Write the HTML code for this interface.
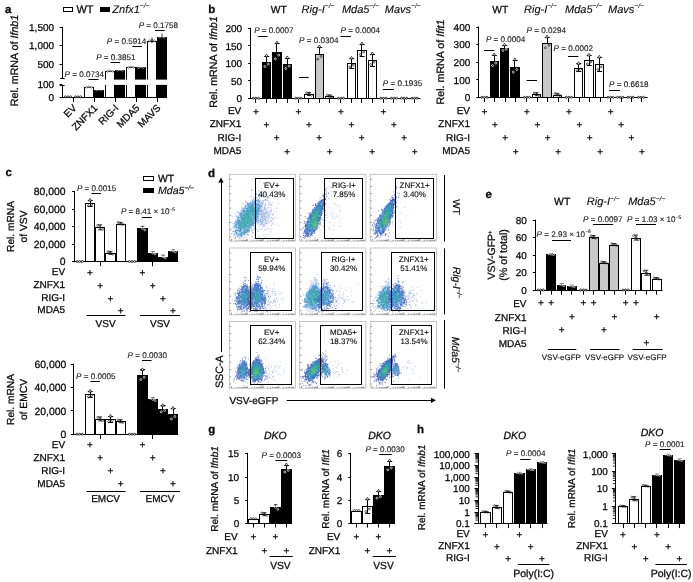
<!DOCTYPE html>
<html lang="en"><head><meta charset="utf-8"><title>Figure</title><style>html,body{margin:0;padding:0;background:#fff}svg{display:block}text{font-family:"Liberation Sans",sans-serif;text-rendering:geometricPrecision;stroke:#0a0a0a;stroke-width:0.27px}</style></head><body>
<svg width="693" height="582" viewBox="0 0 693 582" font-family="'Liberation Sans', sans-serif"><defs><filter id="bl" x="-50%" y="-50%" width="200%" height="200%"><feGaussianBlur stdDeviation="2"/></filter><filter id="bl2" x="-50%" y="-50%" width="200%" height="200%"><feGaussianBlur stdDeviation="0.9"/></filter></defs>
<text x="5.0" y="12.6" font-size="11.5" font-weight="bold" fill="#0a0a0a">a</text>
<rect x="63.5" y="7.5" width="9.0" height="4.0" fill="#fff" stroke="#000" stroke-width="1"/>
<text x="76.4" y="12.6" font-size="11" fill="#0a0a0a">WT</text>
<rect x="100.5" y="7.5" width="9.0" height="4.0" fill="#000" stroke="#000" stroke-width="1"/>
<text x="112.3" y="12.6" font-size="11" fill="#0a0a0a" style="stroke-width:0.12px"><tspan font-style="italic">Znfx1</tspan><tspan font-size="6.6" dy="-4.4" font-style="italic" style="stroke-width:0.1px">−/−</tspan></text>
<line x1="62.5" y1="26.9" x2="62.5" y2="78.2" stroke="#000" stroke-width="1"/>
<line x1="62.5" y1="85.0" x2="62.5" y2="97.5" stroke="#000" stroke-width="1"/>
<line x1="60.2" y1="78.5" x2="64.6" y2="78.5" stroke="#000" stroke-width="1"/>
<line x1="59.6" y1="85.5" x2="64.6" y2="85.5" stroke="#000" stroke-width="1"/>
<line x1="59.6" y1="27.5" x2="62.4" y2="27.5" stroke="#000" stroke-width="1"/>
<text x="54.1" y="31.0" font-size="10" text-anchor="end" fill="#0a0a0a">1,500</text>
<line x1="59.6" y1="45.5" x2="62.4" y2="45.5" stroke="#000" stroke-width="1"/>
<text x="54.1" y="49.0" font-size="10" text-anchor="end" fill="#0a0a0a">1,000</text>
<line x1="59.6" y1="64.5" x2="62.4" y2="64.5" stroke="#000" stroke-width="1"/>
<text x="54.1" y="67.8" font-size="10" text-anchor="end" fill="#0a0a0a">500</text>
<line x1="59.6" y1="84.5" x2="62.4" y2="84.5" stroke="#000" stroke-width="1"/>
<text x="54.1" y="88.2" font-size="10" text-anchor="end" fill="#0a0a0a">100</text>
<line x1="59.6" y1="97.5" x2="62.4" y2="97.5" stroke="#000" stroke-width="1"/>
<text x="54.1" y="100.6" font-size="10" text-anchor="end" fill="#0a0a0a">0</text>
<line x1="61.9" y1="97.5" x2="167.0" y2="97.5" stroke="#000" stroke-width="1"/>
<line x1="73.5" y1="97.0" x2="73.5" y2="102.0" stroke="#000" stroke-width="1"/>
<line x1="94.5" y1="97.0" x2="94.5" y2="102.0" stroke="#000" stroke-width="1"/>
<line x1="115.5" y1="97.0" x2="115.5" y2="102.0" stroke="#000" stroke-width="1"/>
<line x1="136.5" y1="97.0" x2="136.5" y2="102.0" stroke="#000" stroke-width="1"/>
<line x1="157.5" y1="97.0" x2="157.5" y2="102.0" stroke="#000" stroke-width="1"/>
<rect x="84.5" y="87.5" width="9.0" height="10.0" fill="#fff" stroke="#000" stroke-width="1.0"/>
<rect x="94.5" y="90.5" width="9.0" height="7.0" fill="#000" stroke="#000" stroke-width="1.0"/>
<rect x="105.5" y="71.5" width="9.0" height="26.0" fill="#fff" stroke="#000" stroke-width="1.0"/>
<rect x="115.5" y="70.5" width="9.0" height="27.0" fill="#000" stroke="#000" stroke-width="1.0"/>
<rect x="126.5" y="67.5" width="9.0" height="30.0" fill="#fff" stroke="#000" stroke-width="1.0"/>
<rect x="136.5" y="67.5" width="9.0" height="30.0" fill="#000" stroke="#000" stroke-width="1.0"/>
<rect x="147.5" y="41.5" width="9.0" height="56.0" fill="#fff" stroke="#000" stroke-width="1.0"/>
<rect x="157.5" y="37.5" width="9.0" height="60.0" fill="#000" stroke="#000" stroke-width="1.0"/>
<rect x="63.0" y="79.6" width="106.0" height="5.3" fill="#fff" stroke="none" stroke-width="0"/>
<circle cx="65.4" cy="96.8" r="1.0" fill="#fff" stroke="#000" stroke-width="0.75"/>
<circle cx="68.0" cy="96.8" r="1.0" fill="#fff" stroke="#000" stroke-width="0.75"/>
<circle cx="70.6" cy="96.8" r="1.0" fill="#fff" stroke="#000" stroke-width="0.75"/>
<circle cx="75.4" cy="96.8" r="1.0" fill="#fff" stroke="#000" stroke-width="0.75"/>
<circle cx="78.0" cy="96.8" r="1.0" fill="#fff" stroke="#000" stroke-width="0.75"/>
<circle cx="80.6" cy="96.8" r="1.0" fill="#fff" stroke="#000" stroke-width="0.75"/>
<circle cx="86.6" cy="87.3" r="0.9" fill="#fff" stroke="#222" stroke-width="0.5"/>
<circle cx="96.6" cy="89.8" r="0.9" fill="none" stroke="#fff" stroke-width="0.5"/>
<circle cx="89.0" cy="86.8" r="0.9" fill="#fff" stroke="#222" stroke-width="0.5"/>
<circle cx="99.0" cy="89.3" r="0.9" fill="none" stroke="#fff" stroke-width="0.5"/>
<circle cx="91.4" cy="87.3" r="0.9" fill="#fff" stroke="#222" stroke-width="0.5"/>
<circle cx="101.4" cy="89.8" r="0.9" fill="none" stroke="#fff" stroke-width="0.5"/>
<circle cx="107.6" cy="71.3" r="0.9" fill="#fff" stroke="#222" stroke-width="0.5"/>
<circle cx="117.6" cy="70.3" r="0.9" fill="none" stroke="#fff" stroke-width="0.5"/>
<circle cx="110.0" cy="70.8" r="0.9" fill="#fff" stroke="#222" stroke-width="0.5"/>
<circle cx="120.0" cy="69.8" r="0.9" fill="none" stroke="#fff" stroke-width="0.5"/>
<circle cx="112.4" cy="71.3" r="0.9" fill="#fff" stroke="#222" stroke-width="0.5"/>
<circle cx="122.4" cy="70.3" r="0.9" fill="none" stroke="#fff" stroke-width="0.5"/>
<circle cx="128.6" cy="67.3" r="0.9" fill="#fff" stroke="#222" stroke-width="0.5"/>
<circle cx="138.6" cy="67.6" r="0.9" fill="none" stroke="#fff" stroke-width="0.5"/>
<circle cx="131.0" cy="66.8" r="0.9" fill="#fff" stroke="#222" stroke-width="0.5"/>
<circle cx="141.0" cy="67.1" r="0.9" fill="none" stroke="#fff" stroke-width="0.5"/>
<circle cx="133.4" cy="67.3" r="0.9" fill="#fff" stroke="#222" stroke-width="0.5"/>
<circle cx="143.4" cy="67.6" r="0.9" fill="none" stroke="#fff" stroke-width="0.5"/>
<circle cx="149.6" cy="40.8" r="0.9" fill="#fff" stroke="#222" stroke-width="0.5"/>
<circle cx="159.6" cy="37.1" r="0.9" fill="none" stroke="#fff" stroke-width="0.5"/>
<circle cx="152.0" cy="40.3" r="0.9" fill="#fff" stroke="#222" stroke-width="0.5"/>
<circle cx="162.0" cy="36.6" r="0.9" fill="none" stroke="#fff" stroke-width="0.5"/>
<circle cx="154.4" cy="40.8" r="0.9" fill="#fff" stroke="#222" stroke-width="0.5"/>
<circle cx="164.4" cy="37.1" r="0.9" fill="none" stroke="#fff" stroke-width="0.5"/>
<line x1="152.0" y1="37.5" x2="152.0" y2="43.0" stroke="#000" stroke-width="0.8"/>
<line x1="162.0" y1="33.5" x2="162.0" y2="37.5" stroke="#000" stroke-width="0.8"/>
<text x="77.3" y="108.6" font-size="10" text-anchor="end" transform="rotate(-45 77.3 108.6)" fill="#0a0a0a">EV</text>
<text x="98.3" y="108.6" font-size="10" text-anchor="end" transform="rotate(-45 98.3 108.6)" fill="#0a0a0a">ZNFX1</text>
<text x="119.3" y="108.6" font-size="10" text-anchor="end" transform="rotate(-45 119.3 108.6)" fill="#0a0a0a">RIG-I</text>
<text x="140.3" y="108.6" font-size="10" text-anchor="end" transform="rotate(-45 140.3 108.6)" fill="#0a0a0a">MDA5</text>
<text x="161.3" y="108.6" font-size="10" text-anchor="end" transform="rotate(-45 161.3 108.6)" fill="#0a0a0a">MAVS</text>
<text x="64.6" y="77.0" font-size="8.1" fill="#1c1c1c" style="stroke-width:0.12px"><tspan font-style="italic">P</tspan> = 0.0734</text>
<line x1="88.4" y1="79.5" x2="98.5" y2="79.5" stroke="#000" stroke-width="1"/>
<text x="96.2" y="60.2" font-size="8.1" fill="#1c1c1c" style="stroke-width:0.12px"><tspan font-style="italic">P</tspan> = 0.3851</text>
<line x1="110.6" y1="62.5" x2="120.1" y2="62.5" stroke="#000" stroke-width="1"/>
<text x="106.8" y="43.6" font-size="8.1" fill="#1c1c1c" style="stroke-width:0.12px"><tspan font-style="italic">P</tspan> = 0.5914</text>
<line x1="132.4" y1="46.5" x2="142.0" y2="46.5" stroke="#000" stroke-width="1"/>
<text x="138.7" y="27.6" font-size="8.1" fill="#1c1c1c" style="stroke-width:0.12px"><tspan font-style="italic">P</tspan> = 0.1758</text>
<line x1="155.0" y1="30.5" x2="164.6" y2="30.5" stroke="#000" stroke-width="1"/>
<text x="18.1" y="60.5" font-size="10.7" text-anchor="middle" transform="rotate(-90 18.1 60.5)" fill="#0a0a0a">Rel. mRNA of <tspan font-style="italic">Ifnb1</tspan></text>
<text x="208.3" y="12.6" font-size="11.5" font-weight="bold" fill="#0a0a0a">b</text>
<line x1="250.5" y1="27.7" x2="250.5" y2="98.9" stroke="#000" stroke-width="1"/>
<line x1="248.1" y1="28.5" x2="250.6" y2="28.5" stroke="#000" stroke-width="1"/>
<text x="242.1" y="32.0" font-size="10" text-anchor="end" fill="#0a0a0a">200</text>
<line x1="248.1" y1="45.5" x2="250.6" y2="45.5" stroke="#000" stroke-width="1"/>
<text x="242.1" y="49.5" font-size="10" text-anchor="end" fill="#0a0a0a">150</text>
<line x1="248.1" y1="63.5" x2="250.6" y2="63.5" stroke="#000" stroke-width="1"/>
<text x="242.1" y="67.0" font-size="10" text-anchor="end" fill="#0a0a0a">100</text>
<line x1="248.1" y1="80.5" x2="250.6" y2="80.5" stroke="#000" stroke-width="1"/>
<text x="242.1" y="84.5" font-size="10" text-anchor="end" fill="#0a0a0a">50</text>
<line x1="248.1" y1="98.5" x2="250.6" y2="98.5" stroke="#000" stroke-width="1"/>
<text x="242.1" y="102.0" font-size="10" text-anchor="end" fill="#0a0a0a">0</text>
<line x1="250.1" y1="98.5" x2="420.5" y2="98.5" stroke="#000" stroke-width="1"/>
<line x1="255.5" y1="98.4" x2="255.5" y2="102.9" stroke="#000" stroke-width="1"/>
<line x1="266.5" y1="98.4" x2="266.5" y2="102.9" stroke="#000" stroke-width="1"/>
<line x1="276.5" y1="98.4" x2="276.5" y2="102.9" stroke="#000" stroke-width="1"/>
<line x1="287.5" y1="98.4" x2="287.5" y2="102.9" stroke="#000" stroke-width="1"/>
<line x1="298.5" y1="98.4" x2="298.5" y2="102.9" stroke="#000" stroke-width="1"/>
<line x1="308.5" y1="98.4" x2="308.5" y2="102.9" stroke="#000" stroke-width="1"/>
<line x1="319.5" y1="98.4" x2="319.5" y2="102.9" stroke="#000" stroke-width="1"/>
<line x1="329.5" y1="98.4" x2="329.5" y2="102.9" stroke="#000" stroke-width="1"/>
<line x1="340.5" y1="98.4" x2="340.5" y2="102.9" stroke="#000" stroke-width="1"/>
<line x1="351.5" y1="98.4" x2="351.5" y2="102.9" stroke="#000" stroke-width="1"/>
<line x1="361.5" y1="98.4" x2="361.5" y2="102.9" stroke="#000" stroke-width="1"/>
<line x1="372.5" y1="98.4" x2="372.5" y2="102.9" stroke="#000" stroke-width="1"/>
<line x1="383.5" y1="98.4" x2="383.5" y2="102.9" stroke="#000" stroke-width="1"/>
<line x1="393.5" y1="98.4" x2="393.5" y2="102.9" stroke="#000" stroke-width="1"/>
<line x1="404.5" y1="98.4" x2="404.5" y2="102.9" stroke="#000" stroke-width="1"/>
<line x1="414.5" y1="98.4" x2="414.5" y2="102.9" stroke="#000" stroke-width="1"/>
<circle cx="253.3" cy="98.2" r="1.0" fill="#fff" stroke="#000" stroke-width="0.75"/>
<circle cx="255.9" cy="98.2" r="1.0" fill="#fff" stroke="#000" stroke-width="0.75"/>
<circle cx="258.5" cy="98.2" r="1.0" fill="#fff" stroke="#000" stroke-width="0.75"/>
<rect x="262.5" y="62.5" width="8.0" height="36.0" fill="#000" stroke="#000" stroke-width="1.0"/>
<line x1="266.5" y1="56.0" x2="266.5" y2="62.0" stroke="#000" stroke-width="1"/>
<line x1="264.3" y1="56.5" x2="269.2" y2="56.5" stroke="#000" stroke-width="1"/>
<path d="M264.9 56.6l1.6 -2.6l1.6 2.6z" fill="#fff" stroke="#000" stroke-width="0.7"/>
<circle cx="264.9" cy="66.5" r="1.0" fill="none" stroke="#fff" stroke-width="0.7"/>
<circle cx="268.3" cy="64.1" r="1.0" fill="none" stroke="#fff" stroke-width="0.7"/>
<rect x="272.5" y="52.5" width="9.0" height="46.0" fill="#000" stroke="#000" stroke-width="1.0"/>
<line x1="276.5" y1="43.0" x2="276.5" y2="52.0" stroke="#000" stroke-width="1"/>
<line x1="274.7" y1="43.5" x2="279.6" y2="43.5" stroke="#000" stroke-width="1"/>
<path d="M275.3 43.6l1.6 -2.6l1.6 2.6z" fill="#fff" stroke="#000" stroke-width="0.7"/>
<circle cx="275.3" cy="58.8" r="1.0" fill="none" stroke="#fff" stroke-width="0.7"/>
<circle cx="278.7" cy="55.1" r="1.0" fill="none" stroke="#fff" stroke-width="0.7"/>
<rect x="283.5" y="64.5" width="8.0" height="34.0" fill="#000" stroke="#000" stroke-width="1.0"/>
<line x1="287.5" y1="58.0" x2="287.5" y2="64.0" stroke="#000" stroke-width="1"/>
<line x1="285.1" y1="58.5" x2="290.0" y2="58.5" stroke="#000" stroke-width="1"/>
<path d="M285.7 58.6l1.6 -2.6l1.6 2.6z" fill="#fff" stroke="#000" stroke-width="0.7"/>
<circle cx="285.7" cy="68.5" r="1.0" fill="none" stroke="#fff" stroke-width="0.7"/>
<circle cx="289.1" cy="66.1" r="1.0" fill="none" stroke="#fff" stroke-width="0.7"/>
<circle cx="295.8" cy="98.2" r="1.0" fill="#fff" stroke="#000" stroke-width="0.75"/>
<circle cx="298.4" cy="98.2" r="1.0" fill="#fff" stroke="#000" stroke-width="0.75"/>
<circle cx="301.0" cy="98.2" r="1.0" fill="#fff" stroke="#000" stroke-width="0.75"/>
<rect x="304.5" y="94.5" width="9.0" height="4.0" fill="#fff" stroke="#000" stroke-width="1.0"/>
<line x1="309.0" y1="92.5" x2="309.0" y2="95.5" stroke="#000" stroke-width="0.8"/>
<line x1="307.0" y1="92.5" x2="311.0" y2="92.5" stroke="#000" stroke-width="0.8"/>
<line x1="307.0" y1="95.5" x2="311.0" y2="95.5" stroke="#000" stroke-width="0.8"/>
<circle cx="306.6" cy="92.8" r="1.0" fill="none" stroke="#222" stroke-width="0.65"/>
<circle cx="309.0" cy="94.0" r="1.0" fill="none" stroke="#222" stroke-width="0.65"/>
<circle cx="311.4" cy="95.2" r="1.0" fill="none" stroke="#222" stroke-width="0.65"/>
<rect x="315.5" y="54.5" width="8.0" height="44.0" fill="#c8c8c8" stroke="#000" stroke-width="1.0"/>
<line x1="319.5" y1="47.0" x2="319.5" y2="54.0" stroke="#000" stroke-width="1"/>
<line x1="317.2" y1="47.5" x2="322.1" y2="47.5" stroke="#000" stroke-width="1"/>
<path d="M317.8 47.6l1.6 -2.6l1.6 2.6z" fill="#fff" stroke="#000" stroke-width="0.7"/>
<circle cx="317.8" cy="59.2" r="1.0" fill="none" stroke="#222" stroke-width="0.7"/>
<circle cx="321.2" cy="56.5" r="1.0" fill="none" stroke="#222" stroke-width="0.7"/>
<rect x="325.5" y="96.5" width="8.0" height="2.0" fill="#fff" stroke="#000" stroke-width="1.0"/>
<line x1="329.8" y1="95.0" x2="329.8" y2="97.0" stroke="#000" stroke-width="0.8"/>
<line x1="327.8" y1="95.0" x2="331.8" y2="95.0" stroke="#000" stroke-width="0.8"/>
<line x1="327.8" y1="97.0" x2="331.8" y2="97.0" stroke="#000" stroke-width="0.8"/>
<circle cx="327.4" cy="95.2" r="1.0" fill="none" stroke="#222" stroke-width="0.65"/>
<circle cx="329.8" cy="96.0" r="1.0" fill="none" stroke="#222" stroke-width="0.65"/>
<circle cx="332.2" cy="96.8" r="1.0" fill="none" stroke="#222" stroke-width="0.65"/>
<circle cx="338.3" cy="98.2" r="1.0" fill="#fff" stroke="#000" stroke-width="0.75"/>
<circle cx="340.9" cy="98.2" r="1.0" fill="#fff" stroke="#000" stroke-width="0.75"/>
<circle cx="343.5" cy="98.2" r="1.0" fill="#fff" stroke="#000" stroke-width="0.75"/>
<rect x="347.5" y="63.5" width="8.0" height="35.0" fill="#fff" stroke="#000" stroke-width="1.0"/>
<line x1="351.5" y1="58.3" x2="351.5" y2="68.3" stroke="#000" stroke-width="1"/>
<line x1="349.3" y1="58.5" x2="354.2" y2="58.5" stroke="#000" stroke-width="1"/>
<line x1="349.3" y1="68.5" x2="354.2" y2="68.5" stroke="#000" stroke-width="1"/>
<path d="M349.9 58.9l1.6 -2.6l1.6 2.6z" fill="#fff" stroke="#000" stroke-width="0.7"/>
<circle cx="349.9" cy="67.0" r="1.0" fill="none" stroke="#222" stroke-width="0.7"/>
<circle cx="353.3" cy="65.0" r="1.0" fill="none" stroke="#222" stroke-width="0.7"/>
<rect x="357.5" y="50.5" width="9.0" height="48.0" fill="#fff" stroke="#000" stroke-width="1.0"/>
<line x1="361.5" y1="44.0" x2="361.5" y2="56.0" stroke="#000" stroke-width="1"/>
<line x1="359.7" y1="44.5" x2="364.6" y2="44.5" stroke="#000" stroke-width="1"/>
<line x1="359.7" y1="56.5" x2="364.6" y2="56.5" stroke="#000" stroke-width="1"/>
<path d="M360.3 44.6l1.6 -2.6l1.6 2.6z" fill="#fff" stroke="#000" stroke-width="0.7"/>
<circle cx="360.3" cy="54.5" r="1.0" fill="none" stroke="#222" stroke-width="0.7"/>
<circle cx="363.7" cy="52.1" r="1.0" fill="none" stroke="#222" stroke-width="0.7"/>
<rect x="368.5" y="60.5" width="8.0" height="38.0" fill="#fff" stroke="#000" stroke-width="1.0"/>
<line x1="372.5" y1="54.0" x2="372.5" y2="66.0" stroke="#000" stroke-width="1"/>
<line x1="370.1" y1="54.5" x2="375.0" y2="54.5" stroke="#000" stroke-width="1"/>
<line x1="370.1" y1="66.5" x2="375.0" y2="66.5" stroke="#000" stroke-width="1"/>
<path d="M370.7 54.6l1.6 -2.6l1.6 2.6z" fill="#fff" stroke="#000" stroke-width="0.7"/>
<circle cx="370.7" cy="64.5" r="1.0" fill="none" stroke="#222" stroke-width="0.7"/>
<circle cx="374.1" cy="62.1" r="1.0" fill="none" stroke="#222" stroke-width="0.7"/>
<circle cx="380.8" cy="98.2" r="1.0" fill="#fff" stroke="#000" stroke-width="0.75"/>
<circle cx="383.4" cy="98.2" r="1.0" fill="#fff" stroke="#000" stroke-width="0.75"/>
<circle cx="386.0" cy="98.2" r="1.0" fill="#fff" stroke="#000" stroke-width="0.75"/>
<circle cx="391.2" cy="98.2" r="1.0" fill="#fff" stroke="#000" stroke-width="0.75"/>
<circle cx="393.8" cy="98.2" r="1.0" fill="#fff" stroke="#000" stroke-width="0.75"/>
<circle cx="396.4" cy="98.2" r="1.0" fill="#fff" stroke="#000" stroke-width="0.75"/>
<circle cx="401.6" cy="98.2" r="1.0" fill="#fff" stroke="#000" stroke-width="0.75"/>
<circle cx="404.2" cy="98.2" r="1.0" fill="#fff" stroke="#000" stroke-width="0.75"/>
<circle cx="406.8" cy="98.2" r="1.0" fill="#fff" stroke="#000" stroke-width="0.75"/>
<circle cx="412.0" cy="98.2" r="1.0" fill="#fff" stroke="#000" stroke-width="0.75"/>
<circle cx="414.6" cy="98.2" r="1.0" fill="#fff" stroke="#000" stroke-width="0.75"/>
<circle cx="417.2" cy="98.2" r="1.0" fill="#fff" stroke="#000" stroke-width="0.75"/>
<text x="241.3" y="114.1" font-size="10" text-anchor="end" fill="#0a0a0a">EV</text>
<text x="241.3" y="127.4" font-size="10" text-anchor="end" fill="#0a0a0a">ZNFX1</text>
<text x="241.3" y="140.6" font-size="10" text-anchor="end" fill="#0a0a0a">RIG-I</text>
<text x="241.3" y="153.8" font-size="10" text-anchor="end" fill="#0a0a0a">MDA5</text>
<text x="255.9" y="114.8" font-size="10" text-anchor="middle" fill="#0a0a0a">+</text>
<text x="266.3" y="128.1" font-size="10" text-anchor="middle" fill="#0a0a0a">+</text>
<text x="276.7" y="141.3" font-size="10" text-anchor="middle" fill="#0a0a0a">+</text>
<text x="287.1" y="154.5" font-size="10" text-anchor="middle" fill="#0a0a0a">+</text>
<text x="298.4" y="114.8" font-size="10" text-anchor="middle" fill="#0a0a0a">+</text>
<text x="308.8" y="128.1" font-size="10" text-anchor="middle" fill="#0a0a0a">+</text>
<text x="319.2" y="141.3" font-size="10" text-anchor="middle" fill="#0a0a0a">+</text>
<text x="329.6" y="154.5" font-size="10" text-anchor="middle" fill="#0a0a0a">+</text>
<text x="340.9" y="114.8" font-size="10" text-anchor="middle" fill="#0a0a0a">+</text>
<text x="351.3" y="128.1" font-size="10" text-anchor="middle" fill="#0a0a0a">+</text>
<text x="361.7" y="141.3" font-size="10" text-anchor="middle" fill="#0a0a0a">+</text>
<text x="372.1" y="154.5" font-size="10" text-anchor="middle" fill="#0a0a0a">+</text>
<text x="383.4" y="114.8" font-size="10" text-anchor="middle" fill="#0a0a0a">+</text>
<text x="393.8" y="128.1" font-size="10" text-anchor="middle" fill="#0a0a0a">+</text>
<text x="404.2" y="141.3" font-size="10" text-anchor="middle" fill="#0a0a0a">+</text>
<text x="414.6" y="154.5" font-size="10" text-anchor="middle" fill="#0a0a0a">+</text>
<text x="216.6" y="62.0" font-size="10.7" text-anchor="middle" transform="rotate(-90 216.6 62.0)" fill="#0a0a0a">Rel. mRNA of <tspan font-style="italic">Ifnb1</tspan></text>
<text x="270.7" y="12.6" font-size="10.3" fill="#0a0a0a">WT</text>
<text x="301.6" y="12.6" font-size="11" fill="#0a0a0a" style="stroke-width:0.12px"><tspan font-style="italic">Rig-I</tspan><tspan font-size="6.6" dy="-4.4" font-style="italic" style="stroke-width:0.1px">−/−</tspan></text>
<text x="341.9" y="12.6" font-size="11" fill="#0a0a0a" style="stroke-width:0.12px"><tspan font-style="italic">Mda5</tspan><tspan font-size="6.6" dy="-4.4" font-style="italic" style="stroke-width:0.1px">−/−</tspan></text>
<text x="384.8" y="12.6" font-size="11" fill="#0a0a0a" style="stroke-width:0.12px"><tspan font-style="italic">Mavs</tspan><tspan font-size="6.6" dy="-4.4" font-style="italic" style="stroke-width:0.1px">−/−</tspan></text>
<text x="254.2" y="32.9" font-size="8.1" fill="#1c1c1c" style="stroke-width:0.12px"><tspan font-style="italic">P</tspan> = 0.0007</text>
<line x1="258.2" y1="36.5" x2="267.5" y2="36.5" stroke="#000" stroke-width="1"/>
<text x="299.0" y="43.1" font-size="8.1" fill="#1c1c1c" style="stroke-width:0.12px"><tspan font-style="italic">P</tspan> = 0.0304</text>
<line x1="298.9" y1="77.5" x2="308.6" y2="77.5" stroke="#000" stroke-width="1"/>
<text x="340.6" y="32.9" font-size="8.1" fill="#1c1c1c" style="stroke-width:0.12px"><tspan font-style="italic">P</tspan> = 0.0004</text>
<line x1="340.6" y1="36.5" x2="351.0" y2="36.5" stroke="#000" stroke-width="1"/>
<text x="382.8" y="85.9" font-size="8.1" fill="#1c1c1c" style="stroke-width:0.12px"><tspan font-style="italic">P</tspan> = 0.1935</text>
<line x1="382.8" y1="89.5" x2="394.0" y2="89.5" stroke="#000" stroke-width="1"/>
<line x1="478.5" y1="26.5" x2="478.5" y2="98.0" stroke="#000" stroke-width="1"/>
<line x1="476.3" y1="27.5" x2="478.8" y2="27.5" stroke="#000" stroke-width="1"/>
<text x="470.3" y="30.6" font-size="10" text-anchor="end" fill="#0a0a0a">400</text>
<line x1="476.3" y1="44.5" x2="478.8" y2="44.5" stroke="#000" stroke-width="1"/>
<text x="470.3" y="48.2" font-size="10" text-anchor="end" fill="#0a0a0a">300</text>
<line x1="476.3" y1="62.5" x2="478.8" y2="62.5" stroke="#000" stroke-width="1"/>
<text x="470.3" y="65.8" font-size="10" text-anchor="end" fill="#0a0a0a">200</text>
<line x1="476.3" y1="79.5" x2="478.8" y2="79.5" stroke="#000" stroke-width="1"/>
<text x="470.3" y="83.5" font-size="10" text-anchor="end" fill="#0a0a0a">100</text>
<line x1="476.3" y1="97.5" x2="478.8" y2="97.5" stroke="#000" stroke-width="1"/>
<text x="470.3" y="101.1" font-size="10" text-anchor="end" fill="#0a0a0a">0</text>
<line x1="478.3" y1="97.5" x2="647.6" y2="97.5" stroke="#000" stroke-width="1"/>
<line x1="484.5" y1="97.5" x2="484.5" y2="102.0" stroke="#000" stroke-width="1"/>
<line x1="494.5" y1="97.5" x2="494.5" y2="102.0" stroke="#000" stroke-width="1"/>
<line x1="505.5" y1="97.5" x2="505.5" y2="102.0" stroke="#000" stroke-width="1"/>
<line x1="515.5" y1="97.5" x2="515.5" y2="102.0" stroke="#000" stroke-width="1"/>
<line x1="526.5" y1="97.5" x2="526.5" y2="102.0" stroke="#000" stroke-width="1"/>
<line x1="537.5" y1="97.5" x2="537.5" y2="102.0" stroke="#000" stroke-width="1"/>
<line x1="547.5" y1="97.5" x2="547.5" y2="102.0" stroke="#000" stroke-width="1"/>
<line x1="558.5" y1="97.5" x2="558.5" y2="102.0" stroke="#000" stroke-width="1"/>
<line x1="568.5" y1="97.5" x2="568.5" y2="102.0" stroke="#000" stroke-width="1"/>
<line x1="579.5" y1="97.5" x2="579.5" y2="102.0" stroke="#000" stroke-width="1"/>
<line x1="589.5" y1="97.5" x2="589.5" y2="102.0" stroke="#000" stroke-width="1"/>
<line x1="600.5" y1="97.5" x2="600.5" y2="102.0" stroke="#000" stroke-width="1"/>
<line x1="610.5" y1="97.5" x2="610.5" y2="102.0" stroke="#000" stroke-width="1"/>
<line x1="621.5" y1="97.5" x2="621.5" y2="102.0" stroke="#000" stroke-width="1"/>
<line x1="631.5" y1="97.5" x2="631.5" y2="102.0" stroke="#000" stroke-width="1"/>
<line x1="641.5" y1="97.5" x2="641.5" y2="102.0" stroke="#000" stroke-width="1"/>
<circle cx="481.8" cy="97.3" r="1.0" fill="#fff" stroke="#000" stroke-width="0.75"/>
<circle cx="484.4" cy="97.3" r="1.0" fill="#fff" stroke="#000" stroke-width="0.75"/>
<circle cx="487.0" cy="97.3" r="1.0" fill="#fff" stroke="#000" stroke-width="0.75"/>
<rect x="490.5" y="61.5" width="8.0" height="36.0" fill="#000" stroke="#000" stroke-width="1.0"/>
<line x1="494.5" y1="55.0" x2="494.5" y2="61.0" stroke="#000" stroke-width="1"/>
<line x1="491.9" y1="55.5" x2="496.8" y2="55.5" stroke="#000" stroke-width="1"/>
<path d="M492.5 55.6l1.6 -2.6l1.6 2.6z" fill="#fff" stroke="#000" stroke-width="0.7"/>
<circle cx="492.5" cy="65.5" r="1.0" fill="none" stroke="#fff" stroke-width="0.7"/>
<circle cx="495.9" cy="63.1" r="1.0" fill="none" stroke="#fff" stroke-width="0.7"/>
<rect x="500.5" y="48.5" width="8.0" height="49.0" fill="#000" stroke="#000" stroke-width="1.0"/>
<line x1="504.5" y1="45.2" x2="504.5" y2="48.2" stroke="#000" stroke-width="1"/>
<line x1="502.3" y1="45.5" x2="507.2" y2="45.5" stroke="#000" stroke-width="1"/>
<path d="M502.9 45.8l1.6 -2.6l1.6 2.6z" fill="#fff" stroke="#000" stroke-width="0.7"/>
<circle cx="502.9" cy="50.5" r="1.0" fill="none" stroke="#fff" stroke-width="0.7"/>
<circle cx="506.3" cy="49.2" r="1.0" fill="none" stroke="#fff" stroke-width="0.7"/>
<rect x="510.5" y="67.5" width="9.0" height="30.0" fill="#000" stroke="#000" stroke-width="1.0"/>
<line x1="514.5" y1="60.0" x2="514.5" y2="67.0" stroke="#000" stroke-width="1"/>
<line x1="512.7" y1="60.5" x2="517.6" y2="60.5" stroke="#000" stroke-width="1"/>
<path d="M513.3 60.6l1.6 -2.6l1.6 2.6z" fill="#fff" stroke="#000" stroke-width="0.7"/>
<circle cx="513.3" cy="72.2" r="1.0" fill="none" stroke="#fff" stroke-width="0.7"/>
<circle cx="516.7" cy="69.5" r="1.0" fill="none" stroke="#fff" stroke-width="0.7"/>
<circle cx="524.3" cy="97.3" r="1.0" fill="#fff" stroke="#000" stroke-width="0.75"/>
<circle cx="526.9" cy="97.3" r="1.0" fill="#fff" stroke="#000" stroke-width="0.75"/>
<circle cx="529.5" cy="97.3" r="1.0" fill="#fff" stroke="#000" stroke-width="0.75"/>
<rect x="532.5" y="94.5" width="8.0" height="3.0" fill="#fff" stroke="#000" stroke-width="1.0"/>
<line x1="536.6" y1="92.7" x2="536.6" y2="95.7" stroke="#000" stroke-width="0.8"/>
<line x1="534.6" y1="92.7" x2="538.6" y2="92.7" stroke="#000" stroke-width="0.8"/>
<line x1="534.6" y1="95.7" x2="538.6" y2="95.7" stroke="#000" stroke-width="0.8"/>
<circle cx="534.2" cy="93.0" r="1.0" fill="none" stroke="#222" stroke-width="0.65"/>
<circle cx="536.6" cy="94.2" r="1.0" fill="none" stroke="#222" stroke-width="0.65"/>
<circle cx="539.0" cy="95.4" r="1.0" fill="none" stroke="#222" stroke-width="0.65"/>
<rect x="542.5" y="43.5" width="9.0" height="54.0" fill="#c8c8c8" stroke="#000" stroke-width="1.0"/>
<line x1="547.5" y1="37.2" x2="547.5" y2="43.2" stroke="#000" stroke-width="1"/>
<line x1="544.8" y1="37.5" x2="549.7" y2="37.5" stroke="#000" stroke-width="1"/>
<path d="M545.4 37.8l1.6 -2.6l1.6 2.6z" fill="#fff" stroke="#000" stroke-width="0.7"/>
<circle cx="545.4" cy="47.7" r="1.0" fill="none" stroke="#222" stroke-width="0.7"/>
<circle cx="548.8" cy="45.3" r="1.0" fill="none" stroke="#222" stroke-width="0.7"/>
<rect x="553.5" y="95.5" width="8.0" height="2.0" fill="#fff" stroke="#000" stroke-width="1.0"/>
<line x1="557.4" y1="93.3" x2="557.4" y2="95.7" stroke="#000" stroke-width="0.8"/>
<line x1="555.4" y1="93.3" x2="559.4" y2="93.3" stroke="#000" stroke-width="0.8"/>
<line x1="555.4" y1="95.7" x2="559.4" y2="95.7" stroke="#000" stroke-width="0.8"/>
<circle cx="555.0" cy="93.5" r="1.0" fill="none" stroke="#222" stroke-width="0.65"/>
<circle cx="557.4" cy="94.5" r="1.0" fill="none" stroke="#222" stroke-width="0.65"/>
<circle cx="559.8" cy="95.5" r="1.0" fill="none" stroke="#222" stroke-width="0.65"/>
<circle cx="566.3" cy="97.3" r="1.0" fill="#fff" stroke="#000" stroke-width="0.75"/>
<circle cx="568.9" cy="97.3" r="1.0" fill="#fff" stroke="#000" stroke-width="0.75"/>
<circle cx="571.5" cy="97.3" r="1.0" fill="#fff" stroke="#000" stroke-width="0.75"/>
<rect x="574.5" y="68.5" width="8.0" height="29.0" fill="#fff" stroke="#000" stroke-width="1.0"/>
<line x1="578.5" y1="63.8" x2="578.5" y2="71.8" stroke="#000" stroke-width="1"/>
<line x1="576.4" y1="63.5" x2="581.3" y2="63.5" stroke="#000" stroke-width="1"/>
<line x1="576.4" y1="71.5" x2="581.3" y2="71.5" stroke="#000" stroke-width="1"/>
<path d="M577.0 64.4l1.6 -2.6l1.6 2.6z" fill="#fff" stroke="#000" stroke-width="0.7"/>
<circle cx="577.0" cy="70.8" r="1.0" fill="none" stroke="#222" stroke-width="0.7"/>
<circle cx="580.4" cy="69.2" r="1.0" fill="none" stroke="#222" stroke-width="0.7"/>
<rect x="584.5" y="60.5" width="9.0" height="37.0" fill="#fff" stroke="#000" stroke-width="1.0"/>
<line x1="589.5" y1="55.3" x2="589.5" y2="65.3" stroke="#000" stroke-width="1"/>
<line x1="586.8" y1="55.5" x2="591.7" y2="55.5" stroke="#000" stroke-width="1"/>
<line x1="586.8" y1="65.5" x2="591.7" y2="65.5" stroke="#000" stroke-width="1"/>
<path d="M587.4 55.9l1.6 -2.6l1.6 2.6z" fill="#fff" stroke="#000" stroke-width="0.7"/>
<circle cx="587.4" cy="64.0" r="1.0" fill="none" stroke="#222" stroke-width="0.7"/>
<circle cx="590.8" cy="62.0" r="1.0" fill="none" stroke="#222" stroke-width="0.7"/>
<rect x="595.5" y="64.5" width="8.0" height="33.0" fill="#fff" stroke="#000" stroke-width="1.0"/>
<line x1="599.5" y1="57.3" x2="599.5" y2="71.3" stroke="#000" stroke-width="1"/>
<line x1="597.2" y1="57.5" x2="602.1" y2="57.5" stroke="#000" stroke-width="1"/>
<line x1="597.2" y1="71.5" x2="602.1" y2="71.5" stroke="#000" stroke-width="1"/>
<path d="M597.8 57.9l1.6 -2.6l1.6 2.6z" fill="#fff" stroke="#000" stroke-width="0.7"/>
<circle cx="597.8" cy="69.5" r="1.0" fill="none" stroke="#222" stroke-width="0.7"/>
<circle cx="601.2" cy="66.8" r="1.0" fill="none" stroke="#222" stroke-width="0.7"/>
<circle cx="608.1" cy="97.3" r="1.0" fill="#fff" stroke="#000" stroke-width="0.75"/>
<circle cx="610.7" cy="97.3" r="1.0" fill="#fff" stroke="#000" stroke-width="0.75"/>
<circle cx="613.3" cy="97.3" r="1.0" fill="#fff" stroke="#000" stroke-width="0.75"/>
<circle cx="617.6" cy="97.3" r="1.0" fill="#fff" stroke="#000" stroke-width="0.75"/>
<circle cx="620.2" cy="97.3" r="1.0" fill="#fff" stroke="#000" stroke-width="0.75"/>
<circle cx="622.8" cy="97.3" r="1.0" fill="#fff" stroke="#000" stroke-width="0.75"/>
<circle cx="628.0" cy="97.3" r="1.0" fill="#fff" stroke="#000" stroke-width="0.75"/>
<circle cx="630.6" cy="97.3" r="1.0" fill="#fff" stroke="#000" stroke-width="0.75"/>
<circle cx="633.2" cy="97.3" r="1.0" fill="#fff" stroke="#000" stroke-width="0.75"/>
<circle cx="638.4" cy="97.3" r="1.0" fill="#fff" stroke="#000" stroke-width="0.75"/>
<circle cx="641.0" cy="97.3" r="1.0" fill="#fff" stroke="#000" stroke-width="0.75"/>
<circle cx="643.6" cy="97.3" r="1.0" fill="#fff" stroke="#000" stroke-width="0.75"/>
<text x="470.0" y="114.1" font-size="10" text-anchor="end" fill="#0a0a0a">EV</text>
<text x="470.0" y="127.4" font-size="10" text-anchor="end" fill="#0a0a0a">ZNFX1</text>
<text x="470.0" y="140.6" font-size="10" text-anchor="end" fill="#0a0a0a">RIG-I</text>
<text x="470.0" y="153.8" font-size="10" text-anchor="end" fill="#0a0a0a">MDA5</text>
<text x="484.4" y="114.8" font-size="10" text-anchor="middle" fill="#0a0a0a">+</text>
<text x="494.8" y="128.1" font-size="10" text-anchor="middle" fill="#0a0a0a">+</text>
<text x="505.2" y="141.3" font-size="10" text-anchor="middle" fill="#0a0a0a">+</text>
<text x="515.6" y="154.5" font-size="10" text-anchor="middle" fill="#0a0a0a">+</text>
<text x="526.9" y="114.8" font-size="10" text-anchor="middle" fill="#0a0a0a">+</text>
<text x="537.3" y="128.1" font-size="10" text-anchor="middle" fill="#0a0a0a">+</text>
<text x="547.7" y="141.3" font-size="10" text-anchor="middle" fill="#0a0a0a">+</text>
<text x="558.1" y="154.5" font-size="10" text-anchor="middle" fill="#0a0a0a">+</text>
<text x="568.9" y="114.8" font-size="10" text-anchor="middle" fill="#0a0a0a">+</text>
<text x="579.3" y="128.1" font-size="10" text-anchor="middle" fill="#0a0a0a">+</text>
<text x="589.7" y="141.3" font-size="10" text-anchor="middle" fill="#0a0a0a">+</text>
<text x="600.1" y="154.5" font-size="10" text-anchor="middle" fill="#0a0a0a">+</text>
<text x="610.7" y="114.8" font-size="10" text-anchor="middle" fill="#0a0a0a">+</text>
<text x="621.1" y="128.1" font-size="10" text-anchor="middle" fill="#0a0a0a">+</text>
<text x="631.5" y="141.3" font-size="10" text-anchor="middle" fill="#0a0a0a">+</text>
<text x="641.9" y="154.5" font-size="10" text-anchor="middle" fill="#0a0a0a">+</text>
<text x="443.6" y="62.0" font-size="10.7" text-anchor="middle" transform="rotate(-90 443.6 62.0)" fill="#0a0a0a">Rel. mRNA of <tspan font-style="italic">Ifit1</tspan></text>
<text x="492.2" y="12.6" font-size="10.3" fill="#0a0a0a">WT</text>
<text x="524.0" y="12.6" font-size="11" fill="#0a0a0a" style="stroke-width:0.12px"><tspan font-style="italic">Rig-I</tspan><tspan font-size="6.6" dy="-4.4" font-style="italic" style="stroke-width:0.1px">−/−</tspan></text>
<text x="565.0" y="12.6" font-size="11" fill="#0a0a0a" style="stroke-width:0.12px"><tspan font-style="italic">Mda5</tspan><tspan font-size="6.6" dy="-4.4" font-style="italic" style="stroke-width:0.1px">−/−</tspan></text>
<text x="608.0" y="12.6" font-size="11" fill="#0a0a0a" style="stroke-width:0.12px"><tspan font-style="italic">Mavs</tspan><tspan font-size="6.6" dy="-4.4" font-style="italic" style="stroke-width:0.1px">−/−</tspan></text>
<text x="485.9" y="41.9" font-size="8.1" fill="#1c1c1c" style="stroke-width:0.12px"><tspan font-style="italic">P</tspan> = 0.0004</text>
<line x1="484.0" y1="50.5" x2="494.5" y2="50.5" stroke="#000" stroke-width="1"/>
<text x="526.6" y="32.9" font-size="8.1" fill="#1c1c1c" style="stroke-width:0.12px"><tspan font-style="italic">P</tspan> = 0.0294</text>
<line x1="526.6" y1="80.5" x2="537.0" y2="80.5" stroke="#000" stroke-width="1"/>
<text x="553.5" y="50.6" font-size="8.1" fill="#1c1c1c" style="stroke-width:0.12px"><tspan font-style="italic">P</tspan> = 0.0002</text>
<line x1="568.0" y1="56.5" x2="578.5" y2="56.5" stroke="#000" stroke-width="1"/>
<text x="609.0" y="86.6" font-size="8.1" fill="#1c1c1c" style="stroke-width:0.12px"><tspan font-style="italic">P</tspan> = 0.6618</text>
<line x1="609.0" y1="90.5" x2="620.0" y2="90.5" stroke="#000" stroke-width="1"/>
<text x="5.5" y="176.4" font-size="11.5" font-weight="bold" fill="#0a0a0a">c</text>
<rect x="143.5" y="176.5" width="10.0" height="4.0" fill="#fff" stroke="#000" stroke-width="1"/>
<text x="158.0" y="181.7" font-size="10.4" fill="#0a0a0a">WT</text>
<rect x="143.5" y="188.5" width="10.0" height="4.0" fill="#000" stroke="#000" stroke-width="1"/>
<text x="158.0" y="193.8" font-size="10.6" fill="#0a0a0a" style="stroke-width:0.12px"><tspan font-style="italic">Mda5</tspan><tspan font-size="6.4" dy="-4.2" font-style="italic" style="stroke-width:0.1px">−/−</tspan></text>
<line x1="74.5" y1="190.9" x2="74.5" y2="262.2" stroke="#000" stroke-width="1"/>
<line x1="72.1" y1="191.5" x2="74.6" y2="191.5" stroke="#000" stroke-width="1"/>
<text x="65.6" y="195.1" font-size="10.4" text-anchor="end" fill="#0a0a0a">80,000</text>
<line x1="72.1" y1="209.5" x2="74.6" y2="209.5" stroke="#000" stroke-width="1"/>
<text x="65.6" y="212.8" font-size="10.4" text-anchor="end" fill="#0a0a0a">60,000</text>
<line x1="72.1" y1="226.5" x2="74.6" y2="226.5" stroke="#000" stroke-width="1"/>
<text x="65.6" y="230.3" font-size="10.4" text-anchor="end" fill="#0a0a0a">40,000</text>
<line x1="72.1" y1="244.5" x2="74.6" y2="244.5" stroke="#000" stroke-width="1"/>
<text x="65.6" y="247.9" font-size="10.4" text-anchor="end" fill="#0a0a0a">20,000</text>
<line x1="72.1" y1="261.5" x2="74.6" y2="261.5" stroke="#000" stroke-width="1"/>
<text x="65.6" y="265.4" font-size="10.4" text-anchor="end" fill="#0a0a0a">0</text>
<line x1="74.1" y1="261.5" x2="178.2" y2="261.5" stroke="#000" stroke-width="1"/>
<line x1="100.5" y1="261.7" x2="100.5" y2="266.2" stroke="#000" stroke-width="1"/>
<line x1="152.5" y1="261.7" x2="152.5" y2="266.2" stroke="#000" stroke-width="1"/>
<circle cx="77.0" cy="261.5" r="1.0" fill="#fff" stroke="#000" stroke-width="0.75"/>
<circle cx="79.6" cy="261.5" r="1.0" fill="#fff" stroke="#000" stroke-width="0.75"/>
<circle cx="82.2" cy="261.5" r="1.0" fill="#fff" stroke="#000" stroke-width="0.75"/>
<circle cx="129.4" cy="261.5" r="1.0" fill="#fff" stroke="#000" stroke-width="0.75"/>
<circle cx="132.0" cy="261.5" r="1.0" fill="#fff" stroke="#000" stroke-width="0.75"/>
<circle cx="134.6" cy="261.5" r="1.0" fill="#fff" stroke="#000" stroke-width="0.75"/>
<rect x="85.5" y="203.5" width="9.0" height="58.0" fill="#fff" stroke="#000" stroke-width="1.0"/>
<line x1="90.5" y1="200.4" x2="90.5" y2="206.4" stroke="#000" stroke-width="1"/>
<line x1="87.8" y1="200.5" x2="92.7" y2="200.5" stroke="#000" stroke-width="1"/>
<line x1="87.8" y1="206.5" x2="92.7" y2="206.5" stroke="#000" stroke-width="1"/>
<path d="M88.4 201.0l1.6 -2.6l1.6 2.6z" fill="#fff" stroke="#000" stroke-width="0.7"/>
<circle cx="88.4" cy="205.7" r="1.0" fill="none" stroke="#222" stroke-width="0.7"/>
<circle cx="91.8" cy="204.5" r="1.0" fill="none" stroke="#222" stroke-width="0.7"/>
<rect x="95.5" y="227.5" width="9.0" height="34.0" fill="#fff" stroke="#000" stroke-width="1.0"/>
<line x1="100.2" y1="224.8" x2="100.2" y2="229.8" stroke="#000" stroke-width="0.8"/>
<line x1="98.2" y1="224.8" x2="102.2" y2="224.8" stroke="#000" stroke-width="0.8"/>
<line x1="98.2" y1="229.8" x2="102.2" y2="229.8" stroke="#000" stroke-width="0.8"/>
<circle cx="97.8" cy="225.3" r="1.0" fill="none" stroke="#222" stroke-width="0.65"/>
<circle cx="100.2" cy="227.3" r="1.0" fill="none" stroke="#222" stroke-width="0.65"/>
<circle cx="102.6" cy="229.3" r="1.0" fill="none" stroke="#222" stroke-width="0.65"/>
<rect x="105.5" y="253.5" width="10.0" height="8.0" fill="#fff" stroke="#000" stroke-width="1.0"/>
<line x1="110.4" y1="251.4" x2="110.4" y2="254.4" stroke="#000" stroke-width="0.8"/>
<line x1="108.4" y1="251.4" x2="112.4" y2="251.4" stroke="#000" stroke-width="0.8"/>
<line x1="108.4" y1="254.4" x2="112.4" y2="254.4" stroke="#000" stroke-width="0.8"/>
<circle cx="108.0" cy="251.7" r="1.0" fill="none" stroke="#222" stroke-width="0.65"/>
<circle cx="110.4" cy="252.9" r="1.0" fill="none" stroke="#222" stroke-width="0.65"/>
<circle cx="112.8" cy="254.1" r="1.0" fill="none" stroke="#222" stroke-width="0.65"/>
<rect x="116.5" y="224.5" width="9.0" height="37.0" fill="#fff" stroke="#000" stroke-width="1.0"/>
<line x1="120.6" y1="222.3" x2="120.6" y2="224.7" stroke="#000" stroke-width="0.8"/>
<line x1="118.6" y1="222.3" x2="122.6" y2="222.3" stroke="#000" stroke-width="0.8"/>
<line x1="118.6" y1="224.7" x2="122.6" y2="224.7" stroke="#000" stroke-width="0.8"/>
<circle cx="118.2" cy="222.5" r="1.0" fill="none" stroke="#222" stroke-width="0.65"/>
<circle cx="120.6" cy="223.5" r="1.0" fill="none" stroke="#222" stroke-width="0.65"/>
<circle cx="123.0" cy="224.5" r="1.0" fill="none" stroke="#222" stroke-width="0.65"/>
<rect x="137.5" y="228.5" width="10.0" height="33.0" fill="#000" stroke="#000" stroke-width="1.0"/>
<line x1="142.4" y1="226.3" x2="142.4" y2="228.3" stroke="#000" stroke-width="0.8"/>
<line x1="140.4" y1="226.3" x2="144.4" y2="226.3" stroke="#000" stroke-width="0.8"/>
<circle cx="140.0" cy="226.7" r="1.0" fill="none" stroke="#fff" stroke-width="0.65"/>
<circle cx="142.4" cy="228.3" r="1.0" fill="none" stroke="#fff" stroke-width="0.65"/>
<circle cx="144.8" cy="229.9" r="1.0" fill="none" stroke="#fff" stroke-width="0.65"/>
<rect x="148.5" y="253.5" width="9.0" height="8.0" fill="#000" stroke="#000" stroke-width="1.0"/>
<line x1="152.6" y1="251.7" x2="152.6" y2="252.9" stroke="#000" stroke-width="0.8"/>
<line x1="150.6" y1="251.7" x2="154.6" y2="251.7" stroke="#000" stroke-width="0.8"/>
<circle cx="150.2" cy="251.9" r="1.0" fill="none" stroke="#fff" stroke-width="0.65"/>
<circle cx="152.6" cy="252.9" r="1.0" fill="none" stroke="#fff" stroke-width="0.65"/>
<circle cx="155.0" cy="253.9" r="1.0" fill="none" stroke="#fff" stroke-width="0.65"/>
<rect x="158.5" y="257.5" width="9.0" height="4.0" fill="#000" stroke="#000" stroke-width="1.0"/>
<line x1="162.8" y1="255.2" x2="162.8" y2="256.7" stroke="#000" stroke-width="0.8"/>
<line x1="160.8" y1="255.2" x2="164.8" y2="255.2" stroke="#000" stroke-width="0.8"/>
<circle cx="160.4" cy="255.5" r="1.0" fill="none" stroke="#fff" stroke-width="0.65"/>
<circle cx="162.8" cy="256.7" r="1.0" fill="none" stroke="#fff" stroke-width="0.65"/>
<circle cx="165.2" cy="257.9" r="1.0" fill="none" stroke="#fff" stroke-width="0.65"/>
<rect x="168.5" y="251.5" width="9.0" height="10.0" fill="#000" stroke="#000" stroke-width="1.0"/>
<line x1="173.0" y1="249.9" x2="173.0" y2="250.9" stroke="#000" stroke-width="0.8"/>
<line x1="171.0" y1="249.9" x2="175.0" y2="249.9" stroke="#000" stroke-width="0.8"/>
<circle cx="170.6" cy="250.1" r="1.0" fill="none" stroke="#fff" stroke-width="0.65"/>
<circle cx="173.0" cy="250.9" r="1.0" fill="none" stroke="#fff" stroke-width="0.65"/>
<circle cx="175.4" cy="251.7" r="1.0" fill="none" stroke="#fff" stroke-width="0.65"/>
<text x="65.1" y="275.4" font-size="10" text-anchor="end" fill="#0a0a0a">EV</text>
<text x="65.1" y="288.2" font-size="10" text-anchor="end" fill="#0a0a0a">ZNFX1</text>
<text x="65.1" y="300.8" font-size="10" text-anchor="end" fill="#0a0a0a">RIG-I</text>
<text x="65.1" y="313.2" font-size="10" text-anchor="end" fill="#0a0a0a">MDA5</text>
<text x="90.0" y="276.1" font-size="10" text-anchor="middle" fill="#0a0a0a">+</text>
<text x="142.4" y="276.1" font-size="10" text-anchor="middle" fill="#0a0a0a">+</text>
<text x="100.2" y="288.9" font-size="10" text-anchor="middle" fill="#0a0a0a">+</text>
<text x="152.6" y="288.9" font-size="10" text-anchor="middle" fill="#0a0a0a">+</text>
<text x="110.4" y="301.5" font-size="10" text-anchor="middle" fill="#0a0a0a">+</text>
<text x="162.8" y="301.5" font-size="10" text-anchor="middle" fill="#0a0a0a">+</text>
<text x="120.6" y="313.9" font-size="10" text-anchor="middle" fill="#0a0a0a">+</text>
<text x="173.0" y="313.9" font-size="10" text-anchor="middle" fill="#0a0a0a">+</text>
<line x1="86.5" y1="315.5" x2="125.6" y2="315.5" stroke="#000" stroke-width="1"/>
<line x1="140.0" y1="315.5" x2="180.0" y2="315.5" stroke="#000" stroke-width="1"/>
<text x="105.6" y="327.0" font-size="10.0" text-anchor="middle" fill="#0a0a0a">VSV</text>
<text x="160.0" y="327.0" font-size="10.0" text-anchor="middle" fill="#0a0a0a">VSV</text>
<text x="13.7" y="226.5" font-size="10.2" text-anchor="middle" transform="rotate(-90 13.7 226.5)" fill="#0a0a0a">Rel. mRNA</text>
<text x="27.0" y="226.5" font-size="10.3" text-anchor="middle" transform="rotate(-90 27.0 226.5)" fill="#0a0a0a">of VSV</text>
<text x="76.9" y="190.9" font-size="8.1" fill="#1c1c1c" style="stroke-width:0.12px"><tspan font-style="italic">P</tspan> = 0.0015</text>
<line x1="91.5" y1="193.5" x2="101.0" y2="193.5" stroke="#000" stroke-width="1"/>
<text x="120.9" y="214.4" font-size="8.1" fill="#1c1c1c" style="stroke-width:0.12px"><tspan font-style="italic">P</tspan> = 8.41 × 10<tspan font-size="4.9" dy="-3.6">−5</tspan></text>
<line x1="141.8" y1="217.5" x2="151.8" y2="217.5" stroke="#000" stroke-width="1"/>
<line x1="73.5" y1="363.6" x2="73.5" y2="434.9" stroke="#000" stroke-width="1"/>
<line x1="70.8" y1="364.5" x2="73.3" y2="364.5" stroke="#000" stroke-width="1"/>
<text x="66.3" y="367.8" font-size="10.4" text-anchor="end" fill="#0a0a0a">60,000</text>
<line x1="70.8" y1="387.5" x2="73.3" y2="387.5" stroke="#000" stroke-width="1"/>
<text x="66.3" y="391.1" font-size="10.4" text-anchor="end" fill="#0a0a0a">40,000</text>
<line x1="70.8" y1="410.5" x2="73.3" y2="410.5" stroke="#000" stroke-width="1"/>
<text x="66.3" y="414.5" font-size="10.4" text-anchor="end" fill="#0a0a0a">20,000</text>
<line x1="70.8" y1="434.5" x2="73.3" y2="434.5" stroke="#000" stroke-width="1"/>
<text x="66.3" y="438.1" font-size="10.4" text-anchor="end" fill="#0a0a0a">0</text>
<line x1="72.8" y1="434.5" x2="178.2" y2="434.5" stroke="#000" stroke-width="1"/>
<line x1="100.5" y1="434.4" x2="100.5" y2="438.9" stroke="#000" stroke-width="1"/>
<line x1="152.5" y1="434.4" x2="152.5" y2="438.9" stroke="#000" stroke-width="1"/>
<circle cx="77.0" cy="434.2" r="1.0" fill="#fff" stroke="#000" stroke-width="0.75"/>
<circle cx="79.6" cy="434.2" r="1.0" fill="#fff" stroke="#000" stroke-width="0.75"/>
<circle cx="82.2" cy="434.2" r="1.0" fill="#fff" stroke="#000" stroke-width="0.75"/>
<circle cx="129.4" cy="434.2" r="1.0" fill="#fff" stroke="#000" stroke-width="0.75"/>
<circle cx="132.0" cy="434.2" r="1.0" fill="#fff" stroke="#000" stroke-width="0.75"/>
<circle cx="134.6" cy="434.2" r="1.0" fill="#fff" stroke="#000" stroke-width="0.75"/>
<rect x="85.5" y="394.5" width="9.0" height="40.0" fill="#fff" stroke="#000" stroke-width="1.0"/>
<line x1="90.5" y1="391.3" x2="90.5" y2="397.3" stroke="#000" stroke-width="1"/>
<line x1="87.8" y1="391.5" x2="92.7" y2="391.5" stroke="#000" stroke-width="1"/>
<line x1="87.8" y1="397.5" x2="92.7" y2="397.5" stroke="#000" stroke-width="1"/>
<path d="M88.4 391.9l1.6 -2.6l1.6 2.6z" fill="#fff" stroke="#000" stroke-width="0.7"/>
<circle cx="88.4" cy="396.6" r="1.0" fill="none" stroke="#222" stroke-width="0.7"/>
<circle cx="91.8" cy="395.4" r="1.0" fill="none" stroke="#222" stroke-width="0.7"/>
<rect x="95.5" y="419.5" width="9.0" height="15.0" fill="#fff" stroke="#000" stroke-width="1.0"/>
<line x1="100.2" y1="416.9" x2="100.2" y2="420.9" stroke="#000" stroke-width="0.8"/>
<line x1="98.2" y1="416.9" x2="102.2" y2="416.9" stroke="#000" stroke-width="0.8"/>
<line x1="98.2" y1="420.9" x2="102.2" y2="420.9" stroke="#000" stroke-width="0.8"/>
<circle cx="97.8" cy="417.3" r="1.0" fill="none" stroke="#222" stroke-width="0.65"/>
<circle cx="100.2" cy="418.9" r="1.0" fill="none" stroke="#222" stroke-width="0.65"/>
<circle cx="102.6" cy="420.5" r="1.0" fill="none" stroke="#222" stroke-width="0.65"/>
<rect x="105.5" y="419.5" width="10.0" height="15.0" fill="#fff" stroke="#000" stroke-width="1.0"/>
<line x1="110.5" y1="416.4" x2="110.5" y2="422.4" stroke="#000" stroke-width="1"/>
<line x1="108.2" y1="416.5" x2="113.1" y2="416.5" stroke="#000" stroke-width="1"/>
<line x1="108.2" y1="422.5" x2="113.1" y2="422.5" stroke="#000" stroke-width="1"/>
<path d="M108.8 417.0l1.6 -2.6l1.6 2.6z" fill="#fff" stroke="#000" stroke-width="0.7"/>
<circle cx="108.8" cy="421.6" r="1.0" fill="none" stroke="#222" stroke-width="0.7"/>
<circle cx="112.2" cy="420.4" r="1.0" fill="none" stroke="#222" stroke-width="0.7"/>
<rect x="116.5" y="421.5" width="9.0" height="13.0" fill="#fff" stroke="#000" stroke-width="1.0"/>
<line x1="120.6" y1="419.7" x2="120.6" y2="422.7" stroke="#000" stroke-width="0.8"/>
<line x1="118.6" y1="419.7" x2="122.6" y2="419.7" stroke="#000" stroke-width="0.8"/>
<line x1="118.6" y1="422.7" x2="122.6" y2="422.7" stroke="#000" stroke-width="0.8"/>
<circle cx="118.2" cy="420.0" r="1.0" fill="none" stroke="#222" stroke-width="0.65"/>
<circle cx="120.6" cy="421.2" r="1.0" fill="none" stroke="#222" stroke-width="0.65"/>
<circle cx="123.0" cy="422.4" r="1.0" fill="none" stroke="#222" stroke-width="0.65"/>
<rect x="137.5" y="375.5" width="10.0" height="59.0" fill="#000" stroke="#000" stroke-width="1.0"/>
<line x1="142.5" y1="369.9" x2="142.5" y2="375.4" stroke="#000" stroke-width="1"/>
<line x1="140.2" y1="369.5" x2="145.1" y2="369.5" stroke="#000" stroke-width="1"/>
<path d="M140.8 370.5l1.6 -2.6l1.6 2.6z" fill="#fff" stroke="#000" stroke-width="0.7"/>
<circle cx="140.8" cy="379.5" r="1.0" fill="none" stroke="#fff" stroke-width="0.7"/>
<circle cx="144.2" cy="377.3" r="1.0" fill="none" stroke="#fff" stroke-width="0.7"/>
<rect x="148.5" y="399.5" width="9.0" height="35.0" fill="#000" stroke="#000" stroke-width="1.0"/>
<line x1="152.6" y1="397.8" x2="152.6" y2="399.3" stroke="#000" stroke-width="0.8"/>
<line x1="150.6" y1="397.8" x2="154.6" y2="397.8" stroke="#000" stroke-width="0.8"/>
<circle cx="150.2" cy="398.1" r="1.0" fill="none" stroke="#fff" stroke-width="0.65"/>
<circle cx="152.6" cy="399.3" r="1.0" fill="none" stroke="#fff" stroke-width="0.65"/>
<circle cx="155.0" cy="400.5" r="1.0" fill="none" stroke="#fff" stroke-width="0.65"/>
<rect x="158.5" y="409.5" width="9.0" height="25.0" fill="#000" stroke="#000" stroke-width="1.0"/>
<line x1="162.5" y1="405.8" x2="162.5" y2="409.3" stroke="#000" stroke-width="1"/>
<line x1="160.6" y1="405.5" x2="165.5" y2="405.5" stroke="#000" stroke-width="1"/>
<path d="M161.2 406.4l1.6 -2.6l1.6 2.6z" fill="#fff" stroke="#000" stroke-width="0.7"/>
<circle cx="161.2" cy="411.9" r="1.0" fill="none" stroke="#fff" stroke-width="0.7"/>
<circle cx="164.6" cy="410.5" r="1.0" fill="none" stroke="#fff" stroke-width="0.7"/>
<rect x="168.5" y="414.5" width="9.0" height="20.0" fill="#000" stroke="#000" stroke-width="1.0"/>
<line x1="173.5" y1="408.4" x2="173.5" y2="414.4" stroke="#000" stroke-width="1"/>
<line x1="170.8" y1="408.5" x2="175.7" y2="408.5" stroke="#000" stroke-width="1"/>
<path d="M171.4 409.0l1.6 -2.6l1.6 2.6z" fill="#fff" stroke="#000" stroke-width="0.7"/>
<circle cx="171.4" cy="418.9" r="1.0" fill="none" stroke="#fff" stroke-width="0.7"/>
<circle cx="174.8" cy="416.5" r="1.0" fill="none" stroke="#fff" stroke-width="0.7"/>
<text x="65.1" y="448.2" font-size="10" text-anchor="end" fill="#0a0a0a">EV</text>
<text x="65.1" y="461.3" font-size="10" text-anchor="end" fill="#0a0a0a">ZNFX1</text>
<text x="65.1" y="474.2" font-size="10" text-anchor="end" fill="#0a0a0a">RIG-I</text>
<text x="65.1" y="487.4" font-size="10" text-anchor="end" fill="#0a0a0a">MDA5</text>
<text x="90.0" y="448.0" font-size="10" text-anchor="middle" fill="#0a0a0a">+</text>
<text x="142.4" y="448.0" font-size="10" text-anchor="middle" fill="#0a0a0a">+</text>
<text x="100.2" y="461.1" font-size="10" text-anchor="middle" fill="#0a0a0a">+</text>
<text x="152.6" y="461.1" font-size="10" text-anchor="middle" fill="#0a0a0a">+</text>
<text x="110.4" y="474.0" font-size="10" text-anchor="middle" fill="#0a0a0a">+</text>
<text x="162.8" y="474.0" font-size="10" text-anchor="middle" fill="#0a0a0a">+</text>
<text x="120.6" y="487.2" font-size="10" text-anchor="middle" fill="#0a0a0a">+</text>
<text x="173.0" y="487.2" font-size="10" text-anchor="middle" fill="#0a0a0a">+</text>
<line x1="86.5" y1="491.5" x2="125.6" y2="491.5" stroke="#000" stroke-width="1"/>
<line x1="140.0" y1="491.5" x2="180.0" y2="491.5" stroke="#000" stroke-width="1"/>
<text x="105.6" y="502.2" font-size="10.0" text-anchor="middle" fill="#0a0a0a">EMCV</text>
<text x="160.0" y="502.2" font-size="10.0" text-anchor="middle" fill="#0a0a0a">EMCV</text>
<text x="13.7" y="399.5" font-size="10.2" text-anchor="middle" transform="rotate(-90 13.7 399.5)" fill="#0a0a0a">Rel. mRNA</text>
<text x="27.0" y="399.5" font-size="10.3" text-anchor="middle" transform="rotate(-90 27.0 399.5)" fill="#0a0a0a">of EMCV</text>
<text x="76.1" y="379.1" font-size="8.1" fill="#1c1c1c" style="stroke-width:0.12px"><tspan font-style="italic">P</tspan> = 0.0005</text>
<line x1="90.5" y1="381.5" x2="100.0" y2="381.5" stroke="#000" stroke-width="1"/>
<text x="127.6" y="358.2" font-size="8.1" fill="#1c1c1c" style="stroke-width:0.12px"><tspan font-style="italic">P</tspan> = 0.0030</text>
<line x1="142.0" y1="360.5" x2="151.5" y2="360.5" stroke="#000" stroke-width="1"/>
<text x="208.0" y="176.5" font-size="11.5" font-weight="bold" fill="#0a0a0a">d</text>
<line x1="221.5" y1="352.0" x2="221.5" y2="180.0" stroke="#000" stroke-width="1"/>
<path d="M221 177.5 l-2.6 5 h5.2z" fill="#000"/>
<text x="223.1" y="371.7" font-size="10.7" text-anchor="middle" transform="rotate(-90 223.1 371.7)" fill="#0a0a0a">SSC-A</text>
<text x="229.4" y="403.9" font-size="10" fill="#0a0a0a">VSV-eGFP</text>
<line x1="286.7" y1="400.5" x2="432.0" y2="400.5" stroke="#000" stroke-width="1"/>
<path d="M436 400.3 l-5 -2.6 v5.2z" fill="#000"/>
<line x1="444.5" y1="175.0" x2="444.5" y2="241.5" stroke="#000" stroke-width="1"/>
<line x1="444.5" y1="248.4" x2="444.5" y2="314.4" stroke="#000" stroke-width="1"/>
<line x1="444.5" y1="320.0" x2="444.5" y2="388.7" stroke="#000" stroke-width="1"/>
<text x="452.8" y="207.0" font-size="10" text-anchor="middle" transform="rotate(90 452.8 207.0)" fill="#0a0a0a" style="stroke-width:0.15px">WT</text>
<text x="453.2" y="282.5" font-size="10.5" text-anchor="middle" transform="rotate(90 453.2 282.5)" fill="#0a0a0a" style="stroke-width:0.15px"><tspan font-style="italic">Rig-I</tspan><tspan font-size="6.5" dy="-4" font-style="italic">−/−</tspan></text>
<text x="452.2" y="354.5" font-size="10.5" text-anchor="middle" transform="rotate(90 452.2 354.5)" fill="#0a0a0a" style="stroke-width:0.15px"><tspan font-style="italic">Mda5</tspan><tspan font-size="6.5" dy="-4" font-style="italic">−/−</tspan></text>
<rect x="229.4" y="174.3" width="66.2" height="66.8" fill="#fff" stroke="#b8b8b8" stroke-width="0.8"/>
<path d="M231.4 240.8v-1.8M236.2 240.8v-1.0M238.9 240.8v-1.0M240.9 240.8v-1.0M242.4 240.8v-1.0M243.7 240.8v-1.0M244.8 240.8v-1.0M245.7 240.8v-1.0M246.5 240.8v-1.0M247.2 240.8v-1.8M252.0 240.8v-1.0M254.7 240.8v-1.0M256.7 240.8v-1.0M258.2 240.8v-1.0M259.5 240.8v-1.0M260.6 240.8v-1.0M261.5 240.8v-1.0M262.3 240.8v-1.0M263.0 240.8v-1.8M267.8 240.8v-1.0M270.5 240.8v-1.0M272.5 240.8v-1.0M274.0 240.8v-1.0M275.3 240.8v-1.0M276.4 240.8v-1.0M277.3 240.8v-1.0M278.1 240.8v-1.0M278.8 240.8v-1.8M283.6 240.8v-1.0M286.3 240.8v-1.0M288.3 240.8v-1.0M289.8 240.8v-1.0M291.1 240.8v-1.0M292.2 240.8v-1.0M293.1 240.8v-1.0M293.9 240.8v-1.0M229.7 179.3h1.4M229.7 186.5h1.4M229.7 193.7h1.4M229.7 200.9h1.4M229.7 208.1h1.4M229.7 215.3h1.4M229.7 222.5h1.4M229.7 229.7h1.4M229.7 236.9h1.4" stroke="#444" stroke-width="0.6" fill="none"/>
<ellipse cx="247.3" cy="218.0" rx="12.9" ry="5.4" transform="rotate(-59 247.3 218.0)" fill="#3fa3b8" opacity="0.38" filter="url(#bl)"/>
<path d="M260.5 219.4h0.7M260.6 211.5h0.7M256.4 212.5h0.7M268.7 218.5h0.7M268.2 216.9h0.7M264.4 216.3h0.7M252.0 222.6h0.7M265.0 219.2h0.7M251.9 197.9h0.7M256.7 210.1h0.7M263.8 214.1h0.7M265.1 208.4h0.7M263.9 218.2h0.7M258.0 230.8h0.7M265.3 225.9h0.7M258.3 207.5h0.7M259.9 213.5h0.7M265.8 216.9h0.7M259.3 205.4h0.7M258.9 226.1h0.7M257.2 216.8h0.7M264.6 200.3h0.7M262.3 226.9h0.7M249.9 211.4h0.7M261.4 206.7h0.7M265.0 213.9h0.7M253.2 222.4h0.7M266.0 223.5h0.7M270.6 217.9h0.7M262.7 202.2h0.7M265.7 208.7h0.7M259.3 202.5h0.7M256.2 209.5h0.7M269.7 195.2h0.7M253.3 216.8h0.7M270.7 220.0h0.7M250.6 190.6h0.7M264.1 207.5h0.7M255.3 223.8h0.7M268.6 216.0h0.7M263.5 218.6h0.7M271.6 220.4h0.7M265.1 219.7h0.7M252.6 226.7h0.7M267.7 219.5h0.7M250.2 208.5h0.7M267.1 197.3h0.7M260.9 224.2h0.7M254.1 229.8h0.7M265.3 213.1h0.7M263.9 220.7h0.7M262.7 225.4h0.7M258.0 210.6h0.7M268.3 214.8h0.7M256.7 223.5h0.7M270.8 210.3h0.7M253.7 213.2h0.7M261.1 211.7h0.7M270.4 204.7h0.7M269.6 202.5h0.7M257.3 220.5h0.7M268.8 222.7h0.7M264.1 215.9h0.7M262.9 220.0h0.7M260.9 217.1h0.7M265.4 214.5h0.7M266.6 219.9h0.7M274.1 217.6h0.7M259.4 211.0h0.7M261.9 223.3h0.7M260.0 218.2h0.7M273.0 190.1h0.7M255.3 216.8h0.7M264.4 216.8h0.7M259.4 220.7h0.7M263.7 209.5h0.7M276.6 217.9h0.7M258.7 213.6h0.7M260.6 213.9h0.7M245.6 209.9h0.7M268.1 203.4h0.7M261.6 223.6h0.7M267.1 228.7h0.7M251.8 211.1h0.7M260.0 220.4h0.7M268.6 189.0h0.7M268.5 200.7h0.7M266.1 200.3h0.7M263.1 225.8h0.7M261.1 216.3h0.7M266.8 215.8h0.7M261.5 229.1h0.7M268.3 211.7h0.7M278.5 203.6h0.7M267.5 212.0h0.7M262.8 221.2h0.7M263.3 220.6h0.7M252.8 200.2h0.7M265.7 205.3h0.7M255.8 200.5h0.7M269.6 221.6h0.7M270.8 205.6h0.7M262.0 203.7h0.7M266.6 229.6h0.7M256.7 229.3h0.7M267.9 212.8h0.7M250.2 227.9h0.7M261.4 208.8h0.7M264.4 218.4h0.7M271.0 204.8h0.7M268.8 228.6h0.7M270.7 212.8h0.7M257.5 224.2h0.7M262.7 215.7h0.7M270.5 212.0h0.7M248.2 210.8h0.7M250.9 222.3h0.7M263.9 208.7h0.7M261.9 222.4h0.7M262.5 227.1h0.7M261.6 224.4h0.7M270.9 229.8h0.7M258.0 222.9h0.7M250.7 204.2h0.7M250.2 224.7h0.7M254.6 214.4h0.7M260.8 214.2h0.7M258.5 216.7h0.7M272.7 214.9h0.7M265.2 224.0h0.7M260.8 202.5h0.7M258.7 224.7h0.7M252.1 208.8h0.7M268.0 222.0h0.7M262.0 222.1h0.7M263.0 203.3h0.7M252.6 208.4h0.7M267.5 209.1h0.7M256.6 207.2h0.7M252.8 213.4h0.7M254.9 218.0h0.7M247.8 217.6h0.7M258.2 196.0h0.7M266.3 211.9h0.7M248.6 206.2h0.7M263.7 210.1h0.7M266.7 221.6h0.7M266.0 217.6h0.7M270.0 220.8h0.7M264.7 194.7h0.7M267.4 226.9h0.7M260.2 210.0h0.7M273.6 197.8h0.7M264.8 237.5h0.7M256.4 221.1h0.7M273.3 213.4h0.7M265.4 223.1h0.7M256.6 213.7h0.7M263.8 222.3h0.7M261.8 212.6h0.7M255.9 211.1h0.7M267.4 215.5h0.7M256.9 206.5h0.7M278.0 225.3h0.7M265.8 189.9h0.7M265.7 219.1h0.7M272.1 218.6h0.7M261.6 219.5h0.7M250.3 224.3h0.7M263.9 207.8h0.7M270.0 231.7h0.7M253.6 208.2h0.7M263.7 216.2h0.7M259.6 205.2h0.7M274.7 224.4h0.7M254.8 201.7h0.7M272.2 223.9h0.7M272.9 222.2h0.7M256.8 217.0h0.7M249.0 207.4h0.7M261.6 219.5h0.7M257.6 213.3h0.7M264.8 218.1h0.7M265.8 216.5h0.7M260.1 222.0h0.7M262.3 206.7h0.7M258.2 214.5h0.7M261.3 216.0h0.7M262.0 216.2h0.7M261.2 202.5h0.7M264.5 224.5h0.7M264.6 212.7h0.7M264.7 205.3h0.7M250.6 215.1h0.7M256.4 221.5h0.7M255.5 189.5h0.7M255.8 229.5h0.7M259.7 201.5h0.7M257.4 219.4h0.7M265.0 216.2h0.7M270.9 221.2h0.7M261.9 220.2h0.7M271.9 223.7h0.7M268.1 204.2h0.7M261.1 221.4h0.7M260.2 224.7h0.7M265.6 223.1h0.7M269.4 212.5h0.7M259.9 222.8h0.7M267.9 214.6h0.7M255.0 216.3h0.7M264.2 225.2h0.7M266.7 214.7h0.7M267.1 219.6h0.7M263.2 215.0h0.7M260.5 221.0h0.7M255.7 208.5h0.7M262.0 200.6h0.7M259.4 195.4h0.7M257.9 219.9h0.7M265.4 214.0h0.7M260.6 201.0h0.7M273.0 219.4h0.7M268.6 206.1h0.7M260.9 197.2h0.7M266.7 223.4h0.7M250.6 214.0h0.7M265.8 197.8h0.7M251.0 204.4h0.7M258.2 201.2h0.7M262.2 216.9h0.7M265.8 221.2h0.7M271.0 225.6h0.7M254.1 209.7h0.7M255.6 204.3h0.7M261.5 214.6h0.7M264.9 199.4h0.7M254.6 214.3h0.7M260.8 211.5h0.7M261.6 207.3h0.7M266.2 217.9h0.7M261.5 208.1h0.7M261.0 188.6h0.7M256.1 214.9h0.7M253.0 216.4h0.7M262.9 201.4h0.7M260.5 211.5h0.7M264.8 220.3h0.7M261.8 206.4h0.7M261.1 213.9h0.7M266.4 217.3h0.7M257.7 201.6h0.7M259.8 207.5h0.7M255.3 213.4h0.7M259.1 215.5h0.7M265.1 210.6h0.7M275.9 211.4h0.7M268.6 215.7h0.7M268.7 191.9h0.7M257.5 216.8h0.7M265.6 236.7h0.7M263.9 226.7h0.7M266.6 223.5h0.7M265.1 213.0h0.7M265.1 204.3h0.7M269.1 204.8h0.7M263.5 234.6h0.7M260.7 214.7h0.7M269.0 214.7h0.7M257.2 217.0h0.7M265.5 221.2h0.7M257.4 231.1h0.7M272.0 214.7h0.7M263.6 210.4h0.7M270.5 207.8h0.7M266.0 209.9h0.7M257.8 221.3h0.7M270.0 214.4h0.7M257.9 222.2h0.7M261.7 217.5h0.7M271.1 225.3h0.7M258.9 236.2h0.7M262.0 222.0h0.7M258.1 214.1h0.7M251.5 231.5h0.7M270.2 203.0h0.7M253.0 199.1h0.7M269.1 210.1h0.7M261.6 211.5h0.7M261.3 204.2h0.7M262.1 200.8h0.7M261.6 217.4h0.7M264.8 212.3h0.7M256.6 216.0h0.7M259.1 229.4h0.7M266.6 213.4h0.7M259.2 207.8h0.7M256.4 211.1h0.7M263.8 219.4h0.7M265.4 234.4h0.7M257.8 214.6h0.7M278.8 196.8h0.7M258.9 216.1h0.7M262.9 218.4h0.7M260.6 218.0h0.7M262.3 221.8h0.7M250.6 206.1h0.7M262.0 204.7h0.7M255.7 220.5h0.7M258.1 220.5h0.7M266.5 217.4h0.7M265.0 213.5h0.7M253.5 214.2h0.7M264.7 209.5h0.7M261.4 221.6h0.7M256.7 220.6h0.7M273.2 209.2h0.7M262.9 213.1h0.7M271.2 217.5h0.7M267.4 207.9h0.7M261.9 214.4h0.7M251.3 228.2h0.7M267.4 197.9h0.7M266.5 213.3h0.7M264.7 218.0h0.7M253.0 212.5h0.7M271.0 209.0h0.7M255.9 201.6h0.7M254.7 217.7h0.7M272.2 218.6h0.7M263.5 235.7h0.7M258.9 208.1h0.7M265.2 219.7h0.7M255.9 203.4h0.7M263.7 216.9h0.7M254.2 212.6h0.7M258.7 218.9h0.7M261.3 213.7h0.7M259.9 224.5h0.7M270.3 211.0h0.7M267.1 207.3h0.7M262.4 221.6h0.7M271.1 210.9h0.7M261.6 216.4h0.7M253.0 214.7h0.7M257.9 218.0h0.7M255.2 195.7h0.7M262.2 217.0h0.7M258.7 222.9h0.7M260.4 208.7h0.7M264.9 199.6h0.7M257.9 214.3h0.7M267.1 213.0h0.7M263.9 208.3h0.7M263.8 230.3h0.7M257.9 237.0h0.7M258.1 214.7h0.7M263.0 224.2h0.7M254.6 194.5h0.7M265.6 222.1h0.7M263.2 216.9h0.7M267.6 218.0h0.7M272.0 202.7h0.7M259.7 181.8h0.7M266.9 211.0h0.7M267.5 235.0h0.7M262.0 212.1h0.7M259.0 206.5h0.7M258.2 220.6h0.7M262.2 215.1h0.7M261.0 223.2h0.7M265.0 213.2h0.7M266.0 213.1h0.7M255.1 228.3h0.7M264.8 205.4h0.7M268.5 217.8h0.7M252.6 229.8h0.7M264.0 223.0h0.7M263.2 213.1h0.7M252.7 223.7h0.7M262.2 211.8h0.7M264.1 215.2h0.7M266.1 211.0h0.7M261.8 194.2h0.7M259.5 220.9h0.7M270.0 211.0h0.7M261.3 229.5h0.7M260.0 221.5h0.7M272.1 214.9h0.7M269.4 207.8h0.7M263.2 213.8h0.7M262.7 225.2h0.7M276.3 208.2h0.7M258.5 219.2h0.7M255.7 219.2h0.7M265.4 211.9h0.7M265.2 199.8h0.7M266.6 199.8h0.7M257.8 209.2h0.7M259.6 222.7h0.7M262.5 210.7h0.7M265.3 229.5h0.7M262.0 218.0h0.7M269.4 217.0h0.7M254.3 238.2h0.7M275.3 195.6h0.7M261.8 218.5h0.7M267.8 220.9h0.7M260.4 204.5h0.7M262.6 224.3h0.7M255.5 204.7h0.7M261.9 196.1h0.7M260.4 210.4h0.7M264.7 207.8h0.7M256.7 210.8h0.7M261.7 208.2h0.7M262.1 221.6h0.7" stroke="#7f9ade" stroke-width="0.7" fill="none"/>
<path d="M256.2 220.4h0.8M260.4 205.9h0.8M245.2 205.6h0.8M263.4 213.9h0.8M260.0 206.5h0.8M252.3 233.1h0.8M251.3 189.8h0.8M260.7 196.4h0.8M236.8 236.6h0.8M237.3 236.6h0.8M247.6 203.4h0.8M236.2 215.9h0.8M234.9 232.0h0.8M255.4 220.7h0.8M238.8 215.4h0.8M238.3 215.4h0.8M258.1 194.9h0.8M241.4 206.9h0.8M247.3 231.7h0.8M262.7 210.1h0.8M258.5 213.1h0.8M231.6 233.6h0.8M257.8 214.0h0.8M247.4 205.3h0.8M248.5 230.4h0.8M237.8 217.8h0.8M256.8 218.6h0.8M236.5 212.8h0.8M257.4 222.0h0.8M240.8 235.5h0.8M245.1 206.2h0.8M260.0 206.6h0.8M235.2 225.7h0.8M259.5 206.4h0.8M258.4 199.9h0.8M236.9 236.3h0.8M243.2 238.4h0.8M255.4 225.3h0.8M244.7 237.2h0.8M240.6 236.0h0.8M235.8 218.8h0.8M263.6 213.8h0.8M241.2 235.9h0.8M236.3 216.4h0.8M258.2 214.7h0.8M258.9 212.2h0.8M233.4 226.3h0.8M255.7 219.4h0.8M241.7 210.4h0.8M245.2 207.6h0.8M254.8 198.1h0.8M245.8 203.0h0.8M242.9 209.7h0.8M248.9 230.7h0.8M233.6 234.2h0.8M234.3 226.2h0.8M236.3 216.3h0.8M260.9 214.7h0.8M259.1 201.9h0.8M260.3 207.4h0.8M237.8 236.8h0.8M259.2 205.2h0.8M244.5 234.6h0.8M266.2 194.8h0.8M248.7 230.1h0.8M246.3 205.3h0.8M244.4 207.9h0.8M233.3 231.3h0.8M234.6 231.4h0.8M248.0 203.6h0.8M247.6 231.9h0.8M234.3 233.4h0.8M237.5 212.1h0.8M244.3 208.0h0.8M231.1 234.1h0.8M270.6 186.6h0.8M259.0 197.4h0.8M255.6 200.9h0.8M259.6 203.4h0.8M235.1 222.6h0.8M256.7 219.2h0.8M246.8 205.3h0.8M260.0 202.2h0.8M237.7 211.2h0.8M262.8 196.5h0.8M255.4 197.5h0.8M254.7 198.5h0.8M253.9 225.5h0.8M268.1 181.8h0.8M247.3 202.9h0.8M261.4 196.3h0.8M249.6 229.4h0.8M251.0 196.4h0.8M264.3 192.4h0.8M232.1 231.9h0.8M234.9 231.0h0.8M245.5 202.0h0.8M241.3 237.6h0.8M245.0 207.1h0.8M254.8 222.4h0.8M233.6 235.0h0.8M247.2 234.4h0.8M260.1 220.2h0.8M236.5 234.1h0.8M241.7 208.7h0.8M242.2 208.7h0.8M263.4 201.3h0.8M247.4 203.5h0.8M237.2 236.5h0.8M234.7 235.3h0.8M251.7 236.5h0.8M241.9 235.5h0.8M258.6 211.9h0.8M263.2 196.9h0.8M251.2 230.6h0.8M246.8 204.8h0.8M259.6 213.5h0.8M248.8 203.7h0.8M239.1 213.5h0.8M264.6 200.2h0.8M234.9 226.4h0.8M252.1 229.7h0.8M240.6 211.3h0.8M257.1 200.9h0.8M231.8 216.6h0.8M234.7 224.4h0.8M241.2 210.3h0.8M258.7 213.0h0.8M239.8 214.6h0.8M258.8 214.6h0.8M251.9 202.0h0.8M249.1 203.2h0.8M233.8 227.9h0.8M248.1 234.4h0.8M260.4 213.6h0.8M261.6 205.7h0.8M263.5 211.1h0.8M237.9 216.6h0.8M239.2 238.0h0.8M261.3 209.1h0.8M235.8 220.4h0.8M234.8 238.5h0.8M260.2 211.2h0.8M259.6 200.9h0.8M240.5 210.3h0.8M252.7 226.1h0.8M235.7 221.2h0.8M241.3 212.5h0.8M235.1 224.6h0.8M234.7 214.0h0.8M233.0 236.8h0.8M256.8 218.1h0.8M259.1 210.4h0.8M239.2 236.9h0.8M255.7 194.0h0.8M260.6 210.8h0.8M248.6 235.3h0.8M256.8 200.3h0.8M255.8 220.7h0.8M258.1 196.5h0.8M250.0 202.1h0.8M247.3 204.7h0.8M236.6 234.7h0.8M251.2 202.4h0.8M259.0 208.8h0.8M243.7 208.9h0.8M255.9 221.8h0.8M232.6 227.1h0.8M241.5 236.2h0.8M251.8 201.8h0.8M235.3 236.5h0.8M260.6 203.5h0.8M259.4 205.7h0.8M249.5 203.6h0.8M253.3 225.2h0.8M237.0 217.9h0.8M242.2 236.0h0.8M241.7 202.9h0.8M235.4 234.8h0.8M247.5 231.4h0.8M251.8 199.9h0.8M234.5 233.4h0.8M238.0 235.7h0.8M262.1 203.3h0.8M256.6 221.8h0.8M266.2 182.5h0.8M240.1 213.4h0.8M245.8 201.8h0.8M243.1 234.4h0.8M233.6 224.9h0.8M232.8 231.0h0.8M260.4 206.5h0.8M234.6 223.6h0.8M262.5 212.1h0.8M235.4 222.8h0.8M236.8 235.6h0.8M238.5 212.5h0.8M264.4 206.0h0.8M233.9 238.1h0.8M260.6 191.5h0.8M251.9 232.8h0.8M258.7 211.5h0.8M234.0 226.5h0.8M232.5 223.5h0.8M235.3 237.7h0.8M253.8 225.9h0.8M258.6 211.4h0.8M239.5 214.4h0.8M252.9 224.6h0.8M243.8 208.0h0.8M251.8 190.0h0.8M249.1 230.8h0.8M239.5 213.7h0.8M238.1 216.6h0.8M252.0 200.7h0.8M243.3 209.0h0.8M244.5 206.3h0.8M257.0 222.6h0.8M260.9 223.3h0.8M244.0 234.9h0.8M266.8 198.4h0.8M234.4 225.8h0.8M241.8 208.0h0.8M259.4 206.7h0.8M251.0 227.8h0.8M241.3 235.4h0.8M240.8 212.2h0.8M239.8 213.1h0.8M257.5 220.7h0.8M243.4 209.1h0.8M260.8 205.7h0.8M260.2 204.9h0.8M253.4 228.7h0.8M267.6 198.0h0.8M234.0 223.6h0.8M255.8 219.2h0.8M250.8 195.9h0.8M267.5 201.1h0.8M260.1 220.5h0.8M265.2 203.3h0.8M255.5 200.5h0.8M242.0 235.3h0.8M247.8 203.8h0.8M256.0 200.1h0.8M262.6 201.0h0.8M255.7 220.4h0.8M255.9 200.3h0.8M257.8 216.2h0.8M259.5 210.7h0.8M236.8 218.2h0.8M257.1 217.2h0.8M256.0 219.7h0.8M255.4 197.2h0.8M256.2 194.5h0.8M259.6 208.9h0.8M240.1 213.6h0.8M252.1 201.4h0.8M245.3 204.8h0.8M258.0 201.1h0.8M255.4 200.1h0.8M247.8 203.5h0.8M240.4 213.0h0.8M253.5 199.9h0.8M248.6 232.0h0.8M247.4 203.2h0.8M248.2 231.4h0.8M256.5 218.3h0.8M259.1 200.8h0.8M242.7 204.1h0.8M231.4 228.2h0.8M233.0 231.5h0.8M245.4 206.5h0.8M255.8 219.2h0.8M257.4 216.8h0.8M246.5 232.6h0.8M252.9 197.5h0.8M260.8 210.2h0.8M259.4 198.5h0.8M259.5 210.4h0.8M248.0 203.9h0.8M262.5 205.1h0.8M246.2 237.2h0.8M255.1 200.1h0.8M244.6 233.9h0.8M249.7 203.3h0.8M246.5 233.3h0.8M260.3 221.8h0.8M256.0 197.6h0.8M243.9 208.2h0.8M258.4 200.0h0.8M234.0 228.1h0.8M235.7 220.5h0.8M254.8 227.4h0.8M253.8 200.9h0.8M255.7 194.1h0.8M259.2 208.3h0.8M261.4 203.4h0.8M253.1 200.1h0.8M245.1 201.1h0.8M235.3 221.7h0.8M257.8 199.9h0.8M248.5 230.7h0.8M234.3 222.8h0.8M259.2 207.0h0.8M260.5 195.0h0.8M237.3 217.4h0.8M247.1 234.9h0.8M234.5 230.1h0.8M252.9 225.2h0.8M238.2 235.1h0.8M244.0 207.8h0.8M247.8 204.5h0.8M254.3 228.2h0.8M258.7 216.5h0.8M253.1 224.2h0.8M244.3 235.0h0.8M253.8 223.3h0.8M249.3 231.8h0.8M255.8 220.5h0.8M239.7 237.7h0.8M257.1 198.7h0.8M258.2 190.8h0.8M254.9 196.3h0.8M240.1 236.9h0.8M259.0 210.6h0.8M261.9 215.4h0.8M238.9 213.8h0.8M260.4 218.9h0.8M240.5 213.4h0.8M258.3 199.9h0.8M247.0 203.0h0.8M257.4 217.7h0.8M240.7 235.8h0.8M258.8 200.2h0.8M234.3 234.2h0.8M253.4 232.8h0.8M255.3 221.0h0.8M256.0 221.7h0.8M257.3 200.4h0.8M241.8 210.5h0.8M250.1 203.1h0.8M245.9 233.9h0.8M235.9 222.3h0.8M254.9 230.9h0.8M259.5 196.6h0.8M235.1 231.3h0.8M233.5 228.1h0.8M233.5 221.5h0.8M263.2 183.2h0.8" stroke="#6aa0dd" stroke-width="0.8" fill="none"/>
<path d="M249.8 205.9h0.8M252.0 221.9h0.8M236.3 227.6h0.8M244.4 211.4h0.8M256.8 216.5h0.8M255.5 214.1h0.8M237.0 230.5h0.8M246.0 208.3h0.8M237.2 230.3h0.8M243.1 231.5h0.8M256.5 204.6h0.8M255.1 215.4h0.8M257.1 204.9h0.8M255.7 207.6h0.8M255.6 203.6h0.8M246.7 229.8h0.8M255.0 215.2h0.8M239.6 229.8h0.8M237.3 227.9h0.8M238.8 224.1h0.8M257.7 208.0h0.8M243.5 233.8h0.8M256.4 203.7h0.8M247.3 229.7h0.8M254.0 201.3h0.8M238.3 225.4h0.8M238.4 217.4h0.8M252.1 222.6h0.8M236.9 222.3h0.8M247.0 208.7h0.8M249.9 226.3h0.8M238.5 219.2h0.8M251.3 225.1h0.8M247.8 207.7h0.8M254.4 218.5h0.8M255.7 218.3h0.8M257.6 209.1h0.8M243.3 210.6h0.8M246.9 230.0h0.8M241.4 230.9h0.8M235.9 224.3h0.8M240.6 215.0h0.8M241.4 234.2h0.8M243.5 210.3h0.8M248.0 205.8h0.8M240.7 233.3h0.8M242.8 210.9h0.8M244.5 233.3h0.8M256.8 209.2h0.8M236.1 232.5h0.8M254.3 218.7h0.8M253.6 218.1h0.8M238.1 228.4h0.8M250.4 224.7h0.8M249.8 224.5h0.8M236.5 224.7h0.8M253.5 221.8h0.8M257.9 213.3h0.8M243.2 211.7h0.8M252.3 222.7h0.8M255.5 212.6h0.8M239.8 230.7h0.8M236.4 230.3h0.8M240.0 231.4h0.8M240.8 230.7h0.8M251.4 222.7h0.8M243.7 210.6h0.8M243.5 210.8h0.8M236.6 226.1h0.8M235.8 228.3h0.8M246.0 231.0h0.8M235.4 231.4h0.8M242.1 232.8h0.8M245.0 230.6h0.8M257.7 208.4h0.8M257.6 202.4h0.8M242.2 211.7h0.8M258.5 206.3h0.8M240.0 234.1h0.8M256.3 207.2h0.8M237.1 223.8h0.8M235.3 231.1h0.8M235.9 227.4h0.8M239.6 235.0h0.8M240.3 231.7h0.8M244.4 229.9h0.8M257.6 208.8h0.8M252.6 205.7h0.8M243.1 210.6h0.8M255.5 211.7h0.8M247.9 227.4h0.8M238.0 224.4h0.8M256.7 212.2h0.8M254.9 214.7h0.8M246.6 209.3h0.8M242.0 212.0h0.8M251.6 223.2h0.8M235.4 227.3h0.8M255.3 217.2h0.8M246.0 230.0h0.8M258.6 209.0h0.8M239.4 230.1h0.8M237.4 226.7h0.8M258.0 204.0h0.8M240.3 230.1h0.8M253.9 201.6h0.8M250.4 203.0h0.8M252.3 203.9h0.8M251.9 222.9h0.8M237.5 223.2h0.8M245.3 230.4h0.8M238.8 228.0h0.8M255.9 207.8h0.8M240.8 235.0h0.8M238.1 221.1h0.8M241.3 213.1h0.8M243.0 210.7h0.8M242.5 213.3h0.8M253.8 204.4h0.8M256.4 212.4h0.8M255.4 204.4h0.8M237.3 232.9h0.8M246.8 229.3h0.8M254.1 202.4h0.8M237.7 228.9h0.8M256.7 209.9h0.8M245.7 208.1h0.8M250.5 224.0h0.8M247.1 229.6h0.8M257.3 204.7h0.8M237.8 221.7h0.8M239.6 230.9h0.8M238.4 222.9h0.8M243.5 231.8h0.8M246.0 208.8h0.8M250.9 205.2h0.8M250.2 205.6h0.8M238.3 224.7h0.8M253.1 204.7h0.8M244.4 233.2h0.8M247.1 231.2h0.8M253.8 219.4h0.8M258.4 210.0h0.8M250.7 205.2h0.8M253.3 221.2h0.8M239.4 221.8h0.8M246.7 228.1h0.8M258.6 209.4h0.8M247.2 230.1h0.8M236.4 223.0h0.8M238.5 217.7h0.8M249.8 226.9h0.8M247.0 208.3h0.8M251.8 225.7h0.8M248.0 206.9h0.8M253.2 202.4h0.8M258.2 204.4h0.8M253.6 223.3h0.8M254.8 203.2h0.8M258.3 210.5h0.8M242.2 213.7h0.8M238.0 221.8h0.8M255.7 210.7h0.8M254.9 216.2h0.8M252.2 203.6h0.8M256.1 215.6h0.8M246.2 229.2h0.8M236.9 229.5h0.8M251.6 203.2h0.8M239.5 231.0h0.8M250.3 225.4h0.8M241.9 234.6h0.8M239.0 221.7h0.8M238.2 223.0h0.8M256.5 215.7h0.8M258.0 207.0h0.8M256.3 209.3h0.8M240.0 231.1h0.8M239.8 217.6h0.8M255.9 204.7h0.8M250.8 226.8h0.8M250.2 205.0h0.8M251.8 204.4h0.8M241.7 212.9h0.8M253.4 222.3h0.8M251.4 225.7h0.8M244.4 232.4h0.8M249.2 205.9h0.8M257.0 205.3h0.8M257.6 211.7h0.8M251.2 222.7h0.8M238.2 227.9h0.8M236.6 224.8h0.8M240.8 216.7h0.8M248.7 207.7h0.8M252.9 223.8h0.8M241.1 214.4h0.8M252.0 205.0h0.8M237.7 227.1h0.8M248.5 228.2h0.8M250.3 227.8h0.8M254.5 206.7h0.8M246.4 231.8h0.8M239.5 230.9h0.8M257.7 214.3h0.8M248.8 226.5h0.8M241.8 213.5h0.8M241.0 232.7h0.8M257.2 213.7h0.8M243.9 230.7h0.8M257.0 202.8h0.8M237.7 229.9h0.8M248.9 225.6h0.8M238.2 223.1h0.8M245.3 232.4h0.8M239.6 228.9h0.8M249.2 228.2h0.8M254.2 219.1h0.8M240.9 217.1h0.8M238.4 230.7h0.8M245.0 211.1h0.8M240.7 233.9h0.8M246.1 231.9h0.8M243.5 232.4h0.8M245.8 231.8h0.8M243.6 233.4h0.8M239.0 220.5h0.8M258.7 208.7h0.8M258.0 204.8h0.8M256.2 207.0h0.8M238.5 226.7h0.8M248.2 226.9h0.8M238.6 231.4h0.8M248.3 204.7h0.8M243.8 230.9h0.8M251.8 205.1h0.8M238.7 221.0h0.8M253.7 219.9h0.8M239.4 234.9h0.8M248.6 206.5h0.8M257.6 204.9h0.8M256.5 207.5h0.8M257.8 208.0h0.8M239.9 230.6h0.8M244.2 211.6h0.8M244.9 229.6h0.8M253.8 220.0h0.8M258.2 205.0h0.8M235.7 226.6h0.8M244.2 229.6h0.8M254.5 221.6h0.8M239.7 230.8h0.8M259.0 206.4h0.8M240.7 214.6h0.8M246.5 206.8h0.8M242.0 232.5h0.8M249.4 204.0h0.8M253.4 205.2h0.8M244.4 232.7h0.8M236.8 220.8h0.8M251.0 225.4h0.8M252.7 224.0h0.8M250.6 204.6h0.8M256.5 209.4h0.8M245.7 229.9h0.8M236.3 230.8h0.8M258.0 203.2h0.8M251.7 224.5h0.8M255.3 203.0h0.8M245.2 231.8h0.8M237.7 219.9h0.8M256.0 213.8h0.8M247.6 231.0h0.8M242.9 211.8h0.8M236.4 230.6h0.8M250.9 224.5h0.8M246.2 209.1h0.8M256.4 207.7h0.8M243.1 233.1h0.8M244.1 233.5h0.8M247.9 230.2h0.8M248.9 207.2h0.8M243.9 231.7h0.8M237.7 234.0h0.8M249.7 204.8h0.8M238.1 218.6h0.8M241.9 231.3h0.8M254.5 219.2h0.8M248.4 227.4h0.8M235.9 233.1h0.8M235.6 229.4h0.8M238.7 231.2h0.8M240.4 233.9h0.8M247.8 227.5h0.8M241.5 216.0h0.8M256.5 216.6h0.8M252.0 222.5h0.8M248.8 204.5h0.8M243.8 213.2h0.8M238.5 227.9h0.8M254.1 202.2h0.8M241.4 216.3h0.8M239.4 234.9h0.8M249.9 206.5h0.8M249.0 227.6h0.8M238.1 223.6h0.8M257.0 209.2h0.8M235.7 225.2h0.8M258.8 204.7h0.8M254.4 220.9h0.8M239.5 233.8h0.8M251.3 204.7h0.8M240.7 215.1h0.8M256.7 215.5h0.8M246.0 210.2h0.8M244.4 210.3h0.8M256.2 207.0h0.8M256.1 211.1h0.8M254.1 205.0h0.8M259.0 206.5h0.8M238.9 219.5h0.8M252.1 203.4h0.8M252.4 202.0h0.8M257.6 203.4h0.8M238.4 222.7h0.8M251.0 206.5h0.8M253.4 223.1h0.8M240.6 214.5h0.8M254.6 203.1h0.8M237.8 222.6h0.8M255.8 210.9h0.8M252.4 224.1h0.8M243.2 233.3h0.8M236.2 222.1h0.8M238.1 222.8h0.8M248.8 207.1h0.8M239.8 234.6h0.8M255.6 211.3h0.8M252.5 204.9h0.8M255.7 217.4h0.8M255.9 205.4h0.8M241.6 215.6h0.8M239.0 231.8h0.8M248.3 205.2h0.8M253.1 203.7h0.8M252.5 205.9h0.8M255.0 218.5h0.8M255.9 212.2h0.8M256.0 214.2h0.8M256.7 210.3h0.8M238.0 222.4h0.8M256.9 214.9h0.8M239.9 233.0h0.8M257.6 201.8h0.8M236.9 221.2h0.8M246.9 231.1h0.8M254.7 215.3h0.8M236.5 224.9h0.8M247.7 206.8h0.8M255.5 216.8h0.8M236.1 232.9h0.8M253.1 223.5h0.8M235.7 226.2h0.8M243.4 209.9h0.8M256.9 205.9h0.8M256.9 211.6h0.8M236.2 233.0h0.8M236.1 224.8h0.8M254.8 202.0h0.8M255.7 207.3h0.8M243.1 212.6h0.8M253.5 222.0h0.8M248.9 225.5h0.8M245.8 232.3h0.8M253.8 203.8h0.8M239.4 234.7h0.8M241.0 213.6h0.8M236.6 223.5h0.8M248.8 207.0h0.8M251.5 202.4h0.8M249.1 206.5h0.8M255.6 217.6h0.8M256.0 209.5h0.8M245.6 229.1h0.8M248.9 229.6h0.8M238.9 228.5h0.8M244.2 210.9h0.8M251.1 205.5h0.8M252.4 204.7h0.8M257.1 211.8h0.8M238.4 225.7h0.8M248.1 230.2h0.8M256.0 214.8h0.8M238.4 217.8h0.8M257.7 211.3h0.8M252.2 206.3h0.8M258.5 205.5h0.8M247.1 227.5h0.8M247.2 230.6h0.8M243.0 229.9h0.8M236.6 230.7h0.8M244.1 231.3h0.8M239.5 233.2h0.8M245.0 230.9h0.8M253.4 223.6h0.8M254.5 216.5h0.8M257.7 209.1h0.8M255.9 215.2h0.8M245.0 229.4h0.8M257.1 214.3h0.8M241.2 232.5h0.8M248.2 228.6h0.8M256.8 212.0h0.8M245.0 232.3h0.8M238.5 221.4h0.8M253.0 205.9h0.8M243.1 210.2h0.8M242.4 213.8h0.8M242.5 232.3h0.8M241.1 216.7h0.8M240.1 216.1h0.8M237.8 234.4h0.8M238.5 227.4h0.8M240.0 234.6h0.8M252.6 206.0h0.8M241.1 215.4h0.8M238.5 217.1h0.8M251.6 206.4h0.8M251.2 204.6h0.8M235.4 225.9h0.8M254.9 220.1h0.8M241.3 230.2h0.8M246.3 229.2h0.8M256.6 213.5h0.8M239.2 228.0h0.8M251.4 224.6h0.8M254.2 202.3h0.8M253.8 203.3h0.8M248.6 205.5h0.8M255.3 205.3h0.8M237.7 220.5h0.8M246.0 208.6h0.8M249.3 207.1h0.8M237.1 223.2h0.8M240.8 216.7h0.8M237.7 228.0h0.8M255.6 209.9h0.8M249.5 225.2h0.8M241.9 233.8h0.8M257.2 212.8h0.8M255.8 214.3h0.8M239.0 221.7h0.8M252.7 223.3h0.8M243.8 233.0h0.8M240.2 229.7h0.8M239.4 221.0h0.8M256.0 212.4h0.8M258.1 209.9h0.8M254.8 203.7h0.8M259.0 206.4h0.8M257.1 212.7h0.8M258.4 208.7h0.8M253.9 202.9h0.8M254.5 216.8h0.8M240.0 229.9h0.8M236.8 233.7h0.8M251.6 205.9h0.8M256.0 217.6h0.8M243.3 211.3h0.8M238.3 219.5h0.8M253.4 205.3h0.8M238.4 234.1h0.8M251.3 222.4h0.8M243.4 230.3h0.8M254.5 216.5h0.8M244.7 229.7h0.8M256.1 215.8h0.8M238.1 221.2h0.8M237.5 223.6h0.8M254.5 205.0h0.8M247.2 205.8h0.8M254.6 204.5h0.8M239.9 229.6h0.8M251.3 224.4h0.8M238.6 222.2h0.8M241.0 233.5h0.8M237.3 221.3h0.8M236.1 224.3h0.8M239.0 220.5h0.8M235.3 230.7h0.8M246.4 209.6h0.8M236.9 232.1h0.8M257.4 206.7h0.8M255.1 219.7h0.8M251.9 205.2h0.8M244.0 212.1h0.8M239.8 229.7h0.8M240.1 215.9h0.8M239.5 230.5h0.8M238.9 223.4h0.8M246.5 209.0h0.8M257.6 210.2h0.8M245.3 208.6h0.8M255.1 213.4h0.8M237.7 230.6h0.8M236.1 224.4h0.8M235.6 232.2h0.8M255.7 209.4h0.8M243.2 210.2h0.8M258.5 208.1h0.8M249.2 225.2h0.8M252.7 205.6h0.8M255.3 215.2h0.8M240.7 232.3h0.8M252.9 220.8h0.8M247.3 207.0h0.8M256.1 217.3h0.8M236.9 222.9h0.8M242.7 214.7h0.8M254.5 216.6h0.8M238.5 225.8h0.8M239.9 217.0h0.8M251.3 224.0h0.8M252.0 223.9h0.8M244.9 211.5h0.8M255.9 210.8h0.8M235.3 231.9h0.8M257.7 204.2h0.8M245.6 232.0h0.8M243.8 232.4h0.8M247.0 208.7h0.8M240.1 214.7h0.8M244.3 212.5h0.8M256.1 213.3h0.8M238.7 232.0h0.8M237.2 219.5h0.8M239.8 218.2h0.8M236.4 227.6h0.8M248.5 229.5h0.8M237.1 222.4h0.8M240.6 234.8h0.8M255.5 212.4h0.8" stroke="#4a98cc" stroke-width="0.8" fill="none"/>
<path d="M251.0 208.2h0.8M242.1 221.9h0.8M252.1 215.0h0.8M253.0 209.2h0.8M248.6 222.9h0.8M254.6 211.3h0.8M241.0 219.0h0.8M240.4 225.7h0.8M246.1 211.3h0.8M253.1 213.7h0.8M250.9 207.9h0.8M245.4 214.7h0.8M252.7 218.5h0.8M239.7 221.6h0.8M255.2 210.2h0.8M251.8 209.7h0.8M249.2 210.3h0.8M243.1 225.0h0.8M250.4 220.8h0.8M243.1 223.8h0.8M248.8 208.4h0.8M245.6 213.8h0.8M241.4 220.6h0.8M250.6 218.7h0.8M254.2 211.9h0.8M250.3 210.3h0.8M245.4 225.3h0.8M242.3 215.8h0.8M252.6 213.3h0.8M239.6 227.3h0.8M249.0 208.6h0.8M251.9 211.4h0.8M250.7 208.6h0.8M248.7 225.0h0.8M250.6 220.4h0.8M248.7 225.4h0.8M244.3 214.3h0.8M251.4 211.2h0.8M241.8 227.4h0.8M251.3 208.4h0.8M255.3 212.0h0.8M252.7 216.8h0.8M252.5 215.3h0.8M239.1 223.4h0.8M239.6 224.6h0.8M242.8 215.4h0.8M244.2 227.3h0.8M239.7 223.6h0.8M240.9 219.7h0.8M250.9 211.4h0.8M253.0 211.1h0.8M254.0 207.7h0.8M241.7 218.7h0.8M252.0 208.3h0.8M246.8 211.2h0.8M246.1 226.5h0.8M245.1 224.6h0.8M243.0 217.4h0.8M246.9 213.1h0.8M252.4 214.8h0.8M254.6 213.9h0.8M242.3 218.9h0.8M242.4 215.8h0.8M243.8 229.3h0.8M248.2 209.1h0.8M244.1 226.6h0.8M246.5 210.9h0.8M248.5 223.5h0.8M253.3 210.5h0.8M241.6 220.3h0.8M249.5 224.0h0.8M250.9 207.1h0.8M244.2 217.0h0.8M251.9 208.4h0.8M244.3 217.3h0.8M239.3 226.4h0.8M245.8 214.3h0.8M243.7 228.4h0.8M240.1 219.8h0.8M252.1 210.1h0.8M251.7 217.8h0.8M251.3 217.1h0.8M241.6 218.6h0.8M241.9 222.9h0.8M241.6 224.4h0.8M251.9 211.8h0.8M248.7 208.3h0.8M240.5 225.6h0.8M251.0 220.7h0.8M239.8 225.0h0.8M244.4 225.1h0.8M244.6 227.4h0.8M242.8 226.7h0.8M249.9 220.0h0.8M254.8 213.2h0.8M242.3 216.5h0.8M248.3 211.1h0.8M246.7 211.2h0.8M240.1 228.6h0.8M242.6 215.0h0.8M243.4 218.5h0.8M254.7 212.3h0.8M252.2 220.0h0.8M240.3 222.6h0.8M255.0 209.3h0.8M242.1 219.7h0.8M240.2 228.4h0.8M249.2 223.8h0.8M242.6 222.4h0.8M253.3 213.8h0.8M249.3 221.7h0.8M241.0 218.0h0.8M238.8 224.7h0.8M250.5 219.4h0.8M252.1 209.4h0.8M252.5 212.0h0.8M247.7 223.4h0.8M248.1 212.3h0.8M242.3 229.7h0.8M242.9 217.3h0.8M240.2 226.5h0.8M244.6 224.7h0.8M244.4 226.4h0.8M254.4 211.4h0.8M251.2 217.0h0.8M245.0 213.9h0.8M251.8 213.9h0.8M241.6 217.7h0.8M252.5 215.8h0.8M242.9 228.3h0.8M249.8 208.2h0.8M239.8 224.5h0.8M245.5 214.2h0.8M247.0 223.4h0.8M240.1 226.2h0.8M240.5 227.2h0.8M252.1 220.4h0.8M249.4 221.4h0.8M241.0 220.7h0.8M250.6 210.9h0.8M241.7 225.2h0.8M249.0 224.2h0.8M253.5 210.8h0.8M247.4 210.7h0.8M252.9 213.4h0.8M249.3 223.6h0.8M243.8 227.5h0.8M253.9 207.1h0.8M249.9 209.7h0.8M245.4 224.7h0.8M251.3 219.8h0.8M240.7 225.5h0.8M249.8 222.7h0.8M253.1 211.1h0.8M240.8 218.6h0.8M248.6 225.8h0.8M246.8 212.7h0.8M244.7 224.8h0.8M247.8 226.2h0.8M249.9 223.8h0.8M247.3 223.3h0.8M248.6 225.6h0.8M240.0 225.9h0.8M239.5 225.8h0.8M239.9 226.3h0.8M255.1 209.4h0.8M250.9 211.7h0.8M244.0 216.3h0.8M246.6 223.7h0.8M246.0 214.4h0.8M247.9 223.0h0.8M246.7 227.6h0.8M245.6 226.8h0.8M240.6 224.9h0.8M240.5 222.4h0.8M246.7 224.5h0.8M248.7 208.4h0.8M241.0 224.9h0.8M253.4 211.0h0.8M251.0 207.3h0.8M251.9 213.2h0.8M252.7 208.3h0.8M245.7 224.5h0.8M254.8 212.9h0.8M241.4 219.8h0.8M241.1 228.8h0.8M251.7 221.3h0.8M254.9 210.6h0.8M245.8 211.4h0.8M242.1 217.9h0.8M243.8 215.4h0.8M251.3 208.2h0.8M252.2 211.0h0.8M252.3 208.7h0.8M240.6 222.3h0.8M240.0 222.2h0.8M250.9 220.3h0.8M244.5 225.5h0.8M251.5 210.9h0.8M243.4 215.5h0.8M248.1 225.0h0.8M248.5 211.7h0.8M244.0 213.2h0.8M248.0 211.4h0.8M253.9 208.4h0.8M243.9 216.8h0.8M252.4 209.0h0.8M243.7 224.5h0.8M245.0 224.5h0.8M244.0 216.7h0.8M254.1 212.3h0.8M250.4 208.7h0.8M253.4 215.9h0.8M252.6 207.7h0.8M240.4 223.6h0.8M250.3 219.3h0.8M251.7 210.5h0.8M250.0 208.8h0.8M246.2 213.4h0.8M246.1 210.6h0.8M254.6 210.6h0.8M241.1 219.9h0.8M251.8 219.7h0.8M243.0 217.6h0.8M255.0 207.9h0.8M245.5 228.1h0.8M249.6 211.4h0.8M254.8 209.5h0.8M239.8 228.7h0.8M238.9 225.8h0.8M247.1 210.2h0.8M249.6 207.9h0.8M251.9 209.8h0.8M248.5 222.8h0.8M253.3 210.5h0.8M246.0 228.1h0.8M240.1 225.1h0.8M250.0 209.8h0.8M253.4 210.3h0.8M252.8 218.0h0.8M249.6 211.0h0.8M249.9 209.0h0.8M252.4 211.8h0.8M247.1 210.2h0.8M253.9 208.8h0.8M241.2 225.7h0.8M249.5 211.6h0.8M252.0 208.4h0.8M244.0 225.9h0.8M245.3 214.3h0.8M240.3 225.2h0.8M251.1 208.7h0.8M241.3 227.6h0.8M245.6 224.6h0.8M242.8 219.0h0.8M249.9 220.5h0.8M245.6 211.5h0.8M247.4 223.5h0.8M251.5 217.4h0.8M241.3 222.3h0.8M254.5 214.6h0.8M250.5 211.6h0.8M247.0 211.2h0.8M253.8 217.0h0.8M239.0 225.1h0.8M252.4 218.1h0.8M250.0 221.0h0.8M252.9 218.9h0.8M251.0 211.3h0.8M242.4 225.0h0.8M246.0 213.4h0.8M239.2 223.8h0.8M239.7 221.4h0.8M239.9 228.8h0.8M242.1 223.0h0.8M254.3 209.0h0.8M240.4 226.8h0.8M244.4 216.9h0.8M253.3 210.6h0.8M248.7 225.2h0.8M251.2 221.2h0.8M251.2 209.8h0.8M250.5 207.2h0.8M246.7 226.2h0.8M244.2 214.4h0.8M250.6 209.9h0.8M248.4 221.6h0.8M245.6 212.6h0.8M254.2 210.1h0.8M253.7 207.5h0.8M249.5 220.8h0.8M245.7 214.5h0.8M245.3 226.0h0.8M247.0 225.8h0.8M251.6 212.4h0.8M251.7 211.1h0.8M253.8 217.2h0.8M242.1 228.6h0.8M250.0 210.8h0.8M253.7 214.5h0.8M242.6 225.3h0.8M244.3 226.5h0.8M242.6 228.7h0.8M250.6 210.0h0.8M242.9 218.2h0.8M247.3 225.1h0.8M251.7 220.6h0.8M243.8 214.0h0.8M240.2 223.0h0.8M244.3 225.9h0.8M250.9 220.7h0.8M243.0 218.9h0.8M254.5 209.6h0.8M253.4 208.6h0.8M252.9 212.8h0.8M246.7 210.4h0.8M246.7 213.0h0.8M251.4 211.5h0.8M242.3 220.4h0.8M243.0 220.0h0.8M250.6 211.2h0.8M246.6 226.0h0.8M252.8 213.3h0.8M245.9 227.0h0.8M252.5 217.0h0.8M245.8 226.9h0.8M254.5 207.8h0.8M252.6 219.4h0.8M254.1 210.2h0.8M249.9 211.7h0.8M250.1 219.2h0.8M253.4 211.7h0.8M251.3 206.8h0.8M246.0 214.0h0.8M249.0 211.8h0.8M251.9 215.1h0.8M242.6 227.1h0.8M252.3 209.7h0.8M244.9 227.1h0.8M243.1 227.7h0.8M251.7 207.4h0.8M249.5 222.1h0.8M251.8 219.6h0.8M251.0 210.0h0.8M244.1 227.0h0.8M245.0 226.2h0.8M239.8 221.3h0.8M250.7 218.5h0.8M244.6 228.4h0.8M251.3 220.9h0.8M241.5 226.5h0.8M243.1 226.0h0.8M243.5 224.6h0.8M241.2 219.1h0.8M245.4 213.3h0.8M253.7 211.8h0.8M250.8 220.8h0.8M243.6 217.4h0.8M242.0 220.4h0.8M248.9 224.5h0.8M241.0 227.2h0.8M254.5 209.9h0.8M253.9 209.1h0.8M241.0 222.7h0.8M254.6 210.5h0.8M246.9 213.6h0.8M243.5 214.3h0.8M252.7 213.9h0.8M249.7 220.0h0.8M251.3 217.2h0.8M250.6 219.9h0.8M254.0 215.4h0.8M253.8 216.3h0.8M246.6 226.4h0.8M250.3 207.9h0.8M240.9 221.2h0.8M250.1 211.0h0.8M243.4 226.5h0.8M241.5 228.7h0.8M249.3 211.6h0.8M239.3 225.5h0.8M248.8 210.2h0.8M250.6 210.8h0.8M252.8 210.0h0.8M250.7 222.4h0.8M250.9 220.6h0.8M241.2 224.0h0.8M247.0 210.9h0.8M244.6 215.3h0.8M254.2 214.6h0.8M254.0 214.8h0.8M252.1 213.1h0.8M243.3 224.4h0.8M239.3 223.4h0.8M241.3 219.9h0.8M241.6 227.7h0.8M239.9 228.1h0.8M246.4 226.2h0.8M250.2 221.8h0.8M242.8 219.0h0.8M250.8 218.8h0.8M253.7 214.4h0.8M246.3 225.2h0.8M244.2 215.6h0.8M247.7 212.0h0.8M241.6 220.9h0.8M240.2 222.5h0.8M249.8 211.4h0.8M241.8 227.2h0.8M250.1 209.0h0.8M247.8 209.2h0.8M242.6 219.3h0.8M245.7 224.0h0.8M252.7 206.5h0.8M242.2 223.1h0.8M251.8 211.6h0.8M241.0 223.4h0.8M252.1 208.7h0.8M251.8 209.0h0.8M253.8 207.6h0.8M250.9 217.7h0.8M252.5 207.4h0.8M244.6 216.6h0.8M253.9 214.1h0.8M249.2 210.6h0.8M244.9 225.5h0.8M246.4 211.9h0.8M252.9 211.7h0.8M250.3 210.3h0.8M249.1 223.2h0.8M245.8 224.5h0.8M251.2 207.9h0.8M242.4 217.2h0.8M241.1 217.9h0.8M253.2 206.9h0.8M250.3 207.9h0.8M247.8 225.3h0.8M242.0 223.1h0.8M242.9 219.9h0.8M250.0 223.1h0.8M243.5 226.8h0.8M249.1 223.6h0.8M254.1 210.0h0.8M250.7 211.4h0.8M247.7 209.6h0.8M255.3 211.6h0.8M243.9 215.1h0.8M240.7 224.4h0.8M252.3 214.2h0.8M244.4 227.6h0.8M250.8 211.6h0.8M247.7 211.8h0.8M246.2 224.6h0.8M254.3 211.1h0.8M242.1 226.3h0.8M247.8 212.2h0.8M248.0 226.1h0.8M251.8 208.0h0.8M246.7 211.1h0.8M243.8 224.9h0.8M242.5 225.5h0.8M243.4 215.4h0.8M247.4 210.7h0.8M249.6 207.9h0.8M249.3 210.1h0.8M253.3 209.3h0.8M252.9 215.2h0.8M250.8 208.2h0.8M241.1 219.0h0.8M253.4 217.9h0.8M243.0 217.4h0.8M242.1 223.4h0.8M248.1 209.7h0.8M254.8 211.1h0.8M252.2 215.2h0.8M242.5 223.0h0.8M239.8 227.9h0.8M252.9 210.5h0.8M244.8 214.2h0.8M240.9 224.9h0.8M241.2 229.5h0.8M249.8 224.2h0.8M243.2 214.9h0.8M249.5 208.4h0.8M253.3 213.7h0.8M243.7 227.2h0.8M244.9 213.1h0.8M253.7 215.9h0.8M244.5 225.5h0.8M239.9 222.2h0.8M248.2 212.0h0.8M244.3 215.3h0.8M240.4 228.2h0.8M250.0 209.5h0.8M248.6 221.4h0.8M246.2 211.1h0.8M243.4 224.5h0.8M242.1 217.4h0.8M249.1 210.4h0.8M246.0 212.2h0.8M252.2 209.6h0.8M247.8 212.7h0.8M242.4 221.8h0.8M252.2 207.6h0.8M243.1 224.3h0.8M243.4 217.7h0.8M247.5 209.8h0.8M250.9 221.7h0.8M243.5 228.1h0.8M248.1 209.8h0.8M250.8 210.5h0.8M251.0 221.6h0.8M250.9 208.2h0.8M243.9 215.2h0.8" stroke="#3fa3b8" stroke-width="0.8" fill="none"/>
<path d="M248.2 219.9h0.8M244.1 220.0h0.8M243.3 221.0h0.8M243.8 223.6h0.8M246.5 222.8h0.8M247.1 214.3h0.8M251.2 214.7h0.8M249.8 212.4h0.8M247.7 219.8h0.8M246.8 215.4h0.8M251.2 212.7h0.8M249.0 215.3h0.8M248.1 215.1h0.8M246.8 217.3h0.8M249.6 212.3h0.8M248.0 219.8h0.8M248.2 218.7h0.8M244.3 220.2h0.8M249.3 215.2h0.8M243.8 221.3h0.8M247.8 213.9h0.8M249.2 216.4h0.8M246.4 221.2h0.8M246.6 214.4h0.8M247.7 215.9h0.8M247.9 222.1h0.8M243.4 223.7h0.8M250.2 211.9h0.8M243.9 220.2h0.8M246.8 220.5h0.8M244.0 220.3h0.8M248.8 215.1h0.8M248.7 215.8h0.8M244.5 223.8h0.8M247.3 216.9h0.8M243.7 220.3h0.8M245.0 219.9h0.8M245.5 217.8h0.8M245.6 216.5h0.8M244.2 221.5h0.8M248.5 217.3h0.8M244.0 218.9h0.8M247.9 213.3h0.8M248.6 216.1h0.8M247.1 215.3h0.8M246.0 220.0h0.8M249.7 215.6h0.8M246.2 222.9h0.8M244.7 224.2h0.8M248.0 222.0h0.8M249.9 219.0h0.8M246.2 217.9h0.8M249.1 218.2h0.8M248.6 213.2h0.8M248.3 213.9h0.8M248.8 220.8h0.8M245.1 217.5h0.8M248.3 216.1h0.8M243.3 222.4h0.8M250.4 214.7h0.8M246.6 215.4h0.8M250.2 217.1h0.8M247.0 216.4h0.8M244.6 218.2h0.8M244.6 222.1h0.8M250.9 212.7h0.8M244.9 219.5h0.8M243.4 223.3h0.8M248.6 216.3h0.8M247.5 218.7h0.8M250.2 213.5h0.8M251.0 213.7h0.8M244.8 218.1h0.8M247.0 214.2h0.8M247.9 213.5h0.8M244.0 219.5h0.8M248.1 219.0h0.8M251.4 212.5h0.8M249.5 219.1h0.8M244.0 218.6h0.8M246.2 217.0h0.8M248.8 218.9h0.8M249.9 216.9h0.8M249.7 219.3h0.8M243.5 218.9h0.8M249.6 213.5h0.8M247.3 217.3h0.8M244.4 219.0h0.8M243.7 221.9h0.8M244.3 221.0h0.8M246.9 213.9h0.8M245.6 215.8h0.8M249.4 218.7h0.8M243.9 221.0h0.8M246.3 215.2h0.8M248.8 216.8h0.8M247.3 219.6h0.8M249.5 217.4h0.8M246.4 221.5h0.8M247.3 222.3h0.8M248.2 218.7h0.8M246.4 214.9h0.8M246.4 221.1h0.8M244.1 220.6h0.8M250.9 212.9h0.8M244.4 217.1h0.8M244.0 221.7h0.8M248.5 212.4h0.8M248.0 216.6h0.8M245.1 221.6h0.8M245.6 222.8h0.8M249.5 215.6h0.8M245.7 223.5h0.8M246.3 218.8h0.8M244.8 218.4h0.8M247.5 217.5h0.8M250.2 218.4h0.8M246.7 221.5h0.8M249.3 219.2h0.8M247.0 219.7h0.8M244.8 220.8h0.8M249.2 217.8h0.8M247.8 214.9h0.8M245.0 219.4h0.8M243.7 221.3h0.8M250.6 215.0h0.8M247.1 215.3h0.8M243.1 222.9h0.8M244.1 219.0h0.8M249.0 213.5h0.8M251.3 214.0h0.8M248.2 215.4h0.8M246.0 220.7h0.8M243.2 219.8h0.8M244.3 224.3h0.8M247.7 216.4h0.8M248.2 214.0h0.8M247.8 216.5h0.8M246.6 219.3h0.8M245.4 218.5h0.8M249.2 214.4h0.8M247.5 220.8h0.8M249.6 218.4h0.8M245.0 218.3h0.8M247.0 215.5h0.8M246.6 217.0h0.8M246.1 221.7h0.8M244.7 223.1h0.8M249.9 217.8h0.8M250.8 214.9h0.8M246.7 214.5h0.8M248.2 218.6h0.8M247.1 219.2h0.8M249.8 214.8h0.8M245.4 216.6h0.8M247.3 217.3h0.8M247.0 219.2h0.8M247.1 216.0h0.8M248.4 216.8h0.8M250.3 211.8h0.8M245.0 217.5h0.8M248.6 216.6h0.8M244.4 217.6h0.8M245.0 223.2h0.8M248.2 217.7h0.8M248.8 218.1h0.8M246.3 218.3h0.8M247.0 220.5h0.8M247.3 217.9h0.8M244.3 218.0h0.8M247.9 214.8h0.8M248.8 213.3h0.8M244.8 218.8h0.8M248.3 219.0h0.8M243.4 219.3h0.8M248.0 217.2h0.8M246.8 218.1h0.8M249.2 216.5h0.8M251.7 213.5h0.8M243.1 222.1h0.8M243.7 221.6h0.8M244.1 220.7h0.8M250.3 217.6h0.8M244.6 224.2h0.8M248.9 214.6h0.8M245.4 216.0h0.8M251.6 213.2h0.8M246.4 214.3h0.8M250.6 212.2h0.8M246.6 222.4h0.8M247.2 214.0h0.8M249.3 219.2h0.8M250.0 215.0h0.8M245.1 222.6h0.8M249.1 213.7h0.8M250.1 215.2h0.8M243.1 221.9h0.8M247.6 220.0h0.8M249.4 217.6h0.8M248.8 213.6h0.8M248.8 215.1h0.8M248.8 216.9h0.8M244.3 222.2h0.8M245.9 221.5h0.8M245.6 215.7h0.8M248.9 220.1h0.8M245.2 218.7h0.8M246.9 216.3h0.8M245.6 221.5h0.8M246.6 214.8h0.8M244.1 223.0h0.8M247.8 217.3h0.8M249.5 212.1h0.8M247.0 214.6h0.8M251.2 216.0h0.8M246.1 214.7h0.8M246.1 219.6h0.8M247.6 221.1h0.8M250.9 213.4h0.8M244.5 222.4h0.8M247.5 217.2h0.8M249.9 216.6h0.8M247.7 220.2h0.8M246.7 218.2h0.8M247.5 221.6h0.8M248.1 218.6h0.8M247.1 219.4h0.8M247.6 219.8h0.8M246.9 220.5h0.8M249.9 213.5h0.8M247.7 218.0h0.8M245.8 223.8h0.8M248.9 218.2h0.8M243.4 220.3h0.8M243.5 222.7h0.8M243.3 221.1h0.8M242.9 221.6h0.8M243.4 223.6h0.8M246.6 215.2h0.8M247.2 216.6h0.8M249.1 219.0h0.8M248.0 218.1h0.8M246.8 222.5h0.8M247.6 221.9h0.8M245.4 217.5h0.8M245.8 217.7h0.8M245.8 223.1h0.8M249.5 216.2h0.8M246.5 220.6h0.8M245.3 218.0h0.8M247.0 220.3h0.8M246.4 219.9h0.8M249.4 218.3h0.8M245.2 217.1h0.8M251.5 213.2h0.8M244.8 217.9h0.8M244.2 224.1h0.8M247.5 221.5h0.8M250.3 213.6h0.8M247.3 216.4h0.8M246.4 214.4h0.8" stroke="#45adb0" stroke-width="0.8" fill="none"/>
<rect x="255.5" y="178.5" width="38.0" height="60.0" fill="none" stroke="#000" stroke-width="1"/>
<text x="271.7" y="188.0" font-size="8" text-anchor="middle" fill="#0a0a0a" style="stroke-width:0.12px">EV+</text>
<text x="271.7" y="197.0" font-size="8" text-anchor="middle" fill="#0a0a0a" style="stroke-width:0.12px">40.43%</text>
<rect x="299.7" y="174.3" width="66.2" height="66.8" fill="#fff" stroke="#b8b8b8" stroke-width="0.8"/>
<path d="M301.7 240.8v-1.8M306.5 240.8v-1.0M309.2 240.8v-1.0M311.2 240.8v-1.0M312.7 240.8v-1.0M314.0 240.8v-1.0M315.1 240.8v-1.0M316.0 240.8v-1.0M316.8 240.8v-1.0M317.5 240.8v-1.8M322.3 240.8v-1.0M325.0 240.8v-1.0M327.0 240.8v-1.0M328.5 240.8v-1.0M329.8 240.8v-1.0M330.9 240.8v-1.0M331.8 240.8v-1.0M332.6 240.8v-1.0M333.3 240.8v-1.8M338.1 240.8v-1.0M340.8 240.8v-1.0M342.8 240.8v-1.0M344.3 240.8v-1.0M345.6 240.8v-1.0M346.7 240.8v-1.0M347.6 240.8v-1.0M348.4 240.8v-1.0M349.1 240.8v-1.8M353.9 240.8v-1.0M356.6 240.8v-1.0M358.6 240.8v-1.0M360.1 240.8v-1.0M361.4 240.8v-1.0M362.5 240.8v-1.0M363.4 240.8v-1.0M364.2 240.8v-1.0M300.0 179.3h1.4M300.0 186.5h1.4M300.0 193.7h1.4M300.0 200.9h1.4M300.0 208.1h1.4M300.0 215.3h1.4M300.0 222.5h1.4M300.0 229.7h1.4M300.0 236.9h1.4" stroke="#444" stroke-width="0.6" fill="none"/>
<ellipse cx="314.3" cy="218.0" rx="12.3" ry="3.4" transform="rotate(-66 314.3 218.0)" fill="#3398b0" opacity="0.38" filter="url(#bl)"/>
<path d="M323.0 222.9h0.7M330.5 212.5h0.7M336.7 215.9h0.7M338.8 222.0h0.7M339.8 218.3h0.7M320.3 230.0h0.7M323.0 227.1h0.7M334.5 203.9h0.7M333.4 225.5h0.7M327.0 217.5h0.7M328.7 207.6h0.7M329.4 229.3h0.7M337.0 216.9h0.7M332.5 218.3h0.7M334.7 218.9h0.7M322.9 225.9h0.7M328.0 192.4h0.7M337.1 205.7h0.7M332.2 216.2h0.7M329.5 222.2h0.7M331.4 214.5h0.7M327.4 214.5h0.7M326.9 217.5h0.7M340.8 226.7h0.7M335.5 204.2h0.7M339.1 226.0h0.7M345.1 195.7h0.7M333.1 213.9h0.7M339.4 206.8h0.7M338.9 198.1h0.7M333.1 230.1h0.7M329.4 222.8h0.7M333.6 203.2h0.7M329.3 227.9h0.7M340.0 211.4h0.7M339.6 210.3h0.7M334.5 216.9h0.7M325.6 220.2h0.7M330.7 191.0h0.7" stroke="#7f9ade" stroke-width="0.7" fill="none"/>
<path d="M303.9 221.7h0.8M316.2 229.7h0.8M320.9 200.4h0.8M314.5 230.7h0.8M304.7 233.6h0.8M320.1 216.4h0.8M319.7 217.8h0.8M317.0 203.7h0.8M310.4 214.1h0.8M321.5 200.8h0.8M315.0 204.3h0.8M319.4 219.3h0.8M317.7 223.7h0.8M314.4 232.9h0.8M322.7 203.3h0.8M303.7 226.3h0.8M319.6 219.3h0.8M317.6 223.5h0.8M321.8 195.6h0.8M303.0 235.4h0.8M315.4 204.6h0.8M305.2 225.5h0.8M307.2 236.2h0.8M310.7 234.3h0.8M321.3 213.8h0.8M319.8 197.5h0.8M314.5 230.3h0.8M324.7 210.5h0.8M312.1 233.2h0.8M320.8 215.3h0.8M319.1 223.4h0.8M322.7 199.9h0.8M322.7 201.1h0.8M322.4 207.0h0.8M324.2 200.9h0.8M323.2 202.9h0.8M328.5 198.2h0.8M305.6 236.3h0.8M306.8 235.4h0.8M324.0 197.3h0.8M324.8 198.3h0.8M320.0 218.3h0.8M322.6 206.0h0.8M308.9 236.6h0.8M315.5 228.8h0.8M318.1 223.1h0.8M311.6 233.7h0.8M321.0 215.5h0.8M322.7 220.0h0.8M312.5 205.5h0.8M328.1 193.6h0.8M306.7 218.4h0.8M323.6 199.7h0.8M306.0 222.8h0.8M319.4 201.9h0.8M322.8 208.5h0.8M306.2 234.8h0.8M316.3 205.5h0.8M324.2 211.6h0.8M325.3 199.5h0.8M318.4 203.2h0.8M306.9 219.9h0.8M325.1 199.0h0.8M308.0 218.4h0.8M320.8 201.1h0.8M315.9 206.0h0.8M304.9 216.6h0.8M323.0 204.6h0.8M318.8 220.9h0.8M330.7 187.3h0.8M305.2 235.1h0.8M303.4 235.5h0.8M319.2 220.9h0.8M321.6 211.6h0.8M304.7 229.6h0.8M302.5 237.8h0.8M305.2 227.7h0.8M320.7 214.8h0.8M307.7 235.2h0.8M305.5 224.5h0.8M324.3 194.8h0.8M323.5 199.4h0.8M323.6 195.7h0.8M307.7 218.5h0.8M323.8 202.5h0.8M310.8 233.9h0.8M316.4 226.6h0.8M321.1 218.3h0.8M321.2 214.8h0.8M315.1 205.5h0.8M314.6 208.0h0.8M323.2 204.1h0.8M304.0 236.3h0.8M322.6 199.4h0.8M319.0 224.3h0.8M320.0 222.9h0.8M304.1 231.6h0.8M315.1 203.7h0.8M323.4 201.8h0.8M322.4 207.9h0.8M322.9 196.5h0.8M322.5 206.8h0.8M322.2 200.8h0.8M304.7 233.4h0.8M315.2 204.6h0.8M324.6 203.6h0.8M305.2 226.7h0.8M322.7 205.2h0.8M320.5 225.2h0.8M316.7 227.9h0.8M305.1 226.1h0.8M309.4 214.8h0.8M303.1 237.4h0.8M321.4 200.2h0.8M322.8 202.9h0.8M315.5 228.4h0.8M305.2 232.7h0.8M307.8 213.1h0.8M326.3 196.6h0.8M311.9 235.4h0.8M305.8 236.3h0.8M325.8 196.2h0.8M310.4 212.6h0.8M320.4 201.0h0.8M304.6 229.4h0.8M312.7 232.1h0.8M310.4 214.5h0.8M319.9 222.4h0.8M314.9 229.8h0.8M323.8 202.8h0.8M303.7 223.3h0.8M321.3 212.6h0.8M326.3 191.8h0.8M317.3 228.6h0.8M322.6 203.0h0.8M316.5 228.3h0.8M321.5 211.4h0.8M304.6 233.2h0.8M307.6 235.3h0.8M325.2 194.2h0.8M316.6 226.1h0.8M317.5 204.1h0.8M307.0 221.4h0.8M319.3 221.0h0.8M312.4 210.5h0.8M303.1 227.8h0.8M304.2 231.2h0.8M322.7 206.6h0.8M319.5 200.0h0.8M316.8 226.5h0.8M312.3 209.3h0.8M312.7 209.3h0.8M326.4 194.0h0.8M319.1 202.3h0.8M304.1 238.2h0.8M304.7 223.3h0.8M322.1 209.9h0.8M312.8 232.9h0.8M310.4 214.1h0.8M323.5 198.8h0.8M317.1 225.0h0.8M321.2 200.9h0.8M313.6 231.4h0.8M301.8 228.9h0.8M316.2 226.6h0.8M306.2 234.7h0.8M307.0 235.8h0.8M323.0 203.8h0.8M322.8 203.3h0.8M314.7 230.1h0.8M304.4 221.3h0.8M322.9 206.7h0.8M321.1 200.3h0.8M309.4 215.3h0.8M323.7 193.5h0.8M320.2 201.4h0.8M305.4 224.3h0.8M313.8 231.8h0.8M305.2 235.6h0.8M321.2 214.0h0.8M308.9 213.5h0.8M322.6 200.2h0.8M315.5 205.8h0.8M311.0 234.5h0.8M322.6 205.4h0.8M323.1 209.4h0.8M312.9 209.7h0.8M319.6 201.9h0.8M325.6 189.9h0.8M323.1 201.1h0.8M322.1 208.4h0.8M305.2 225.4h0.8M313.8 231.2h0.8M322.9 202.7h0.8M322.8 205.8h0.8M309.6 215.2h0.8M305.4 235.4h0.8M314.2 230.9h0.8M319.7 224.1h0.8M325.2 189.6h0.8M310.1 235.6h0.8M322.3 208.1h0.8M308.5 217.2h0.8M313.2 205.2h0.8M325.5 215.5h0.8M307.4 236.8h0.8M309.6 215.2h0.8M319.2 202.3h0.8M323.7 202.6h0.8M307.9 218.9h0.8M318.0 223.9h0.8M317.8 203.8h0.8M313.5 231.0h0.8M319.8 220.5h0.8M318.4 221.4h0.8M309.2 216.7h0.8M323.7 198.9h0.8M304.4 231.1h0.8M314.2 233.1h0.8M311.3 235.5h0.8M304.5 232.4h0.8M312.0 211.6h0.8M321.8 213.3h0.8M323.1 197.0h0.8M315.6 228.0h0.8M315.6 206.2h0.8M304.9 237.7h0.8M324.8 204.6h0.8M314.6 238.2h0.8M318.8 227.6h0.8M322.8 195.0h0.8M302.8 232.1h0.8M305.1 228.2h0.8M314.0 207.4h0.8M304.3 230.4h0.8M304.7 226.1h0.8M306.5 221.7h0.8M323.7 203.6h0.8M323.7 202.0h0.8M308.7 217.1h0.8M323.1 199.8h0.8M322.1 209.3h0.8M311.4 212.5h0.8M321.0 201.0h0.8M318.2 225.7h0.8M322.6 211.4h0.8M315.9 227.6h0.8M322.1 213.6h0.8M307.8 236.0h0.8M310.6 234.7h0.8M319.8 217.5h0.8M317.7 203.0h0.8M313.8 232.0h0.8M310.0 237.2h0.8M322.0 200.2h0.8M306.9 221.6h0.8M322.8 196.0h0.8M318.3 202.0h0.8M307.6 236.8h0.8M312.4 211.3h0.8M303.0 233.6h0.8M305.5 225.8h0.8M311.2 234.0h0.8M325.4 203.6h0.8M321.8 200.2h0.8M312.1 233.5h0.8M319.7 219.9h0.8M322.1 209.8h0.8M309.4 234.7h0.8M326.4 187.9h0.8M311.8 233.1h0.8" stroke="#3f55b8" stroke-width="0.8" fill="none"/>
<path d="M307.5 225.3h0.8M319.3 218.7h0.8M319.5 217.5h0.8M308.2 228.8h0.8M321.1 208.7h0.8M320.5 210.8h0.8M307.2 222.4h0.8M317.2 222.0h0.8M321.6 208.0h0.8M316.4 225.7h0.8M305.9 233.8h0.8M308.3 233.1h0.8M319.4 206.2h0.8M321.3 208.6h0.8M307.7 231.3h0.8M306.8 231.3h0.8M307.8 229.9h0.8M321.8 204.6h0.8M317.2 222.5h0.8M307.1 225.3h0.8M308.2 219.1h0.8M319.3 218.1h0.8M313.6 210.9h0.8M311.3 216.1h0.8M305.6 227.0h0.8M309.3 217.8h0.8M307.2 231.1h0.8M320.3 212.7h0.8M318.0 220.2h0.8M318.0 219.7h0.8M315.9 223.8h0.8M314.5 228.7h0.8M305.3 232.5h0.8M321.5 206.9h0.8M320.1 211.6h0.8M305.3 229.7h0.8M315.8 226.5h0.8M311.1 216.5h0.8M313.5 211.8h0.8M319.2 205.8h0.8M305.5 229.1h0.8M305.9 230.1h0.8M322.0 202.9h0.8M308.7 231.2h0.8M317.1 206.2h0.8M317.7 207.0h0.8M309.0 218.0h0.8M306.9 230.4h0.8M321.2 201.2h0.8M305.9 225.8h0.8M307.1 229.7h0.8M306.7 224.7h0.8M310.7 230.8h0.8M308.1 234.9h0.8M321.2 201.6h0.8M316.9 207.2h0.8M321.5 206.9h0.8M321.9 207.6h0.8M314.4 226.9h0.8M314.5 227.9h0.8M320.6 209.6h0.8M316.1 224.7h0.8M317.8 220.0h0.8M317.8 206.7h0.8M319.5 205.4h0.8M308.0 230.2h0.8M320.5 204.2h0.8M320.4 207.3h0.8M307.3 221.2h0.8M321.6 207.5h0.8M313.9 210.7h0.8M317.3 223.0h0.8M320.6 211.9h0.8M319.9 213.6h0.8M308.8 229.5h0.8M322.1 207.8h0.8M315.5 207.3h0.8M321.0 210.8h0.8M312.3 213.3h0.8M312.4 211.4h0.8M313.1 230.4h0.8M316.5 225.8h0.8M313.4 212.0h0.8M321.4 209.3h0.8M306.9 221.8h0.8M306.6 223.0h0.8M310.4 217.9h0.8M307.6 228.9h0.8M319.5 204.5h0.8M318.0 204.0h0.8M320.8 203.1h0.8M310.0 231.9h0.8M320.5 206.6h0.8M308.1 222.5h0.8M316.7 225.3h0.8M308.3 234.0h0.8M319.8 213.4h0.8M314.1 210.0h0.8M305.6 233.5h0.8M320.0 205.2h0.8M319.2 218.6h0.8M312.7 213.1h0.8M315.0 208.2h0.8M319.4 214.4h0.8M322.3 205.2h0.8M310.7 215.9h0.8M322.1 204.5h0.8M321.4 207.2h0.8M313.2 230.1h0.8M308.3 233.8h0.8M319.3 214.5h0.8M315.1 226.3h0.8M320.3 205.8h0.8M317.6 220.8h0.8M316.4 208.2h0.8M316.3 224.0h0.8M307.6 220.9h0.8M315.9 225.5h0.8M317.9 206.2h0.8M322.2 207.0h0.8M318.5 218.3h0.8M305.0 231.4h0.8M319.4 202.5h0.8M319.6 205.9h0.8M311.4 214.9h0.8M305.5 231.3h0.8M308.1 219.4h0.8M319.1 217.6h0.8M316.1 207.3h0.8M307.1 225.4h0.8M322.1 207.5h0.8M319.4 217.1h0.8M319.9 206.2h0.8M307.4 234.2h0.8M306.0 227.0h0.8M306.9 232.4h0.8M320.1 215.7h0.8M321.8 205.8h0.8M307.4 227.6h0.8M320.9 207.7h0.8M307.4 227.8h0.8M305.8 233.3h0.8M319.9 203.2h0.8M319.9 216.4h0.8M310.3 233.5h0.8M314.2 226.4h0.8M312.7 212.8h0.8M307.6 228.2h0.8M306.0 229.2h0.8M306.8 228.9h0.8M316.9 221.0h0.8M312.3 212.0h0.8M316.9 207.2h0.8M315.9 207.6h0.8M307.0 227.1h0.8M320.1 210.9h0.8M309.6 219.0h0.8M308.2 230.6h0.8M314.4 208.9h0.8M308.1 234.5h0.8M321.3 208.3h0.8M321.0 209.4h0.8M306.4 234.1h0.8M319.3 217.2h0.8M313.8 228.1h0.8M318.6 218.7h0.8M308.1 234.5h0.8M313.9 227.6h0.8M305.8 230.1h0.8M307.3 225.1h0.8M318.2 205.2h0.8M318.2 206.6h0.8M309.1 231.5h0.8M322.3 204.9h0.8M308.6 220.5h0.8M320.7 205.4h0.8M314.6 209.6h0.8M321.3 211.2h0.8M321.4 202.4h0.8M318.0 204.7h0.8M318.2 206.5h0.8M317.5 206.0h0.8M315.3 226.8h0.8M316.9 221.6h0.8M308.1 233.2h0.8M308.0 223.1h0.8M320.7 213.1h0.8M306.7 234.0h0.8M312.7 229.0h0.8M306.0 228.6h0.8M316.8 205.8h0.8M313.8 229.6h0.8M320.4 207.7h0.8M313.5 230.5h0.8M312.3 230.9h0.8M307.4 226.7h0.8M311.7 213.6h0.8M320.2 201.8h0.8M314.0 210.4h0.8M307.1 223.5h0.8M317.1 224.3h0.8M312.0 229.2h0.8M315.4 224.8h0.8M308.8 219.1h0.8M308.1 222.0h0.8M313.3 210.7h0.8M306.0 228.4h0.8M313.2 227.8h0.8M319.2 204.8h0.8M311.2 229.8h0.8M316.1 207.7h0.8M315.2 226.0h0.8M309.1 230.6h0.8M320.7 208.8h0.8M311.4 229.6h0.8M316.7 207.0h0.8M319.6 215.2h0.8M307.1 224.5h0.8M306.9 232.8h0.8M318.7 206.2h0.8M320.0 202.5h0.8M314.9 208.4h0.8M312.3 229.1h0.8M306.5 232.1h0.8M310.3 215.8h0.8M307.1 227.7h0.8M307.5 230.4h0.8M311.1 232.6h0.8M314.0 227.9h0.8M320.7 208.0h0.8M307.6 235.0h0.8M318.3 217.4h0.8M315.2 209.5h0.8M317.0 221.2h0.8M318.6 218.2h0.8M307.1 232.5h0.8M318.1 204.8h0.8M310.2 216.8h0.8M309.4 230.8h0.8M320.1 208.6h0.8M310.6 217.4h0.8M319.8 214.8h0.8M311.4 214.9h0.8M310.0 218.6h0.8M317.9 221.9h0.8M321.6 205.4h0.8M308.7 233.7h0.8M321.6 201.2h0.8M309.8 217.6h0.8M309.1 229.9h0.8M307.0 229.1h0.8M305.1 231.3h0.8M310.3 217.2h0.8M317.8 218.7h0.8M316.0 226.7h0.8M320.5 203.7h0.8M315.2 209.0h0.8M321.9 204.4h0.8M317.5 221.4h0.8M310.0 230.8h0.8M317.6 219.5h0.8M317.4 219.7h0.8M321.6 206.5h0.8M306.8 223.9h0.8M307.8 221.6h0.8M306.9 228.3h0.8M311.0 216.0h0.8M311.8 212.9h0.8M313.1 230.7h0.8M315.7 227.2h0.8M308.4 234.8h0.8M321.3 209.0h0.8M318.7 219.6h0.8M306.3 231.8h0.8M320.9 212.7h0.8M320.6 205.7h0.8M317.3 223.8h0.8M312.8 212.4h0.8M311.3 215.3h0.8M321.3 210.5h0.8M310.6 214.6h0.8M321.4 202.5h0.8M311.5 214.8h0.8M320.5 205.6h0.8M315.0 209.7h0.8M319.4 213.4h0.8M306.9 224.7h0.8M320.8 208.7h0.8M317.4 205.3h0.8M310.6 216.0h0.8M320.3 204.4h0.8M306.5 224.1h0.8M316.1 223.4h0.8M320.2 208.7h0.8M305.6 229.1h0.8M310.7 230.3h0.8M311.5 213.8h0.8M320.5 207.8h0.8M320.7 212.8h0.8M317.4 205.9h0.8M309.3 233.7h0.8M311.3 230.2h0.8M306.1 232.2h0.8M308.4 232.4h0.8M308.5 231.1h0.8M318.9 215.1h0.8M319.2 219.3h0.8M307.4 232.1h0.8M315.6 225.0h0.8M314.8 208.5h0.8M306.4 228.6h0.8M314.8 228.8h0.8M310.1 216.6h0.8M320.3 210.0h0.8M310.2 216.4h0.8M310.3 230.3h0.8M321.4 202.4h0.8M305.5 227.4h0.8M315.4 209.6h0.8M307.5 230.5h0.8M319.4 203.5h0.8M307.5 230.5h0.8M312.1 231.0h0.8M319.3 205.8h0.8M320.0 206.4h0.8M309.3 232.4h0.8M305.8 231.5h0.8M310.4 216.2h0.8M308.4 223.2h0.8M308.0 221.4h0.8M316.4 223.3h0.8M317.2 223.2h0.8M313.5 230.7h0.8M318.1 204.1h0.8M321.8 201.3h0.8M313.4 229.4h0.8M311.4 229.3h0.8M312.5 229.7h0.8M307.0 223.3h0.8M307.4 229.3h0.8M309.2 231.3h0.8M309.0 217.4h0.8M312.6 231.8h0.8M310.5 231.7h0.8M317.0 206.7h0.8M308.4 219.1h0.8M320.2 209.9h0.8M308.8 230.4h0.8M320.4 203.1h0.8M307.0 227.8h0.8M312.3 214.2h0.8M317.0 207.3h0.8M305.3 232.6h0.8M307.8 224.6h0.8M319.5 214.2h0.8M305.7 230.6h0.8M311.5 231.5h0.8M313.1 229.8h0.8M305.2 231.3h0.8M321.8 203.8h0.8M319.1 203.2h0.8M305.7 226.8h0.8M307.3 232.9h0.8M311.4 232.2h0.8M319.5 217.0h0.8M312.9 212.3h0.8M318.2 221.3h0.8M307.5 234.0h0.8M320.8 207.0h0.8M312.6 213.3h0.8M307.3 230.9h0.8M313.7 209.7h0.8M319.9 212.4h0.8M310.1 217.1h0.8M318.3 204.6h0.8M319.7 213.4h0.8M307.7 234.5h0.8M320.4 209.1h0.8M317.0 222.9h0.8M319.5 205.7h0.8M307.0 221.9h0.8M319.6 205.9h0.8M319.3 214.2h0.8M306.2 225.6h0.8M309.2 230.3h0.8M319.2 204.2h0.8M305.8 232.9h0.8M319.4 217.0h0.8M308.0 229.8h0.8M321.0 211.5h0.8M307.9 235.0h0.8M313.0 230.8h0.8M306.4 226.5h0.8M307.3 225.8h0.8M318.5 219.2h0.8M315.4 224.7h0.8M315.1 209.2h0.8M321.2 204.8h0.8M308.0 228.7h0.8M308.0 230.2h0.8M310.1 215.5h0.8M310.3 216.7h0.8M319.3 204.5h0.8M309.6 231.8h0.8M317.0 207.5h0.8M308.0 222.0h0.8M312.8 230.6h0.8M319.4 206.1h0.8M305.8 229.5h0.8M309.6 219.3h0.8M310.9 216.7h0.8M314.2 227.3h0.8M312.5 229.2h0.8M308.5 221.3h0.8M318.0 222.0h0.8M310.3 231.0h0.8M320.8 212.2h0.8M306.4 229.9h0.8M307.7 234.7h0.8M312.2 230.7h0.8M306.2 225.6h0.8M321.2 202.4h0.8M314.5 226.5h0.8M314.0 209.5h0.8M306.6 225.3h0.8M311.4 215.5h0.8M308.8 230.3h0.8M320.2 209.8h0.8M309.1 231.6h0.8M306.7 225.3h0.8M310.7 232.0h0.8M314.1 227.7h0.8M307.2 233.5h0.8M316.7 205.6h0.8M311.3 232.4h0.8M309.7 230.5h0.8M320.5 214.7h0.8M321.5 208.9h0.8M318.7 204.8h0.8M314.2 209.5h0.8M306.1 226.7h0.8M319.7 212.4h0.8" stroke="#3a78c4" stroke-width="0.8" fill="none"/>
<path d="M309.4 224.4h0.8M309.9 227.1h0.8M318.5 212.9h0.8M313.4 223.6h0.8M314.8 222.8h0.8M310.3 226.3h0.8M316.2 211.5h0.8M314.2 211.4h0.8M311.2 216.4h0.8M313.2 226.6h0.8M319.9 209.9h0.8M318.7 207.3h0.8M312.8 223.9h0.8M316.7 219.1h0.8M312.7 215.2h0.8M317.5 207.3h0.8M319.5 209.0h0.8M310.7 221.4h0.8M316.4 218.1h0.8M313.7 212.3h0.8M313.4 213.0h0.8M309.2 222.7h0.8M314.5 222.6h0.8M310.9 218.4h0.8M319.2 206.4h0.8M312.8 216.2h0.8M317.9 210.0h0.8M315.1 222.1h0.8M319.1 210.7h0.8M312.6 217.2h0.8M318.3 212.0h0.8M311.6 216.8h0.8M314.8 221.7h0.8M319.1 207.7h0.8M317.8 216.8h0.8M309.7 226.6h0.8M309.4 229.1h0.8M310.0 223.0h0.8M317.1 211.3h0.8M311.7 215.5h0.8M312.4 227.6h0.8M318.6 207.0h0.8M310.0 225.7h0.8M314.6 213.7h0.8M317.5 208.3h0.8M317.5 207.7h0.8M313.8 213.9h0.8M316.6 210.3h0.8M318.3 213.6h0.8M315.9 209.5h0.8M317.7 218.6h0.8M318.6 209.0h0.8M319.5 211.2h0.8M310.9 218.1h0.8M314.3 223.1h0.8M319.5 211.4h0.8M312.7 227.4h0.8M310.6 218.6h0.8M309.0 225.5h0.8M310.6 228.1h0.8M316.7 219.4h0.8M312.4 225.4h0.8M311.0 218.6h0.8M312.9 223.7h0.8M317.0 220.2h0.8M317.4 216.1h0.8M317.6 217.0h0.8M311.8 216.1h0.8M316.8 221.0h0.8M316.0 210.0h0.8M318.3 214.8h0.8M314.7 222.5h0.8M316.1 221.0h0.8M317.9 214.7h0.8M319.7 207.8h0.8M314.8 211.7h0.8M309.5 222.5h0.8M319.4 210.4h0.8M309.2 224.4h0.8M317.0 215.8h0.8M319.2 211.7h0.8M308.8 227.4h0.8M318.2 212.7h0.8M315.6 210.9h0.8M319.2 212.5h0.8M313.7 213.4h0.8M309.5 220.5h0.8M313.8 224.2h0.8M308.9 227.9h0.8M311.0 226.4h0.8M316.2 208.9h0.8M314.8 222.4h0.8M309.2 224.8h0.8M319.5 211.2h0.8M310.8 222.3h0.8M318.7 208.4h0.8M317.0 208.2h0.8M315.0 220.9h0.8M318.8 208.8h0.8M309.2 226.4h0.8M313.6 225.3h0.8M310.3 220.0h0.8M308.4 226.3h0.8M319.4 207.3h0.8M318.0 217.4h0.8M315.2 223.6h0.8M319.0 213.5h0.8M313.0 213.8h0.8M317.9 207.4h0.8M315.0 212.1h0.8M317.9 208.4h0.8M313.2 216.1h0.8M309.0 228.4h0.8M314.4 224.2h0.8M314.6 221.7h0.8M318.8 207.3h0.8M314.9 223.3h0.8M311.3 218.4h0.8M312.9 225.1h0.8M316.1 219.6h0.8M318.7 210.2h0.8M319.4 206.7h0.8M316.8 219.8h0.8M317.9 210.0h0.8M315.0 224.0h0.8M311.4 224.5h0.8M318.8 212.0h0.8M320.1 208.0h0.8M314.2 222.6h0.8M316.8 210.3h0.8M310.8 220.6h0.8M318.3 213.2h0.8M317.7 215.0h0.8M319.1 210.0h0.8M317.9 207.9h0.8M312.1 225.3h0.8M310.9 219.1h0.8M309.7 221.6h0.8M318.0 207.1h0.8M319.8 206.7h0.8M317.5 212.6h0.8M314.1 224.3h0.8M317.7 213.9h0.8M312.5 227.0h0.8M319.6 207.7h0.8M311.4 217.1h0.8M317.0 208.8h0.8M316.6 217.2h0.8M316.1 209.9h0.8M309.6 229.7h0.8M310.2 229.7h0.8M311.7 225.9h0.8M319.9 209.7h0.8M313.2 215.8h0.8M316.4 211.1h0.8M318.7 209.7h0.8M319.4 209.4h0.8M310.2 218.9h0.8M308.2 227.1h0.8M317.5 209.9h0.8M318.2 212.4h0.8M315.1 211.1h0.8M310.0 224.4h0.8M310.2 226.9h0.8M313.9 211.9h0.8M316.9 219.6h0.8M310.7 225.0h0.8M319.0 210.0h0.8M311.0 228.7h0.8M313.8 223.7h0.8M317.1 217.3h0.8M310.3 226.2h0.8M314.0 222.9h0.8M319.4 212.2h0.8M318.2 215.1h0.8M311.8 219.0h0.8M311.5 218.7h0.8M312.5 215.8h0.8M314.9 212.1h0.8M314.4 212.2h0.8M312.2 227.0h0.8M310.8 226.0h0.8M309.9 221.4h0.8M310.0 229.4h0.8M310.0 222.6h0.8M314.4 223.8h0.8M308.4 224.5h0.8M317.3 209.8h0.8M316.1 219.3h0.8M311.5 216.3h0.8M316.7 211.4h0.8M309.3 226.7h0.8M316.9 209.8h0.8M309.3 221.9h0.8M310.8 228.1h0.8M317.0 216.1h0.8M317.0 208.2h0.8M316.2 218.6h0.8M319.2 210.3h0.8M308.3 224.2h0.8M310.0 225.5h0.8M308.8 226.3h0.8M314.2 213.9h0.8M317.8 215.6h0.8M313.5 214.7h0.8M317.7 208.1h0.8M315.5 220.2h0.8M318.0 217.0h0.8M310.4 223.9h0.8M310.9 220.0h0.8M309.7 221.0h0.8M315.5 212.0h0.8M314.5 223.0h0.8M310.5 218.3h0.8M315.5 210.3h0.8M308.8 222.6h0.8M317.8 211.9h0.8M309.7 226.1h0.8M317.6 215.7h0.8M316.5 221.8h0.8M309.0 224.3h0.8M314.4 213.2h0.8M318.4 206.8h0.8M316.8 211.2h0.8M318.3 214.5h0.8M310.4 222.4h0.8M318.4 213.2h0.8M310.9 218.9h0.8M310.6 225.9h0.8M316.0 219.3h0.8M316.3 209.6h0.8M311.3 224.1h0.8M310.3 221.1h0.8M314.4 213.2h0.8M317.1 217.2h0.8M311.1 226.6h0.8M317.2 209.0h0.8M317.7 208.7h0.8M311.2 219.0h0.8M319.6 211.3h0.8M319.8 207.5h0.8M317.5 210.0h0.8M311.8 227.9h0.8M317.7 210.0h0.8M315.9 210.9h0.8M317.9 213.3h0.8M313.9 212.6h0.8M311.5 225.2h0.8M310.9 225.0h0.8M310.4 226.5h0.8M308.1 227.3h0.8M316.5 219.6h0.8M310.6 226.7h0.8M313.4 213.1h0.8M314.3 222.2h0.8M316.3 221.6h0.8M310.5 223.5h0.8M316.9 216.3h0.8M317.9 213.9h0.8M315.7 220.2h0.8M318.4 210.2h0.8M314.6 224.4h0.8M319.7 208.9h0.8M317.7 214.2h0.8M318.2 207.3h0.8M309.4 227.1h0.8M318.7 207.6h0.8M309.9 219.3h0.8M318.4 214.6h0.8M317.4 210.1h0.8M311.6 228.9h0.8M318.5 211.0h0.8M316.4 209.5h0.8M309.6 225.7h0.8M318.5 207.9h0.8M317.4 217.2h0.8M318.7 208.5h0.8M316.5 217.7h0.8M309.5 229.4h0.8M315.9 219.6h0.8M317.6 207.7h0.8M317.0 218.4h0.8M311.3 225.3h0.8M318.4 212.9h0.8M316.1 219.0h0.8M316.2 219.7h0.8M310.4 219.2h0.8M319.0 207.2h0.8M311.7 216.0h0.8M316.0 211.6h0.8M316.4 220.8h0.8M310.1 226.3h0.8M310.7 225.2h0.8M317.3 208.2h0.8M308.4 225.7h0.8M309.1 221.4h0.8M308.7 229.0h0.8M314.5 212.9h0.8M316.9 218.9h0.8M311.1 225.9h0.8M309.8 222.3h0.8M314.1 211.8h0.8M309.9 228.0h0.8M316.4 217.8h0.8M310.7 222.7h0.8M311.6 226.7h0.8M309.6 227.3h0.8M318.1 209.1h0.8M312.4 215.2h0.8M316.8 208.0h0.8M309.5 229.5h0.8M312.7 216.0h0.8M309.6 221.3h0.8M318.7 207.7h0.8M313.6 225.2h0.8M312.0 215.8h0.8M309.2 229.6h0.8M318.7 208.3h0.8M308.6 224.6h0.8M317.1 219.4h0.8M318.4 212.2h0.8M316.3 211.9h0.8M311.3 228.7h0.8M317.8 216.7h0.8M311.1 226.2h0.8M311.5 224.7h0.8M315.4 222.1h0.8M311.9 224.9h0.8M317.6 213.2h0.8M310.0 227.4h0.8M318.5 209.5h0.8M319.1 212.9h0.8M311.7 218.4h0.8M317.6 209.8h0.8M318.5 211.7h0.8M319.4 207.6h0.8M316.5 211.5h0.8M317.6 208.0h0.8M316.3 209.3h0.8M309.4 222.9h0.8M311.0 220.9h0.8M319.3 213.4h0.8M317.0 209.7h0.8M311.1 226.1h0.8M309.2 228.8h0.8M316.1 222.3h0.8M315.0 222.4h0.8M318.9 211.8h0.8M311.4 226.0h0.8M314.1 223.4h0.8M310.3 220.3h0.8M316.5 209.5h0.8M308.8 224.6h0.8M314.8 223.8h0.8M313.0 226.7h0.8M313.8 213.9h0.8M312.5 226.5h0.8M311.0 219.1h0.8M310.9 225.6h0.8M308.8 227.7h0.8M311.6 216.5h0.8M314.3 223.0h0.8M311.2 221.3h0.8M310.6 220.0h0.8M313.6 214.3h0.8M310.4 223.9h0.8M312.9 227.6h0.8M317.1 217.6h0.8M313.9 226.1h0.8M309.6 227.1h0.8M312.9 226.1h0.8M310.7 227.9h0.8M309.1 221.5h0.8M310.1 225.6h0.8M318.4 206.8h0.8M312.9 225.0h0.8M308.3 225.8h0.8M314.5 211.0h0.8M315.5 220.6h0.8M313.6 214.2h0.8M311.8 224.7h0.8M310.2 223.5h0.8M310.7 218.6h0.8M315.8 211.7h0.8M310.2 223.9h0.8M317.1 210.9h0.8M314.2 213.6h0.8M312.3 227.0h0.8M312.5 226.6h0.8" stroke="#3398b0" stroke-width="0.8" fill="none"/>
<path d="M313.9 217.1h0.8M314.8 218.6h0.8M316.2 212.1h0.8M314.5 220.8h0.8M311.5 223.2h0.8M313.9 214.9h0.8M312.3 219.7h0.8M313.4 220.6h0.8M315.5 218.8h0.8M313.0 216.6h0.8M314.4 216.0h0.8M316.6 212.4h0.8M315.6 217.5h0.8M313.2 220.7h0.8M313.6 220.1h0.8M314.6 216.0h0.8M314.8 216.0h0.8M313.9 222.0h0.8M314.5 221.3h0.8M315.1 219.0h0.8M313.7 216.2h0.8M316.0 213.2h0.8M313.1 220.2h0.8M313.4 221.3h0.8M316.5 212.0h0.8M316.1 217.4h0.8M316.1 213.5h0.8M316.1 216.1h0.8M313.9 215.7h0.8M314.7 221.0h0.8M317.3 214.4h0.8M314.5 221.3h0.8M311.9 222.5h0.8M316.3 213.8h0.8M313.2 216.2h0.8M313.0 216.5h0.8M314.6 214.0h0.8M316.4 215.4h0.8M316.9 214.7h0.8M315.1 217.9h0.8M314.8 219.0h0.8M311.6 221.7h0.8M313.7 220.4h0.8M315.9 212.6h0.8M314.5 216.3h0.8M311.2 222.8h0.8M315.6 213.5h0.8M315.9 214.2h0.8M315.7 215.6h0.8M314.6 218.1h0.8M314.0 219.1h0.8M312.8 217.3h0.8M313.0 222.5h0.8M312.1 221.5h0.8M314.8 220.6h0.8M314.4 219.1h0.8M313.2 216.8h0.8M313.2 216.6h0.8M314.8 220.3h0.8M313.5 222.7h0.8M313.1 222.8h0.8M315.8 219.0h0.8M317.4 212.3h0.8M315.1 213.2h0.8M315.0 216.4h0.8M312.7 217.3h0.8M316.0 215.6h0.8M314.8 214.2h0.8M313.6 219.0h0.8M314.5 215.9h0.8M312.3 223.6h0.8M313.1 221.2h0.8M314.9 214.1h0.8M312.7 218.7h0.8M314.2 220.0h0.8M312.0 222.8h0.8M315.3 214.8h0.8M316.9 213.7h0.8M316.6 214.0h0.8M312.0 223.7h0.8M314.8 215.4h0.8M312.6 219.2h0.8M316.9 214.0h0.8M316.3 217.3h0.8M315.8 216.2h0.8M316.0 215.3h0.8M312.4 217.8h0.8M315.3 215.9h0.8M314.3 215.7h0.8M315.9 214.7h0.8M312.9 216.8h0.8M315.1 217.0h0.8M314.5 214.3h0.8M313.1 219.4h0.8M313.8 219.6h0.8M312.1 219.5h0.8M315.4 219.0h0.8M312.3 221.9h0.8M315.3 213.5h0.8M316.4 216.5h0.8M317.0 213.9h0.8M315.1 214.2h0.8M314.2 218.9h0.8M311.9 219.2h0.8M313.8 215.9h0.8M316.6 213.6h0.8M312.9 221.7h0.8M316.2 216.8h0.8M313.2 219.3h0.8M313.6 216.0h0.8M314.2 218.2h0.8M316.7 213.2h0.8M316.0 216.7h0.8M312.0 221.9h0.8M313.3 219.2h0.8M314.7 215.8h0.8M314.5 216.1h0.8M312.3 220.2h0.8M313.0 221.7h0.8M313.2 221.5h0.8M311.6 220.1h0.8M315.3 214.5h0.8M315.7 217.8h0.8M315.3 216.8h0.8M315.6 215.2h0.8M311.9 221.8h0.8M316.7 213.2h0.8M314.8 220.7h0.8M311.8 221.1h0.8M314.1 219.7h0.8M314.4 215.5h0.8M314.6 216.8h0.8M314.2 214.8h0.8M311.6 220.2h0.8M313.5 221.2h0.8M315.9 213.6h0.8M312.9 221.4h0.8M312.6 220.4h0.8M313.3 219.5h0.8M314.5 221.8h0.8M313.7 219.6h0.8M315.5 218.6h0.8M312.0 224.2h0.8M315.9 213.7h0.8M315.0 218.4h0.8M315.1 214.4h0.8M313.1 218.8h0.8M311.8 222.5h0.8M316.9 215.8h0.8M315.0 215.2h0.8M312.5 222.7h0.8M314.8 215.3h0.8M311.8 219.9h0.8M316.5 214.1h0.8M311.2 222.3h0.8M311.5 223.6h0.8M314.8 219.2h0.8M314.4 219.3h0.8M314.6 214.2h0.8M314.5 214.9h0.8M316.9 212.6h0.8M314.8 217.9h0.8M312.5 220.5h0.8M315.3 213.9h0.8M314.6 217.3h0.8M312.6 221.3h0.8M316.4 212.7h0.8M311.3 221.7h0.8M316.6 213.4h0.8M314.9 215.2h0.8M315.1 220.3h0.8M314.4 219.1h0.8M312.6 218.2h0.8M315.3 213.2h0.8M312.0 221.4h0.8M314.9 219.4h0.8" stroke="#3fb090" stroke-width="0.8" fill="none"/>
<ellipse cx="315.5" cy="224.5" rx="4.0" ry="1.7" transform="rotate(-66 315.5 224.5)" fill="#6fd060" opacity="0.8" filter="url(#bl2)"/>
<rect x="324.5" y="178.5" width="38.0" height="60.0" fill="none" stroke="#000" stroke-width="1"/>
<text x="344.0" y="188.0" font-size="8" text-anchor="middle" fill="#0a0a0a" style="stroke-width:0.12px">RIG-I+</text>
<text x="344.0" y="197.0" font-size="8" text-anchor="middle" fill="#0a0a0a" style="stroke-width:0.12px">7.85%</text>
<rect x="370.2" y="174.3" width="66.2" height="66.8" fill="#fff" stroke="#b8b8b8" stroke-width="0.8"/>
<path d="M372.2 240.8v-1.8M377.0 240.8v-1.0M379.7 240.8v-1.0M381.7 240.8v-1.0M383.2 240.8v-1.0M384.5 240.8v-1.0M385.6 240.8v-1.0M386.5 240.8v-1.0M387.3 240.8v-1.0M388.0 240.8v-1.8M392.8 240.8v-1.0M395.5 240.8v-1.0M397.5 240.8v-1.0M399.0 240.8v-1.0M400.3 240.8v-1.0M401.4 240.8v-1.0M402.3 240.8v-1.0M403.1 240.8v-1.0M403.8 240.8v-1.8M408.6 240.8v-1.0M411.3 240.8v-1.0M413.3 240.8v-1.0M414.8 240.8v-1.0M416.1 240.8v-1.0M417.2 240.8v-1.0M418.1 240.8v-1.0M418.9 240.8v-1.0M419.6 240.8v-1.8M424.4 240.8v-1.0M427.1 240.8v-1.0M429.1 240.8v-1.0M430.6 240.8v-1.0M431.9 240.8v-1.0M433.0 240.8v-1.0M433.9 240.8v-1.0M434.7 240.8v-1.0M370.5 179.3h1.4M370.5 186.5h1.4M370.5 193.7h1.4M370.5 200.9h1.4M370.5 208.1h1.4M370.5 215.3h1.4M370.5 222.5h1.4M370.5 229.7h1.4M370.5 236.9h1.4" stroke="#444" stroke-width="0.6" fill="none"/>
<ellipse cx="385.0" cy="217.5" rx="12.3" ry="3.4" transform="rotate(-65 385.0 217.5)" fill="#3398b0" opacity="0.38" filter="url(#bl)"/>
<path d="M400.7 222.9h0.7M391.7 211.9h0.7M400.5 213.2h0.7M398.7 220.0h0.7M404.0 207.4h0.7M392.4 224.1h0.7M400.4 227.4h0.7M406.2 215.9h0.7M395.0 213.4h0.7M398.4 229.1h0.7M393.7 225.9h0.7M394.5 211.4h0.7M395.1 210.1h0.7M399.8 220.6h0.7" stroke="#7f9ade" stroke-width="0.7" fill="none"/>
<path d="M393.5 197.3h0.8M396.1 189.0h0.8M374.8 230.5h0.8M394.4 195.2h0.8M396.5 187.5h0.8M380.6 237.0h0.8M389.9 202.2h0.8M393.3 207.6h0.8M383.4 210.2h0.8M380.7 233.7h0.8M393.4 207.6h0.8M376.8 218.2h0.8M389.3 199.5h0.8M389.2 225.3h0.8M384.6 206.8h0.8M378.3 218.3h0.8M392.4 199.4h0.8M390.3 200.6h0.8M384.3 208.5h0.8M383.7 231.9h0.8M381.0 234.4h0.8M382.2 235.6h0.8M374.6 233.1h0.8M386.5 227.6h0.8M372.6 230.9h0.8M389.9 222.7h0.8M376.1 236.3h0.8M375.7 232.4h0.8M395.3 199.6h0.8M389.9 201.3h0.8M384.9 235.8h0.8M390.2 201.0h0.8M373.3 226.5h0.8M390.6 200.7h0.8M396.1 186.5h0.8M388.1 203.6h0.8M385.6 206.4h0.8M389.9 218.9h0.8M377.4 221.4h0.8M394.1 200.2h0.8M389.0 222.6h0.8M391.9 200.8h0.8M383.8 231.3h0.8M388.4 222.9h0.8M389.3 221.1h0.8M395.3 201.0h0.8M394.4 194.3h0.8M392.4 200.4h0.8M380.0 215.3h0.8M395.8 206.5h0.8M387.7 224.1h0.8M393.8 199.1h0.8M377.4 234.9h0.8M393.4 200.4h0.8M386.1 206.0h0.8M395.4 203.1h0.8M375.9 223.6h0.8M379.3 216.4h0.8M377.4 219.0h0.8M391.2 215.0h0.8M380.7 233.9h0.8M387.1 205.0h0.8M389.3 202.7h0.8M377.5 220.8h0.8M393.1 213.3h0.8M392.3 211.2h0.8M392.1 222.1h0.8M382.7 211.1h0.8M395.8 196.3h0.8M391.4 215.5h0.8M393.4 207.3h0.8M381.5 210.3h0.8M393.0 208.1h0.8M391.2 215.4h0.8M377.0 222.5h0.8M391.7 213.3h0.8M383.7 208.1h0.8M390.9 200.7h0.8M374.3 238.6h0.8M398.5 195.7h0.8M392.0 216.7h0.8M381.6 232.9h0.8M377.2 236.3h0.8M388.9 222.3h0.8M396.3 197.1h0.8M393.6 212.4h0.8M388.2 226.6h0.8M379.9 234.7h0.8M387.3 204.5h0.8M376.1 219.9h0.8M385.1 230.1h0.8M391.7 214.3h0.8M379.6 216.2h0.8M393.8 210.4h0.8M386.7 204.5h0.8M392.0 216.8h0.8M377.7 219.9h0.8M384.6 230.5h0.8M384.9 207.4h0.8M392.8 200.0h0.8M374.8 224.6h0.8M374.8 230.9h0.8M389.5 223.9h0.8M375.0 227.4h0.8M393.9 200.3h0.8M377.0 221.9h0.8M385.6 234.1h0.8M387.8 229.1h0.8M394.0 203.9h0.8M377.4 220.4h0.8M398.9 193.4h0.8M386.7 234.3h0.8M372.0 224.6h0.8M374.5 226.2h0.8M385.7 228.9h0.8M372.9 229.0h0.8M376.3 224.3h0.8M384.3 209.0h0.8M397.5 193.1h0.8M388.0 230.2h0.8M389.8 219.3h0.8M396.2 202.2h0.8M394.7 194.9h0.8M382.0 210.2h0.8M393.2 199.2h0.8M393.0 200.4h0.8M391.8 199.6h0.8M388.2 236.4h0.8M394.3 202.9h0.8M388.5 223.6h0.8M385.1 234.4h0.8M377.0 221.0h0.8M378.7 217.8h0.8M393.7 205.3h0.8M375.0 228.7h0.8M373.1 229.9h0.8M375.7 225.1h0.8M398.2 197.4h0.8M374.7 232.2h0.8M391.9 212.4h0.8M389.9 219.9h0.8M393.8 199.4h0.8M394.8 202.3h0.8M391.5 197.7h0.8M378.7 237.4h0.8M375.5 234.0h0.8M392.1 199.5h0.8M373.1 233.8h0.8M393.3 191.9h0.8M391.5 200.8h0.8M373.7 220.9h0.8M375.3 220.0h0.8M392.2 215.7h0.8M394.6 196.2h0.8M380.0 216.0h0.8M382.1 212.6h0.8M390.3 217.9h0.8M382.9 232.4h0.8M375.0 237.8h0.8M375.6 226.5h0.8M391.7 200.0h0.8M380.3 235.4h0.8M392.1 197.9h0.8M380.2 234.1h0.8M391.5 200.7h0.8M375.3 230.3h0.8M388.1 226.0h0.8M371.8 225.5h0.8M393.5 200.0h0.8M392.4 212.8h0.8M374.8 234.3h0.8M382.6 233.7h0.8M375.9 223.7h0.8M383.6 231.7h0.8M390.6 217.0h0.8M395.0 198.1h0.8M390.7 200.6h0.8M378.4 217.4h0.8M394.1 204.7h0.8M385.9 206.1h0.8M374.4 225.1h0.8M374.0 233.2h0.8M392.0 213.6h0.8M376.0 237.4h0.8M394.8 210.0h0.8M383.1 231.6h0.8M393.0 199.5h0.8M375.4 221.0h0.8M380.5 215.3h0.8M390.8 217.7h0.8M387.3 226.0h0.8M386.6 205.6h0.8M379.4 214.8h0.8M383.3 232.6h0.8M389.5 224.4h0.8M391.7 217.2h0.8M393.7 199.5h0.8M395.2 202.5h0.8M381.7 209.6h0.8M392.1 214.0h0.8M394.0 202.3h0.8M379.7 215.6h0.8M380.9 214.3h0.8M392.0 212.8h0.8M382.6 233.1h0.8M379.1 216.9h0.8M375.3 227.6h0.8M393.6 200.9h0.8M393.0 215.9h0.8M385.2 235.1h0.8M382.6 211.3h0.8M375.6 226.0h0.8M391.6 197.4h0.8M382.9 231.7h0.8M392.8 210.8h0.8M390.2 221.7h0.8M374.9 233.4h0.8M377.9 235.7h0.8M377.4 236.0h0.8M384.7 234.0h0.8M391.9 198.3h0.8M375.8 232.9h0.8M384.1 209.2h0.8M395.9 206.8h0.8M394.2 201.5h0.8M376.5 224.0h0.8M388.7 202.8h0.8M378.2 210.9h0.8M388.9 232.8h0.8M372.9 223.2h0.8M393.1 208.3h0.8M393.7 212.6h0.8M394.2 202.5h0.8M377.8 218.7h0.8M383.2 232.1h0.8M389.1 222.3h0.8M391.7 195.6h0.8M374.2 223.1h0.8M392.6 197.7h0.8M392.3 215.2h0.8M387.7 204.5h0.8M375.7 233.6h0.8M379.9 234.0h0.8M386.4 227.0h0.8M390.1 200.3h0.8M381.9 233.2h0.8M393.0 199.1h0.8M377.4 235.0h0.8M381.1 208.9h0.8M394.0 204.4h0.8M377.2 235.8h0.8M395.8 198.1h0.8" stroke="#3f55b8" stroke-width="0.8" fill="none"/>
<path d="M379.3 231.1h0.8M380.4 218.2h0.8M377.1 233.3h0.8M377.6 228.0h0.8M385.6 209.6h0.8M386.4 223.7h0.8M383.8 229.9h0.8M391.6 210.2h0.8M390.4 204.6h0.8M390.4 215.9h0.8M383.3 229.5h0.8M377.3 222.3h0.8M383.8 228.3h0.8M391.0 211.5h0.8M391.2 205.2h0.8M390.9 210.2h0.8M388.0 221.2h0.8M391.9 204.7h0.8M376.9 228.2h0.8M382.1 213.8h0.8M385.0 210.1h0.8M390.3 212.4h0.8M388.9 203.5h0.8M381.5 229.8h0.8M391.0 210.4h0.8M391.4 210.5h0.8M389.5 204.0h0.8M391.5 205.7h0.8M383.9 229.5h0.8M389.2 204.6h0.8M375.6 231.4h0.8M389.8 216.2h0.8M378.1 231.0h0.8M376.2 225.2h0.8M382.9 230.5h0.8M390.3 205.0h0.8M382.5 229.1h0.8M378.4 230.7h0.8M378.1 225.1h0.8M383.2 211.5h0.8M380.6 232.6h0.8M390.0 216.3h0.8M377.4 222.4h0.8M385.2 226.8h0.8M389.1 205.6h0.8M379.2 222.0h0.8M378.1 223.0h0.8M391.1 213.9h0.8M390.8 206.6h0.8M378.3 226.7h0.8M390.1 202.6h0.8M382.4 231.8h0.8M388.2 222.3h0.8M387.4 207.7h0.8M393.0 205.0h0.8M382.9 227.8h0.8M388.8 205.8h0.8M391.6 204.7h0.8M386.8 206.2h0.8M392.7 203.8h0.8M384.2 229.2h0.8M381.2 216.1h0.8M378.8 229.5h0.8M391.4 213.7h0.8M379.2 231.3h0.8M378.0 227.9h0.8M380.2 233.5h0.8M382.8 213.8h0.8M383.7 211.5h0.8M391.5 202.8h0.8M377.8 227.1h0.8M382.7 229.1h0.8M390.4 203.0h0.8M391.1 206.6h0.8M376.4 228.6h0.8M378.5 222.0h0.8M384.5 227.2h0.8M385.1 227.2h0.8M383.8 212.0h0.8M382.6 230.1h0.8M382.7 228.7h0.8M390.4 211.9h0.8M381.8 232.5h0.8M392.9 208.1h0.8M380.8 218.1h0.8M379.8 219.6h0.8M391.1 203.9h0.8M384.2 210.1h0.8M390.1 204.1h0.8M392.5 205.1h0.8M391.6 204.2h0.8M379.3 221.9h0.8M385.4 225.8h0.8M386.1 206.8h0.8M378.2 228.9h0.8M387.0 222.0h0.8M386.3 224.0h0.8M392.5 208.0h0.8M375.9 228.5h0.8M389.8 216.5h0.8M389.9 202.5h0.8M383.4 230.9h0.8M389.0 219.0h0.8M390.7 211.0h0.8M389.5 218.9h0.8M388.2 219.1h0.8M378.4 230.5h0.8M390.5 204.8h0.8M386.1 207.7h0.8M391.8 210.9h0.8M390.3 213.1h0.8M391.2 207.7h0.8M392.0 208.8h0.8M392.9 204.6h0.8M378.6 232.6h0.8M388.7 205.7h0.8M376.1 226.2h0.8M386.8 207.2h0.8M382.2 230.9h0.8M392.5 204.5h0.8M389.2 203.6h0.8M388.2 205.1h0.8M392.5 203.5h0.8M392.8 207.7h0.8M378.2 231.3h0.8M391.1 203.1h0.8M386.1 207.6h0.8M376.9 230.7h0.8M389.3 204.0h0.8M376.4 225.5h0.8M390.6 213.8h0.8M387.4 221.5h0.8M390.9 215.4h0.8M392.4 203.2h0.8M391.4 212.9h0.8M377.2 225.3h0.8M383.9 210.2h0.8M382.4 213.0h0.8M377.5 231.1h0.8M385.6 225.6h0.8M393.0 206.5h0.8M387.7 220.3h0.8M384.2 211.1h0.8M385.7 208.5h0.8M378.3 219.9h0.8M375.6 230.0h0.8M378.3 220.3h0.8M390.4 204.2h0.8M391.1 210.3h0.8M375.8 231.0h0.8M391.0 210.2h0.8M393.0 206.9h0.8M376.6 225.7h0.8M388.4 205.1h0.8M379.7 219.1h0.8M391.7 201.5h0.8M385.0 225.6h0.8M381.9 215.2h0.8M391.4 209.5h0.8M391.0 207.6h0.8M388.2 206.3h0.8M390.3 204.0h0.8M390.9 206.9h0.8M383.1 211.8h0.8M391.5 211.3h0.8M392.2 202.3h0.8M392.2 207.1h0.8M377.3 233.0h0.8M387.6 206.4h0.8M389.8 204.0h0.8M383.3 212.1h0.8M379.5 220.5h0.8M378.8 229.5h0.8M378.8 221.7h0.8M383.7 210.5h0.8M377.0 228.5h0.8M389.5 217.4h0.8M378.2 227.4h0.8M386.0 225.6h0.8M381.2 231.7h0.8M382.7 228.8h0.8M391.5 201.3h0.8M384.6 229.1h0.8M386.0 209.0h0.8M392.1 201.7h0.8M391.1 208.3h0.8M391.7 206.4h0.8M376.4 228.0h0.8M389.7 214.9h0.8M376.2 231.4h0.8M389.1 204.7h0.8M381.5 231.6h0.8M378.2 227.4h0.8M389.2 220.2h0.8M380.2 232.7h0.8M382.2 230.5h0.8M386.3 208.2h0.8M379.6 219.3h0.8M391.7 211.4h0.8M378.0 228.0h0.8M387.7 205.8h0.8M389.6 206.0h0.8M380.8 215.9h0.8M385.5 210.1h0.8M386.2 208.2h0.8M389.7 216.0h0.8M383.3 228.3h0.8M385.9 224.4h0.8M384.8 226.4h0.8M379.3 231.8h0.8M380.4 217.0h0.8M391.4 206.0h0.8M389.5 217.4h0.8M389.7 217.3h0.8M387.9 220.4h0.8M385.7 224.3h0.8M375.8 228.7h0.8M388.6 220.5h0.8M388.9 204.6h0.8M376.8 231.4h0.8M378.5 221.0h0.8M391.6 208.2h0.8M379.3 230.1h0.8M388.8 220.3h0.8M389.8 205.0h0.8M387.4 207.8h0.8M387.5 221.7h0.8M391.6 206.8h0.8M390.2 214.1h0.8M387.0 224.4h0.8M389.5 203.7h0.8M376.7 226.7h0.8M384.6 228.1h0.8M377.2 228.2h0.8M390.6 203.6h0.8M392.2 205.2h0.8M376.9 227.6h0.8M384.7 228.0h0.8M378.4 223.5h0.8M382.2 231.1h0.8M384.1 227.0h0.8M387.3 207.7h0.8M379.4 220.4h0.8M387.1 222.9h0.8M392.2 200.8h0.8M391.4 204.2h0.8M392.1 210.4h0.8M380.4 218.8h0.8M382.7 231.8h0.8M390.7 203.4h0.8M391.5 207.1h0.8M378.0 224.0h0.8M379.9 230.5h0.8M386.9 206.1h0.8M381.3 213.9h0.8M387.3 224.6h0.8M377.0 232.9h0.8M385.9 225.2h0.8M378.6 228.1h0.8M382.7 228.5h0.8M380.1 216.6h0.8M387.2 208.1h0.8M378.6 222.8h0.8M384.1 210.9h0.8M392.6 201.2h0.8M391.9 211.2h0.8M392.9 205.6h0.8M377.9 220.9h0.8M389.9 203.6h0.8M388.8 217.2h0.8M379.7 218.9h0.8M392.3 202.7h0.8M390.3 215.9h0.8M376.0 231.0h0.8M389.7 215.2h0.8M392.5 205.5h0.8M391.2 209.7h0.8M379.1 232.9h0.8M392.8 203.5h0.8M392.0 209.3h0.8M377.8 223.0h0.8M379.4 230.5h0.8M393.4 204.3h0.8M387.2 206.5h0.8M380.2 230.1h0.8M391.9 207.4h0.8M392.2 210.5h0.8M391.0 203.1h0.8M377.3 223.1h0.8M378.1 229.2h0.8M389.9 218.5h0.8M375.7 229.8h0.8M387.9 206.1h0.8M391.4 204.2h0.8M380.0 230.6h0.8M390.0 215.7h0.8M388.2 205.5h0.8M385.3 210.1h0.8M379.1 233.0h0.8M378.2 226.7h0.8M385.1 226.9h0.8M381.9 229.4h0.8M380.0 230.6h0.8M386.3 223.0h0.8M381.5 229.8h0.8M391.6 205.0h0.8M386.9 224.9h0.8M383.6 229.0h0.8M377.3 229.7h0.8M391.0 202.6h0.8M378.3 229.0h0.8M382.1 231.6h0.8M388.2 221.5h0.8M389.5 218.7h0.8M392.4 204.9h0.8M382.1 212.8h0.8M379.5 219.4h0.8M376.1 226.3h0.8M388.5 219.7h0.8M379.8 220.0h0.8M380.2 232.5h0.8M385.7 226.7h0.8M378.1 223.5h0.8M388.1 219.4h0.8M393.2 202.1h0.8M388.4 220.9h0.8M391.6 206.0h0.8M391.8 204.3h0.8M393.3 205.2h0.8M377.3 225.3h0.8M392.9 202.1h0.8M392.0 208.2h0.8M376.1 230.8h0.8M378.3 223.6h0.8M383.4 230.5h0.8M381.8 229.7h0.8M391.3 201.3h0.8M387.2 224.0h0.8M391.5 202.6h0.8M378.9 223.4h0.8M384.5 229.1h0.8M387.3 222.1h0.8M386.6 224.9h0.8M390.1 214.3h0.8M380.2 232.2h0.8M377.4 227.7h0.8M379.0 231.1h0.8M377.8 228.0h0.8M392.0 203.5h0.8M378.1 227.2h0.8M378.7 218.8h0.8M376.1 232.2h0.8M389.3 204.3h0.8M380.2 218.9h0.8M392.7 205.3h0.8M388.5 204.3h0.8M380.6 231.2h0.8M386.9 223.5h0.8M390.3 215.6h0.8M390.6 216.7h0.8M385.0 208.4h0.8M389.1 218.6h0.8M390.7 210.6h0.8M386.0 224.9h0.8M391.1 206.3h0.8M386.2 225.8h0.8M380.6 217.8h0.8M388.7 203.9h0.8M393.1 204.9h0.8M392.2 201.6h0.8M382.1 230.5h0.8M382.0 212.9h0.8M377.4 227.7h0.8M380.8 215.5h0.8M388.9 220.9h0.8M391.0 204.8h0.8M382.4 228.7h0.8M391.1 209.4h0.8M386.9 224.4h0.8M389.9 216.5h0.8M391.1 205.3h0.8M378.4 220.2h0.8M391.8 207.2h0.8M379.5 232.0h0.8M379.2 232.2h0.8M381.4 232.2h0.8M390.5 214.0h0.8M385.8 208.4h0.8M391.7 208.2h0.8M379.4 221.6h0.8M390.0 204.1h0.8M382.5 230.7h0.8M386.9 207.7h0.8M386.4 207.7h0.8M387.2 221.3h0.8M386.1 208.4h0.8M389.4 219.0h0.8M391.4 210.9h0.8M384.9 227.0h0.8M390.6 216.7h0.8M380.0 216.5h0.8M390.2 213.1h0.8M376.8 230.7h0.8M391.4 208.9h0.8M388.1 207.0h0.8M392.4 209.2h0.8M390.0 217.9h0.8M389.2 217.8h0.8M392.7 207.8h0.8M380.1 232.8h0.8M377.9 231.6h0.8M376.4 228.2h0.8M390.0 215.9h0.8M389.5 215.2h0.8M383.1 230.9h0.8M377.9 229.9h0.8M381.9 232.2h0.8M378.4 229.5h0.8M391.0 205.9h0.8M377.6 233.2h0.8M386.9 206.8h0.8" stroke="#3a78c4" stroke-width="0.8" fill="none"/>
<path d="M384.9 224.8h0.8M387.4 210.3h0.8M381.4 218.4h0.8M389.1 210.8h0.8M379.4 223.3h0.8M380.6 221.0h0.8M388.1 215.6h0.8M388.7 213.6h0.8M381.9 218.5h0.8M386.6 222.1h0.8M379.0 228.0h0.8M380.2 223.5h0.8M382.5 224.4h0.8M380.8 219.5h0.8M384.2 223.8h0.8M382.5 215.3h0.8M389.2 211.4h0.8M387.4 208.8h0.8M385.1 212.2h0.8M387.9 216.6h0.8M383.8 214.8h0.8M381.0 223.2h0.8M380.1 224.5h0.8M388.5 207.9h0.8M389.5 208.8h0.8M385.6 211.9h0.8M388.4 208.8h0.8M383.1 226.5h0.8M380.7 219.8h0.8M385.8 220.4h0.8M379.8 224.4h0.8M388.7 217.0h0.8M389.0 207.3h0.8M389.2 206.6h0.8M383.0 215.0h0.8M383.5 224.9h0.8M382.9 223.6h0.8M386.2 211.2h0.8M388.8 206.9h0.8M390.1 210.4h0.8M386.6 218.9h0.8M385.6 221.2h0.8M390.3 206.2h0.8M390.7 206.3h0.8M388.7 217.2h0.8M389.2 208.2h0.8M379.1 224.8h0.8M388.5 217.7h0.8M381.6 223.1h0.8M386.3 221.7h0.8M388.0 215.5h0.8M380.7 224.8h0.8M388.8 217.0h0.8M386.8 221.3h0.8M380.3 227.8h0.8M389.6 214.0h0.8M382.6 225.1h0.8M388.4 210.8h0.8M379.1 226.0h0.8M381.0 227.8h0.8M381.2 221.7h0.8M379.5 228.9h0.8M386.7 218.6h0.8M387.8 218.2h0.8M381.2 220.7h0.8M381.9 217.4h0.8M381.9 216.8h0.8M386.5 220.5h0.8M387.2 221.0h0.8M383.2 214.1h0.8M382.1 216.7h0.8M388.0 215.6h0.8M382.0 225.1h0.8M387.6 216.7h0.8M390.3 210.0h0.8M379.8 224.2h0.8M388.7 211.7h0.8M380.7 220.7h0.8M385.9 220.0h0.8M379.8 221.4h0.8M389.1 209.0h0.8M380.7 219.6h0.8M384.9 222.6h0.8M381.9 218.7h0.8M381.5 218.8h0.8M381.6 226.4h0.8M386.0 221.2h0.8M386.5 209.7h0.8M385.1 211.3h0.8M387.5 218.4h0.8M387.9 209.5h0.8M390.1 208.9h0.8M388.6 211.0h0.8M389.2 210.3h0.8M389.4 210.6h0.8M380.8 221.2h0.8M380.4 225.1h0.8M382.3 225.4h0.8M380.5 223.4h0.8M389.4 206.6h0.8M387.2 210.6h0.8M382.4 217.9h0.8M380.5 220.3h0.8M387.6 216.5h0.8M387.6 207.7h0.8M382.9 217.2h0.8M386.7 209.9h0.8M384.5 213.6h0.8M388.1 218.0h0.8M388.0 214.4h0.8M380.2 226.6h0.8M389.9 210.7h0.8M381.7 223.6h0.8M379.9 224.8h0.8M382.0 224.5h0.8M390.5 207.9h0.8M386.6 219.0h0.8M389.7 213.5h0.8M382.2 223.7h0.8M389.1 216.1h0.8M387.1 208.7h0.8M388.7 210.7h0.8M385.5 211.8h0.8M380.0 221.6h0.8M385.3 213.3h0.8M385.0 222.9h0.8M381.4 222.8h0.8M388.7 208.1h0.8M390.7 208.1h0.8M388.7 209.2h0.8M385.0 213.5h0.8M384.3 223.7h0.8M388.7 207.2h0.8M380.8 222.2h0.8M382.4 226.9h0.8M380.6 223.2h0.8M382.2 225.9h0.8M380.7 221.0h0.8M383.5 224.9h0.8M385.0 212.8h0.8M384.8 225.2h0.8M380.6 227.8h0.8M388.2 213.7h0.8M383.8 212.9h0.8M384.9 211.4h0.8M381.3 226.3h0.8M383.1 215.0h0.8M390.2 210.5h0.8M381.4 225.2h0.8M389.0 210.6h0.8M389.6 211.6h0.8M383.5 215.8h0.8M381.7 227.2h0.8M382.1 225.5h0.8M389.5 207.0h0.8M381.4 222.3h0.8M387.7 217.7h0.8M379.5 222.8h0.8M385.6 212.3h0.8M383.7 213.6h0.8M387.5 210.7h0.8M388.9 214.3h0.8M383.4 227.0h0.8M385.4 211.6h0.8M385.1 212.2h0.8M389.3 208.2h0.8M387.5 216.6h0.8M388.4 213.8h0.8M383.1 224.6h0.8M387.1 219.6h0.8M382.9 226.8h0.8M388.4 213.8h0.8M386.8 221.8h0.8M388.8 208.4h0.8M388.5 214.9h0.8M388.6 217.6h0.8M381.1 225.7h0.8M381.4 226.7h0.8M383.2 214.9h0.8M387.0 219.9h0.8M384.4 212.5h0.8M386.8 218.9h0.8M389.2 214.9h0.8M380.4 220.4h0.8M381.7 219.9h0.8M385.1 222.2h0.8M384.0 224.9h0.8M382.6 225.0h0.8M385.3 211.6h0.8M383.0 224.1h0.8M384.0 214.9h0.8M383.8 224.2h0.8M388.2 215.5h0.8M381.2 226.1h0.8M381.4 227.5h0.8M390.5 206.3h0.8M381.4 226.3h0.8M385.5 222.9h0.8M381.0 222.8h0.8M379.1 227.8h0.8M381.5 225.1h0.8M382.0 225.2h0.8M387.2 208.6h0.8M389.7 207.3h0.8M380.6 222.6h0.8M380.3 227.7h0.8M387.7 216.4h0.8M381.0 219.8h0.8M389.9 211.4h0.8M384.1 214.4h0.8M383.0 216.8h0.8M387.0 221.3h0.8M381.2 220.5h0.8M382.4 216.9h0.8M386.5 211.9h0.8M381.6 227.4h0.8M380.3 226.7h0.8M381.2 218.2h0.8M387.8 216.3h0.8M386.3 211.9h0.8M382.9 215.4h0.8M388.0 210.2h0.8M389.4 214.9h0.8M379.7 221.3h0.8M387.8 209.3h0.8M384.3 212.4h0.8M379.6 226.8h0.8M378.9 223.6h0.8M388.5 210.4h0.8M385.6 211.7h0.8M385.6 212.2h0.8M381.3 224.5h0.8M389.1 212.1h0.8M379.4 227.7h0.8M380.5 224.4h0.8M381.9 216.1h0.8M378.8 227.6h0.8M381.8 227.3h0.8M383.7 213.2h0.8M388.4 211.8h0.8M387.5 217.3h0.8M387.6 217.3h0.8M389.9 206.4h0.8M386.3 211.6h0.8M384.2 212.6h0.8M386.8 219.1h0.8M386.2 221.3h0.8M383.2 217.0h0.8M390.4 209.5h0.8M389.1 207.6h0.8M386.3 210.5h0.8M388.4 216.0h0.8M388.1 216.1h0.8M389.4 210.6h0.8M389.8 212.3h0.8M384.1 222.8h0.8M388.8 211.4h0.8M381.1 226.7h0.8M389.1 212.2h0.8M381.4 219.3h0.8M381.8 226.0h0.8M389.4 214.2h0.8M385.1 213.4h0.8M382.3 218.1h0.8M390.1 213.0h0.8M390.2 208.4h0.8M387.2 210.7h0.8M387.2 210.6h0.8M388.8 212.2h0.8M382.4 225.3h0.8M380.1 224.7h0.8M382.8 216.1h0.8M387.8 219.1h0.8M383.1 226.3h0.8M388.7 214.1h0.8M382.6 214.9h0.8M388.5 212.8h0.8M387.7 211.3h0.8M389.5 214.7h0.8M380.8 222.8h0.8M390.4 207.8h0.8M387.7 216.1h0.8M381.6 227.1h0.8M379.4 224.9h0.8M390.1 206.2h0.8M381.2 223.5h0.8M388.4 217.4h0.8M388.5 211.3h0.8M386.2 222.2h0.8M388.6 213.5h0.8M384.6 224.8h0.8M388.2 207.3h0.8M387.7 217.2h0.8M379.4 224.9h0.8M383.5 224.8h0.8M385.9 209.8h0.8M390.2 208.2h0.8M389.4 209.5h0.8M384.5 225.5h0.8M381.6 225.3h0.8M390.2 208.1h0.8M386.7 210.5h0.8M385.5 220.7h0.8M387.9 209.4h0.8M380.6 219.9h0.8M389.9 212.9h0.8M379.8 227.4h0.8M385.3 221.9h0.8M385.7 212.1h0.8M389.0 210.0h0.8M386.0 222.0h0.8M386.1 221.3h0.8M389.5 208.6h0.8M384.8 212.9h0.8M390.0 206.5h0.8M380.1 221.0h0.8M389.3 214.2h0.8M386.0 220.2h0.8M389.3 213.0h0.8M383.0 225.4h0.8M386.6 222.0h0.8M383.8 225.3h0.8M385.8 210.7h0.8M388.8 210.1h0.8M384.0 212.9h0.8M381.3 222.9h0.8M388.5 214.0h0.8M378.8 224.2h0.8M383.7 213.2h0.8M388.6 208.5h0.8M388.4 214.2h0.8M387.6 216.0h0.8M389.6 210.4h0.8M384.5 222.5h0.8M382.1 225.8h0.8M383.9 214.0h0.8M389.3 215.6h0.8M381.6 221.8h0.8M381.6 222.7h0.8M388.9 210.0h0.8M385.9 210.0h0.8M387.0 218.4h0.8M385.3 212.0h0.8M379.9 220.6h0.8M379.7 221.5h0.8M388.1 209.2h0.8M382.1 224.1h0.8M388.7 213.9h0.8M381.3 227.1h0.8M382.9 226.7h0.8M385.6 210.7h0.8M381.5 226.3h0.8M379.4 226.5h0.8M384.8 221.8h0.8M389.6 209.2h0.8M386.4 210.8h0.8M380.1 221.3h0.8M381.4 218.8h0.8M387.8 217.9h0.8M380.7 225.3h0.8M388.5 208.2h0.8M381.3 217.2h0.8M388.9 208.8h0.8M382.6 226.8h0.8M384.4 222.5h0.8M381.1 227.1h0.8M380.0 221.1h0.8M389.7 206.7h0.8M385.5 211.8h0.8M386.3 219.7h0.8M381.3 222.8h0.8M387.2 210.5h0.8M381.6 220.9h0.8M385.1 223.1h0.8M381.0 225.2h0.8M382.2 216.5h0.8M390.3 210.9h0.8M381.1 223.4h0.8M379.4 228.3h0.8M385.2 221.9h0.8M388.2 207.6h0.8M379.1 223.3h0.8M383.6 225.6h0.8M390.2 206.5h0.8M382.7 226.7h0.8M389.0 215.3h0.8M388.3 217.3h0.8M383.6 215.0h0.8M384.7 225.5h0.8M379.2 228.7h0.8M386.3 210.7h0.8M387.2 218.2h0.8M389.0 207.1h0.8M379.4 223.4h0.8M380.7 218.5h0.8M381.9 224.1h0.8M384.6 223.9h0.8M388.3 217.6h0.8M381.6 228.2h0.8M381.9 219.3h0.8M389.3 208.3h0.8M381.4 223.8h0.8M388.6 206.9h0.8M381.7 220.4h0.8M390.0 212.3h0.8M388.1 209.0h0.8M385.7 223.0h0.8M378.6 225.6h0.8" stroke="#3398b0" stroke-width="0.8" fill="none"/>
<path d="M385.1 218.5h0.8M387.5 214.5h0.8M385.5 214.6h0.8M382.4 221.7h0.8M383.6 219.2h0.8M385.7 217.3h0.8M387.8 212.6h0.8M385.9 212.9h0.8M386.0 214.4h0.8M385.7 219.5h0.8M383.6 222.9h0.8M384.7 217.7h0.8M385.8 214.4h0.8M387.4 212.4h0.8M383.7 219.8h0.8M385.5 218.5h0.8M382.2 221.7h0.8M387.3 212.3h0.8M386.0 214.3h0.8M385.4 217.4h0.8M384.2 221.0h0.8M382.4 221.5h0.8M387.1 214.0h0.8M386.3 218.5h0.8M384.9 220.4h0.8M381.8 222.1h0.8M382.5 223.6h0.8M382.2 221.9h0.8M383.0 222.9h0.8M384.6 215.1h0.8M384.5 220.2h0.8M385.2 216.9h0.8M382.4 223.0h0.8M384.9 217.6h0.8M383.8 217.0h0.8M387.2 212.9h0.8M383.9 222.2h0.8M386.1 214.1h0.8M382.6 220.6h0.8M383.6 220.4h0.8M381.8 222.6h0.8M385.5 214.6h0.8M386.4 212.9h0.8M386.4 216.2h0.8M386.2 213.0h0.8M387.3 212.0h0.8M385.2 217.0h0.8M383.0 220.0h0.8M387.6 214.6h0.8M383.6 222.7h0.8M384.3 220.1h0.8M385.4 219.2h0.8M384.0 216.9h0.8M383.8 218.4h0.8M383.7 217.1h0.8M386.4 217.8h0.8M386.6 216.6h0.8M384.5 218.5h0.8M387.5 213.1h0.8M386.3 217.7h0.8M386.5 216.7h0.8M385.5 217.3h0.8M387.5 212.6h0.8M386.3 217.3h0.8M386.2 218.6h0.8M384.6 214.8h0.8M385.7 217.9h0.8M386.8 214.0h0.8M386.6 214.3h0.8M384.9 217.9h0.8M386.5 216.3h0.8M385.2 219.4h0.8M386.1 217.2h0.8M386.1 215.5h0.8M387.9 213.5h0.8M384.3 222.1h0.8M384.6 217.1h0.8M387.3 212.8h0.8M385.1 213.9h0.8M386.7 216.8h0.8M387.1 216.2h0.8M385.0 216.9h0.8M387.6 214.5h0.8M387.1 212.0h0.8M387.9 211.7h0.8M384.3 217.7h0.8M386.0 214.4h0.8M383.5 222.5h0.8M382.3 219.2h0.8M383.1 222.6h0.8M381.9 220.8h0.8M385.1 219.1h0.8M383.0 221.5h0.8M385.5 220.4h0.8M386.0 217.6h0.8M383.9 218.0h0.8M382.2 222.8h0.8M387.0 212.6h0.8M386.8 215.5h0.8M386.8 214.9h0.8M384.1 219.9h0.8M384.3 219.1h0.8M383.5 220.9h0.8M385.7 213.1h0.8M384.3 219.0h0.8M387.1 216.6h0.8M383.9 216.9h0.8M384.2 217.1h0.8M387.6 211.7h0.8M383.3 221.1h0.8M383.4 218.9h0.8M384.3 221.8h0.8M385.3 215.7h0.8M383.9 218.0h0.8M385.3 214.1h0.8M385.4 213.4h0.8M387.0 211.8h0.8M382.0 223.1h0.8M384.0 221.0h0.8M387.7 212.9h0.8M386.4 218.3h0.8M383.8 216.1h0.8M386.3 213.8h0.8M382.9 220.7h0.8M382.5 219.7h0.8M383.4 216.8h0.8M386.0 215.5h0.8M382.0 220.8h0.8M385.9 216.7h0.8M383.0 217.7h0.8M383.9 217.2h0.8M384.1 222.5h0.8M387.0 216.1h0.8M385.7 213.4h0.8M381.9 220.5h0.8M384.7 218.1h0.8M384.5 214.7h0.8M386.6 216.6h0.8M384.1 218.0h0.8M385.6 217.4h0.8M382.3 221.5h0.8M384.4 217.5h0.8M385.5 213.5h0.8M387.5 214.8h0.8M385.2 219.3h0.8M385.1 216.2h0.8M382.5 222.5h0.8M386.2 218.1h0.8M383.2 217.0h0.8M384.1 220.0h0.8M384.8 218.4h0.8M383.7 218.7h0.8M383.2 222.0h0.8M384.1 218.8h0.8M383.9 216.0h0.8M381.9 222.9h0.8M386.0 214.9h0.8M386.9 215.5h0.8M383.3 218.4h0.8M383.4 221.8h0.8M383.6 217.7h0.8M387.1 215.7h0.8M385.7 214.2h0.8M385.9 219.2h0.8M383.9 218.4h0.8M387.4 211.4h0.8M386.6 214.2h0.8M386.2 217.3h0.8M383.9 219.7h0.8M385.2 218.3h0.8M388.1 212.8h0.8M382.3 219.5h0.8M387.8 212.4h0.8M383.8 222.6h0.8M385.4 215.2h0.8M382.1 223.3h0.8M383.2 218.6h0.8M387.5 213.7h0.8M385.0 217.5h0.8M385.7 215.0h0.8M386.6 214.2h0.8M386.2 214.0h0.8M384.8 216.3h0.8M385.2 217.5h0.8M386.3 218.5h0.8M383.8 221.6h0.8M387.2 215.0h0.8M383.7 221.6h0.8M386.2 216.8h0.8M386.1 216.4h0.8M383.3 220.0h0.8M386.7 216.3h0.8M386.1 213.7h0.8M387.0 215.4h0.8" stroke="#3fb090" stroke-width="0.8" fill="none"/>
<ellipse cx="386.4" cy="222.0" rx="4.0" ry="1.7" transform="rotate(-65 386.4 222.0)" fill="#6fd060" opacity="0.8" filter="url(#bl2)"/>
<rect x="395.5" y="178.5" width="38.0" height="60.0" fill="none" stroke="#000" stroke-width="1"/>
<text x="414.6" y="188.0" font-size="8" text-anchor="middle" fill="#0a0a0a" style="stroke-width:0.12px">ZNFX1+</text>
<text x="414.6" y="197.0" font-size="8" text-anchor="middle" fill="#0a0a0a" style="stroke-width:0.12px">3.40%</text>
<rect x="229.4" y="248.0" width="66.2" height="66.8" fill="#fff" stroke="#b8b8b8" stroke-width="0.8"/>
<path d="M231.4 314.5v-1.8M236.2 314.5v-1.0M238.9 314.5v-1.0M240.9 314.5v-1.0M242.4 314.5v-1.0M243.7 314.5v-1.0M244.8 314.5v-1.0M245.7 314.5v-1.0M246.5 314.5v-1.0M247.2 314.5v-1.8M252.0 314.5v-1.0M254.7 314.5v-1.0M256.7 314.5v-1.0M258.2 314.5v-1.0M259.5 314.5v-1.0M260.6 314.5v-1.0M261.5 314.5v-1.0M262.3 314.5v-1.0M263.0 314.5v-1.8M267.8 314.5v-1.0M270.5 314.5v-1.0M272.5 314.5v-1.0M274.0 314.5v-1.0M275.3 314.5v-1.0M276.4 314.5v-1.0M277.3 314.5v-1.0M278.1 314.5v-1.0M278.8 314.5v-1.8M283.6 314.5v-1.0M286.3 314.5v-1.0M288.3 314.5v-1.0M289.8 314.5v-1.0M291.1 314.5v-1.0M292.2 314.5v-1.0M293.1 314.5v-1.0M293.9 314.5v-1.0M229.7 253.0h1.4M229.7 260.2h1.4M229.7 267.4h1.4M229.7 274.6h1.4M229.7 281.8h1.4M229.7 289.0h1.4M229.7 296.2h1.4M229.7 303.4h1.4M229.7 310.6h1.4" stroke="#444" stroke-width="0.6" fill="none"/>
<ellipse cx="244.0" cy="297.5" rx="7.5" ry="4.8" transform="rotate(-85 244.0 297.5)" fill="#3a86c4" opacity="0.38" filter="url(#bl)"/>
<ellipse cx="256.6" cy="296.5" rx="8.1" ry="5.0" transform="rotate(-88 256.6 296.5)" fill="#3a86c4" opacity="0.38" filter="url(#bl)"/>
<path d="M263.0 298.6h0.7M268.7 294.2h0.7M264.1 294.1h0.7M267.9 304.7h0.7M273.8 305.7h0.7M274.9 302.3h0.7M277.0 300.6h0.7M279.2 304.4h0.7M280.8 299.2h0.7M265.5 312.2h0.7M268.4 301.0h0.7M267.8 294.1h0.7M272.6 291.7h0.7M269.1 306.0h0.7M270.8 302.6h0.7M273.8 300.2h0.7M270.7 301.5h0.7M264.3 301.3h0.7M263.7 293.7h0.7M266.6 290.5h0.7M258.4 300.2h0.7M273.0 301.7h0.7M283.1 299.0h0.7M274.5 293.8h0.7M274.2 291.6h0.7M281.7 292.6h0.7M267.6 302.2h0.7M257.1 305.6h0.7M264.4 299.1h0.7M275.8 298.9h0.7M275.6 295.2h0.7M273.6 285.7h0.7M279.0 294.3h0.7M264.9 298.1h0.7M280.1 294.0h0.7M269.9 296.0h0.7M264.5 290.6h0.7M273.5 302.0h0.7M265.6 299.3h0.7M272.7 300.2h0.7M269.1 298.3h0.7M271.7 292.0h0.7M269.2 302.5h0.7M266.7 305.4h0.7M268.6 291.8h0.7M268.3 290.4h0.7M273.6 289.0h0.7M270.1 296.7h0.7M268.2 300.4h0.7M271.7 294.9h0.7M274.9 295.5h0.7M275.3 305.6h0.7M272.3 303.2h0.7M262.1 301.2h0.7M261.2 297.0h0.7M274.1 282.9h0.7M265.4 293.6h0.7M264.5 298.1h0.7M273.8 291.5h0.7M266.3 287.5h0.7M265.9 286.2h0.7M261.1 300.6h0.7M275.2 293.4h0.7M272.1 293.6h0.7M276.3 307.9h0.7M255.5 293.1h0.7M266.2 295.3h0.7M279.3 306.9h0.7M269.9 301.6h0.7M260.6 296.3h0.7M268.3 297.2h0.7M271.8 289.2h0.7M263.8 310.1h0.7M259.8 298.3h0.7M274.3 300.8h0.7M270.3 288.9h0.7M267.2 289.2h0.7M281.6 300.0h0.7M274.3 299.2h0.7M267.7 304.7h0.7M275.2 301.6h0.7M273.5 302.2h0.7M268.4 300.4h0.7M270.5 296.6h0.7M273.8 310.1h0.7M258.0 306.1h0.7M267.4 304.8h0.7M264.0 297.0h0.7M276.1 297.6h0.7M272.1 291.2h0.7" stroke="#7f9ade" stroke-width="0.7" fill="none"/>
<path d="M239.0 288.2h0.8M237.6 306.3h0.8M250.2 294.3h0.8M250.8 283.1h0.8M237.2 290.5h0.8M236.9 292.9h0.8M249.3 289.3h0.8M246.5 308.7h0.8M240.5 289.5h0.8M240.6 309.2h0.8M239.1 309.4h0.8M243.1 286.4h0.8M243.0 282.3h0.8M251.5 297.7h0.8M237.1 309.0h0.8M243.0 287.1h0.8M254.0 289.7h0.8M252.3 296.2h0.8M238.4 309.8h0.8M234.4 300.1h0.8M251.6 297.1h0.8M251.7 299.0h0.8M243.4 308.8h0.8M242.0 287.4h0.8M246.6 285.9h0.8M250.0 293.0h0.8M252.4 293.3h0.8M251.6 304.0h0.8M251.9 298.6h0.8M240.2 308.1h0.8M237.8 308.4h0.8M248.8 287.1h0.8M243.8 286.6h0.8M247.4 308.8h0.8M245.7 279.9h0.8M251.8 303.2h0.8M236.6 304.9h0.8M235.6 297.0h0.8M243.4 284.2h0.8M252.1 303.6h0.8M245.6 285.4h0.8M238.1 307.1h0.8M236.9 309.2h0.8M245.0 285.7h0.8M249.9 308.1h0.8M238.1 293.6h0.8M233.4 303.7h0.8M251.0 296.8h0.8M250.3 306.3h0.8M246.5 310.7h0.8M251.7 304.7h0.8M245.2 283.7h0.8M238.4 291.0h0.8M242.5 286.7h0.8M251.0 292.5h0.8M250.0 289.6h0.8M248.4 308.2h0.8M236.4 297.8h0.8M250.6 306.3h0.8M236.3 304.5h0.8M250.3 310.3h0.8M236.8 293.4h0.8M252.4 302.5h0.8M245.9 309.5h0.8M251.8 307.1h0.8M245.4 285.2h0.8M240.4 308.3h0.8M249.7 311.2h0.8M240.9 286.5h0.8M245.1 280.8h0.8M251.7 299.8h0.8M235.9 301.3h0.8M248.0 280.6h0.8M246.9 308.8h0.8M245.7 309.6h0.8M255.6 305.7h0.8M244.8 286.2h0.8M248.8 311.6h0.8M240.8 286.8h0.8M236.2 299.0h0.8M248.6 288.3h0.8M241.7 309.3h0.8M236.3 297.2h0.8M251.2 307.1h0.8M245.3 285.4h0.8M236.8 293.8h0.8M241.3 288.3h0.8M245.6 277.7h0.8M251.6 299.0h0.8M243.9 310.7h0.8M234.9 295.2h0.8M233.9 294.1h0.8M243.0 284.6h0.8M239.4 291.5h0.8M244.2 280.9h0.8M241.1 312.1h0.8M244.6 286.2h0.8M236.4 306.2h0.8M235.9 307.2h0.8M235.7 298.0h0.8M254.9 300.3h0.8M239.5 308.7h0.8M250.2 311.2h0.8M241.4 288.7h0.8M243.0 286.6h0.8M239.6 290.3h0.8M249.5 291.3h0.8M242.5 287.3h0.8M243.3 308.9h0.8M250.7 294.1h0.8M237.8 306.6h0.8M246.4 286.9h0.8M243.5 311.7h0.8M236.6 296.6h0.8M245.8 286.5h0.8M252.2 305.7h0.8M248.4 308.7h0.8M244.9 286.0h0.8M248.3 308.3h0.8M244.4 283.3h0.8M252.8 302.3h0.8M239.9 308.1h0.8M243.4 285.9h0.8M237.9 293.0h0.8M241.9 287.5h0.8M250.8 308.1h0.8M239.8 309.1h0.8M247.2 286.9h0.8M231.7 299.8h0.8M236.9 310.0h0.8M248.9 290.0h0.8M245.9 311.9h0.8M251.3 301.9h0.8M247.3 285.8h0.8M235.7 301.1h0.8M234.9 293.2h0.8M247.4 287.6h0.8M251.1 288.3h0.8M253.0 299.3h0.8M234.8 300.5h0.8M242.3 311.1h0.8M235.1 303.4h0.8M240.5 289.5h0.8M256.2 305.0h0.8M243.5 286.1h0.8M235.7 304.6h0.8M244.3 285.5h0.8M240.7 289.3h0.8M252.6 299.3h0.8M237.1 293.1h0.8M246.6 284.5h0.8M247.0 308.5h0.8M234.7 303.5h0.8M240.7 309.1h0.8M251.3 298.0h0.8M249.5 307.2h0.8M237.3 307.4h0.8M237.6 293.7h0.8M238.4 290.3h0.8M244.3 285.2h0.8M243.2 286.5h0.8M246.8 286.6h0.8M251.1 297.0h0.8M256.5 311.5h0.8M235.5 303.9h0.8M252.3 293.8h0.8M254.0 303.3h0.8M237.5 289.1h0.8M249.8 306.8h0.8M250.1 292.6h0.8M249.9 306.4h0.8M243.9 277.5h0.8M247.5 287.3h0.8" stroke="#4060c0" stroke-width="0.8" fill="none"/>
<path d="M248.4 306.9h0.8M248.8 306.8h0.8M237.9 302.2h0.8M238.1 295.6h0.8M248.7 305.4h0.8M238.3 303.0h0.8M245.4 305.4h0.8M245.9 306.5h0.8M237.2 303.1h0.8M237.7 297.6h0.8M244.1 287.8h0.8M239.5 307.4h0.8M245.5 288.8h0.8M237.4 298.9h0.8M240.6 307.5h0.8M246.3 287.3h0.8M246.0 289.5h0.8M245.3 289.0h0.8M244.7 289.7h0.8M248.8 304.2h0.8M250.4 304.0h0.8M247.0 289.4h0.8M247.8 291.3h0.8M250.2 295.6h0.8M240.4 306.6h0.8M237.2 303.0h0.8M247.1 291.1h0.8M249.9 294.5h0.8M236.5 298.4h0.8M244.0 307.4h0.8M241.7 291.0h0.8M239.9 305.6h0.8M246.5 289.7h0.8M245.7 289.3h0.8M249.1 303.8h0.8M237.1 296.8h0.8M248.0 292.7h0.8M249.2 294.3h0.8M239.5 295.7h0.8M236.9 303.1h0.8M249.8 303.7h0.8M238.3 306.6h0.8M241.1 304.9h0.8M249.7 297.2h0.8M249.3 302.0h0.8M246.5 304.7h0.8M241.9 289.8h0.8M238.8 302.4h0.8M246.5 307.7h0.8M241.5 305.3h0.8M238.0 295.5h0.8M247.2 304.7h0.8M244.8 289.7h0.8M236.7 301.6h0.8M249.8 293.9h0.8M237.7 304.7h0.8M236.8 298.5h0.8M238.6 301.7h0.8M243.9 305.3h0.8M236.8 298.3h0.8M248.5 302.6h0.8M243.3 289.3h0.8M249.7 295.8h0.8M238.7 303.8h0.8M248.8 302.0h0.8M240.6 307.0h0.8M244.6 288.0h0.8M238.9 304.1h0.8M238.1 301.6h0.8M239.6 291.9h0.8M246.0 288.7h0.8M250.5 299.2h0.8M243.3 307.2h0.8M238.0 295.0h0.8M241.5 306.2h0.8M250.9 301.9h0.8M241.8 290.4h0.8M250.6 298.7h0.8M243.4 287.5h0.8M239.7 294.7h0.8M247.2 288.9h0.8M250.9 298.0h0.8M241.2 292.1h0.8M242.2 307.3h0.8M247.4 291.0h0.8M241.8 288.4h0.8M245.6 286.8h0.8M246.5 288.1h0.8M249.4 296.8h0.8M245.7 289.9h0.8M249.7 303.3h0.8M244.8 307.4h0.8M248.3 291.2h0.8M237.3 301.3h0.8M242.0 290.0h0.8M250.0 303.5h0.8M251.0 297.8h0.8M238.3 303.4h0.8M249.3 306.3h0.8M238.7 303.3h0.8M246.4 287.9h0.8M237.1 299.7h0.8M241.2 305.3h0.8M240.4 306.4h0.8M242.4 288.9h0.8M249.3 292.9h0.8M238.6 306.8h0.8M238.0 302.2h0.8M246.1 289.8h0.8M248.8 292.9h0.8M243.5 287.9h0.8M238.4 295.4h0.8M247.6 291.9h0.8M238.8 292.6h0.8M250.2 303.6h0.8M250.8 300.7h0.8M241.0 291.7h0.8M247.0 291.7h0.8M245.4 307.8h0.8M243.7 306.4h0.8M238.1 296.5h0.8M248.4 292.1h0.8M243.9 286.9h0.8M242.9 287.4h0.8M245.9 289.9h0.8M246.6 290.6h0.8M250.4 297.2h0.8M238.7 296.1h0.8M242.9 287.3h0.8M247.8 291.9h0.8M239.4 293.9h0.8M240.8 304.6h0.8M237.3 300.8h0.8M248.9 296.9h0.8M248.7 295.8h0.8M240.6 292.5h0.8M239.4 303.7h0.8M242.8 305.1h0.8M240.4 292.6h0.8M239.1 292.7h0.8M239.6 306.7h0.8M246.3 305.4h0.8M249.2 300.5h0.8M242.9 288.4h0.8M238.6 300.3h0.8M243.2 287.4h0.8M247.8 306.5h0.8M250.5 300.8h0.8M247.7 291.5h0.8M250.1 296.9h0.8M237.1 298.2h0.8M239.0 303.6h0.8M249.6 296.3h0.8M236.4 298.7h0.8M250.1 296.9h0.8M236.6 299.5h0.8M237.6 301.5h0.8M243.8 287.6h0.8M244.8 289.1h0.8M237.9 298.2h0.8M249.4 306.0h0.8M242.5 307.3h0.8M249.0 303.3h0.8M250.6 302.7h0.8M245.3 307.2h0.8M250.6 297.1h0.8M247.0 290.4h0.8M237.4 301.7h0.8M249.9 300.7h0.8M249.8 301.8h0.8M247.1 307.9h0.8M247.9 289.1h0.8M247.9 291.9h0.8M250.7 302.4h0.8M238.5 294.8h0.8M239.0 303.8h0.8M246.9 305.5h0.8M248.3 289.8h0.8M238.2 301.4h0.8M249.0 303.6h0.8M239.3 292.6h0.8M238.0 296.3h0.8M248.0 290.2h0.8M249.5 298.6h0.8M246.2 306.2h0.8M250.8 303.4h0.8M245.0 307.2h0.8M239.2 306.4h0.8M239.5 295.2h0.8M239.1 295.1h0.8M249.2 296.6h0.8M243.9 288.8h0.8M238.9 306.8h0.8M247.1 288.9h0.8M250.9 300.8h0.8M248.1 290.7h0.8M238.1 298.2h0.8M240.7 291.2h0.8M243.5 289.2h0.8M238.0 294.2h0.8M250.7 303.7h0.8M249.2 304.0h0.8M249.6 301.9h0.8M249.1 293.0h0.8M249.0 296.1h0.8M236.7 304.2h0.8M239.4 292.7h0.8M245.8 287.2h0.8M249.7 302.0h0.8M248.8 302.3h0.8M239.5 292.6h0.8M250.3 296.8h0.8M248.7 296.1h0.8M247.8 303.4h0.8M238.4 295.9h0.8M242.4 289.8h0.8M246.2 288.7h0.8M238.3 300.6h0.8M245.6 306.2h0.8M243.2 305.2h0.8M243.3 307.5h0.8M237.5 297.9h0.8M239.6 292.6h0.8M239.2 293.8h0.8M241.1 291.3h0.8M249.0 300.8h0.8M249.0 296.4h0.8M247.8 291.0h0.8M249.4 302.9h0.8M240.8 304.8h0.8M249.8 300.2h0.8M248.4 293.4h0.8M243.3 308.4h0.8M241.0 308.2h0.8M247.7 303.6h0.8M245.6 305.4h0.8M242.3 289.4h0.8" stroke="#3d72c8" stroke-width="0.8" fill="none"/>
<path d="M244.1 302.1h0.8M246.3 303.0h0.8M240.1 296.5h0.8M240.6 297.9h0.8M248.1 298.8h0.8M244.4 303.2h0.8M241.2 298.1h0.8M246.5 291.1h0.8M244.4 301.6h0.8M242.1 294.7h0.8M246.4 291.4h0.8M239.0 298.1h0.8M245.8 300.9h0.8M245.9 294.6h0.8M244.5 290.8h0.8M242.4 291.8h0.8M243.3 302.4h0.8M246.2 293.6h0.8M242.0 301.0h0.8M247.0 300.0h0.8M247.9 296.8h0.8M248.3 296.1h0.8M243.0 291.0h0.8M242.1 294.2h0.8M243.6 301.9h0.8M241.7 294.0h0.8M245.3 291.0h0.8M241.5 294.7h0.8M247.6 295.9h0.8M248.0 296.5h0.8M238.8 298.3h0.8M245.8 292.5h0.8M244.7 301.6h0.8M242.5 302.7h0.8M246.8 295.9h0.8M247.3 295.2h0.8M241.6 300.3h0.8M248.2 298.9h0.8M242.3 301.3h0.8M245.1 290.7h0.8M243.3 303.4h0.8M240.4 301.4h0.8M239.1 300.7h0.8M246.2 295.1h0.8M246.5 299.9h0.8M239.4 301.0h0.8M244.2 292.6h0.8M246.4 295.8h0.8M245.6 290.6h0.8M241.1 298.9h0.8M241.4 297.0h0.8M246.2 294.5h0.8M247.4 303.3h0.8M246.5 292.3h0.8M247.8 303.0h0.8M243.4 291.3h0.8M240.4 302.8h0.8M244.0 293.2h0.8M241.1 298.5h0.8M240.2 296.4h0.8M248.2 297.5h0.8M242.8 291.1h0.8M243.6 291.5h0.8M243.3 292.2h0.8M241.1 298.1h0.8M246.7 303.5h0.8M242.2 294.9h0.8M247.0 297.7h0.8M244.1 303.7h0.8M244.5 302.4h0.8M247.1 301.1h0.8M240.8 303.6h0.8M240.0 297.5h0.8M247.2 294.4h0.8M240.0 303.0h0.8M245.9 301.8h0.8M244.0 291.2h0.8M240.4 294.1h0.8M240.9 303.0h0.8M243.8 303.3h0.8M241.3 300.8h0.8M246.1 301.0h0.8M246.7 298.4h0.8M247.6 293.8h0.8M239.6 302.5h0.8M246.3 301.9h0.8M240.3 301.1h0.8M246.1 293.7h0.8M243.7 292.4h0.8M246.1 302.2h0.8M243.3 304.0h0.8M246.9 300.7h0.8M247.0 300.6h0.8M240.7 301.4h0.8M248.0 300.4h0.8M245.8 290.9h0.8M240.0 300.3h0.8M247.2 296.7h0.8M241.9 291.6h0.8M239.6 301.8h0.8M240.2 300.4h0.8M241.1 303.8h0.8M241.8 302.9h0.8M241.2 302.3h0.8M243.4 302.0h0.8M244.2 302.4h0.8M245.2 291.8h0.8M242.6 301.3h0.8M242.5 304.2h0.8M244.6 302.9h0.8M240.7 297.4h0.8M242.8 290.6h0.8M247.0 295.2h0.8M245.7 291.0h0.8M248.4 296.2h0.8M240.5 303.1h0.8M247.2 294.7h0.8M246.7 293.7h0.8M246.6 300.6h0.8M246.3 301.8h0.8M239.4 300.9h0.8M244.4 290.4h0.8M248.7 297.7h0.8M247.7 297.1h0.8M247.3 292.8h0.8M240.4 296.6h0.8M245.4 304.0h0.8M244.2 291.5h0.8M247.5 295.7h0.8M247.0 300.8h0.8M246.0 291.4h0.8M241.6 303.7h0.8M243.6 292.6h0.8M246.9 303.8h0.8M244.9 290.2h0.8M248.1 301.5h0.8M246.9 296.5h0.8M243.6 302.2h0.8M240.7 296.4h0.8M247.7 299.8h0.8M241.6 294.3h0.8M245.3 289.9h0.8M246.9 293.0h0.8M242.5 292.8h0.8M241.8 301.6h0.8M243.9 292.7h0.8M244.5 303.1h0.8M247.4 299.8h0.8M246.8 298.7h0.8M240.8 301.0h0.8M247.0 295.0h0.8M245.9 294.0h0.8M242.0 301.7h0.8M243.9 304.2h0.8M246.0 293.4h0.8M242.3 304.8h0.8M241.1 303.4h0.8M244.2 302.5h0.8M245.3 292.2h0.8M239.1 301.6h0.8M247.4 297.0h0.8M243.9 292.6h0.8M246.1 292.1h0.8M243.6 292.5h0.8M241.8 295.3h0.8M247.3 301.7h0.8M245.6 301.8h0.8M244.9 292.6h0.8M245.8 304.6h0.8M243.9 292.0h0.8M246.8 301.9h0.8M239.0 299.5h0.8M241.1 304.0h0.8M239.6 295.8h0.8M243.5 303.8h0.8M241.3 296.4h0.8M243.8 304.7h0.8M243.7 291.6h0.8M248.3 297.0h0.8M241.7 302.4h0.8M240.2 296.7h0.8M246.9 299.4h0.8M245.0 290.4h0.8M248.0 294.6h0.8M248.5 300.2h0.8M244.4 305.2h0.8M244.7 291.7h0.8M248.2 300.5h0.8M242.2 291.7h0.8M239.6 298.1h0.8M244.9 291.9h0.8M246.8 302.6h0.8M242.3 293.4h0.8M247.1 303.6h0.8M239.3 297.6h0.8M241.3 300.2h0.8M248.4 299.0h0.8M241.9 292.8h0.8M241.4 295.6h0.8M238.8 300.0h0.8M246.9 298.7h0.8M245.0 303.7h0.8M239.6 297.2h0.8M248.2 302.4h0.8M239.7 301.0h0.8M246.3 292.8h0.8M241.8 295.2h0.8M240.3 296.2h0.8M241.5 293.3h0.8M241.2 302.3h0.8M248.5 295.6h0.8M245.7 292.2h0.8M246.1 293.4h0.8M243.1 304.5h0.8M247.3 295.0h0.8M239.8 299.9h0.8M245.0 292.8h0.8M239.1 299.1h0.8M244.5 302.5h0.8M245.4 293.7h0.8M240.8 300.5h0.8M245.5 293.7h0.8M240.3 302.3h0.8M247.0 300.0h0.8M247.7 299.4h0.8M241.8 294.5h0.8" stroke="#3a86c4" stroke-width="0.8" fill="none"/>
<path d="M244.6 298.8h0.8M244.8 300.3h0.8M243.7 295.9h0.8M241.9 297.2h0.8M241.5 298.7h0.8M244.4 294.5h0.8M245.0 294.8h0.8M243.0 297.2h0.8M241.8 299.5h0.8M244.9 300.8h0.8M242.0 300.0h0.8M242.9 298.1h0.8M243.5 298.7h0.8M244.5 298.2h0.8M244.4 299.9h0.8M244.9 297.4h0.8M243.2 299.7h0.8M242.7 296.3h0.8M242.2 299.2h0.8M245.1 293.9h0.8M244.3 297.9h0.8M246.3 297.6h0.8M246.3 298.3h0.8M244.6 294.5h0.8M244.7 299.9h0.8M245.5 295.9h0.8M245.3 299.1h0.8M244.0 298.7h0.8M242.1 296.1h0.8M244.7 296.3h0.8M243.9 298.1h0.8M245.8 296.2h0.8M243.4 294.0h0.8M243.1 299.3h0.8M241.7 298.6h0.8M243.4 296.2h0.8M245.4 295.3h0.8M242.5 296.1h0.8M246.0 295.2h0.8M244.0 300.7h0.8M242.9 295.8h0.8M244.1 298.3h0.8M243.7 296.4h0.8M244.4 295.8h0.8M244.1 298.2h0.8M243.4 300.4h0.8M244.0 300.5h0.8M243.6 295.8h0.8M243.3 295.9h0.8M245.5 296.6h0.8M241.6 297.4h0.8M244.8 294.5h0.8M246.4 297.1h0.8M244.1 298.8h0.8M241.7 299.9h0.8M243.0 298.1h0.8M243.3 296.5h0.8M244.7 298.5h0.8M242.9 295.5h0.8M242.0 297.1h0.8M243.6 298.4h0.8M245.6 298.8h0.8M245.8 299.5h0.8M244.6 295.7h0.8M242.3 296.1h0.8M243.5 297.7h0.8M245.6 296.3h0.8M241.9 298.0h0.8M242.1 297.1h0.8M246.5 296.7h0.8M242.3 294.8h0.8M244.0 293.5h0.8M244.5 293.4h0.8M245.9 299.1h0.8M244.5 298.2h0.8M243.6 295.7h0.8M243.8 295.4h0.8M242.9 297.9h0.8M242.7 298.6h0.8M243.5 299.7h0.8M245.5 298.8h0.8M243.8 300.4h0.8M244.7 295.1h0.8M245.7 300.1h0.8M243.7 294.1h0.8M244.6 297.3h0.8M243.9 299.4h0.8M244.0 301.6h0.8M244.2 301.4h0.8M244.1 295.8h0.8M243.6 301.2h0.8M243.8 299.9h0.8M244.9 299.0h0.8M246.4 299.3h0.8M243.4 301.3h0.8M245.4 299.6h0.8M243.7 293.7h0.8M245.5 298.1h0.8M243.4 301.0h0.8M244.0 295.7h0.8M245.3 297.6h0.8M242.8 295.0h0.8M243.5 300.5h0.8M243.5 300.4h0.8" stroke="#3a9cb8" stroke-width="0.8" fill="none"/>
<path d="M267.8 296.0h0.8M265.4 301.2h0.8M251.0 290.4h0.8M252.1 285.3h0.8M254.8 310.0h0.8M259.7 277.5h0.8M246.0 298.7h0.8M254.6 282.8h0.8M243.6 304.4h0.8M255.6 281.7h0.8M254.7 284.6h0.8M266.2 293.6h0.8M255.5 309.2h0.8M261.7 308.2h0.8M264.9 301.9h0.8M258.9 308.8h0.8M246.1 305.0h0.8M247.9 303.8h0.8M250.6 287.5h0.8M251.0 291.3h0.8M263.5 290.2h0.8M265.2 302.1h0.8M252.3 288.0h0.8M255.9 309.5h0.8M269.9 308.2h0.8M247.2 310.8h0.8M250.4 310.8h0.8M264.4 303.5h0.8M260.1 278.0h0.8M247.2 304.9h0.8M250.4 292.2h0.8M255.3 283.2h0.8M256.5 283.8h0.8M248.6 294.1h0.8M256.0 283.8h0.8M263.3 291.9h0.8M249.4 306.1h0.8M257.6 279.3h0.8M260.3 286.6h0.8M260.3 308.0h0.8M265.0 301.1h0.8M259.6 310.7h0.8M265.2 300.9h0.8M263.9 290.6h0.8M266.9 311.4h0.8M246.0 306.0h0.8M251.2 306.9h0.8M260.1 309.1h0.8M243.6 299.7h0.8M247.8 300.4h0.8M254.8 284.9h0.8M258.1 281.3h0.8M264.9 302.8h0.8M263.7 305.9h0.8M257.3 276.6h0.8M256.5 274.2h0.8M258.0 281.5h0.8M247.6 298.2h0.8M264.9 297.1h0.8M258.3 283.7h0.8M248.6 297.5h0.8M248.6 304.4h0.8M268.3 296.5h0.8M267.2 291.2h0.8M246.6 304.3h0.8M248.9 306.9h0.8M248.7 304.3h0.8M253.3 308.7h0.8M241.6 310.0h0.8M262.6 291.3h0.8M261.9 288.3h0.8M248.6 295.3h0.8M264.8 296.0h0.8M256.6 284.1h0.8M261.3 288.2h0.8M259.1 277.7h0.8M251.3 286.2h0.8M248.0 299.0h0.8M248.3 292.8h0.8M253.8 308.7h0.8M247.9 299.5h0.8M256.3 283.3h0.8M260.0 308.9h0.8M253.7 286.7h0.8M258.7 283.8h0.8M259.8 285.2h0.8M256.2 309.2h0.8M255.1 285.1h0.8M246.9 298.5h0.8M248.1 307.2h0.8M269.1 304.1h0.8M264.0 304.9h0.8M249.5 304.9h0.8M266.9 293.5h0.8M259.6 309.9h0.8M251.2 308.1h0.8M256.1 284.0h0.8M264.9 297.6h0.8M247.9 298.9h0.8M257.4 283.1h0.8M248.1 304.1h0.8M246.3 302.6h0.8M262.3 286.9h0.8M263.4 308.3h0.8M259.8 285.8h0.8M266.0 299.2h0.8M264.2 290.6h0.8M255.9 279.6h0.8M247.6 294.1h0.8M265.0 298.6h0.8M244.5 299.0h0.8M253.6 284.7h0.8M247.8 300.2h0.8M263.2 308.6h0.8M249.0 294.7h0.8M267.1 310.5h0.8M258.0 284.5h0.8M251.0 307.1h0.8M257.3 309.1h0.8M247.9 301.0h0.8M257.2 276.7h0.8M248.6 303.1h0.8M262.4 307.0h0.8M255.6 283.9h0.8M259.2 285.7h0.8M264.1 303.9h0.8M243.7 308.2h0.8M251.1 289.9h0.8M249.9 305.6h0.8M253.5 309.8h0.8M250.0 307.3h0.8M252.6 288.2h0.8M260.9 283.1h0.8M263.0 291.7h0.8M244.5 301.5h0.8M253.2 308.9h0.8M248.9 292.7h0.8M255.9 309.9h0.8M248.4 301.1h0.8M259.6 285.3h0.8M256.8 281.6h0.8M256.4 284.1h0.8M249.5 291.7h0.8M247.8 303.4h0.8M259.8 286.0h0.8M265.2 298.2h0.8M257.8 276.6h0.8M248.9 286.7h0.8M261.9 307.6h0.8M264.5 308.1h0.8M245.8 301.2h0.8M265.3 303.7h0.8M259.5 284.6h0.8M258.1 279.5h0.8M247.3 305.2h0.8M264.3 303.9h0.8M262.3 307.3h0.8M249.3 304.7h0.8M249.2 294.3h0.8M257.8 283.3h0.8M258.2 277.9h0.8M248.0 298.5h0.8M266.4 311.3h0.8M245.4 302.6h0.8M255.3 284.0h0.8M270.0 311.0h0.8M260.8 287.8h0.8M250.8 290.3h0.8M254.7 311.5h0.8M260.7 287.6h0.8M262.6 290.2h0.8M256.8 277.6h0.8M251.9 286.8h0.8M249.8 305.9h0.8M260.9 282.5h0.8M264.5 295.2h0.8M250.3 307.2h0.8M266.0 309.7h0.8M254.3 285.0h0.8M256.0 309.8h0.8M252.3 288.3h0.8M248.6 304.6h0.8M261.7 288.2h0.8M244.7 306.6h0.8M260.4 287.1h0.8M262.5 289.6h0.8M256.7 279.1h0.8M261.7 280.4h0.8M248.6 307.1h0.8M251.3 308.2h0.8M249.3 309.3h0.8M255.2 309.4h0.8M260.8 287.7h0.8M257.8 283.7h0.8M265.2 307.4h0.8M248.3 302.0h0.8M251.5 308.7h0.8M260.5 284.2h0.8M263.9 295.0h0.8M250.5 288.6h0.8M254.2 285.6h0.8M250.9 290.2h0.8M252.7 284.3h0.8M264.5 296.4h0.8M259.3 308.6h0.8" stroke="#4060c0" stroke-width="0.8" fill="none"/>
<path d="M253.0 288.7h0.8M249.8 297.1h0.8M254.9 285.5h0.8M252.3 293.1h0.8M250.8 292.9h0.8M257.7 285.7h0.8M252.9 290.4h0.8M252.4 289.7h0.8M252.7 305.4h0.8M258.4 305.9h0.8M260.4 287.7h0.8M251.0 302.4h0.8M250.7 295.3h0.8M257.7 287.4h0.8M254.0 289.0h0.8M249.8 298.1h0.8M261.0 304.6h0.8M251.5 294.8h0.8M262.0 295.4h0.8M262.0 295.2h0.8M254.4 289.3h0.8M259.8 290.4h0.8M253.8 287.2h0.8M248.8 302.1h0.8M260.3 287.6h0.8M250.6 293.2h0.8M256.7 307.3h0.8M253.1 306.9h0.8M262.1 305.1h0.8M261.9 290.6h0.8M253.9 289.5h0.8M261.4 302.9h0.8M256.6 307.2h0.8M261.8 290.7h0.8M261.7 305.1h0.8M262.2 300.2h0.8M263.8 298.5h0.8M250.3 293.5h0.8M259.3 304.8h0.8M262.4 296.3h0.8M251.2 295.6h0.8M259.0 285.7h0.8M257.2 284.9h0.8M249.3 300.5h0.8M261.9 299.4h0.8M258.0 285.1h0.8M255.8 287.5h0.8M260.5 304.1h0.8M260.0 286.9h0.8M257.3 285.5h0.8M262.2 300.5h0.8M264.4 300.1h0.8M253.2 290.8h0.8M262.0 300.9h0.8M251.1 298.9h0.8M264.2 299.1h0.8M258.8 285.8h0.8M261.4 291.2h0.8M262.2 297.9h0.8M261.3 304.8h0.8M261.0 304.3h0.8M257.2 286.8h0.8M261.7 291.2h0.8M258.1 287.6h0.8M261.5 294.2h0.8M257.7 285.2h0.8M252.0 304.8h0.8M252.0 292.2h0.8M254.5 289.3h0.8M255.1 287.5h0.8M262.9 296.5h0.8M251.5 301.4h0.8M250.3 301.4h0.8M249.9 300.6h0.8M260.2 287.6h0.8M251.6 306.3h0.8M251.0 305.7h0.8M259.9 289.2h0.8M261.5 303.5h0.8M252.9 289.5h0.8M264.2 299.1h0.8M253.8 306.3h0.8M252.3 290.5h0.8M260.2 307.7h0.8M254.5 287.5h0.8M260.6 291.5h0.8M258.0 286.9h0.8M254.4 307.7h0.8M263.1 298.3h0.8M264.2 301.5h0.8M262.1 291.5h0.8M262.7 295.1h0.8M258.3 286.1h0.8M261.2 306.3h0.8M254.5 286.5h0.8M258.9 289.2h0.8M252.2 290.9h0.8M256.8 305.1h0.8M249.6 299.1h0.8M262.3 300.9h0.8M262.0 299.5h0.8M258.3 306.6h0.8M253.1 306.4h0.8M249.7 302.2h0.8M262.7 301.2h0.8M264.0 297.5h0.8M256.9 286.1h0.8M260.2 288.0h0.8M261.6 304.9h0.8M250.6 298.2h0.8M256.5 305.9h0.8M260.1 287.7h0.8M255.1 288.8h0.8M260.5 290.9h0.8M262.2 294.4h0.8M249.4 301.3h0.8M261.5 305.8h0.8M258.6 285.8h0.8M260.5 290.5h0.8M254.5 305.0h0.8M253.4 290.3h0.8M262.2 303.6h0.8M255.5 308.1h0.8M259.7 307.0h0.8M254.8 306.5h0.8M248.9 300.7h0.8M259.0 306.1h0.8M264.0 300.5h0.8M262.4 298.0h0.8M260.4 287.7h0.8M262.1 297.3h0.8M262.3 298.7h0.8M262.5 306.1h0.8M263.7 300.7h0.8M251.8 292.3h0.8M250.8 292.2h0.8M250.0 294.7h0.8M257.5 287.0h0.8M259.7 287.2h0.8M261.8 295.0h0.8M256.3 288.0h0.8M252.9 306.6h0.8M262.3 298.5h0.8M260.9 302.8h0.8M254.2 286.9h0.8M251.1 304.3h0.8M254.3 287.7h0.8M260.9 303.9h0.8M264.0 300.6h0.8M258.5 306.4h0.8M261.6 292.5h0.8M262.8 298.8h0.8M256.7 305.0h0.8M261.5 292.7h0.8M253.7 304.8h0.8M259.1 286.7h0.8M249.7 298.5h0.8M256.1 285.0h0.8M261.0 302.2h0.8M262.5 296.7h0.8M260.0 288.9h0.8M254.8 288.9h0.8M252.7 305.1h0.8M253.9 289.6h0.8M253.5 289.5h0.8M262.1 294.2h0.8M258.1 287.9h0.8M248.6 301.3h0.8M257.7 286.1h0.8M261.6 294.1h0.8M263.9 300.4h0.8M262.7 299.8h0.8M251.5 292.2h0.8M254.6 286.3h0.8M252.4 305.1h0.8M260.8 288.9h0.8M258.7 305.8h0.8M260.8 303.6h0.8M263.7 302.8h0.8M248.5 300.0h0.8M248.5 299.8h0.8M258.1 288.3h0.8M253.9 288.3h0.8M255.1 285.9h0.8M249.9 296.8h0.8M259.8 290.3h0.8M254.9 286.1h0.8M256.8 308.0h0.8M257.7 306.3h0.8M261.6 291.6h0.8M256.7 305.5h0.8M263.0 299.8h0.8M258.7 306.4h0.8M255.1 285.9h0.8M250.8 295.3h0.8M256.1 305.6h0.8M263.5 302.2h0.8M262.1 291.2h0.8M250.3 294.2h0.8M263.6 303.4h0.8M249.6 303.0h0.8M251.6 305.3h0.8M251.9 293.4h0.8M259.8 288.8h0.8M253.4 306.1h0.8M255.0 307.7h0.8M250.5 299.7h0.8M256.2 285.7h0.8M260.4 307.2h0.8M248.7 301.1h0.8M250.6 294.2h0.8M259.1 285.7h0.8M251.7 292.2h0.8M257.5 288.2h0.8M264.0 297.8h0.8M253.3 289.4h0.8M252.0 302.7h0.8M260.2 288.8h0.8M256.6 288.0h0.8M250.2 305.9h0.8M259.5 288.5h0.8M253.0 289.7h0.8M251.0 304.5h0.8M251.9 294.2h0.8M252.9 304.5h0.8M261.8 295.7h0.8M264.3 298.5h0.8M250.4 293.1h0.8M263.0 293.1h0.8M262.8 297.7h0.8M263.4 299.4h0.8M250.8 303.5h0.8M262.1 298.0h0.8M263.9 303.3h0.8M250.0 300.2h0.8M261.8 304.1h0.8M256.0 306.5h0.8M260.6 292.1h0.8M250.0 301.4h0.8M262.6 298.9h0.8M259.9 289.4h0.8M257.1 285.6h0.8M257.1 287.9h0.8M249.9 304.4h0.8M261.7 293.7h0.8M258.7 305.8h0.8M250.5 299.4h0.8M256.0 287.9h0.8M257.4 308.0h0.8M253.5 289.3h0.8M262.9 302.4h0.8M259.8 289.4h0.8M260.5 303.0h0.8M249.4 301.7h0.8M255.8 285.7h0.8M248.7 302.1h0.8M261.4 291.4h0.8M262.2 300.5h0.8M249.4 301.6h0.8M259.5 290.0h0.8M258.3 307.3h0.8M264.2 300.1h0.8M261.8 302.3h0.8M251.6 295.3h0.8M262.2 295.0h0.8M251.2 293.8h0.8M255.4 308.6h0.8M262.8 302.1h0.8M264.1 302.3h0.8M253.7 306.3h0.8M257.3 288.1h0.8M251.6 293.3h0.8M252.3 305.9h0.8M264.4 299.9h0.8M263.3 300.5h0.8M251.6 302.0h0.8M256.0 285.6h0.8M258.2 288.7h0.8M257.7 286.8h0.8M255.8 285.8h0.8M253.6 305.5h0.8M253.9 287.0h0.8M256.5 286.4h0.8M256.5 286.7h0.8M261.2 291.1h0.8M260.5 288.8h0.8M255.3 285.3h0.8M261.0 306.7h0.8M250.0 298.5h0.8M259.2 304.9h0.8M260.0 306.4h0.8M261.4 292.6h0.8M255.8 305.1h0.8M257.1 285.5h0.8M263.6 300.1h0.8M253.9 286.7h0.8M257.5 286.6h0.8M259.8 290.4h0.8M253.0 290.0h0.8M250.9 299.1h0.8M259.2 289.8h0.8" stroke="#3d72c8" stroke-width="0.8" fill="none"/>
<path d="M256.3 288.9h0.8M261.3 296.7h0.8M252.3 296.5h0.8M253.8 303.6h0.8M257.8 291.6h0.8M260.7 294.1h0.8M252.4 297.9h0.8M260.3 294.6h0.8M260.0 295.2h0.8M259.7 296.2h0.8M253.4 299.6h0.8M257.9 290.2h0.8M255.6 303.3h0.8M252.9 299.4h0.8M260.2 295.2h0.8M255.7 290.8h0.8M252.9 295.7h0.8M253.5 293.8h0.8M258.6 293.5h0.8M254.7 304.0h0.8M260.2 300.4h0.8M259.6 299.8h0.8M255.0 293.1h0.8M254.5 301.3h0.8M256.4 302.7h0.8M260.4 293.4h0.8M254.9 300.7h0.8M260.2 293.6h0.8M253.1 294.4h0.8M260.5 295.1h0.8M255.3 290.2h0.8M258.5 302.8h0.8M260.3 296.7h0.8M261.1 297.8h0.8M255.9 290.2h0.8M261.3 298.2h0.8M252.3 293.5h0.8M253.4 298.8h0.8M255.0 303.2h0.8M259.8 296.7h0.8M259.4 296.0h0.8M260.0 291.4h0.8M252.5 297.8h0.8M261.4 295.2h0.8M259.4 295.0h0.8M253.9 295.1h0.8M251.9 295.3h0.8M252.2 295.2h0.8M258.1 300.9h0.8M261.6 299.0h0.8M259.4 297.5h0.8M253.3 293.2h0.8M256.4 303.6h0.8M260.6 300.9h0.8M258.9 290.3h0.8M258.8 292.9h0.8M260.8 293.4h0.8M252.9 295.2h0.8M253.8 294.5h0.8M255.4 291.2h0.8M256.1 290.7h0.8M261.5 299.5h0.8M257.1 304.0h0.8M260.3 293.5h0.8M256.7 290.9h0.8M259.6 297.4h0.8M255.5 291.2h0.8M256.4 288.9h0.8M257.5 301.5h0.8M254.6 290.4h0.8M256.4 292.0h0.8M257.4 289.0h0.8M255.7 290.3h0.8M253.7 295.4h0.8M251.5 299.3h0.8M256.4 303.8h0.8M256.0 289.9h0.8M256.0 291.6h0.8M254.8 292.1h0.8M260.3 293.3h0.8M254.6 289.9h0.8M257.3 300.8h0.8M251.3 298.4h0.8M251.6 300.7h0.8M256.6 303.0h0.8M255.0 289.1h0.8M255.5 301.5h0.8M260.5 299.7h0.8M252.6 294.1h0.8M251.8 297.6h0.8M256.8 302.2h0.8M259.9 297.8h0.8M257.6 289.3h0.8M261.7 297.0h0.8M253.7 295.4h0.8M254.8 291.9h0.8M258.3 303.1h0.8M251.7 298.1h0.8M254.2 303.8h0.8M253.5 302.1h0.8M260.6 300.2h0.8M251.3 297.4h0.8M256.3 291.6h0.8M253.6 292.9h0.8M252.9 294.0h0.8M258.6 292.6h0.8M255.4 303.3h0.8M258.4 300.8h0.8M256.8 288.1h0.8M260.1 291.9h0.8M258.0 289.8h0.8M259.0 301.1h0.8M256.0 289.2h0.8M253.6 293.3h0.8M257.8 304.0h0.8M258.9 293.5h0.8M252.7 300.6h0.8M260.2 300.9h0.8M259.0 299.5h0.8M254.0 302.7h0.8M255.8 303.9h0.8M253.8 293.6h0.8M256.0 303.0h0.8M252.8 294.2h0.8M252.7 295.5h0.8M254.0 303.5h0.8M254.7 289.9h0.8M260.4 294.0h0.8M254.5 293.6h0.8M256.1 289.2h0.8M260.1 296.6h0.8M255.9 302.2h0.8M252.8 297.1h0.8M254.6 302.5h0.8M256.4 289.3h0.8M261.3 297.0h0.8M257.9 301.0h0.8M256.4 302.8h0.8M259.0 299.7h0.8M260.5 298.8h0.8M259.3 292.9h0.8M259.3 301.3h0.8M253.5 291.7h0.8M253.0 303.2h0.8M257.9 290.0h0.8M258.9 291.8h0.8M259.6 302.2h0.8M256.8 290.3h0.8M254.6 303.0h0.8M255.9 303.9h0.8M254.1 304.2h0.8M257.0 291.4h0.8M258.0 304.6h0.8M260.9 298.4h0.8M256.5 290.3h0.8M255.2 290.7h0.8M259.6 301.0h0.8M253.0 292.3h0.8M258.6 290.6h0.8M253.6 297.6h0.8M261.0 299.1h0.8M252.5 292.9h0.8M260.6 296.6h0.8M254.5 303.0h0.8M259.4 298.7h0.8M251.4 297.6h0.8M254.0 293.0h0.8M259.4 291.8h0.8M253.3 293.6h0.8M253.1 297.3h0.8M261.2 298.8h0.8M259.3 298.4h0.8M253.1 292.4h0.8M256.6 290.7h0.8M257.1 288.5h0.8M257.2 289.8h0.8M256.6 291.7h0.8M256.1 288.8h0.8M255.2 302.3h0.8M260.7 298.6h0.8M252.1 298.0h0.8M261.5 295.9h0.8M253.7 295.9h0.8M252.7 292.4h0.8M257.3 300.9h0.8M261.0 298.1h0.8M257.5 290.7h0.8M259.2 291.3h0.8M252.7 301.3h0.8M253.6 294.7h0.8M252.4 296.3h0.8M253.1 296.8h0.8M254.7 291.5h0.8M257.4 291.4h0.8M257.8 289.5h0.8M255.8 290.8h0.8M259.9 298.2h0.8M260.4 294.4h0.8M254.6 290.1h0.8M255.1 291.7h0.8M257.7 301.3h0.8M253.3 292.1h0.8M253.1 294.8h0.8M255.4 288.9h0.8M256.6 291.8h0.8M257.2 302.9h0.8M259.0 291.4h0.8M252.3 301.6h0.8M261.1 300.3h0.8M258.6 292.8h0.8M255.9 289.7h0.8M258.8 291.3h0.8M258.3 302.9h0.8M259.7 301.2h0.8M259.7 294.1h0.8M253.8 296.6h0.8M261.0 294.7h0.8M254.5 301.3h0.8M256.4 301.3h0.8M260.7 295.5h0.8M258.5 302.5h0.8M256.8 291.1h0.8M253.7 294.0h0.8M259.2 301.9h0.8M256.3 289.4h0.8M261.2 301.7h0.8M253.6 294.7h0.8M258.4 301.5h0.8M258.8 302.3h0.8M261.7 300.0h0.8M255.8 302.6h0.8M254.0 301.9h0.8M255.8 301.2h0.8M255.4 301.2h0.8M253.4 300.0h0.8M257.9 292.0h0.8M260.4 300.2h0.8M258.7 293.5h0.8M259.6 301.4h0.8M251.4 297.8h0.8M260.5 293.4h0.8M253.0 296.4h0.8M255.6 304.2h0.8M256.9 303.2h0.8M259.5 297.9h0.8M259.5 301.1h0.8M253.3 293.8h0.8" stroke="#3a86c4" stroke-width="0.8" fill="none"/>
<path d="M257.8 296.3h0.8M258.7 295.0h0.8M256.4 292.6h0.8M259.3 297.9h0.8M259.0 294.8h0.8M258.6 297.0h0.8M256.2 294.7h0.8M258.1 298.3h0.8M256.0 299.5h0.8M254.9 295.1h0.8M257.5 293.9h0.8M259.0 298.2h0.8M257.2 298.0h0.8M255.5 298.3h0.8M258.1 296.3h0.8M257.6 295.9h0.8M257.5 299.7h0.8M255.9 296.1h0.8M255.9 296.7h0.8M257.0 298.7h0.8M258.8 295.8h0.8M256.1 298.5h0.8M253.9 298.0h0.8M258.5 299.1h0.8M258.2 295.4h0.8M254.2 298.0h0.8M255.9 296.6h0.8M256.9 294.5h0.8M255.5 297.9h0.8M257.6 296.6h0.8M255.1 297.0h0.8M255.8 300.4h0.8M256.5 297.0h0.8M254.3 298.1h0.8M256.0 299.4h0.8M255.7 296.0h0.8M254.8 298.3h0.8M256.2 294.4h0.8M256.5 300.5h0.8M255.0 298.8h0.8M257.2 294.5h0.8M256.9 295.9h0.8M256.6 297.1h0.8M254.0 296.9h0.8M256.8 296.3h0.8M257.4 299.0h0.8M257.4 295.0h0.8M254.1 295.3h0.8M255.9 292.5h0.8M257.0 299.4h0.8M256.3 295.8h0.8M257.6 295.7h0.8M255.7 298.6h0.8M255.1 300.3h0.8M259.1 297.3h0.8M254.8 295.6h0.8M256.6 300.4h0.8M256.6 292.3h0.8M259.0 297.5h0.8M254.9 297.8h0.8M257.7 300.1h0.8M256.6 295.4h0.8M254.3 297.5h0.8M259.2 295.4h0.8M257.6 293.7h0.8M255.9 299.2h0.8M254.7 296.0h0.8M254.8 299.4h0.8M257.2 296.1h0.8M257.3 295.6h0.8M257.9 299.4h0.8M257.2 298.6h0.8M258.3 297.9h0.8M254.7 299.4h0.8M257.1 297.8h0.8M254.6 297.2h0.8M255.8 292.9h0.8M254.4 294.8h0.8M257.2 294.7h0.8M256.5 300.3h0.8M255.3 294.5h0.8M257.5 293.4h0.8M254.9 298.9h0.8M256.0 294.9h0.8M255.9 300.0h0.8M257.4 294.1h0.8M256.4 292.4h0.8M254.7 296.3h0.8M257.0 295.5h0.8M257.4 299.4h0.8M257.9 297.9h0.8M254.5 296.9h0.8M259.3 297.6h0.8M255.0 293.6h0.8M255.5 293.1h0.8M257.0 296.9h0.8M254.9 298.3h0.8M256.4 294.8h0.8M256.3 293.2h0.8M258.1 293.5h0.8M255.1 299.1h0.8M255.8 293.0h0.8M256.6 292.6h0.8M257.9 299.0h0.8M255.3 297.1h0.8M258.2 295.8h0.8M257.7 295.4h0.8M258.2 300.0h0.8M255.5 297.0h0.8M254.8 296.7h0.8M256.5 297.0h0.8M255.7 297.4h0.8M256.4 293.4h0.8M258.9 298.9h0.8M255.2 299.2h0.8M258.5 298.8h0.8M257.4 294.9h0.8M254.7 297.4h0.8M258.7 298.6h0.8M258.4 294.6h0.8M255.7 300.4h0.8M257.4 296.6h0.8M256.6 296.0h0.8M258.2 294.2h0.8M255.1 298.9h0.8M256.4 293.7h0.8M257.7 295.6h0.8M256.5 295.5h0.8M256.9 296.3h0.8M258.0 299.7h0.8M258.7 297.1h0.8M255.0 299.8h0.8M257.9 297.6h0.8M255.0 298.9h0.8M256.2 293.6h0.8M258.2 299.9h0.8" stroke="#3a9cb8" stroke-width="0.8" fill="none"/>
<rect x="250.5" y="252.5" width="41.0" height="58.0" fill="none" stroke="#000" stroke-width="1"/>
<text x="271.7" y="262.1" font-size="8" text-anchor="middle" fill="#0a0a0a" style="stroke-width:0.12px">EV+</text>
<text x="271.7" y="271.1" font-size="8" text-anchor="middle" fill="#0a0a0a" style="stroke-width:0.12px">59.94%</text>
<rect x="299.7" y="248.0" width="66.2" height="66.8" fill="#fff" stroke="#b8b8b8" stroke-width="0.8"/>
<path d="M301.7 314.5v-1.8M306.5 314.5v-1.0M309.2 314.5v-1.0M311.2 314.5v-1.0M312.7 314.5v-1.0M314.0 314.5v-1.0M315.1 314.5v-1.0M316.0 314.5v-1.0M316.8 314.5v-1.0M317.5 314.5v-1.8M322.3 314.5v-1.0M325.0 314.5v-1.0M327.0 314.5v-1.0M328.5 314.5v-1.0M329.8 314.5v-1.0M330.9 314.5v-1.0M331.8 314.5v-1.0M332.6 314.5v-1.0M333.3 314.5v-1.8M338.1 314.5v-1.0M340.8 314.5v-1.0M342.8 314.5v-1.0M344.3 314.5v-1.0M345.6 314.5v-1.0M346.7 314.5v-1.0M347.6 314.5v-1.0M348.4 314.5v-1.0M349.1 314.5v-1.8M353.9 314.5v-1.0M356.6 314.5v-1.0M358.6 314.5v-1.0M360.1 314.5v-1.0M361.4 314.5v-1.0M362.5 314.5v-1.0M363.4 314.5v-1.0M364.2 314.5v-1.0M300.0 253.0h1.4M300.0 260.2h1.4M300.0 267.4h1.4M300.0 274.6h1.4M300.0 281.8h1.4M300.0 289.0h1.4M300.0 296.2h1.4M300.0 303.4h1.4M300.0 310.6h1.4" stroke="#444" stroke-width="0.6" fill="none"/>
<ellipse cx="313.2" cy="297.5" rx="7.8" ry="5.0" transform="rotate(-83 313.2 297.5)" fill="#3fa3b8" opacity="0.38" filter="url(#bl)"/>
<ellipse cx="325.0" cy="296.5" rx="7.5" ry="4.6" transform="rotate(-88 325.0 296.5)" fill="#3a86c4" opacity="0.38" filter="url(#bl)"/>
<path d="M319.1 295.1h0.7M338.9 285.7h0.7M334.4 299.1h0.7M345.5 300.0h0.7M330.4 302.9h0.7M336.2 302.5h0.7M329.4 288.0h0.7M328.2 301.1h0.7M345.1 299.1h0.7M338.9 297.0h0.7M339.1 291.7h0.7M345.3 302.4h0.7M343.7 297.2h0.7M343.0 303.4h0.7M353.1 304.0h0.7M333.4 293.0h0.7M343.2 300.6h0.7M341.2 298.0h0.7M333.0 298.5h0.7M329.0 299.3h0.7M351.7 301.9h0.7M332.7 292.6h0.7M352.5 301.5h0.7M334.8 301.1h0.7M335.9 291.5h0.7M338.8 300.7h0.7M345.8 290.3h0.7M346.9 296.3h0.7M325.8 303.5h0.7M344.0 300.8h0.7M343.0 292.4h0.7M341.0 288.1h0.7M348.0 300.0h0.7M341.0 298.2h0.7M341.8 298.9h0.7M332.2 295.6h0.7M326.2 292.6h0.7M336.9 299.9h0.7M351.6 288.2h0.7M350.8 295.2h0.7M335.3 297.2h0.7M351.3 291.4h0.7M335.6 300.9h0.7M343.8 300.0h0.7M338.7 303.5h0.7M332.0 306.9h0.7M334.9 299.9h0.7M332.3 294.1h0.7M344.0 301.1h0.7M336.8 302.4h0.7M357.7 283.4h0.7M325.4 298.8h0.7M327.4 303.7h0.7M332.9 297.7h0.7M332.8 309.8h0.7M347.3 287.8h0.7M342.0 295.9h0.7M347.0 299.7h0.7M333.4 295.2h0.7M338.3 307.7h0.7M338.5 294.7h0.7M335.5 302.7h0.7M336.1 308.0h0.7M343.4 298.6h0.7M338.6 295.8h0.7M323.4 304.6h0.7M347.2 296.5h0.7M339.7 289.8h0.7M336.7 298.8h0.7M337.5 298.0h0.7M344.1 301.9h0.7M342.8 294.4h0.7M334.8 297.8h0.7M328.1 289.3h0.7M340.0 297.8h0.7M338.5 304.7h0.7M324.8 300.1h0.7M336.5 290.1h0.7M342.1 306.0h0.7" stroke="#7f9ade" stroke-width="0.7" fill="none"/>
<path d="M319.7 306.5h0.8M321.5 300.0h0.8M318.2 288.4h0.8M307.9 290.9h0.8M304.0 301.0h0.8M316.6 286.1h0.8M309.9 289.3h0.8M318.5 285.7h0.8M305.8 309.8h0.8M304.6 300.6h0.8M306.5 294.2h0.8M317.5 284.0h0.8M319.8 287.7h0.8M317.9 311.1h0.8M315.1 284.8h0.8M310.9 283.9h0.8M311.9 286.3h0.8M303.1 306.4h0.8M315.0 285.2h0.8M311.8 309.3h0.8M307.5 307.5h0.8M325.0 303.8h0.8M318.6 290.1h0.8M323.9 303.0h0.8M325.3 293.8h0.8M316.1 284.1h0.8M309.5 288.7h0.8M314.8 285.2h0.8M306.7 309.5h0.8M319.9 294.5h0.8M312.9 285.8h0.8M318.8 290.6h0.8M321.0 303.7h0.8M322.4 309.5h0.8M315.6 284.7h0.8M306.2 295.4h0.8M316.6 283.4h0.8M318.6 286.2h0.8M320.0 310.6h0.8M319.8 292.2h0.8M319.4 288.8h0.8M316.0 286.0h0.8M303.6 307.1h0.8M318.2 307.3h0.8M320.9 303.5h0.8M314.0 280.8h0.8M315.7 311.3h0.8M319.4 306.8h0.8M319.7 306.1h0.8M320.4 296.0h0.8M304.6 306.9h0.8M304.1 302.1h0.8M312.5 282.5h0.8M306.0 292.7h0.8M314.3 279.2h0.8M318.1 309.3h0.8M306.0 295.2h0.8M309.0 290.3h0.8M316.9 283.4h0.8M318.7 283.7h0.8M305.6 294.9h0.8M304.3 298.5h0.8M320.8 299.2h0.8M315.6 309.8h0.8M317.5 287.8h0.8M306.1 307.6h0.8M319.2 291.4h0.8M307.8 291.7h0.8M315.9 285.4h0.8M306.6 293.9h0.8M307.4 292.9h0.8M323.0 301.7h0.8M316.5 286.4h0.8M314.7 285.5h0.8M315.6 282.9h0.8M306.0 307.7h0.8M309.2 289.6h0.8M319.6 307.6h0.8M312.2 285.0h0.8M311.9 309.4h0.8M317.6 288.0h0.8M316.6 280.9h0.8M309.1 308.4h0.8M318.0 309.9h0.8M315.3 309.4h0.8M303.5 302.1h0.8M320.6 297.2h0.8M313.1 283.9h0.8M305.5 306.8h0.8M321.4 300.3h0.8M312.8 311.7h0.8M315.6 282.6h0.8M312.3 286.4h0.8M320.5 303.7h0.8M313.0 283.2h0.8M318.1 289.2h0.8M311.8 286.6h0.8M321.5 301.4h0.8M301.9 306.6h0.8M312.8 285.6h0.8M315.3 281.0h0.8M318.8 312.2h0.8M305.7 305.9h0.8M309.8 311.9h0.8M321.0 303.7h0.8M312.5 309.2h0.8M316.5 310.0h0.8M316.5 286.8h0.8M320.6 294.4h0.8M318.7 312.0h0.8M306.3 307.3h0.8M320.4 307.3h0.8M313.9 277.9h0.8M307.3 288.8h0.8M315.3 310.9h0.8M308.2 311.2h0.8M321.1 302.2h0.8M315.6 282.2h0.8M304.9 306.5h0.8M304.2 299.1h0.8M322.1 310.6h0.8M321.3 302.3h0.8M315.5 279.8h0.8M321.1 299.8h0.8M307.8 291.8h0.8M305.2 304.5h0.8M321.5 300.8h0.8M319.2 291.0h0.8M318.2 289.3h0.8M310.1 286.5h0.8M313.5 309.3h0.8M317.7 281.0h0.8M315.4 283.4h0.8M314.2 285.4h0.8M312.9 309.3h0.8M310.8 282.8h0.8M304.7 294.8h0.8M312.3 285.2h0.8M317.9 309.7h0.8M321.0 300.0h0.8M315.7 309.8h0.8M311.3 286.6h0.8M317.9 283.9h0.8M308.4 290.9h0.8M313.1 283.3h0.8M304.8 307.7h0.8M303.0 294.8h0.8M317.5 287.8h0.8M310.1 281.2h0.8M304.7 302.0h0.8M320.1 293.7h0.8M304.3 299.1h0.8M324.1 308.7h0.8M311.6 311.9h0.8M304.0 305.2h0.8M312.6 286.3h0.8M304.6 300.6h0.8M320.7 306.3h0.8M305.9 307.2h0.8M321.9 301.2h0.8M318.2 310.0h0.8M310.3 288.8h0.8M319.5 306.9h0.8M314.7 277.1h0.8M321.2 301.2h0.8M320.2 307.8h0.8M321.2 299.0h0.8M311.6 280.5h0.8M317.1 310.5h0.8M320.0 291.1h0.8M304.8 305.7h0.8M318.6 311.3h0.8M306.0 294.7h0.8M308.9 287.3h0.8M310.4 285.8h0.8M304.4 300.9h0.8M318.4 308.4h0.8M319.4 292.3h0.8M315.9 285.4h0.8M321.2 305.7h0.8M306.4 306.5h0.8M320.6 295.8h0.8M311.9 286.2h0.8M321.4 300.9h0.8M321.8 311.7h0.8M316.7 274.5h0.8M304.3 306.9h0.8M311.1 284.8h0.8M306.0 292.2h0.8M308.5 290.1h0.8M313.6 284.9h0.8M309.6 308.8h0.8M315.8 279.3h0.8M304.3 300.7h0.8M321.3 292.8h0.8M304.6 301.2h0.8M310.4 310.2h0.8M306.2 293.8h0.8M308.6 308.8h0.8M312.6 286.1h0.8M319.1 307.1h0.8M321.3 302.2h0.8M304.2 301.9h0.8M319.6 291.5h0.8M320.9 299.1h0.8M304.7 299.7h0.8M315.3 280.1h0.8M321.6 295.9h0.8M323.7 297.9h0.8M301.8 300.5h0.8M319.7 292.0h0.8M306.9 292.8h0.8M322.5 308.4h0.8M304.1 305.4h0.8M314.9 310.4h0.8M313.6 309.6h0.8M325.9 300.0h0.8M318.4 309.2h0.8M326.9 307.4h0.8M304.2 298.9h0.8M305.3 307.0h0.8M304.6 300.9h0.8M304.7 298.7h0.8M321.2 310.5h0.8" stroke="#6aa0dd" stroke-width="0.8" fill="none"/>
<path d="M308.4 294.8h0.8M312.9 306.8h0.8M308.5 304.9h0.8M306.6 296.1h0.8M311.2 287.9h0.8M318.6 292.3h0.8M313.4 288.1h0.8M308.0 292.8h0.8M307.0 306.6h0.8M312.5 288.9h0.8M312.4 308.4h0.8M318.9 295.6h0.8M316.8 291.9h0.8M318.5 291.0h0.8M308.0 307.6h0.8M317.7 291.8h0.8M318.1 295.2h0.8M317.2 289.8h0.8M318.5 302.2h0.8M316.9 288.3h0.8M316.6 290.9h0.8M315.4 308.7h0.8M312.8 287.7h0.8M317.0 292.4h0.8M306.2 297.2h0.8M318.6 303.2h0.8M313.5 286.5h0.8M311.1 291.0h0.8M311.6 289.6h0.8M304.8 301.3h0.8M306.4 299.5h0.8M310.5 290.1h0.8M315.6 287.2h0.8M314.4 305.9h0.8M309.9 306.7h0.8M316.4 290.7h0.8M320.0 300.3h0.8M310.6 290.8h0.8M318.8 302.4h0.8M320.1 301.1h0.8M318.6 304.3h0.8M313.0 288.9h0.8M309.4 290.9h0.8M310.8 291.5h0.8M315.9 307.4h0.8M315.2 286.3h0.8M311.3 309.0h0.8M319.6 299.5h0.8M313.8 287.8h0.8M315.2 306.2h0.8M319.0 296.1h0.8M306.7 301.3h0.8M308.8 292.5h0.8M308.4 295.0h0.8M316.4 290.8h0.8M317.8 307.1h0.8M317.0 288.0h0.8M315.9 306.7h0.8M307.2 304.8h0.8M318.4 304.7h0.8M306.1 305.2h0.8M306.0 296.5h0.8M320.4 300.8h0.8M313.9 288.1h0.8M318.8 298.5h0.8M315.8 287.8h0.8M313.8 307.5h0.8M311.0 290.5h0.8M318.1 305.6h0.8M319.9 297.0h0.8M318.1 291.8h0.8M314.3 308.0h0.8M310.8 288.2h0.8M312.0 306.3h0.8M308.4 295.2h0.8M318.2 293.0h0.8M311.3 307.1h0.8M307.0 298.4h0.8M306.4 304.8h0.8M309.7 291.5h0.8M317.3 288.6h0.8M318.8 299.2h0.8M307.8 295.0h0.8M313.3 306.6h0.8M306.7 298.6h0.8M307.3 297.0h0.8M316.0 287.2h0.8M312.2 307.7h0.8M312.8 289.7h0.8M317.3 290.9h0.8M306.3 295.9h0.8M308.1 295.5h0.8M307.9 306.0h0.8M318.1 292.8h0.8M320.3 296.4h0.8M316.0 307.6h0.8M314.6 287.3h0.8M306.4 300.9h0.8M306.0 302.5h0.8M317.4 307.0h0.8M319.9 300.9h0.8M313.1 307.9h0.8M309.4 305.0h0.8M307.0 299.8h0.8M316.4 291.0h0.8M320.0 295.9h0.8M309.3 292.2h0.8M307.3 296.9h0.8M311.3 289.0h0.8M317.7 292.8h0.8M315.3 306.7h0.8M314.7 289.0h0.8M315.0 307.5h0.8M314.9 308.6h0.8M306.0 301.1h0.8M320.2 300.4h0.8M311.5 288.9h0.8M320.2 298.2h0.8M317.0 291.1h0.8M306.7 301.3h0.8M311.8 289.6h0.8M318.8 303.2h0.8M311.3 307.9h0.8M318.8 305.1h0.8M313.6 288.4h0.8M320.0 295.1h0.8M314.4 287.6h0.8M311.2 308.6h0.8M316.8 290.6h0.8M317.5 291.1h0.8M312.1 288.7h0.8M314.3 287.4h0.8M305.2 298.6h0.8M313.1 288.3h0.8M307.6 303.9h0.8M319.1 304.3h0.8M315.9 287.9h0.8M308.7 294.8h0.8M316.9 288.7h0.8M313.4 286.2h0.8M308.8 303.7h0.8M311.1 290.4h0.8M314.5 288.9h0.8M307.7 293.1h0.8M317.2 291.5h0.8M318.8 299.3h0.8M317.0 304.7h0.8M309.1 292.2h0.8M319.7 300.4h0.8M318.2 294.9h0.8M320.2 296.8h0.8M310.7 305.3h0.8M313.2 287.9h0.8M307.7 305.1h0.8M313.4 289.2h0.8M316.6 304.6h0.8M309.0 304.4h0.8M317.3 304.5h0.8M313.9 288.3h0.8M314.7 286.4h0.8M307.3 298.7h0.8M309.2 304.4h0.8M305.2 299.7h0.8M305.2 302.3h0.8M307.6 296.7h0.8M306.5 295.9h0.8M306.0 296.7h0.8M313.6 287.0h0.8M315.5 287.9h0.8M320.0 304.2h0.8M309.0 306.4h0.8M308.9 292.4h0.8M316.3 287.7h0.8M319.7 304.3h0.8M307.2 298.0h0.8M319.6 302.4h0.8M306.3 304.5h0.8M319.2 299.5h0.8M309.0 293.8h0.8M310.6 290.6h0.8M310.2 290.7h0.8M313.3 309.0h0.8M316.3 290.7h0.8M316.7 304.9h0.8M307.3 303.7h0.8M306.8 302.0h0.8M306.2 299.6h0.8M319.5 302.9h0.8M313.7 308.6h0.8M314.5 307.8h0.8M311.2 290.8h0.8M316.2 305.5h0.8M312.1 290.2h0.8M317.4 305.1h0.8M319.7 296.3h0.8M316.3 307.5h0.8M316.6 305.8h0.8M319.0 303.7h0.8M313.3 308.6h0.8M305.9 305.2h0.8M310.6 305.9h0.8M305.4 302.6h0.8M308.4 303.1h0.8M318.1 290.7h0.8M318.8 300.1h0.8M309.0 292.4h0.8M318.7 299.7h0.8M316.0 290.0h0.8M319.7 294.6h0.8M319.0 301.5h0.8M320.4 297.1h0.8M312.0 287.6h0.8M318.8 298.8h0.8M308.2 293.7h0.8M319.8 295.5h0.8M319.0 299.7h0.8M317.0 304.8h0.8M308.2 304.0h0.8M315.0 287.3h0.8M314.1 288.2h0.8M314.3 289.0h0.8M309.8 292.1h0.8M310.5 306.1h0.8M314.1 286.6h0.8M306.9 305.3h0.8M312.2 308.3h0.8M319.0 296.1h0.8M312.6 287.5h0.8M315.5 287.2h0.8M314.3 286.1h0.8M319.7 303.6h0.8M306.5 300.4h0.8M306.5 295.3h0.8M319.5 297.0h0.8M317.7 304.9h0.8M319.1 297.1h0.8M318.6 295.6h0.8M310.6 290.6h0.8M311.6 305.5h0.8M314.0 307.2h0.8M311.6 308.6h0.8M316.7 288.4h0.8M306.9 295.8h0.8M306.9 305.1h0.8M317.9 290.1h0.8M317.3 304.7h0.8M313.7 288.2h0.8M310.7 306.9h0.8M318.3 302.3h0.8M310.0 290.7h0.8M308.4 306.0h0.8M318.2 302.0h0.8M311.4 289.5h0.8M319.6 298.4h0.8M320.5 298.4h0.8M320.1 297.9h0.8M311.8 288.5h0.8M313.3 289.6h0.8M319.3 295.1h0.8M308.1 292.1h0.8M314.2 306.0h0.8M310.5 289.0h0.8M319.0 293.6h0.8M309.5 291.5h0.8M315.5 288.4h0.8M319.3 295.2h0.8M308.3 293.2h0.8M307.6 295.3h0.8M306.9 294.2h0.8M314.3 286.3h0.8M317.9 292.9h0.8M306.9 294.7h0.8M313.6 287.1h0.8M318.4 301.8h0.8M309.7 306.3h0.8M317.7 307.1h0.8M306.2 297.2h0.8M310.4 307.6h0.8M305.9 301.9h0.8M313.1 288.1h0.8M314.5 308.3h0.8M314.6 307.1h0.8M316.7 304.8h0.8M317.8 293.1h0.8M316.4 287.5h0.8M320.0 303.2h0.8M311.2 290.8h0.8M316.3 305.7h0.8M318.7 301.9h0.8M316.1 288.2h0.8M318.4 290.7h0.8M317.5 292.2h0.8M309.7 291.2h0.8M319.9 302.0h0.8M318.5 299.0h0.8M319.8 302.3h0.8M306.8 301.7h0.8M318.5 294.6h0.8M315.9 289.0h0.8M309.0 307.0h0.8M313.5 288.8h0.8M320.7 301.3h0.8M305.7 302.7h0.8M313.8 286.7h0.8M316.7 291.2h0.8M314.9 288.1h0.8M317.9 290.4h0.8M307.8 302.6h0.8M311.6 306.7h0.8M309.6 305.2h0.8M305.5 304.0h0.8M320.7 301.1h0.8M316.6 287.9h0.8M318.3 303.3h0.8M314.3 288.6h0.8M318.5 300.3h0.8M320.2 304.3h0.8M306.9 302.8h0.8M307.4 297.0h0.8M310.4 291.7h0.8M306.9 301.6h0.8M308.3 294.0h0.8M310.2 290.2h0.8" stroke="#4a98cc" stroke-width="0.8" fill="none"/>
<path d="M317.4 301.4h0.8M316.5 300.2h0.8M310.9 301.9h0.8M316.0 292.9h0.8M311.8 302.0h0.8M309.8 304.0h0.8M316.6 296.8h0.8M317.3 300.7h0.8M311.9 291.9h0.8M315.9 294.2h0.8M310.8 302.6h0.8M310.6 300.9h0.8M310.0 301.4h0.8M309.0 297.7h0.8M313.1 292.4h0.8M313.1 304.6h0.8M313.6 305.3h0.8M314.0 290.4h0.8M312.7 290.8h0.8M307.8 299.2h0.8M316.1 290.9h0.8M313.1 290.8h0.8M312.2 305.1h0.8M311.8 303.2h0.8M310.5 303.0h0.8M314.4 292.6h0.8M310.3 292.4h0.8M315.7 294.0h0.8M317.3 301.0h0.8M317.3 300.4h0.8M310.6 293.6h0.8M317.5 301.9h0.8M311.7 303.5h0.8M316.2 295.8h0.8M313.8 292.1h0.8M314.8 303.6h0.8M316.1 293.3h0.8M311.0 295.1h0.8M316.3 301.3h0.8M310.3 296.0h0.8M309.5 297.6h0.8M311.3 304.3h0.8M315.4 292.3h0.8M317.4 293.5h0.8M314.3 290.7h0.8M317.0 298.4h0.8M317.3 301.4h0.8M316.7 292.4h0.8M310.4 293.2h0.8M310.8 302.4h0.8M315.1 291.1h0.8M308.2 297.7h0.8M317.7 295.9h0.8M310.9 294.9h0.8M309.9 299.2h0.8M311.0 302.3h0.8M313.9 291.9h0.8M312.8 302.8h0.8M309.8 294.7h0.8M308.7 301.0h0.8M315.7 300.1h0.8M310.3 299.3h0.8M313.6 292.3h0.8M317.2 296.3h0.8M312.2 290.8h0.8M315.7 300.8h0.8M309.3 301.3h0.8M311.7 303.8h0.8M310.0 301.1h0.8M314.3 291.4h0.8M312.8 291.3h0.8M309.8 298.6h0.8M317.5 300.8h0.8M317.0 297.7h0.8M317.2 293.1h0.8M316.3 303.2h0.8M311.2 304.8h0.8M314.3 290.2h0.8M312.8 290.4h0.8M315.6 293.7h0.8M315.3 294.5h0.8M311.3 291.7h0.8M309.9 301.5h0.8M313.5 292.9h0.8M315.0 292.4h0.8M312.5 302.3h0.8M314.1 303.7h0.8M315.5 291.1h0.8M308.3 297.7h0.8M315.2 290.0h0.8M316.0 295.4h0.8M308.0 299.3h0.8M314.8 291.0h0.8M309.9 294.1h0.8M316.6 296.0h0.8M317.4 300.7h0.8M318.3 299.1h0.8M309.9 299.8h0.8M309.5 303.3h0.8M315.0 293.6h0.8M313.4 289.7h0.8M309.4 299.9h0.8M315.9 303.7h0.8M315.8 292.6h0.8M317.5 300.3h0.8M310.7 294.3h0.8M316.9 292.7h0.8M309.1 300.1h0.8M311.6 293.2h0.8M317.1 296.1h0.8M317.0 302.5h0.8M313.8 302.8h0.8M314.7 290.0h0.8M317.8 297.0h0.8M315.3 303.6h0.8M308.4 297.3h0.8M316.2 298.8h0.8M311.8 291.3h0.8M315.1 293.8h0.8M310.7 301.1h0.8M309.9 296.9h0.8M314.1 291.1h0.8M311.7 292.2h0.8M316.2 299.5h0.8M310.5 292.8h0.8M317.4 301.0h0.8M307.7 298.9h0.8M317.1 296.4h0.8M317.4 293.6h0.8M309.8 293.4h0.8M317.2 297.8h0.8M312.7 292.0h0.8M310.2 304.1h0.8M309.8 302.8h0.8M310.8 294.0h0.8M309.3 295.8h0.8M309.0 300.9h0.8M312.2 292.8h0.8M313.1 290.8h0.8M317.1 302.5h0.8M310.1 294.8h0.8M315.7 299.8h0.8M315.7 302.6h0.8M309.5 302.1h0.8M308.7 300.4h0.8M313.8 289.6h0.8M314.2 303.1h0.8M310.1 294.2h0.8M317.8 297.9h0.8M316.7 301.9h0.8M312.9 291.3h0.8M316.7 300.1h0.8M307.8 298.2h0.8M314.6 293.0h0.8M312.9 304.7h0.8M316.1 298.7h0.8M309.3 300.1h0.8M312.5 292.5h0.8M312.1 304.8h0.8M309.0 298.8h0.8M315.9 295.4h0.8M310.9 301.5h0.8M308.5 298.8h0.8M314.0 290.5h0.8M311.6 301.5h0.8M308.6 297.7h0.8M317.2 293.4h0.8M314.3 290.2h0.8M314.2 292.7h0.8M315.7 295.2h0.8M316.4 292.7h0.8M310.7 301.5h0.8M317.9 295.3h0.8M311.8 304.3h0.8M310.2 293.3h0.8M309.4 298.7h0.8M310.8 301.6h0.8M316.6 301.5h0.8M316.0 298.0h0.8M316.4 295.3h0.8M311.5 291.9h0.8M312.4 293.0h0.8M311.2 292.7h0.8M314.5 290.5h0.8M314.8 301.7h0.8M316.2 292.2h0.8M314.7 303.3h0.8M309.5 297.6h0.8M315.6 302.7h0.8M314.7 292.0h0.8M311.5 304.9h0.8M313.9 291.2h0.8M314.8 292.1h0.8M310.3 297.8h0.8M312.6 291.5h0.8M310.2 299.9h0.8M313.2 290.6h0.8M315.8 291.3h0.8M315.1 303.5h0.8M313.9 291.7h0.8M314.1 291.9h0.8M309.3 302.5h0.8M314.6 304.3h0.8M313.2 289.9h0.8M308.0 301.2h0.8M316.7 294.2h0.8M309.4 294.3h0.8M317.9 296.2h0.8M311.3 302.1h0.8M312.0 293.1h0.8M317.8 299.2h0.8M316.8 295.8h0.8M311.2 303.2h0.8M313.0 289.8h0.8M310.5 304.7h0.8M310.0 298.5h0.8M311.0 301.3h0.8M309.7 294.7h0.8M311.9 303.8h0.8M317.3 300.9h0.8M309.8 297.5h0.8M315.6 294.6h0.8M314.0 293.2h0.8M309.7 299.9h0.8M310.4 292.9h0.8M317.4 300.8h0.8M312.6 304.8h0.8M310.1 300.8h0.8M313.0 303.1h0.8M314.7 305.0h0.8M307.9 300.4h0.8M318.1 299.6h0.8M313.8 304.3h0.8M313.4 290.1h0.8M316.1 301.3h0.8M313.5 291.9h0.8M315.9 295.3h0.8M315.4 300.5h0.8M316.6 303.8h0.8M309.8 298.1h0.8M312.5 290.4h0.8M310.6 293.4h0.8M311.2 292.0h0.8M310.4 304.8h0.8M317.2 300.6h0.8M311.1 294.3h0.8M315.3 302.5h0.8M314.3 291.1h0.8M309.0 297.1h0.8M312.1 305.1h0.8M309.6 297.9h0.8M308.4 297.2h0.8M308.8 296.3h0.8M308.4 299.6h0.8M310.6 301.8h0.8M309.6 298.1h0.8M308.9 295.8h0.8M311.3 303.1h0.8M311.7 294.0h0.8M312.9 291.0h0.8M311.7 293.2h0.8M311.6 304.4h0.8M309.7 296.8h0.8M309.9 299.4h0.8M315.1 301.0h0.8M310.7 304.7h0.8M316.0 300.0h0.8M314.7 302.0h0.8M309.4 293.7h0.8M308.6 302.5h0.8M311.5 304.6h0.8M316.0 300.6h0.8M308.0 301.7h0.8M310.0 302.6h0.8M315.4 293.7h0.8M310.9 294.4h0.8M317.8 296.4h0.8M314.7 302.2h0.8M309.7 299.2h0.8M309.7 298.9h0.8M317.6 295.1h0.8M316.2 295.2h0.8M309.5 293.6h0.8M317.1 295.4h0.8M318.0 296.1h0.8M308.3 296.3h0.8M314.0 291.4h0.8M316.8 294.3h0.8M313.9 290.1h0.8M316.5 296.6h0.8M314.3 292.1h0.8M312.9 292.5h0.8M309.6 295.6h0.8M314.8 293.0h0.8M314.8 302.6h0.8M310.3 303.8h0.8M313.1 291.6h0.8" stroke="#3fa3b8" stroke-width="0.8" fill="none"/>
<path d="M313.1 297.5h0.8M314.2 297.6h0.8M313.7 301.3h0.8M312.8 300.3h0.8M315.3 297.7h0.8M312.6 300.1h0.8M314.7 294.5h0.8M315.0 297.5h0.8M315.0 295.6h0.8M314.0 299.0h0.8M314.3 295.2h0.8M313.8 297.0h0.8M313.1 296.2h0.8M312.6 294.3h0.8M315.5 296.0h0.8M311.3 299.1h0.8M315.8 297.9h0.8M315.8 298.6h0.8M314.2 293.6h0.8M312.6 300.5h0.8M311.6 297.2h0.8M313.2 301.4h0.8M311.7 294.8h0.8M314.5 297.3h0.8M311.9 298.7h0.8M312.4 295.2h0.8M311.2 301.0h0.8M311.8 295.7h0.8M311.5 295.8h0.8M311.2 298.1h0.8M311.5 296.7h0.8M311.8 299.1h0.8M312.8 295.8h0.8M313.5 300.3h0.8M315.0 296.8h0.8M311.3 295.7h0.8M313.9 296.6h0.8M311.1 299.7h0.8M311.7 298.9h0.8M313.4 298.4h0.8M314.6 293.8h0.8M311.0 298.9h0.8M314.4 299.8h0.8M312.4 297.4h0.8M314.2 296.4h0.8M313.3 298.0h0.8M315.7 299.0h0.8M311.9 300.2h0.8M315.5 297.0h0.8M311.9 294.2h0.8M315.4 297.2h0.8M312.6 294.4h0.8M314.0 296.1h0.8M313.7 296.0h0.8M311.1 299.3h0.8M314.8 298.3h0.8M315.9 297.3h0.8M314.6 299.8h0.8M314.8 295.4h0.8M312.1 299.5h0.8M313.1 299.9h0.8M315.2 300.2h0.8M313.9 299.8h0.8M315.7 296.2h0.8M315.4 298.2h0.8M311.4 295.1h0.8M314.2 300.2h0.8M313.5 297.7h0.8M313.5 296.8h0.8M314.1 298.6h0.8M311.7 295.8h0.8M311.5 297.9h0.8M312.4 298.7h0.8M313.9 299.2h0.8M313.7 300.2h0.8M314.7 299.8h0.8M312.1 297.3h0.8M311.7 299.4h0.8M311.5 298.3h0.8M313.3 293.3h0.8M311.8 294.8h0.8M311.7 296.8h0.8M314.4 296.3h0.8M311.5 300.0h0.8M310.6 297.7h0.8M313.2 298.5h0.8M314.1 295.9h0.8M311.6 294.6h0.8M312.1 294.6h0.8M312.8 296.8h0.8M313.0 297.8h0.8M315.3 295.2h0.8M312.5 294.9h0.8M311.4 299.4h0.8M314.7 294.2h0.8M312.9 297.6h0.8M313.2 296.2h0.8M313.4 298.5h0.8M313.5 298.6h0.8M315.9 298.5h0.8M314.2 299.5h0.8M313.1 301.3h0.8M313.9 301.5h0.8M315.3 295.5h0.8M313.8 298.2h0.8M311.7 296.8h0.8M310.8 299.5h0.8M311.4 295.5h0.8M313.4 298.8h0.8M315.5 298.3h0.8M311.4 298.5h0.8M312.6 296.6h0.8M314.4 297.1h0.8M315.2 294.7h0.8M313.7 295.9h0.8M313.4 298.2h0.8M312.7 296.0h0.8M312.7 295.0h0.8M313.0 298.4h0.8M310.8 296.1h0.8M314.8 294.1h0.8M312.7 295.4h0.8M314.1 295.6h0.8M311.6 298.2h0.8M315.0 299.0h0.8M314.9 298.9h0.8M315.2 299.9h0.8M313.6 300.5h0.8M313.4 296.5h0.8M315.4 296.9h0.8M313.1 293.9h0.8M315.3 295.6h0.8M311.8 294.6h0.8M314.3 295.8h0.8" stroke="#45adb0" stroke-width="0.8" fill="none"/>
<path d="M327.4 286.0h0.8M318.7 307.1h0.8M327.1 308.4h0.8M322.5 287.2h0.8M323.5 282.3h0.8M322.9 283.9h0.8M319.4 292.7h0.8M319.5 292.1h0.8M329.6 289.2h0.8M324.1 309.9h0.8M317.1 298.1h0.8M325.6 309.6h0.8M332.7 302.0h0.8M316.5 302.0h0.8M330.6 290.5h0.8M328.1 284.9h0.8M327.8 308.6h0.8M325.7 283.8h0.8M319.3 289.7h0.8M318.2 304.6h0.8M331.3 293.3h0.8M332.1 290.4h0.8M327.4 283.1h0.8M321.6 308.1h0.8M324.7 281.2h0.8M324.8 283.2h0.8M332.8 301.1h0.8M328.2 282.1h0.8M332.2 295.4h0.8M318.1 307.0h0.8M326.1 284.7h0.8M333.0 296.5h0.8M317.7 298.6h0.8M316.9 294.5h0.8M326.2 307.9h0.8M329.5 289.7h0.8M329.8 306.1h0.8M333.9 304.9h0.8M319.4 306.4h0.8M316.3 305.7h0.8M320.0 307.0h0.8M323.6 285.2h0.8M329.4 307.1h0.8M332.3 300.9h0.8M318.8 304.9h0.8M317.0 301.9h0.8M317.9 305.9h0.8M314.8 301.2h0.8M335.3 308.6h0.8M332.5 298.8h0.8M317.5 300.8h0.8M336.0 305.6h0.8M321.7 284.1h0.8M332.1 295.7h0.8M326.3 283.7h0.8M329.7 290.3h0.8M321.9 309.5h0.8M334.0 286.1h0.8M326.0 283.0h0.8M317.1 299.9h0.8M320.9 312.1h0.8M323.2 284.7h0.8M332.2 295.1h0.8M317.1 297.6h0.8M321.7 288.4h0.8M326.5 279.6h0.8M320.5 307.0h0.8M320.8 307.9h0.8M329.8 306.2h0.8M313.7 299.9h0.8M317.3 300.6h0.8M332.8 290.8h0.8M322.2 281.1h0.8M328.3 310.2h0.8M331.5 294.4h0.8M314.2 298.9h0.8M323.5 283.4h0.8M318.3 305.4h0.8M331.7 292.0h0.8M326.7 283.3h0.8M328.7 287.9h0.8M323.8 284.9h0.8M334.5 297.4h0.8M333.2 297.9h0.8M335.3 308.5h0.8M317.1 299.4h0.8M318.1 305.1h0.8M320.3 290.0h0.8M323.9 280.7h0.8M331.8 307.7h0.8M320.6 290.1h0.8M331.9 297.0h0.8M339.2 310.2h0.8M323.5 279.5h0.8M332.9 294.0h0.8M319.0 308.1h0.8M329.7 308.3h0.8M326.0 310.8h0.8M323.8 308.4h0.8M330.9 289.8h0.8M318.8 306.4h0.8M320.2 290.2h0.8M316.3 309.0h0.8M332.6 298.8h0.8M329.8 285.6h0.8M314.4 298.9h0.8M320.0 291.1h0.8M330.9 305.0h0.8M315.3 299.6h0.8M326.6 284.5h0.8M323.0 311.0h0.8M333.1 296.3h0.8M330.5 287.9h0.8M320.5 288.7h0.8M331.4 294.9h0.8M317.8 297.3h0.8M332.7 299.7h0.8M312.6 306.2h0.8M314.7 305.1h0.8M326.0 309.0h0.8M334.5 306.4h0.8M319.5 308.3h0.8M336.0 301.0h0.8M332.7 302.6h0.8M322.6 286.3h0.8" stroke="#4060c0" stroke-width="0.8" fill="none"/>
<path d="M320.2 300.1h0.8M319.5 295.9h0.8M330.8 300.8h0.8M321.6 304.7h0.8M317.9 297.7h0.8M319.5 293.5h0.8M330.7 293.7h0.8M324.5 286.9h0.8M322.4 288.8h0.8M324.9 287.3h0.8M326.7 288.1h0.8M320.5 292.1h0.8M330.0 298.6h0.8M322.6 288.6h0.8M331.0 302.4h0.8M328.8 290.4h0.8M328.9 291.5h0.8M328.1 287.5h0.8M321.6 305.3h0.8M323.0 289.6h0.8M331.1 296.5h0.8M329.3 290.9h0.8M323.4 288.2h0.8M330.0 297.6h0.8M324.7 304.6h0.8M328.1 303.4h0.8M329.3 304.7h0.8M320.6 292.5h0.8M320.2 295.2h0.8M326.7 304.9h0.8M327.9 290.2h0.8M320.1 305.7h0.8M322.7 288.3h0.8M324.0 288.3h0.8M330.2 298.8h0.8M317.8 300.0h0.8M325.8 304.8h0.8M331.7 302.5h0.8M327.3 288.7h0.8M322.7 290.0h0.8M329.4 293.2h0.8M323.1 288.6h0.8M322.5 288.6h0.8M330.4 297.6h0.8M319.0 301.0h0.8M325.9 288.1h0.8M330.6 295.5h0.8M320.9 292.4h0.8M325.7 286.6h0.8M324.2 287.0h0.8M321.1 292.3h0.8M328.1 288.9h0.8M317.8 301.0h0.8M329.3 291.8h0.8M328.0 305.4h0.8M319.3 298.7h0.8M322.6 290.3h0.8M329.9 296.6h0.8M323.0 305.5h0.8M319.5 295.7h0.8M327.5 287.8h0.8M322.0 291.7h0.8M329.9 292.6h0.8M323.4 304.1h0.8M323.3 287.1h0.8M328.8 302.3h0.8M319.7 296.5h0.8M318.8 302.9h0.8M320.2 293.3h0.8M318.9 299.3h0.8M326.9 305.2h0.8M320.5 293.0h0.8M324.4 287.8h0.8M328.6 303.9h0.8M326.3 288.1h0.8M327.7 303.6h0.8M318.7 298.5h0.8M320.4 293.6h0.8M330.0 295.9h0.8M318.1 300.6h0.8M330.0 301.2h0.8M324.5 307.3h0.8M317.7 300.5h0.8M331.3 301.7h0.8M319.7 301.3h0.8M331.8 297.9h0.8M322.8 290.4h0.8M330.5 302.4h0.8M329.1 305.8h0.8M319.2 299.9h0.8M320.9 303.2h0.8M326.8 289.1h0.8M318.0 299.2h0.8M323.5 305.2h0.8M326.8 304.0h0.8M319.9 304.9h0.8M318.6 300.6h0.8M322.1 303.9h0.8M328.0 303.6h0.8M319.5 299.4h0.8M321.6 304.0h0.8M331.4 300.8h0.8M328.7 290.2h0.8M323.1 287.3h0.8M330.8 302.1h0.8M327.1 287.6h0.8M331.9 298.9h0.8M322.6 288.8h0.8M329.7 292.0h0.8M319.8 300.4h0.8M321.2 302.5h0.8M327.3 287.8h0.8M319.5 293.2h0.8M327.2 304.8h0.8M322.1 288.9h0.8M331.5 296.3h0.8M320.3 305.0h0.8M330.5 293.7h0.8M326.0 306.2h0.8M325.6 287.1h0.8M319.9 293.9h0.8M328.3 305.1h0.8M328.6 303.3h0.8M327.3 289.6h0.8M332.0 300.4h0.8M327.1 305.7h0.8M320.1 293.7h0.8M328.9 290.8h0.8M328.9 303.9h0.8M325.5 286.8h0.8M330.1 302.6h0.8M318.2 299.8h0.8M321.5 288.9h0.8M326.5 286.5h0.8M330.3 296.5h0.8M331.7 297.8h0.8M322.2 291.4h0.8M330.5 304.2h0.8M325.4 286.6h0.8M323.2 288.3h0.8M323.4 304.1h0.8M328.7 292.5h0.8M328.0 290.1h0.8M326.0 287.4h0.8M326.9 288.8h0.8M328.7 291.7h0.8M319.8 299.2h0.8M326.0 304.3h0.8M319.4 304.4h0.8M331.4 298.2h0.8M321.2 292.3h0.8M327.8 305.6h0.8M319.2 297.8h0.8M320.9 305.2h0.8M321.5 305.6h0.8M327.2 288.0h0.8M318.6 296.7h0.8M319.9 294.1h0.8M320.1 298.2h0.8M320.2 303.9h0.8M326.5 286.4h0.8M330.1 295.5h0.8M321.9 304.1h0.8M330.5 301.6h0.8M329.5 303.7h0.8M319.1 296.1h0.8M319.4 293.8h0.8M329.8 296.6h0.8M326.7 288.2h0.8M329.9 302.1h0.8M322.0 291.0h0.8M329.1 290.0h0.8M322.4 289.7h0.8M321.1 304.1h0.8M329.1 292.7h0.8M321.3 289.3h0.8M329.4 292.8h0.8M318.3 296.5h0.8M329.8 292.1h0.8M327.7 305.0h0.8M321.1 291.9h0.8M326.8 287.9h0.8M320.4 295.4h0.8M321.5 289.6h0.8M329.7 293.8h0.8M329.5 301.3h0.8M329.1 291.4h0.8M326.7 289.2h0.8M326.7 286.1h0.8M320.7 302.0h0.8M324.9 287.8h0.8" stroke="#3d72c8" stroke-width="0.8" fill="none"/>
<path d="M323.5 302.5h0.8M327.5 294.7h0.8M322.4 295.2h0.8M325.0 289.0h0.8M323.7 292.9h0.8M327.1 290.0h0.8M323.5 303.4h0.8M327.5 290.9h0.8M321.0 298.6h0.8M328.1 294.8h0.8M328.2 295.6h0.8M321.0 296.2h0.8M329.8 297.9h0.8M325.1 289.9h0.8M325.3 290.4h0.8M327.0 290.9h0.8M322.7 293.3h0.8M327.7 301.8h0.8M322.0 294.4h0.8M324.4 290.6h0.8M327.8 292.2h0.8M326.9 299.6h0.8M329.2 300.6h0.8M326.0 291.4h0.8M320.6 297.4h0.8M321.2 298.5h0.8M327.4 295.3h0.8M325.4 301.2h0.8M321.7 292.3h0.8M325.8 291.8h0.8M327.9 299.9h0.8M326.4 300.2h0.8M320.7 299.4h0.8M321.7 300.2h0.8M329.3 295.0h0.8M327.8 294.3h0.8M328.7 298.6h0.8M322.1 295.3h0.8M322.3 292.5h0.8M325.5 303.1h0.8M322.0 303.0h0.8M327.5 296.0h0.8M322.3 297.3h0.8M327.4 290.5h0.8M321.2 297.4h0.8M322.4 294.8h0.8M321.3 298.8h0.8M327.6 296.9h0.8M321.6 295.6h0.8M324.0 290.4h0.8M326.9 299.9h0.8M322.8 294.1h0.8M327.4 294.8h0.8M322.4 299.9h0.8M320.5 297.4h0.8M320.5 298.4h0.8M327.5 294.2h0.8M321.7 299.3h0.8M328.7 297.9h0.8M323.0 301.6h0.8M321.2 299.7h0.8M322.4 296.1h0.8M326.6 291.5h0.8M326.3 302.5h0.8M323.2 302.3h0.8M323.3 300.2h0.8M321.9 297.4h0.8M328.3 301.6h0.8M328.3 300.5h0.8M322.7 300.8h0.8M325.5 292.4h0.8M322.4 296.6h0.8M322.9 299.5h0.8M328.5 301.7h0.8M321.0 298.8h0.8M328.2 300.1h0.8M324.0 302.8h0.8M324.5 301.5h0.8M327.4 292.0h0.8M321.6 295.6h0.8M321.9 294.7h0.8M327.0 294.2h0.8M324.0 291.4h0.8M322.4 302.0h0.8M327.2 302.9h0.8M324.7 290.9h0.8M324.2 291.3h0.8M328.5 302.4h0.8M322.4 302.0h0.8M323.0 301.1h0.8M321.3 300.0h0.8M325.9 300.4h0.8M325.6 303.0h0.8M322.5 291.5h0.8M323.3 300.3h0.8M328.4 300.2h0.8M325.0 290.2h0.8M323.8 290.3h0.8M328.9 301.8h0.8M321.9 294.6h0.8M325.8 304.0h0.8M324.3 292.2h0.8M322.3 294.1h0.8M328.4 301.9h0.8M327.8 301.5h0.8M327.0 292.4h0.8M325.9 302.5h0.8M325.8 292.2h0.8M322.2 302.9h0.8M320.6 300.9h0.8M320.3 296.2h0.8M321.1 294.0h0.8M325.3 291.8h0.8M322.5 295.8h0.8M324.4 303.8h0.8M321.9 299.3h0.8M324.9 301.1h0.8M327.0 292.7h0.8M321.6 297.1h0.8M327.3 299.9h0.8M327.9 295.8h0.8M322.0 299.3h0.8M327.6 291.1h0.8M327.8 302.0h0.8M322.8 294.3h0.8M322.8 293.4h0.8M327.2 303.2h0.8M325.2 290.8h0.8M328.1 292.9h0.8M327.9 291.2h0.8M320.5 298.1h0.8M321.1 294.1h0.8M328.1 297.0h0.8M328.7 293.5h0.8M328.7 296.9h0.8M324.3 302.3h0.8M320.1 299.4h0.8M328.2 298.7h0.8M328.9 294.1h0.8M323.2 303.7h0.8M326.1 303.9h0.8M321.7 294.7h0.8M326.6 291.3h0.8M322.2 291.8h0.8M320.5 298.8h0.8M322.2 297.1h0.8M326.7 292.9h0.8M320.8 298.0h0.8M322.8 302.3h0.8M324.0 290.5h0.8M327.8 291.0h0.8M324.3 292.3h0.8M322.1 296.0h0.8M323.9 301.2h0.8M324.2 303.9h0.8M324.7 302.7h0.8M327.3 292.9h0.8M324.5 304.0h0.8M325.3 292.0h0.8M328.9 296.0h0.8M328.7 297.5h0.8M327.3 290.2h0.8M324.4 290.2h0.8M321.6 294.7h0.8M326.4 301.7h0.8" stroke="#3a86c4" stroke-width="0.8" fill="none"/>
<path d="M323.0 295.6h0.8M325.6 293.9h0.8M324.7 294.2h0.8M323.9 299.5h0.8M325.9 297.0h0.8M327.4 295.9h0.8M324.8 293.3h0.8M325.9 297.3h0.8M323.5 299.0h0.8M324.8 297.3h0.8M325.9 293.4h0.8M323.2 295.5h0.8M325.5 296.9h0.8M324.7 299.5h0.8M325.9 294.9h0.8M325.5 297.8h0.8M326.7 297.5h0.8M324.3 295.1h0.8M325.8 300.0h0.8M324.1 296.1h0.8M324.7 294.4h0.8M323.6 299.0h0.8M325.1 297.7h0.8M323.7 299.3h0.8M323.0 298.7h0.8M324.3 293.5h0.8M324.4 300.3h0.8M324.6 295.9h0.8M326.2 294.0h0.8M324.1 295.8h0.8M327.1 298.5h0.8M323.5 297.4h0.8M325.4 294.3h0.8M324.9 299.5h0.8M326.5 294.5h0.8M326.2 295.0h0.8M324.1 297.3h0.8M325.4 293.0h0.8M324.0 293.7h0.8M322.8 298.9h0.8M324.7 295.6h0.8M323.2 297.1h0.8M325.3 298.4h0.8M325.3 299.6h0.8M323.7 296.4h0.8M324.3 293.1h0.8M327.3 297.3h0.8M324.6 297.0h0.8M325.6 293.7h0.8M324.1 296.7h0.8M323.8 295.8h0.8M323.3 294.7h0.8M324.1 296.4h0.8M327.1 297.5h0.8M325.4 295.8h0.8M323.6 298.7h0.8M326.1 299.5h0.8M326.6 298.8h0.8M324.2 298.1h0.8M325.2 294.2h0.8M325.1 298.3h0.8M325.0 299.8h0.8M325.4 298.1h0.8M325.7 297.6h0.8M324.9 298.4h0.8M324.3 292.9h0.8M323.4 298.9h0.8M325.4 295.6h0.8M324.1 298.2h0.8M323.4 299.9h0.8M326.6 297.5h0.8M322.8 295.3h0.8M326.5 295.7h0.8M325.5 296.8h0.8M323.4 297.3h0.8M325.3 299.8h0.8" stroke="#3a9cb8" stroke-width="0.8" fill="none"/>
<rect x="321.5" y="252.5" width="41.0" height="58.0" fill="none" stroke="#000" stroke-width="1"/>
<text x="343.5" y="262.1" font-size="8" text-anchor="middle" fill="#0a0a0a" style="stroke-width:0.12px">RIG-I+</text>
<text x="343.5" y="271.1" font-size="8" text-anchor="middle" fill="#0a0a0a" style="stroke-width:0.12px">30.42%</text>
<rect x="370.2" y="248.0" width="66.2" height="66.8" fill="#fff" stroke="#b8b8b8" stroke-width="0.8"/>
<path d="M372.2 314.5v-1.8M377.0 314.5v-1.0M379.7 314.5v-1.0M381.7 314.5v-1.0M383.2 314.5v-1.0M384.5 314.5v-1.0M385.6 314.5v-1.0M386.5 314.5v-1.0M387.3 314.5v-1.0M388.0 314.5v-1.8M392.8 314.5v-1.0M395.5 314.5v-1.0M397.5 314.5v-1.0M399.0 314.5v-1.0M400.3 314.5v-1.0M401.4 314.5v-1.0M402.3 314.5v-1.0M403.1 314.5v-1.0M403.8 314.5v-1.8M408.6 314.5v-1.0M411.3 314.5v-1.0M413.3 314.5v-1.0M414.8 314.5v-1.0M416.1 314.5v-1.0M417.2 314.5v-1.0M418.1 314.5v-1.0M418.9 314.5v-1.0M419.6 314.5v-1.8M424.4 314.5v-1.0M427.1 314.5v-1.0M429.1 314.5v-1.0M430.6 314.5v-1.0M431.9 314.5v-1.0M433.0 314.5v-1.0M433.9 314.5v-1.0M434.7 314.5v-1.0M370.5 253.0h1.4M370.5 260.2h1.4M370.5 267.4h1.4M370.5 274.6h1.4M370.5 281.8h1.4M370.5 289.0h1.4M370.5 296.2h1.4M370.5 303.4h1.4M370.5 310.6h1.4" stroke="#444" stroke-width="0.6" fill="none"/>
<ellipse cx="385.2" cy="298.5" rx="7.5" ry="4.9" transform="rotate(-83 385.2 298.5)" fill="#3fa3b8" opacity="0.38" filter="url(#bl)"/>
<ellipse cx="396.5" cy="297.0" rx="7.8" ry="4.7" transform="rotate(-88 396.5 297.0)" fill="#3a86c4" opacity="0.38" filter="url(#bl)"/>
<path d="M409.3 293.8h0.7M411.5 287.7h0.7M410.4 293.4h0.7M404.3 300.5h0.7M408.2 296.0h0.7M409.0 294.8h0.7M417.1 300.9h0.7M410.8 306.9h0.7M420.7 290.4h0.7M409.8 292.0h0.7M413.0 295.6h0.7M404.6 297.4h0.7M416.2 293.4h0.7M411.2 297.4h0.7M406.9 299.6h0.7M420.1 296.5h0.7M410.3 301.1h0.7M399.3 297.4h0.7M412.4 301.0h0.7M409.5 293.3h0.7M406.7 302.2h0.7M404.4 304.2h0.7M411.5 308.0h0.7M398.9 298.8h0.7M399.0 292.6h0.7M421.3 303.0h0.7M411.2 292.9h0.7M409.1 301.7h0.7M417.3 287.5h0.7M408.4 292.3h0.7M422.7 308.0h0.7M409.2 297.1h0.7M418.1 308.3h0.7M406.3 304.3h0.7M410.9 300.2h0.7M399.8 310.8h0.7M408.4 292.9h0.7M400.5 307.6h0.7M410.7 304.3h0.7M409.7 291.1h0.7M407.7 294.4h0.7M402.1 299.8h0.7M404.4 300.8h0.7M409.8 296.0h0.7M403.3 297.5h0.7M415.5 305.0h0.7M416.5 294.1h0.7M403.4 300.2h0.7M408.8 302.6h0.7M411.6 290.8h0.7M410.4 307.5h0.7M408.3 298.6h0.7M409.3 290.0h0.7M413.4 301.3h0.7M414.3 295.8h0.7M404.5 292.9h0.7M408.0 298.7h0.7M412.6 293.5h0.7M404.3 292.3h0.7M405.8 303.8h0.7M414.5 299.1h0.7M416.0 301.4h0.7M406.1 302.7h0.7M401.0 294.8h0.7M410.3 299.0h0.7M404.8 297.1h0.7M402.2 294.4h0.7M426.1 302.3h0.7M415.0 305.8h0.7M399.2 303.2h0.7M404.3 290.8h0.7M405.5 299.5h0.7M415.7 305.1h0.7M409.9 306.0h0.7M396.3 298.2h0.7M398.9 284.6h0.7M407.6 297.4h0.7M412.2 297.7h0.7M403.0 296.3h0.7M390.8 292.0h0.7M407.6 296.2h0.7M399.4 296.1h0.7M405.3 299.6h0.7M412.4 296.5h0.7M412.7 294.5h0.7M405.3 300.7h0.7M406.4 302.9h0.7M414.1 295.4h0.7M422.3 302.8h0.7M405.1 292.1h0.7M407.9 299.1h0.7M413.0 300.7h0.7M412.9 290.3h0.7M405.2 298.4h0.7M413.8 298.1h0.7M410.4 293.1h0.7M416.2 299.3h0.7M400.6 297.2h0.7" stroke="#7f9ade" stroke-width="0.7" fill="none"/>
<path d="M388.2 284.1h0.8M378.7 295.2h0.8M388.9 287.5h0.8M384.2 310.7h0.8M390.2 291.2h0.8M390.2 309.2h0.8M379.4 294.1h0.8M394.9 310.9h0.8M392.9 302.4h0.8M386.8 286.3h0.8M385.0 281.8h0.8M389.9 280.1h0.8M375.1 309.6h0.8M377.5 292.7h0.8M393.3 301.8h0.8M387.4 283.9h0.8M378.0 306.8h0.8M373.5 303.7h0.8M394.7 298.4h0.8M389.2 309.7h0.8M392.4 304.7h0.8M379.1 294.1h0.8M389.9 282.2h0.8M385.0 285.8h0.8M377.9 292.9h0.8M392.5 298.3h0.8M383.9 310.1h0.8M386.7 287.1h0.8M398.2 305.2h0.8M391.4 293.9h0.8M383.0 288.5h0.8M372.6 300.7h0.8M371.9 306.3h0.8M392.1 311.9h0.8M384.4 287.2h0.8M393.7 306.8h0.8M392.0 294.3h0.8M382.7 287.9h0.8M376.8 301.1h0.8M388.6 286.7h0.8M377.0 305.3h0.8M390.6 309.0h0.8M390.7 292.4h0.8M392.7 290.6h0.8M384.9 286.9h0.8M390.8 308.9h0.8M378.7 291.7h0.8M388.7 287.9h0.8M385.6 281.6h0.8M386.3 284.0h0.8M373.7 307.9h0.8M387.0 310.1h0.8M388.1 279.5h0.8M387.8 282.8h0.8M387.0 309.7h0.8M377.5 308.6h0.8M387.6 287.1h0.8M394.2 308.4h0.8M388.9 286.2h0.8M387.9 287.5h0.8M388.1 282.3h0.8M380.1 291.8h0.8M387.7 286.1h0.8M380.7 292.2h0.8M392.3 305.7h0.8M382.2 289.7h0.8M384.7 287.6h0.8M378.5 307.3h0.8M377.0 300.4h0.8M385.8 287.3h0.8M392.0 294.8h0.8M390.2 310.4h0.8M392.1 292.4h0.8M391.6 307.9h0.8M379.0 294.4h0.8M391.6 293.6h0.8M387.7 278.6h0.8M393.4 296.6h0.8M388.2 282.2h0.8M378.8 295.2h0.8M391.6 306.4h0.8M386.7 309.6h0.8M379.9 292.8h0.8M376.7 299.3h0.8M387.8 287.5h0.8M372.7 305.8h0.8M377.0 306.5h0.8M386.4 285.4h0.8M388.1 285.3h0.8M393.1 304.3h0.8M389.4 284.6h0.8M378.9 311.4h0.8M388.5 288.5h0.8M377.0 297.8h0.8M376.7 300.5h0.8M375.5 296.2h0.8M376.9 301.2h0.8M389.0 288.1h0.8M398.1 311.3h0.8M397.3 300.0h0.8M390.7 292.0h0.8M376.6 294.6h0.8M381.4 291.0h0.8M390.2 308.1h0.8M393.5 295.2h0.8M378.8 307.9h0.8M391.1 289.3h0.8M392.9 298.5h0.8M391.9 309.4h0.8M381.0 286.5h0.8M394.7 303.0h0.8M387.3 287.2h0.8M375.5 303.3h0.8M379.7 292.2h0.8M393.2 302.8h0.8M372.0 303.5h0.8M390.0 291.1h0.8M390.4 291.6h0.8M395.8 299.5h0.8M377.7 297.7h0.8M381.6 289.0h0.8M389.4 311.7h0.8M377.2 307.1h0.8M392.1 295.6h0.8M376.6 301.1h0.8M382.3 311.2h0.8M387.9 287.4h0.8M392.0 306.9h0.8M391.1 287.5h0.8M378.7 291.6h0.8M378.4 294.9h0.8M376.3 300.5h0.8M374.2 297.7h0.8M377.0 300.6h0.8M380.1 292.1h0.8M391.9 293.0h0.8M393.4 285.6h0.8M385.5 281.8h0.8M382.6 286.3h0.8M395.2 308.3h0.8M390.4 291.3h0.8M389.5 286.3h0.8M395.1 301.1h0.8M382.6 289.3h0.8M377.6 295.4h0.8M375.1 306.8h0.8M386.3 287.3h0.8M385.1 287.2h0.8M372.9 304.0h0.8M391.8 288.9h0.8M385.2 287.5h0.8M393.6 310.9h0.8M389.6 308.8h0.8M376.0 308.2h0.8M382.8 288.7h0.8M385.1 310.7h0.8M384.4 287.6h0.8M390.6 308.1h0.8M392.7 297.5h0.8M392.7 298.6h0.8M387.2 309.8h0.8M389.2 289.7h0.8M395.4 309.2h0.8M377.7 306.1h0.8M391.1 289.7h0.8M394.0 294.8h0.8M377.3 305.4h0.8M387.8 286.9h0.8M392.5 295.6h0.8M394.2 290.3h0.8M377.0 300.0h0.8M391.4 290.0h0.8M381.0 309.3h0.8M389.6 283.0h0.8M376.5 299.9h0.8M389.7 289.0h0.8M388.5 287.8h0.8M375.6 297.1h0.8M395.6 299.9h0.8M377.8 297.6h0.8M384.9 286.4h0.8M383.6 287.1h0.8M393.1 300.1h0.8M393.1 302.9h0.8M380.2 291.7h0.8M392.7 288.2h0.8M373.5 311.7h0.8M388.4 288.2h0.8" stroke="#6aa0dd" stroke-width="0.8" fill="none"/>
<path d="M390.7 299.8h0.8M390.6 299.8h0.8M383.5 289.6h0.8M383.2 290.8h0.8M381.6 306.2h0.8M388.9 305.2h0.8M389.0 291.9h0.8M388.4 306.8h0.8M385.6 290.8h0.8M390.6 305.6h0.8M388.9 291.3h0.8M379.8 298.9h0.8M388.4 306.8h0.8M388.8 293.5h0.8M379.7 297.0h0.8M390.7 293.5h0.8M391.2 297.5h0.8M384.8 288.0h0.8M390.3 296.9h0.8M387.4 288.8h0.8M384.1 288.8h0.8M381.6 305.9h0.8M386.2 307.9h0.8M379.4 298.1h0.8M378.9 307.1h0.8M382.7 306.2h0.8M387.5 309.0h0.8M392.1 302.8h0.8M379.6 302.4h0.8M386.4 290.4h0.8M387.5 308.9h0.8M385.1 288.7h0.8M387.8 289.8h0.8M383.8 289.6h0.8M386.9 290.3h0.8M386.7 307.4h0.8M379.8 298.9h0.8M391.2 304.0h0.8M389.2 291.2h0.8M390.2 305.3h0.8M389.7 295.5h0.8M392.0 304.5h0.8M379.4 306.3h0.8M387.8 289.5h0.8M379.0 299.5h0.8M386.7 290.0h0.8M390.1 302.8h0.8M381.0 292.8h0.8M388.7 292.4h0.8M387.5 288.5h0.8M381.1 293.2h0.8M381.2 294.4h0.8M378.0 297.9h0.8M380.3 305.7h0.8M390.2 301.4h0.8M388.4 289.9h0.8M390.4 304.2h0.8M385.4 287.8h0.8M380.2 295.6h0.8M391.5 306.2h0.8M387.2 288.2h0.8M388.8 307.9h0.8M379.9 297.8h0.8M390.1 301.8h0.8M382.8 306.6h0.8M382.4 308.6h0.8M380.1 305.1h0.8M380.7 293.9h0.8M380.3 305.1h0.8M387.1 306.6h0.8M392.1 303.1h0.8M380.9 304.8h0.8M391.6 304.1h0.8M383.2 307.8h0.8M388.7 307.8h0.8M391.2 298.2h0.8M380.2 293.4h0.8M378.6 305.8h0.8M391.0 303.8h0.8M380.0 296.0h0.8M383.7 309.2h0.8M390.8 297.7h0.8M379.3 306.5h0.8M384.7 307.5h0.8M379.1 306.8h0.8M380.7 306.3h0.8M382.0 307.9h0.8M378.1 306.3h0.8M379.4 296.1h0.8M382.8 307.4h0.8M386.6 308.3h0.8M388.3 288.9h0.8M383.1 308.7h0.8M384.4 288.6h0.8M386.1 290.1h0.8M387.2 308.6h0.8M387.4 306.0h0.8M378.0 305.9h0.8M378.1 302.5h0.8M379.4 302.7h0.8M391.0 299.0h0.8M390.9 299.7h0.8M380.4 294.2h0.8M388.2 306.3h0.8M382.9 307.1h0.8M390.8 300.0h0.8M387.6 306.1h0.8M387.5 305.9h0.8M379.9 304.4h0.8M390.6 306.0h0.8M384.6 289.0h0.8M390.2 292.9h0.8M383.3 306.1h0.8M381.5 306.5h0.8M382.4 307.2h0.8M388.7 292.3h0.8M388.3 307.5h0.8M390.0 292.3h0.8M385.8 288.2h0.8M378.8 298.1h0.8M390.1 302.5h0.8M383.7 307.9h0.8M389.6 307.3h0.8M390.1 302.7h0.8M378.4 302.7h0.8M382.0 306.0h0.8M387.4 291.3h0.8M388.7 290.9h0.8M388.2 309.0h0.8M388.3 289.4h0.8M377.7 305.0h0.8M380.8 294.7h0.8M391.8 300.1h0.8M390.4 302.6h0.8M378.1 306.3h0.8M382.7 291.6h0.8M379.2 295.6h0.8M381.5 292.0h0.8M390.7 302.5h0.8M378.3 300.1h0.8M392.3 298.4h0.8M382.8 309.1h0.8M384.2 291.4h0.8M387.4 289.6h0.8M391.7 301.5h0.8M383.3 309.5h0.8M388.5 308.2h0.8M378.3 298.7h0.8M391.7 305.5h0.8M379.5 307.7h0.8M378.8 297.3h0.8M385.5 309.2h0.8M389.3 291.5h0.8M390.4 300.6h0.8M384.0 308.6h0.8M391.1 298.5h0.8M379.8 299.4h0.8M391.3 305.3h0.8M378.0 302.9h0.8M378.7 298.5h0.8M384.7 307.5h0.8M391.1 300.5h0.8M390.0 292.9h0.8M391.3 301.3h0.8M392.2 301.1h0.8M378.8 300.7h0.8M390.8 305.9h0.8M380.0 296.6h0.8M377.4 301.8h0.8M392.0 299.5h0.8M381.0 292.4h0.8M379.2 303.8h0.8M390.3 302.2h0.8M388.3 291.0h0.8M391.2 296.0h0.8M381.1 292.7h0.8M386.9 307.1h0.8M380.4 293.9h0.8M390.6 306.5h0.8M386.4 306.5h0.8M381.8 292.0h0.8M379.7 305.7h0.8M391.9 303.3h0.8M383.1 291.8h0.8M379.9 302.6h0.8M379.0 303.1h0.8M390.0 307.5h0.8M392.0 299.7h0.8M390.4 294.7h0.8M382.4 306.2h0.8M383.3 289.9h0.8M379.9 304.3h0.8M385.5 307.3h0.8M379.3 296.2h0.8M380.3 293.5h0.8M382.5 290.2h0.8M381.0 295.7h0.8M383.7 307.2h0.8M389.6 304.6h0.8M379.5 302.4h0.8M384.9 289.8h0.8M388.6 290.5h0.8M377.6 301.1h0.8M389.0 293.7h0.8M378.6 302.0h0.8M390.5 295.5h0.8M383.1 291.8h0.8M381.4 308.0h0.8M378.1 299.1h0.8M387.8 288.8h0.8M389.7 292.1h0.8M382.7 291.2h0.8M388.2 291.8h0.8M387.4 289.6h0.8M389.9 305.6h0.8M384.4 308.1h0.8M377.2 300.8h0.8M380.0 297.1h0.8M390.0 293.8h0.8M383.9 289.2h0.8M387.9 305.4h0.8M380.1 293.6h0.8M389.2 292.6h0.8M380.0 295.8h0.8M386.6 308.3h0.8M383.3 307.5h0.8M383.7 309.2h0.8M380.5 307.5h0.8M383.2 307.8h0.8M391.4 303.0h0.8M385.1 288.2h0.8M379.0 296.8h0.8M392.1 301.9h0.8M384.3 309.0h0.8M384.3 307.1h0.8M391.1 294.7h0.8M382.0 293.7h0.8M382.2 306.9h0.8M379.7 297.1h0.8M391.2 296.8h0.8M384.9 288.0h0.8M387.6 289.8h0.8M387.3 288.2h0.8M391.5 300.3h0.8M387.5 288.1h0.8M388.6 289.1h0.8M382.2 293.1h0.8M383.3 306.7h0.8M390.3 298.3h0.8M383.4 289.9h0.8M379.2 296.1h0.8M382.2 290.9h0.8M383.4 290.9h0.8M382.8 292.8h0.8M391.2 296.2h0.8M390.6 299.0h0.8M380.0 298.3h0.8M389.0 291.4h0.8M378.4 303.5h0.8M389.3 306.7h0.8M386.0 290.7h0.8M390.8 293.5h0.8M385.9 306.7h0.8M391.6 303.5h0.8M391.5 305.8h0.8M384.4 306.7h0.8M378.1 301.0h0.8M378.1 306.2h0.8M382.7 306.6h0.8M380.0 297.1h0.8M381.1 308.8h0.8M378.6 303.3h0.8M382.5 290.2h0.8M388.3 290.6h0.8M382.3 291.7h0.8M387.7 288.2h0.8M389.6 307.2h0.8M380.8 304.4h0.8M378.6 303.5h0.8M378.2 305.6h0.8M390.5 298.5h0.8M381.3 294.2h0.8M386.1 306.1h0.8M386.8 288.0h0.8M390.2 296.3h0.8M383.2 289.4h0.8M382.6 307.6h0.8M391.7 298.3h0.8M388.1 289.4h0.8M383.0 290.8h0.8M380.4 293.2h0.8M390.3 302.0h0.8M388.6 290.7h0.8M387.1 289.5h0.8M390.6 294.8h0.8M387.7 306.8h0.8M390.5 302.5h0.8M384.0 307.7h0.8M389.5 293.2h0.8M387.7 290.9h0.8M388.0 291.4h0.8M390.9 297.5h0.8M390.6 296.9h0.8M385.9 289.8h0.8M390.3 301.4h0.8" stroke="#4a98cc" stroke-width="0.8" fill="none"/>
<path d="M385.2 293.5h0.8M383.4 305.3h0.8M380.4 300.2h0.8M381.2 300.0h0.8M384.7 304.5h0.8M382.9 296.9h0.8M390.0 301.0h0.8M383.3 295.7h0.8M389.5 295.9h0.8M380.5 301.6h0.8M385.8 303.9h0.8M386.0 303.3h0.8M382.7 294.0h0.8M384.7 293.3h0.8M382.6 295.3h0.8M383.2 304.5h0.8M381.1 302.7h0.8M389.5 299.4h0.8M384.4 292.6h0.8M382.4 297.0h0.8M387.8 302.9h0.8M389.0 298.6h0.8M383.6 292.2h0.8M381.4 304.6h0.8M388.0 304.1h0.8M383.4 305.1h0.8M380.3 302.9h0.8M388.0 298.4h0.8M389.5 299.7h0.8M384.3 302.9h0.8M384.6 303.6h0.8M382.5 303.5h0.8M389.6 297.1h0.8M381.6 295.6h0.8M388.3 298.8h0.8M385.9 305.9h0.8M384.2 293.0h0.8M385.5 293.4h0.8M384.0 293.1h0.8M387.0 302.5h0.8M384.1 292.2h0.8M389.0 302.1h0.8M381.4 295.8h0.8M384.8 294.4h0.8M387.5 296.2h0.8M380.8 302.3h0.8M389.0 300.1h0.8M387.1 291.6h0.8M389.2 298.3h0.8M388.8 295.5h0.8M382.1 297.3h0.8M383.2 305.2h0.8M388.8 295.1h0.8M385.4 292.2h0.8M382.7 302.5h0.8M385.0 291.9h0.8M384.9 303.2h0.8M384.4 303.7h0.8M383.1 302.2h0.8M389.3 302.4h0.8M384.8 303.2h0.8M385.3 303.7h0.8M383.3 294.7h0.8M386.1 293.8h0.8M386.9 293.3h0.8M382.1 298.0h0.8M380.9 303.4h0.8M381.6 301.5h0.8M386.4 293.8h0.8M381.5 296.6h0.8M386.5 294.4h0.8M381.5 299.4h0.8M380.6 301.9h0.8M384.1 294.1h0.8M389.0 296.3h0.8M383.7 294.4h0.8M386.1 293.3h0.8M389.4 299.1h0.8M387.5 303.7h0.8M383.0 293.7h0.8M385.0 305.6h0.8M384.1 304.3h0.8M383.1 294.9h0.8M382.9 305.2h0.8M387.9 295.4h0.8M384.5 293.7h0.8M389.1 296.4h0.8M389.0 302.0h0.8M384.1 291.7h0.8M385.5 294.1h0.8M388.7 293.6h0.8M384.5 302.7h0.8M381.0 299.3h0.8M386.0 291.7h0.8M382.0 302.9h0.8M383.7 304.2h0.8M381.8 304.9h0.8M382.5 297.0h0.8M382.6 295.7h0.8M389.0 295.4h0.8M381.9 300.2h0.8M386.9 293.3h0.8M386.6 292.0h0.8M385.0 303.0h0.8M382.1 299.7h0.8M382.6 304.8h0.8M382.2 299.6h0.8M383.9 292.7h0.8M386.6 292.0h0.8M382.5 296.4h0.8M385.5 293.2h0.8M383.7 302.4h0.8M386.6 294.5h0.8M386.2 305.0h0.8M382.7 296.2h0.8M387.7 302.0h0.8M381.3 301.4h0.8M381.0 301.3h0.8M389.3 296.7h0.8M389.4 302.4h0.8M389.2 298.8h0.8M383.9 305.7h0.8M385.7 291.7h0.8M384.6 294.5h0.8M382.5 294.1h0.8M381.0 300.7h0.8M388.5 299.5h0.8M382.3 297.0h0.8M389.4 298.4h0.8M383.7 295.5h0.8M389.0 302.6h0.8M384.5 291.5h0.8M385.7 293.6h0.8M386.2 305.9h0.8M389.1 295.8h0.8M386.5 302.4h0.8M388.6 304.4h0.8M390.1 299.4h0.8M389.0 295.9h0.8M382.3 301.5h0.8M388.5 301.1h0.8M386.1 292.1h0.8M381.5 299.2h0.8M387.9 303.5h0.8M384.2 293.8h0.8M384.8 293.6h0.8M389.3 296.5h0.8M389.1 299.3h0.8M387.3 294.5h0.8M380.7 299.8h0.8M389.5 298.3h0.8M382.4 295.5h0.8M387.5 303.7h0.8M383.4 305.9h0.8M386.7 302.9h0.8M383.1 293.2h0.8M382.3 299.6h0.8M384.1 304.2h0.8M388.2 296.4h0.8M383.8 293.5h0.8M384.2 294.9h0.8M383.1 304.9h0.8M380.4 298.8h0.8M380.9 298.1h0.8M382.4 297.6h0.8M386.1 303.1h0.8M384.8 293.1h0.8M381.0 295.9h0.8M381.1 296.7h0.8M387.1 294.0h0.8M389.6 302.0h0.8M387.0 292.4h0.8M389.3 294.8h0.8M382.5 300.5h0.8M385.6 305.5h0.8M389.7 298.5h0.8M382.5 295.0h0.8M385.0 291.0h0.8M382.0 296.3h0.8M388.3 303.2h0.8M384.2 294.3h0.8M387.5 293.5h0.8M385.3 293.4h0.8M387.9 294.2h0.8M382.1 298.5h0.8M385.8 305.2h0.8M380.5 299.3h0.8M387.4 291.6h0.8M382.1 298.4h0.8M385.5 304.6h0.8M388.6 294.7h0.8M388.1 297.7h0.8M381.5 305.0h0.8M381.7 303.8h0.8M383.6 304.3h0.8M388.1 295.8h0.8M384.5 292.6h0.8M386.4 304.1h0.8M387.5 291.6h0.8M382.1 295.1h0.8M388.4 296.8h0.8M381.4 295.7h0.8M383.3 293.6h0.8M384.9 305.2h0.8M386.9 291.6h0.8M383.9 295.2h0.8M388.6 299.4h0.8M390.0 301.1h0.8M384.4 294.4h0.8M381.5 297.5h0.8M383.5 306.0h0.8M380.0 302.3h0.8M381.8 297.3h0.8M388.4 297.5h0.8M384.9 293.2h0.8M387.8 294.6h0.8M388.5 301.6h0.8M386.6 304.8h0.8M382.6 295.5h0.8M388.7 304.1h0.8M387.4 302.7h0.8M387.7 294.3h0.8M381.3 296.3h0.8M389.2 296.0h0.8M380.6 296.7h0.8M381.8 299.5h0.8M382.4 293.7h0.8M381.1 302.9h0.8M381.8 299.1h0.8M382.8 302.8h0.8M380.3 297.8h0.8M386.2 291.5h0.8M388.3 299.7h0.8M387.7 304.5h0.8M383.9 295.0h0.8M389.4 300.6h0.8M381.1 298.9h0.8M386.1 291.8h0.8M389.9 301.5h0.8M381.9 299.6h0.8M383.5 305.8h0.8M387.9 292.8h0.8M380.9 296.2h0.8M381.3 304.7h0.8M381.8 302.2h0.8M382.3 295.6h0.8M380.0 300.2h0.8M384.3 294.7h0.8M381.5 302.8h0.8M388.6 304.4h0.8M381.9 300.2h0.8M381.5 295.7h0.8M386.1 292.0h0.8M386.2 304.4h0.8M383.5 304.9h0.8M382.6 301.3h0.8M384.2 292.6h0.8M385.0 294.4h0.8M385.8 303.2h0.8M385.7 303.4h0.8M389.0 297.9h0.8M382.0 300.6h0.8M386.3 294.6h0.8M382.5 301.5h0.8M386.9 302.3h0.8" stroke="#3fa3b8" stroke-width="0.8" fill="none"/>
<path d="M385.9 298.8h0.8M384.6 299.2h0.8M385.0 301.7h0.8M387.0 296.4h0.8M384.7 301.5h0.8M382.4 299.2h0.8M384.2 296.6h0.8M383.9 297.1h0.8M386.4 300.5h0.8M383.1 296.8h0.8M384.4 296.5h0.8M386.7 298.8h0.8M386.1 298.6h0.8M387.3 299.1h0.8M384.7 298.3h0.8M384.7 298.7h0.8M384.1 301.3h0.8M385.2 295.2h0.8M386.7 295.8h0.8M383.6 299.7h0.8M387.4 299.3h0.8M387.7 298.0h0.8M385.7 301.3h0.8M383.4 300.4h0.8M386.8 296.6h0.8M387.5 298.6h0.8M386.1 299.5h0.8M385.4 302.2h0.8M383.9 301.3h0.8M382.5 299.9h0.8M384.2 296.2h0.8M386.4 299.2h0.8M384.9 302.4h0.8M385.2 294.9h0.8M386.2 294.7h0.8M384.7 301.5h0.8M383.0 299.3h0.8M386.1 302.0h0.8M387.2 296.4h0.8M386.9 299.3h0.8M383.2 300.7h0.8M386.0 297.6h0.8M384.2 299.8h0.8M385.6 300.6h0.8M384.5 297.0h0.8M387.0 298.0h0.8M385.0 298.8h0.8M386.8 300.9h0.8M387.5 299.2h0.8M387.3 298.3h0.8M383.4 297.5h0.8M382.6 299.6h0.8M385.8 302.1h0.8M385.8 295.9h0.8M387.4 296.6h0.8M386.8 300.9h0.8M385.9 301.5h0.8M387.7 298.6h0.8M386.6 296.2h0.8M384.1 300.1h0.8M384.8 300.7h0.8M387.7 299.9h0.8M383.2 301.6h0.8M383.7 300.4h0.8M383.0 299.7h0.8M385.1 301.3h0.8M384.4 299.3h0.8M383.0 297.8h0.8M387.2 300.8h0.8M385.5 296.5h0.8M382.7 300.1h0.8M383.0 298.7h0.8M383.8 301.3h0.8M387.8 297.8h0.8M385.8 301.8h0.8M384.9 296.2h0.8M385.5 295.7h0.8M384.8 300.9h0.8M385.1 298.4h0.8M386.2 296.4h0.8M384.5 297.6h0.8M386.5 300.0h0.8M386.9 300.0h0.8M384.2 296.5h0.8M386.0 300.8h0.8M385.3 300.1h0.8M384.4 301.7h0.8M383.5 296.2h0.8M383.6 298.7h0.8M385.4 297.8h0.8M387.0 301.4h0.8M386.1 297.6h0.8M383.4 299.4h0.8M382.9 297.8h0.8M383.8 296.6h0.8M385.8 297.1h0.8M382.7 300.6h0.8M384.8 296.9h0.8M384.0 295.6h0.8M387.6 298.8h0.8M386.3 300.6h0.8M387.0 301.5h0.8M387.0 300.5h0.8M384.4 295.8h0.8M386.4 296.4h0.8M385.0 295.8h0.8M382.6 298.3h0.8M387.1 298.4h0.8M385.1 298.5h0.8M385.2 302.0h0.8M383.9 296.0h0.8M384.6 297.9h0.8M387.1 301.2h0.8M382.9 299.9h0.8M383.0 301.6h0.8M385.3 301.5h0.8M384.2 295.8h0.8M384.6 296.3h0.8M386.5 296.8h0.8M383.9 295.9h0.8M384.9 300.4h0.8M385.8 297.7h0.8M385.2 300.4h0.8" stroke="#45adb0" stroke-width="0.8" fill="none"/>
<path d="M409.0 304.6h0.8M403.6 294.8h0.8M400.1 309.0h0.8M393.0 308.9h0.8M389.1 295.5h0.8M394.8 308.8h0.8M402.9 292.8h0.8M401.7 288.6h0.8M390.2 294.4h0.8M391.0 292.6h0.8M388.8 309.9h0.8M396.8 309.6h0.8M399.9 308.1h0.8M396.5 284.8h0.8M398.1 281.6h0.8M399.3 286.8h0.8M389.7 287.5h0.8M389.9 292.7h0.8M389.0 310.3h0.8M399.3 285.4h0.8M404.5 296.3h0.8M398.6 309.1h0.8M390.6 292.0h0.8M405.9 302.4h0.8M404.3 303.2h0.8M392.3 288.9h0.8M402.8 281.9h0.8M387.9 297.8h0.8M404.3 301.6h0.8M386.6 298.6h0.8M406.1 301.3h0.8M400.5 308.7h0.8M404.1 302.4h0.8M399.9 308.3h0.8M388.6 297.0h0.8M390.6 293.4h0.8M389.7 287.1h0.8M396.8 284.9h0.8M400.8 288.2h0.8M398.4 281.4h0.8M388.3 294.3h0.8M386.9 302.7h0.8M401.6 287.1h0.8M389.4 306.2h0.8M388.2 301.7h0.8M388.0 299.8h0.8M388.2 294.0h0.8M388.9 296.2h0.8M404.9 304.3h0.8M402.2 292.6h0.8M390.7 290.6h0.8M404.2 302.2h0.8M403.5 294.7h0.8M397.3 309.9h0.8M399.0 308.8h0.8M404.0 300.4h0.8M399.1 286.7h0.8M389.0 298.9h0.8M409.1 310.6h0.8M398.6 282.1h0.8M402.8 291.2h0.8M397.5 278.7h0.8M405.1 300.2h0.8M397.7 275.9h0.8M401.9 282.6h0.8M385.5 302.1h0.8M395.0 285.8h0.8M400.6 288.1h0.8M399.2 286.5h0.8M393.7 286.6h0.8M388.7 304.5h0.8M400.4 286.5h0.8M404.1 300.3h0.8M393.9 286.9h0.8M403.3 291.9h0.8M403.9 310.3h0.8M391.4 284.3h0.8M404.0 292.7h0.8M406.5 300.2h0.8M388.6 294.1h0.8M390.8 292.4h0.8M389.8 294.2h0.8M401.8 286.0h0.8M403.3 306.4h0.8M401.6 289.8h0.8M390.9 291.5h0.8M392.4 310.2h0.8M402.6 292.3h0.8M392.5 288.8h0.8M395.6 285.5h0.8M387.2 305.9h0.8M396.2 309.0h0.8M393.2 284.3h0.8M388.1 292.5h0.8M402.5 290.1h0.8M388.6 302.5h0.8M391.2 291.5h0.8M390.2 308.2h0.8M395.5 309.8h0.8M399.4 285.2h0.8M404.5 299.1h0.8M401.7 290.9h0.8M405.0 298.2h0.8M394.4 285.3h0.8M400.4 286.0h0.8M385.9 310.5h0.8M390.3 306.7h0.8M390.5 307.0h0.8M387.4 309.6h0.8M404.5 299.2h0.8M397.5 282.5h0.8M402.9 287.5h0.8M396.4 285.4h0.8M404.2 301.8h0.8M386.0 307.2h0.8M395.6 283.7h0.8M402.6 292.2h0.8M397.7 285.1h0.8M396.0 284.6h0.8M405.2 306.8h0.8M406.4 305.3h0.8M407.5 308.9h0.8M388.3 303.3h0.8M402.4 305.8h0.8M401.9 291.0h0.8M391.2 290.2h0.8M394.6 283.1h0.8M391.2 308.3h0.8M401.5 289.5h0.8M386.3 304.6h0.8M403.0 292.9h0.8M398.2 285.7h0.8M396.4 309.9h0.8M398.0 284.5h0.8M390.1 291.0h0.8M405.7 304.1h0.8M394.3 287.0h0.8M388.4 297.6h0.8M398.0 285.4h0.8M392.4 288.7h0.8M405.9 296.0h0.8M397.2 310.0h0.8M397.7 280.4h0.8M399.2 309.6h0.8M398.9 286.0h0.8M386.8 308.8h0.8M402.6 293.7h0.8M389.7 295.5h0.8M388.6 300.3h0.8M394.9 283.6h0.8M404.7 302.6h0.8M387.0 293.7h0.8M399.1 286.6h0.8M403.5 295.5h0.8M399.3 311.8h0.8" stroke="#4060c0" stroke-width="0.8" fill="none"/>
<path d="M397.3 288.2h0.8M401.1 293.1h0.8M390.4 302.5h0.8M389.3 300.4h0.8M400.9 294.8h0.8M400.9 301.8h0.8M396.9 285.6h0.8M392.0 293.0h0.8M400.1 288.7h0.8M403.4 301.1h0.8M390.2 295.7h0.8M392.4 303.0h0.8M398.0 307.4h0.8M391.9 291.7h0.8M392.4 306.5h0.8M389.9 295.8h0.8M390.5 295.6h0.8M391.2 295.3h0.8M397.8 286.4h0.8M400.6 305.6h0.8M389.9 300.7h0.8M394.6 287.8h0.8M392.9 305.5h0.8M395.0 306.6h0.8M392.5 304.1h0.8M399.5 288.2h0.8M401.7 291.5h0.8M393.0 305.6h0.8M390.7 300.2h0.8M403.1 303.2h0.8M391.6 302.2h0.8M391.9 295.6h0.8M390.5 301.8h0.8M389.6 298.9h0.8M401.8 302.9h0.8M394.7 287.2h0.8M399.1 307.7h0.8M397.9 286.9h0.8M400.4 305.0h0.8M397.9 306.3h0.8M400.0 304.0h0.8M397.0 285.4h0.8M391.5 298.0h0.8M396.3 306.2h0.8M391.6 301.2h0.8M391.5 291.9h0.8M390.2 294.6h0.8M392.2 307.0h0.8M398.6 287.0h0.8M391.8 295.0h0.8M402.5 302.3h0.8M397.4 307.5h0.8M400.8 302.8h0.8M401.1 304.7h0.8M396.7 285.5h0.8M394.8 288.8h0.8M393.9 290.8h0.8M397.3 308.0h0.8M398.7 290.0h0.8M397.4 306.7h0.8M398.3 307.0h0.8M393.3 289.0h0.8M390.0 299.8h0.8M399.5 291.1h0.8M396.3 306.1h0.8M390.6 298.8h0.8M400.7 292.1h0.8M401.6 295.7h0.8M398.7 305.7h0.8M400.4 305.3h0.8M392.0 295.3h0.8M397.0 307.8h0.8M398.9 290.0h0.8M401.8 297.9h0.8M402.6 298.0h0.8M400.3 290.5h0.8M392.7 304.3h0.8M391.3 292.2h0.8M391.3 303.3h0.8M398.9 290.0h0.8M391.7 302.9h0.8M398.6 286.8h0.8M396.6 285.4h0.8M401.6 291.8h0.8M400.2 304.6h0.8M396.2 306.0h0.8M398.3 288.9h0.8M402.6 302.8h0.8M394.7 307.1h0.8M392.7 292.5h0.8M400.9 293.8h0.8M391.4 292.3h0.8M391.3 300.0h0.8M402.1 297.1h0.8M391.1 293.5h0.8M396.0 286.0h0.8M396.9 307.3h0.8M403.2 302.8h0.8M401.7 303.4h0.8M391.4 293.9h0.8M393.7 304.5h0.8M391.1 295.9h0.8M403.0 297.1h0.8M394.9 287.9h0.8M391.4 304.1h0.8M395.0 288.0h0.8M390.9 300.4h0.8M401.7 298.2h0.8M402.9 298.3h0.8M390.5 294.6h0.8M393.1 305.5h0.8M401.7 292.8h0.8M397.6 288.2h0.8M397.7 288.9h0.8M391.6 305.6h0.8M390.5 297.7h0.8M401.4 301.6h0.8M396.7 287.4h0.8M401.3 304.0h0.8M399.0 290.3h0.8M397.5 305.3h0.8M401.7 294.3h0.8M400.4 305.9h0.8M392.4 291.6h0.8M390.7 299.8h0.8M390.5 304.0h0.8M391.0 298.7h0.8M400.3 292.4h0.8M399.4 307.8h0.8M401.8 292.2h0.8M393.9 307.9h0.8M398.0 286.5h0.8M397.4 288.3h0.8M401.9 295.9h0.8M392.1 293.6h0.8M389.7 299.7h0.8M396.0 305.9h0.8M401.2 291.9h0.8M391.2 298.0h0.8M394.6 289.0h0.8M402.4 295.3h0.8M397.2 306.1h0.8M399.7 291.4h0.8M394.2 307.6h0.8M398.4 288.2h0.8M403.5 298.9h0.8M396.1 285.6h0.8M398.3 307.5h0.8M399.4 288.5h0.8M394.1 289.9h0.8M391.9 305.4h0.8M402.4 294.6h0.8M402.3 294.0h0.8M392.2 304.9h0.8M395.7 306.8h0.8M394.1 290.3h0.8M390.9 297.5h0.8M395.2 306.5h0.8M393.7 287.8h0.8M393.4 289.5h0.8M401.1 304.7h0.8M403.6 298.5h0.8M390.7 294.3h0.8M394.6 305.4h0.8M395.9 308.4h0.8M396.1 286.8h0.8M398.1 289.1h0.8M401.6 293.7h0.8M391.2 299.5h0.8M400.8 302.4h0.8M399.4 287.4h0.8M391.3 304.5h0.8M394.5 306.0h0.8M397.1 308.1h0.8M391.8 306.0h0.8M397.0 286.6h0.8M394.9 306.7h0.8M392.4 291.1h0.8M390.0 295.8h0.8M401.0 295.0h0.8M401.8 304.6h0.8M401.7 295.5h0.8M393.0 290.0h0.8M398.2 287.4h0.8M397.3 288.8h0.8M393.6 290.3h0.8M390.0 305.0h0.8M401.7 306.1h0.8M399.2 307.5h0.8M402.6 297.2h0.8M391.8 291.5h0.8M389.2 302.4h0.8M400.1 307.7h0.8M401.8 294.9h0.8M398.4 288.7h0.8M401.2 291.3h0.8M400.1 304.0h0.8M391.1 292.4h0.8M402.9 298.6h0.8M398.1 308.5h0.8M403.5 300.2h0.8M400.6 304.5h0.8M391.3 297.1h0.8M403.1 302.4h0.8M401.1 304.9h0.8M392.4 305.8h0.8M401.6 292.3h0.8M400.3 303.2h0.8M396.3 288.0h0.8M394.0 307.6h0.8M390.8 295.6h0.8M395.0 287.6h0.8M402.6 305.2h0.8M398.9 288.0h0.8M392.0 304.5h0.8M402.0 300.8h0.8M403.1 303.3h0.8M403.5 300.1h0.8M401.8 297.8h0.8M401.9 294.9h0.8M397.6 288.0h0.8M390.4 296.4h0.8M391.6 304.4h0.8M389.8 300.0h0.8M391.0 299.6h0.8M398.4 288.6h0.8M401.9 299.6h0.8M389.8 298.6h0.8M390.3 304.8h0.8M394.9 306.0h0.8M402.7 303.4h0.8M390.5 297.4h0.8M403.3 298.6h0.8M396.0 287.8h0.8M403.5 301.7h0.8M395.5 287.7h0.8M402.4 298.6h0.8M396.9 286.4h0.8M401.1 291.8h0.8M395.3 288.6h0.8M398.3 308.2h0.8M401.5 301.3h0.8M390.1 298.8h0.8M399.9 305.8h0.8M393.2 288.7h0.8M393.1 290.6h0.8M393.2 305.0h0.8M395.0 288.4h0.8M394.5 305.3h0.8M392.9 290.0h0.8M402.3 297.7h0.8M398.5 287.7h0.8M393.8 289.5h0.8M394.6 287.0h0.8" stroke="#3d72c8" stroke-width="0.8" fill="none"/>
<path d="M401.2 299.7h0.8M398.8 294.8h0.8M400.5 301.1h0.8M396.0 302.1h0.8M395.5 303.8h0.8M393.6 294.7h0.8M400.3 293.2h0.8M396.0 291.2h0.8M398.6 301.6h0.8M394.1 303.1h0.8M398.9 291.4h0.8M398.4 291.1h0.8M397.5 292.4h0.8M393.2 302.9h0.8M396.4 289.3h0.8M394.1 291.9h0.8M398.5 292.2h0.8M399.9 295.8h0.8M392.1 300.6h0.8M393.9 298.4h0.8M394.4 301.5h0.8M391.9 298.0h0.8M392.2 299.8h0.8M392.5 300.0h0.8M399.7 293.0h0.8M392.8 295.9h0.8M397.6 292.7h0.8M400.4 296.6h0.8M400.0 293.7h0.8M394.1 295.6h0.8M398.1 303.0h0.8M396.2 289.5h0.8M391.9 299.2h0.8M397.7 304.8h0.8M394.1 293.7h0.8M400.0 301.9h0.8M392.9 298.4h0.8M399.0 290.9h0.8M399.2 292.8h0.8M392.5 297.3h0.8M394.0 293.0h0.8M396.1 302.3h0.8M400.0 296.2h0.8M400.2 299.6h0.8M400.8 300.8h0.8M400.3 293.8h0.8M395.1 304.2h0.8M395.2 302.5h0.8M397.1 291.9h0.8M392.6 303.0h0.8M393.2 301.3h0.8M395.4 301.2h0.8M393.3 302.6h0.8M396.3 291.2h0.8M398.9 291.9h0.8M398.4 300.2h0.8M399.4 294.1h0.8M394.7 291.0h0.8M395.4 292.5h0.8M397.7 290.6h0.8M399.5 300.2h0.8M399.2 291.9h0.8M394.6 302.9h0.8M398.2 289.8h0.8M395.4 303.9h0.8M399.3 297.1h0.8M393.9 294.5h0.8M396.0 292.5h0.8M392.1 298.5h0.8M397.1 290.3h0.8M393.8 298.3h0.8M400.1 294.6h0.8M393.9 295.8h0.8M399.3 297.8h0.8M395.4 291.8h0.8M396.0 302.9h0.8M394.2 293.9h0.8M394.5 292.5h0.8M395.4 304.7h0.8M394.5 291.9h0.8M398.7 291.9h0.8M395.2 291.7h0.8M395.8 291.9h0.8M392.8 294.3h0.8M392.7 298.4h0.8M400.6 297.1h0.8M393.7 301.4h0.8M397.8 302.0h0.8M399.4 298.9h0.8M392.2 301.7h0.8M392.4 295.3h0.8M392.9 297.7h0.8M396.2 290.1h0.8M400.7 297.8h0.8M400.1 297.0h0.8M393.6 293.3h0.8M395.6 291.5h0.8M399.4 303.6h0.8M395.5 292.9h0.8M395.5 292.3h0.8M400.4 300.0h0.8M398.1 292.7h0.8M393.6 298.0h0.8M394.2 293.2h0.8M398.6 294.3h0.8M400.0 302.0h0.8M394.1 291.5h0.8M396.4 304.1h0.8M396.3 304.3h0.8M397.6 291.7h0.8M395.4 292.9h0.8M395.8 301.3h0.8M394.1 293.1h0.8M400.9 295.7h0.8M395.4 301.3h0.8M398.7 291.1h0.8M399.9 295.6h0.8M393.6 293.7h0.8M393.4 297.8h0.8M399.1 301.2h0.8M399.1 293.6h0.8M395.3 303.2h0.8M392.3 298.2h0.8M393.1 299.8h0.8M399.3 300.9h0.8M396.4 289.9h0.8M401.0 298.7h0.8M399.2 295.5h0.8M396.0 291.3h0.8M396.6 302.7h0.8M401.4 299.3h0.8M394.0 296.3h0.8M398.8 294.4h0.8M400.6 297.2h0.8M397.2 289.5h0.8M398.6 291.6h0.8M397.4 301.3h0.8M392.9 293.3h0.8M400.0 299.7h0.8M393.1 294.4h0.8M398.9 300.7h0.8M391.9 296.9h0.8M394.0 295.5h0.8M393.8 291.9h0.8M399.2 298.2h0.8M401.0 297.1h0.8M398.5 300.0h0.8M394.3 301.1h0.8M397.1 289.7h0.8M396.8 304.1h0.8M398.8 300.2h0.8M394.2 292.6h0.8M397.4 291.6h0.8M397.9 300.8h0.8M396.8 289.5h0.8M393.7 292.4h0.8M395.6 291.8h0.8M396.7 292.0h0.8M395.4 302.2h0.8M393.6 299.6h0.8M394.4 302.2h0.8M397.0 289.7h0.8M401.3 298.5h0.8M399.9 300.3h0.8M395.1 302.5h0.8M400.5 296.5h0.8M393.3 300.7h0.8M400.2 297.6h0.8M394.1 291.6h0.8M393.5 299.9h0.8M397.9 290.4h0.8M395.9 291.3h0.8M393.2 295.0h0.8M392.6 294.6h0.8M393.3 302.2h0.8M397.3 304.5h0.8M398.4 290.7h0.8M395.3 292.0h0.8M392.5 298.3h0.8M399.0 303.3h0.8M399.6 297.3h0.8M397.3 291.3h0.8M399.2 293.6h0.8M397.6 291.3h0.8M393.4 297.8h0.8M394.2 294.8h0.8M393.9 304.1h0.8M397.2 302.4h0.8M400.5 299.1h0.8M394.2 294.9h0.8M399.3 295.3h0.8M393.9 294.4h0.8M399.3 297.5h0.8M398.2 290.7h0.8M397.8 289.8h0.8M393.0 293.0h0.8M394.7 291.8h0.8M394.1 293.2h0.8M399.1 296.4h0.8M400.4 293.6h0.8M392.9 297.1h0.8M394.6 290.6h0.8M399.7 294.1h0.8M395.4 304.8h0.8M393.6 295.1h0.8M393.1 299.1h0.8M399.3 298.4h0.8M397.3 291.2h0.8M400.7 299.3h0.8M395.2 303.7h0.8M397.5 302.6h0.8M393.0 302.7h0.8M394.7 293.2h0.8M392.1 296.1h0.8M393.2 300.5h0.8M400.0 294.8h0.8M393.8 291.9h0.8M398.8 292.4h0.8M395.8 291.7h0.8M391.6 300.6h0.8M399.3 291.3h0.8M392.7 299.0h0.8M397.4 302.6h0.8M396.4 303.9h0.8M397.7 293.1h0.8M399.1 296.7h0.8M396.1 291.3h0.8M399.1 292.4h0.8M394.5 291.3h0.8M398.1 300.7h0.8" stroke="#3a86c4" stroke-width="0.8" fill="none"/>
<path d="M396.5 296.4h0.8M397.7 300.8h0.8M395.1 300.1h0.8M396.0 293.4h0.8M395.4 295.1h0.8M396.4 298.7h0.8M396.2 294.6h0.8M396.7 294.0h0.8M397.5 296.7h0.8M396.4 296.4h0.8M397.0 298.8h0.8M398.3 295.7h0.8M394.9 297.3h0.8M395.2 299.5h0.8M394.0 298.7h0.8M397.1 296.4h0.8M394.9 295.7h0.8M397.2 298.3h0.8M394.6 298.8h0.8M394.6 298.7h0.8M398.2 297.2h0.8M398.8 297.3h0.8M395.9 295.8h0.8M396.8 300.1h0.8M394.7 295.5h0.8M396.1 297.8h0.8M395.9 294.7h0.8M396.0 297.9h0.8M395.4 294.9h0.8M397.9 295.9h0.8M396.3 297.9h0.8M396.5 297.7h0.8M396.0 294.5h0.8M395.7 293.6h0.8M398.1 296.2h0.8M396.6 293.1h0.8M395.9 297.0h0.8M397.6 293.9h0.8M394.3 295.9h0.8M396.3 298.1h0.8M394.6 295.9h0.8M397.8 298.6h0.8M395.1 298.7h0.8M398.6 296.4h0.8M396.2 301.0h0.8M398.5 294.8h0.8M397.4 298.0h0.8M395.9 294.9h0.8M394.2 297.0h0.8M394.3 299.4h0.8M397.6 299.3h0.8M396.9 300.5h0.8M396.3 301.1h0.8M395.9 299.9h0.8M398.1 299.9h0.8M397.4 300.6h0.8M396.0 297.8h0.8M398.4 298.1h0.8M397.8 300.5h0.8M397.2 300.2h0.8M397.7 298.6h0.8M394.7 296.3h0.8M398.8 295.9h0.8M394.9 295.4h0.8M394.9 296.9h0.8M396.2 296.0h0.8M397.9 298.5h0.8M396.0 298.5h0.8M396.2 293.3h0.8M396.0 297.3h0.8M397.4 295.4h0.8M396.2 299.6h0.8M397.0 293.1h0.8M394.7 295.9h0.8M397.7 295.8h0.8M396.3 295.6h0.8M395.9 300.3h0.8M396.6 300.3h0.8M398.5 296.3h0.8M395.8 295.5h0.8M396.2 298.9h0.8M395.1 293.9h0.8M397.5 300.1h0.8M396.4 297.7h0.8M395.5 293.3h0.8M395.2 296.3h0.8M398.0 296.4h0.8M396.2 296.0h0.8M397.0 295.7h0.8M397.1 298.2h0.8M396.2 294.1h0.8M397.7 294.5h0.8M395.4 293.9h0.8M396.8 295.7h0.8M396.0 298.9h0.8M395.1 300.7h0.8M394.7 295.9h0.8M395.3 296.8h0.8M394.4 297.7h0.8M395.7 297.5h0.8M395.1 296.4h0.8M396.4 300.6h0.8M398.7 297.5h0.8M394.6 295.4h0.8M396.0 297.4h0.8M394.1 296.7h0.8M395.1 295.1h0.8M398.0 300.6h0.8M396.9 296.9h0.8M396.2 298.2h0.8M397.6 296.3h0.8M396.1 299.3h0.8" stroke="#3a9cb8" stroke-width="0.8" fill="none"/>
<rect x="391.5" y="252.5" width="43.0" height="58.0" fill="none" stroke="#000" stroke-width="1"/>
<text x="413.8" y="262.1" font-size="8" text-anchor="middle" fill="#0a0a0a" style="stroke-width:0.12px">ZNFX1+</text>
<text x="413.8" y="271.1" font-size="8" text-anchor="middle" fill="#0a0a0a" style="stroke-width:0.12px">51.41%</text>
<rect x="229.4" y="321.4" width="66.2" height="66.8" fill="#fff" stroke="#b8b8b8" stroke-width="0.8"/>
<path d="M231.4 387.9v-1.8M236.2 387.9v-1.0M238.9 387.9v-1.0M240.9 387.9v-1.0M242.4 387.9v-1.0M243.7 387.9v-1.0M244.8 387.9v-1.0M245.7 387.9v-1.0M246.5 387.9v-1.0M247.2 387.9v-1.8M252.0 387.9v-1.0M254.7 387.9v-1.0M256.7 387.9v-1.0M258.2 387.9v-1.0M259.5 387.9v-1.0M260.6 387.9v-1.0M261.5 387.9v-1.0M262.3 387.9v-1.0M263.0 387.9v-1.8M267.8 387.9v-1.0M270.5 387.9v-1.0M272.5 387.9v-1.0M274.0 387.9v-1.0M275.3 387.9v-1.0M276.4 387.9v-1.0M277.3 387.9v-1.0M278.1 387.9v-1.0M278.8 387.9v-1.8M283.6 387.9v-1.0M286.3 387.9v-1.0M288.3 387.9v-1.0M289.8 387.9v-1.0M291.1 387.9v-1.0M292.2 387.9v-1.0M293.1 387.9v-1.0M293.9 387.9v-1.0M229.7 326.4h1.4M229.7 333.6h1.4M229.7 340.8h1.4M229.7 348.0h1.4M229.7 355.2h1.4M229.7 362.4h1.4M229.7 369.6h1.4M229.7 376.8h1.4M229.7 384.0h1.4" stroke="#444" stroke-width="0.6" fill="none"/>
<ellipse cx="242.6" cy="370.5" rx="5.7" ry="3.5" transform="rotate(-84 242.6 370.5)" fill="#3a86c4" opacity="0.38" filter="url(#bl)"/>
<ellipse cx="256.2" cy="370.5" rx="6.9" ry="4.4" transform="rotate(-88 256.2 370.5)" fill="#3398b0" opacity="0.38" filter="url(#bl)"/>
<path d="M283.2 373.0h0.7M275.5 366.4h0.7M270.6 375.2h0.7M268.3 368.8h0.7M274.0 369.5h0.7M267.6 375.4h0.7M270.9 366.1h0.7M278.1 374.3h0.7M268.1 373.9h0.7M276.4 371.7h0.7M265.4 358.7h0.7M272.3 371.5h0.7M271.9 372.5h0.7M268.1 369.9h0.7M277.5 365.6h0.7M267.9 367.3h0.7M275.0 380.8h0.7M268.3 374.8h0.7M265.5 365.3h0.7M279.2 367.8h0.7M279.6 366.1h0.7M270.5 370.9h0.7M274.7 367.5h0.7M266.2 367.3h0.7M279.9 362.4h0.7M264.4 370.4h0.7M265.4 371.0h0.7M272.2 372.3h0.7M274.1 365.6h0.7M274.1 371.4h0.7M271.4 367.4h0.7M267.8 368.7h0.7M280.6 375.8h0.7M268.7 365.3h0.7M269.0 373.8h0.7M273.4 379.6h0.7M271.4 378.7h0.7M269.5 371.7h0.7M277.5 368.1h0.7M284.0 370.0h0.7" stroke="#7f9ade" stroke-width="0.7" fill="none"/>
<path d="M236.9 371.2h0.8M236.2 372.7h0.8M252.2 375.7h0.8M241.8 380.3h0.8M246.1 364.4h0.8M248.2 371.8h0.8M238.1 377.8h0.8M245.4 357.3h0.8M240.8 363.7h0.8M238.6 377.9h0.8M236.7 376.2h0.8M241.1 363.5h0.8M237.7 369.2h0.8M242.3 362.2h0.8M246.0 364.9h0.8M247.1 367.5h0.8M247.6 374.9h0.8M245.3 359.9h0.8M248.5 372.6h0.8M248.1 373.2h0.8M236.6 374.7h0.8M244.1 361.3h0.8M246.0 362.1h0.8M239.7 364.9h0.8M240.9 363.2h0.8M254.9 381.4h0.8M248.0 375.6h0.8M239.2 364.9h0.8M249.0 369.9h0.8M248.1 370.5h0.8M238.2 367.2h0.8M236.3 374.9h0.8M236.8 377.2h0.8M245.9 377.8h0.8M242.8 380.2h0.8M236.2 379.4h0.8M243.6 385.6h0.8M241.3 380.0h0.8M239.1 378.7h0.8M238.7 379.5h0.8M238.6 378.8h0.8M248.5 373.3h0.8M237.5 367.2h0.8M244.8 361.9h0.8M243.8 362.1h0.8M244.4 362.4h0.8M247.8 371.0h0.8M237.0 376.6h0.8M246.7 364.8h0.8M240.0 380.4h0.8M247.7 369.0h0.8M243.4 380.1h0.8M245.6 363.3h0.8M245.7 363.3h0.8M237.9 368.6h0.8M236.7 367.7h0.8M237.3 377.7h0.8M245.5 363.9h0.8M241.9 360.9h0.8M239.0 365.9h0.8M240.1 360.8h0.8M234.9 376.8h0.8M237.5 376.8h0.8M237.2 369.1h0.8M241.5 361.0h0.8M243.8 360.8h0.8M233.8 378.4h0.8M245.4 358.1h0.8M241.6 382.0h0.8M243.5 360.5h0.8M241.5 380.7h0.8M241.9 358.5h0.8M250.1 369.5h0.8M237.2 376.4h0.8M237.0 371.0h0.8M242.5 361.5h0.8M233.3 381.4h0.8M238.2 378.3h0.8M242.0 361.4h0.8M235.7 377.6h0.8M245.3 363.0h0.8M242.5 381.4h0.8M243.4 361.2h0.8M247.9 358.9h0.8M244.3 361.4h0.8M237.0 366.1h0.8M251.1 370.3h0.8M237.7 369.1h0.8M245.5 363.9h0.8M239.6 362.3h0.8M241.2 379.2h0.8M234.9 371.8h0.8M246.6 365.7h0.8M238.3 378.0h0.8M247.9 374.2h0.8M244.7 381.4h0.8M242.1 359.1h0.8M239.3 365.7h0.8M238.7 364.5h0.8M243.9 357.0h0.8M242.9 380.3h0.8M241.0 363.4h0.8M248.2 373.8h0.8M233.7 379.8h0.8M235.9 375.5h0.8M236.8 378.8h0.8M235.5 376.0h0.8M237.9 364.2h0.8" stroke="#4060c0" stroke-width="0.8" fill="none"/>
<path d="M238.1 373.0h0.8M240.7 365.0h0.8M246.5 372.0h0.8M243.4 377.3h0.8M244.5 363.7h0.8M246.3 368.9h0.8M245.9 367.2h0.8M243.8 378.7h0.8M246.3 374.9h0.8M246.8 371.9h0.8M239.2 366.4h0.8M245.5 364.6h0.8M238.6 368.2h0.8M245.1 363.7h0.8M238.5 373.0h0.8M242.2 364.0h0.8M240.3 378.4h0.8M238.6 371.3h0.8M238.4 373.3h0.8M239.3 376.5h0.8M244.7 364.6h0.8M239.0 366.7h0.8M241.4 363.3h0.8M245.3 365.9h0.8M244.0 377.8h0.8M238.6 373.2h0.8M247.8 372.1h0.8M244.5 365.0h0.8M239.0 377.0h0.8M238.6 374.6h0.8M246.0 368.7h0.8M238.8 375.3h0.8M241.5 364.2h0.8M239.9 376.1h0.8M238.9 370.2h0.8M245.7 375.5h0.8M243.5 364.4h0.8M238.4 373.8h0.8M238.9 368.3h0.8M238.5 368.4h0.8M238.2 374.4h0.8M242.0 363.0h0.8M239.7 376.9h0.8M237.4 375.0h0.8M239.2 376.0h0.8M244.5 378.6h0.8M246.9 369.5h0.8M241.1 377.8h0.8M247.4 370.1h0.8M246.9 368.1h0.8M238.2 370.2h0.8M237.5 372.9h0.8M240.4 366.7h0.8M237.3 372.7h0.8M245.9 368.1h0.8M246.9 368.1h0.8M238.1 369.0h0.8M245.8 368.0h0.8M242.1 376.9h0.8M238.9 368.8h0.8M246.3 368.9h0.8M238.4 374.3h0.8M240.2 377.0h0.8M242.7 363.3h0.8M238.4 373.7h0.8M243.9 362.6h0.8M239.4 366.2h0.8M238.7 368.3h0.8M239.9 376.3h0.8M237.7 373.7h0.8M246.5 376.5h0.8M242.2 378.3h0.8M244.1 377.8h0.8M245.7 374.3h0.8M247.1 373.0h0.8M246.4 365.9h0.8M239.4 366.1h0.8M246.3 372.3h0.8M247.0 375.7h0.8M243.6 363.9h0.8M246.5 371.2h0.8M240.2 365.0h0.8M238.0 370.2h0.8M243.6 362.5h0.8M244.3 363.4h0.8M246.4 369.9h0.8M245.1 366.0h0.8M241.2 364.3h0.8M239.7 367.9h0.8M242.1 364.0h0.8M242.9 377.9h0.8M247.2 368.8h0.8M245.4 375.0h0.8M238.6 372.9h0.8M239.1 368.8h0.8M238.4 371.4h0.8M238.3 375.8h0.8M244.2 377.4h0.8M245.2 364.6h0.8M239.2 366.3h0.8M245.9 375.8h0.8M237.8 372.8h0.8M244.1 377.6h0.8M247.8 371.5h0.8M246.2 366.8h0.8M237.9 373.3h0.8M245.9 364.7h0.8M237.6 371.6h0.8M239.4 376.2h0.8M245.2 365.2h0.8M237.5 375.9h0.8M243.8 364.3h0.8M237.6 370.8h0.8M245.7 377.0h0.8M246.9 368.3h0.8M246.3 372.9h0.8M245.1 366.4h0.8M240.3 375.7h0.8M243.4 363.8h0.8M239.8 366.1h0.8M244.6 378.4h0.8M246.6 368.8h0.8M239.4 378.1h0.8M237.3 371.5h0.8M241.5 377.3h0.8M244.1 363.2h0.8M237.6 373.7h0.8M243.0 363.0h0.8M240.5 376.2h0.8M241.6 365.4h0.8M245.4 366.0h0.8M244.6 376.2h0.8M238.2 373.3h0.8M246.5 375.2h0.8M244.1 378.0h0.8M239.5 366.4h0.8M246.6 376.5h0.8M243.0 362.7h0.8M246.8 372.7h0.8M244.1 377.5h0.8M246.3 373.3h0.8M246.3 371.4h0.8M240.1 377.5h0.8M243.9 362.9h0.8M241.2 377.8h0.8M244.5 363.2h0.8M246.3 369.8h0.8M241.1 364.1h0.8M241.0 377.0h0.8M239.7 365.6h0.8M237.7 373.9h0.8M241.4 376.6h0.8M242.7 377.6h0.8M239.0 367.4h0.8M246.0 368.3h0.8M240.5 365.6h0.8M243.8 376.6h0.8M239.7 368.1h0.8M243.2 376.8h0.8M246.3 372.7h0.8M242.6 364.1h0.8M243.3 376.3h0.8M243.5 364.3h0.8" stroke="#3d72c8" stroke-width="0.8" fill="none"/>
<path d="M245.1 369.3h0.8M239.6 372.9h0.8M245.4 371.9h0.8M239.0 370.9h0.8M240.6 370.0h0.8M240.5 373.1h0.8M242.2 367.5h0.8M243.9 365.8h0.8M239.7 368.9h0.8M240.2 368.1h0.8M245.9 371.3h0.8M241.5 367.2h0.8M245.2 374.5h0.8M241.7 366.2h0.8M243.6 374.8h0.8M245.8 368.5h0.8M241.0 368.0h0.8M244.1 373.5h0.8M240.8 367.0h0.8M239.7 370.1h0.8M243.3 374.8h0.8M239.7 371.5h0.8M243.2 374.5h0.8M241.8 374.8h0.8M243.1 374.5h0.8M241.1 375.8h0.8M245.1 372.1h0.8M239.4 372.3h0.8M240.2 375.4h0.8M243.2 365.9h0.8M244.9 366.8h0.8M241.9 367.1h0.8M240.2 367.4h0.8M242.3 365.4h0.8M245.8 372.6h0.8M239.3 369.5h0.8M241.8 373.9h0.8M243.7 374.7h0.8M242.4 367.3h0.8M239.9 370.1h0.8M243.9 374.8h0.8M242.7 364.8h0.8M241.9 366.2h0.8M240.0 368.5h0.8M241.0 367.9h0.8M244.8 371.4h0.8M243.8 366.2h0.8M242.4 376.2h0.8M240.1 375.2h0.8M244.6 366.6h0.8M242.2 374.0h0.8M243.9 367.5h0.8M243.7 375.6h0.8M239.6 374.4h0.8M244.4 366.6h0.8M245.0 367.2h0.8M241.4 373.3h0.8M240.3 372.7h0.8M242.3 366.7h0.8M244.7 370.2h0.8M239.0 371.5h0.8M240.1 372.0h0.8M241.7 365.6h0.8M243.2 376.2h0.8M245.2 373.5h0.8M241.2 373.2h0.8M244.5 375.5h0.8M243.1 367.4h0.8M240.0 369.1h0.8M244.6 370.5h0.8M241.5 367.4h0.8M244.2 365.9h0.8M242.5 373.7h0.8M239.2 372.0h0.8M239.3 370.7h0.8M240.6 375.9h0.8M244.9 373.8h0.8M245.6 368.9h0.8M243.2 367.4h0.8M245.6 368.6h0.8M241.0 366.9h0.8M242.9 374.1h0.8M244.7 368.4h0.8M239.2 369.7h0.8M244.7 370.2h0.8M241.9 375.2h0.8M240.5 372.5h0.8M244.8 371.9h0.8M241.1 375.7h0.8M243.2 366.9h0.8M242.6 367.3h0.8M245.0 369.4h0.8M241.1 367.8h0.8M244.6 372.9h0.8M240.6 368.5h0.8M245.2 372.4h0.8M243.4 366.1h0.8M240.2 368.1h0.8M245.9 373.4h0.8M242.5 373.7h0.8M244.9 371.1h0.8M239.8 374.5h0.8M241.6 368.0h0.8M241.1 367.9h0.8M243.6 373.5h0.8M241.7 366.9h0.8M245.0 367.3h0.8M245.5 370.4h0.8M240.5 369.7h0.8M242.8 366.9h0.8M242.9 365.2h0.8M242.9 374.1h0.8M243.3 365.2h0.8M241.1 375.2h0.8M242.8 366.6h0.8M243.8 365.6h0.8M241.1 367.0h0.8M245.8 370.1h0.8M242.0 365.7h0.8M241.2 368.3h0.8M244.8 373.2h0.8M243.8 375.9h0.8M239.8 369.3h0.8M240.4 371.7h0.8M240.8 372.5h0.8M240.3 373.0h0.8M240.2 372.6h0.8M244.4 368.7h0.8M239.6 372.6h0.8M241.3 368.6h0.8M241.9 367.8h0.8M244.2 374.3h0.8M243.9 373.0h0.8M244.9 369.1h0.8M242.5 376.2h0.8M244.5 367.6h0.8M243.4 367.4h0.8M240.5 367.3h0.8M240.3 374.2h0.8M243.9 365.4h0.8M240.2 375.4h0.8M244.4 369.2h0.8M241.1 375.6h0.8M245.2 369.4h0.8M245.1 369.7h0.8" stroke="#3a86c4" stroke-width="0.8" fill="none"/>
<path d="M244.0 371.3h0.8M241.7 370.8h0.8M243.1 369.0h0.8M243.9 370.9h0.8M241.9 369.5h0.8M242.3 373.3h0.8M242.7 369.8h0.8M240.8 371.0h0.8M244.2 368.9h0.8M240.9 371.6h0.8M242.5 368.3h0.8M243.2 371.1h0.8M242.3 368.0h0.8M243.5 370.0h0.8M241.8 368.1h0.8M242.4 370.8h0.8M243.5 368.5h0.8M241.1 369.0h0.8M243.8 370.1h0.8M242.0 369.4h0.8M242.6 372.3h0.8M242.9 368.0h0.8M244.2 370.5h0.8M242.4 368.0h0.8M242.8 369.8h0.8M243.6 372.5h0.8M244.1 369.9h0.8M242.8 367.5h0.8M241.0 369.9h0.8M242.7 372.2h0.8M242.7 371.0h0.8M242.4 370.9h0.8M242.2 368.0h0.8M241.5 369.9h0.8M241.3 369.2h0.8M242.8 367.7h0.8M241.6 371.0h0.8M241.4 369.2h0.8M242.8 368.6h0.8M244.0 371.6h0.8M241.5 370.0h0.8M243.7 368.4h0.8M241.3 372.3h0.8M242.8 369.7h0.8M243.8 370.0h0.8M243.7 370.0h0.8M243.0 372.7h0.8M240.7 370.2h0.8M242.5 370.8h0.8M241.2 368.9h0.8M243.2 369.8h0.8M242.2 368.4h0.8M241.8 372.6h0.8M241.2 371.7h0.8M241.2 372.3h0.8M241.0 370.1h0.8M240.7 370.7h0.8M241.5 369.4h0.8M243.7 370.2h0.8M242.4 370.0h0.8M243.4 367.8h0.8M241.6 372.9h0.8M241.7 372.2h0.8" stroke="#3a9cb8" stroke-width="0.8" fill="none"/>
<path d="M265.7 373.0h0.8M252.6 363.1h0.8M254.5 381.4h0.8M256.0 359.7h0.8M259.7 360.9h0.8M266.5 377.7h0.8M272.7 376.8h0.8M251.4 382.9h0.8M257.7 381.6h0.8M258.2 360.5h0.8M254.3 359.9h0.8M263.1 368.7h0.8M262.8 363.6h0.8M260.9 380.6h0.8M261.1 360.9h0.8M245.9 379.6h0.8M264.2 371.9h0.8M253.0 361.2h0.8M252.6 381.4h0.8M248.1 373.4h0.8M246.9 382.9h0.8M260.4 364.0h0.8M262.0 366.4h0.8M251.9 380.2h0.8M249.5 369.9h0.8M246.0 379.3h0.8M257.6 357.8h0.8M252.8 362.6h0.8M253.8 361.4h0.8M250.5 366.9h0.8M254.6 381.2h0.8M263.1 369.9h0.8M251.4 365.1h0.8M247.4 372.9h0.8M263.0 371.4h0.8M253.1 362.3h0.8M248.7 374.6h0.8M258.0 357.3h0.8M249.1 369.5h0.8M260.6 363.8h0.8M253.7 381.2h0.8M259.5 362.6h0.8M251.7 363.3h0.8M261.4 380.2h0.8M255.6 359.7h0.8M261.4 365.7h0.8M249.7 369.1h0.8M248.8 374.5h0.8M258.2 359.9h0.8M252.8 382.1h0.8M266.6 379.3h0.8M256.0 360.0h0.8M248.8 370.9h0.8M249.4 364.3h0.8M261.6 379.4h0.8M258.7 359.4h0.8M263.1 367.1h0.8M259.2 360.2h0.8M258.9 360.8h0.8M261.5 363.9h0.8M247.9 377.8h0.8M261.8 365.5h0.8M255.8 357.7h0.8M263.2 369.7h0.8M260.1 379.8h0.8M249.1 371.6h0.8M263.3 371.1h0.8M242.7 375.0h0.8M252.3 362.3h0.8M256.4 359.8h0.8M249.1 370.0h0.8M264.5 378.7h0.8M254.1 361.7h0.8M264.5 372.8h0.8M257.4 359.4h0.8M248.7 374.3h0.8M253.9 380.7h0.8M266.8 376.4h0.8M251.9 380.6h0.8M259.3 362.2h0.8M261.8 367.0h0.8M256.9 359.7h0.8M265.5 371.4h0.8M257.4 355.2h0.8M260.5 364.3h0.8M247.0 379.2h0.8M254.1 383.2h0.8M261.5 379.2h0.8M260.2 382.6h0.8M260.5 361.8h0.8M262.0 364.9h0.8M258.3 358.7h0.8M258.2 381.5h0.8M261.9 366.3h0.8M248.8 370.7h0.8M250.4 367.6h0.8M254.7 361.0h0.8M260.8 360.0h0.8M264.2 373.1h0.8M265.4 376.1h0.8M255.6 360.2h0.8M265.2 368.5h0.8M262.5 381.2h0.8M252.7 363.2h0.8M237.0 377.7h0.8M248.4 369.4h0.8M255.5 359.9h0.8M264.1 380.2h0.8M248.9 375.6h0.8M255.9 359.5h0.8M246.6 374.3h0.8M257.4 356.2h0.8M259.2 355.1h0.8M261.9 366.4h0.8M259.3 357.8h0.8M262.7 369.3h0.8M259.2 360.4h0.8M265.4 379.4h0.8M263.5 368.8h0.8M249.1 375.6h0.8M258.8 360.6h0.8M253.0 381.2h0.8M262.6 385.2h0.8M249.2 377.0h0.8M260.8 381.9h0.8M267.9 382.2h0.8M255.5 358.7h0.8M261.4 379.9h0.8M265.8 375.9h0.8M267.8 377.8h0.8M250.0 378.1h0.8M252.6 363.0h0.8M261.6 361.3h0.8M261.4 363.9h0.8M252.9 362.6h0.8M248.3 373.0h0.8M259.2 360.8h0.8M260.4 359.9h0.8M248.7 373.0h0.8M262.8 368.8h0.8M258.6 382.2h0.8M263.5 374.0h0.8M260.6 361.8h0.8M252.0 364.1h0.8M249.1 375.5h0.8M255.6 357.8h0.8M254.0 380.6h0.8M252.9 360.5h0.8M257.9 359.9h0.8M260.1 363.0h0.8M250.3 367.7h0.8M261.0 380.5h0.8M252.2 380.3h0.8M252.9 361.7h0.8M249.2 376.6h0.8M254.9 381.8h0.8M262.0 378.2h0.8M256.4 359.7h0.8M256.6 352.6h0.8M262.9 376.2h0.8M252.4 363.9h0.8M251.9 380.1h0.8M259.7 362.7h0.8M256.6 359.0h0.8M250.3 379.6h0.8M246.2 372.2h0.8M246.5 368.1h0.8M269.4 377.2h0.8M252.4 384.7h0.8M256.0 360.1h0.8M255.4 380.8h0.8M256.4 359.2h0.8M264.5 372.8h0.8M260.6 385.5h0.8M263.8 375.5h0.8M245.2 374.3h0.8M261.9 367.1h0.8M257.5 356.8h0.8M258.5 360.9h0.8M250.8 365.3h0.8M258.4 381.4h0.8M261.1 364.2h0.8M253.2 362.5h0.8M254.1 381.0h0.8M265.0 376.2h0.8M248.8 376.2h0.8M255.0 358.4h0.8M247.0 372.3h0.8M256.7 359.9h0.8M262.9 370.1h0.8M262.7 368.0h0.8M257.0 383.5h0.8M257.5 360.4h0.8" stroke="#3f55b8" stroke-width="0.8" fill="none"/>
<path d="M260.2 365.5h0.8M259.2 363.1h0.8M254.0 379.1h0.8M260.8 375.0h0.8M255.9 362.0h0.8M258.8 379.3h0.8M261.5 372.3h0.8M261.7 369.1h0.8M260.6 368.6h0.8M251.1 373.5h0.8M252.3 366.4h0.8M256.4 379.4h0.8M254.7 363.9h0.8M261.1 367.5h0.8M256.2 379.3h0.8M262.3 374.0h0.8M260.3 364.5h0.8M250.9 374.4h0.8M258.9 378.0h0.8M256.8 360.3h0.8M252.8 365.4h0.8M257.5 361.0h0.8M258.7 362.4h0.8M261.9 373.7h0.8M258.8 362.9h0.8M251.7 377.2h0.8M252.8 377.5h0.8M251.7 368.6h0.8M249.8 372.9h0.8M256.2 377.6h0.8M257.8 362.9h0.8M250.0 376.0h0.8M261.2 367.4h0.8M250.9 367.1h0.8M262.4 375.0h0.8M259.5 363.1h0.8M255.0 363.8h0.8M261.1 366.2h0.8M255.7 379.4h0.8M254.0 380.5h0.8M251.6 367.0h0.8M254.8 379.6h0.8M253.9 364.5h0.8M253.1 376.8h0.8M257.2 380.2h0.8M258.4 380.1h0.8M254.0 377.4h0.8M255.3 379.9h0.8M259.9 378.1h0.8M257.0 378.4h0.8M255.2 361.2h0.8M256.2 362.2h0.8M250.4 375.0h0.8M255.7 362.3h0.8M257.1 379.1h0.8M261.2 369.0h0.8M262.9 372.3h0.8M256.5 380.1h0.8M260.5 364.9h0.8M262.9 372.6h0.8M258.6 363.1h0.8M261.3 378.0h0.8M249.5 373.5h0.8M252.4 377.9h0.8M250.4 370.8h0.8M255.4 363.1h0.8M249.6 371.5h0.8M250.0 370.6h0.8M262.0 371.3h0.8M261.9 372.0h0.8M254.3 363.3h0.8M259.4 377.0h0.8M249.7 371.4h0.8M252.7 366.0h0.8M256.4 361.6h0.8M251.4 371.5h0.8M262.2 376.9h0.8M261.6 372.1h0.8M262.3 375.8h0.8M256.7 362.4h0.8M255.0 362.6h0.8M257.2 362.9h0.8M251.5 378.1h0.8M259.4 378.1h0.8M257.7 362.3h0.8M250.3 370.4h0.8M258.9 365.2h0.8M257.1 380.0h0.8M255.3 378.4h0.8M258.1 378.1h0.8M261.2 376.8h0.8M256.9 362.9h0.8M260.4 376.3h0.8M250.1 373.0h0.8M258.1 362.4h0.8M255.8 379.8h0.8M253.0 363.4h0.8M257.4 362.5h0.8M261.7 373.0h0.8M254.0 364.3h0.8M262.1 369.1h0.8M261.9 369.3h0.8M254.9 379.7h0.8M261.4 366.8h0.8M251.3 372.0h0.8M253.6 363.4h0.8M256.9 379.1h0.8M257.3 379.8h0.8M263.0 372.1h0.8M256.2 360.2h0.8M254.4 378.5h0.8M261.7 369.9h0.8M250.3 374.5h0.8M256.5 380.2h0.8M255.4 360.9h0.8M253.6 364.0h0.8M255.7 363.4h0.8M255.0 379.5h0.8M261.8 374.0h0.8M261.2 376.7h0.8M256.3 378.4h0.8M249.8 373.3h0.8M251.7 376.4h0.8M253.3 378.6h0.8M257.6 363.0h0.8M261.1 368.9h0.8M250.7 369.5h0.8M259.2 365.0h0.8M250.8 378.3h0.8M261.4 370.4h0.8M261.0 372.4h0.8M252.3 376.6h0.8M250.6 374.5h0.8M261.3 377.5h0.8M256.4 362.2h0.8M251.2 369.7h0.8M258.4 379.6h0.8M261.3 366.7h0.8M260.4 367.7h0.8M258.1 378.1h0.8M253.9 379.9h0.8M256.0 378.7h0.8M251.5 370.4h0.8M255.6 363.2h0.8M250.0 370.0h0.8M250.6 371.7h0.8M256.3 378.7h0.8M256.3 362.2h0.8M254.1 363.4h0.8M260.7 366.5h0.8M254.2 363.8h0.8M257.0 379.6h0.8M255.7 362.0h0.8M262.4 373.7h0.8M255.3 361.8h0.8M258.5 363.9h0.8M255.4 362.6h0.8M261.4 372.7h0.8M256.3 360.8h0.8M261.1 367.2h0.8M261.4 372.6h0.8M259.1 363.9h0.8M261.0 372.8h0.8M258.3 378.5h0.8M255.4 363.3h0.8M256.5 379.5h0.8M251.0 369.4h0.8M261.1 378.4h0.8M250.5 373.9h0.8M259.1 376.5h0.8M251.5 378.5h0.8M254.7 361.8h0.8M252.2 366.9h0.8M252.4 367.4h0.8M257.3 361.4h0.8M249.8 375.7h0.8M253.5 364.9h0.8M257.4 363.3h0.8M260.5 375.2h0.8M257.7 378.0h0.8M258.8 379.3h0.8M259.9 378.4h0.8M253.3 363.4h0.8M251.3 369.0h0.8M252.0 368.0h0.8M260.6 366.7h0.8M258.5 379.6h0.8M258.9 364.9h0.8M250.9 374.5h0.8M262.6 373.9h0.8M258.9 378.4h0.8M262.0 376.0h0.8M257.5 378.0h0.8M252.7 367.2h0.8M261.1 367.5h0.8M252.6 377.7h0.8M256.0 362.6h0.8M252.8 378.2h0.8M257.2 360.5h0.8M253.1 365.8h0.8M254.9 361.8h0.8M249.8 371.7h0.8M249.8 375.6h0.8M255.3 360.7h0.8M261.4 369.9h0.8M256.1 361.2h0.8M259.9 365.5h0.8M257.9 378.4h0.8M250.3 369.6h0.8M260.3 364.1h0.8M250.0 370.1h0.8M262.8 370.7h0.8M259.2 363.0h0.8M251.4 369.3h0.8M254.5 379.5h0.8M259.9 367.1h0.8M250.9 371.2h0.8M258.7 363.1h0.8M261.5 370.2h0.8M261.1 369.1h0.8M254.0 364.5h0.8M251.0 376.6h0.8M257.3 361.5h0.8M261.0 371.1h0.8M249.3 371.9h0.8M255.5 378.5h0.8M254.5 363.2h0.8M253.0 376.4h0.8M261.7 369.4h0.8M257.5 377.6h0.8M261.1 372.7h0.8M256.3 360.5h0.8M251.1 371.8h0.8M262.5 374.3h0.8M256.5 362.1h0.8M259.4 377.0h0.8M253.5 378.2h0.8M260.9 369.5h0.8M251.1 368.9h0.8M249.1 374.5h0.8M252.6 364.0h0.8M259.5 376.5h0.8M260.9 369.6h0.8M260.0 379.0h0.8M256.0 361.0h0.8M253.1 363.9h0.8M262.7 371.5h0.8M254.0 364.8h0.8M262.0 369.0h0.8M250.9 376.6h0.8M261.5 374.0h0.8M253.7 379.3h0.8M250.5 377.5h0.8M258.2 363.4h0.8M261.1 375.0h0.8M253.8 364.3h0.8M260.4 379.2h0.8M260.6 375.4h0.8M260.5 379.0h0.8M257.3 380.4h0.8M260.8 367.4h0.8M257.8 377.5h0.8M261.2 377.8h0.8M252.8 366.2h0.8M260.8 365.1h0.8M254.6 378.9h0.8M254.6 364.1h0.8M259.0 362.3h0.8M250.0 375.7h0.8M252.2 367.8h0.8M257.5 363.3h0.8M259.9 375.9h0.8M251.3 370.0h0.8M250.5 374.6h0.8M262.8 373.3h0.8M258.8 362.5h0.8M261.1 369.4h0.8M259.8 365.4h0.8M253.1 364.2h0.8M259.8 377.3h0.8M261.9 371.8h0.8M260.1 365.4h0.8M261.0 367.1h0.8M257.0 363.0h0.8M253.4 379.7h0.8M253.9 364.1h0.8M252.1 367.3h0.8M260.9 375.2h0.8M253.1 380.2h0.8M258.6 361.5h0.8M253.2 366.0h0.8M260.7 365.2h0.8M259.1 363.8h0.8M253.0 379.6h0.8M259.4 380.1h0.8M251.0 374.2h0.8M258.0 377.7h0.8M262.8 372.6h0.8M252.3 365.2h0.8M259.9 366.1h0.8M262.1 371.8h0.8M259.3 362.9h0.8M250.5 372.1h0.8M261.6 375.7h0.8M262.8 373.3h0.8M257.7 380.1h0.8M252.5 366.9h0.8M252.0 368.0h0.8M254.9 380.4h0.8M253.4 379.5h0.8M252.8 377.6h0.8M260.7 367.6h0.8M259.3 365.1h0.8M259.3 364.9h0.8M251.7 377.4h0.8M262.9 372.6h0.8M258.7 377.9h0.8M255.9 362.9h0.8M251.0 371.8h0.8" stroke="#3a78c4" stroke-width="0.8" fill="none"/>
<path d="M259.1 368.8h0.8M257.6 365.0h0.8M256.5 374.5h0.8M255.7 364.5h0.8M253.8 369.5h0.8M259.1 365.8h0.8M253.6 369.1h0.8M259.5 372.1h0.8M252.1 373.3h0.8M252.2 368.9h0.8M254.7 365.7h0.8M257.7 373.8h0.8M256.9 363.9h0.8M252.1 370.7h0.8M252.0 371.1h0.8M260.2 373.8h0.8M258.8 365.3h0.8M260.6 371.7h0.8M257.1 376.4h0.8M259.0 372.1h0.8M254.8 367.5h0.8M255.7 366.4h0.8M257.7 366.3h0.8M252.9 371.2h0.8M258.2 376.1h0.8M252.6 367.4h0.8M260.1 370.6h0.8M260.1 370.1h0.8M252.7 375.2h0.8M257.5 375.0h0.8M253.6 365.6h0.8M256.8 374.2h0.8M252.6 370.3h0.8M255.1 365.3h0.8M252.2 369.1h0.8M259.9 372.0h0.8M252.8 369.9h0.8M259.6 371.5h0.8M257.5 367.3h0.8M259.0 367.1h0.8M251.7 374.2h0.8M254.3 365.1h0.8M253.3 368.2h0.8M254.6 364.9h0.8M252.3 372.2h0.8M258.6 366.6h0.8M258.1 364.9h0.8M256.9 366.7h0.8M258.5 368.7h0.8M257.4 364.4h0.8M259.3 371.4h0.8M260.3 372.5h0.8M258.7 371.8h0.8M257.9 374.4h0.8M260.1 371.1h0.8M252.3 372.5h0.8M259.3 376.1h0.8M253.3 371.7h0.8M258.7 367.6h0.8M253.8 375.1h0.8M258.3 374.0h0.8M253.2 373.1h0.8M252.6 372.6h0.8M251.4 372.6h0.8M252.9 370.9h0.8M259.8 372.0h0.8M258.1 365.5h0.8M258.7 371.4h0.8M254.0 368.8h0.8M253.5 370.1h0.8M253.5 370.7h0.8M253.1 371.8h0.8M257.5 374.7h0.8M258.8 375.4h0.8M259.8 369.3h0.8M253.1 367.0h0.8M255.9 377.1h0.8M259.6 369.7h0.8M257.5 366.0h0.8M254.6 367.9h0.8M255.6 374.4h0.8M257.8 367.5h0.8M257.9 367.7h0.8M258.3 367.4h0.8M258.2 375.6h0.8M254.3 366.7h0.8M259.2 371.9h0.8M257.8 366.0h0.8M259.3 371.1h0.8M253.7 370.5h0.8M256.1 365.2h0.8M255.3 374.8h0.8M257.8 366.3h0.8M258.1 364.4h0.8M256.4 366.6h0.8M253.3 367.4h0.8M253.3 371.4h0.8M259.3 366.4h0.8M260.0 369.6h0.8M258.5 365.9h0.8M258.4 374.2h0.8M259.7 371.9h0.8M252.6 369.5h0.8M252.7 368.0h0.8M255.4 363.9h0.8M256.0 365.7h0.8M258.4 366.9h0.8M257.5 364.5h0.8M260.3 369.7h0.8M258.8 366.0h0.8M254.8 365.5h0.8M258.4 368.0h0.8M258.4 376.0h0.8M255.7 365.1h0.8M256.1 376.9h0.8M253.6 376.6h0.8M259.9 367.4h0.8M259.2 372.1h0.8M255.1 364.4h0.8M259.1 367.5h0.8M253.6 370.7h0.8M254.6 364.5h0.8M258.8 374.0h0.8M256.0 363.9h0.8M252.0 373.7h0.8M257.0 374.6h0.8M256.9 363.8h0.8M253.6 372.9h0.8M252.2 374.6h0.8M257.6 365.8h0.8M251.5 372.5h0.8M253.5 375.7h0.8M252.8 372.6h0.8M259.3 370.3h0.8M252.1 372.5h0.8M252.2 369.3h0.8M253.2 368.3h0.8M255.6 364.2h0.8M253.9 376.5h0.8M254.1 368.4h0.8M253.1 367.3h0.8M255.1 366.8h0.8M259.8 367.9h0.8M253.3 370.1h0.8M255.0 374.1h0.8M257.8 367.6h0.8M255.7 376.5h0.8M253.0 368.5h0.8M259.1 374.0h0.8M257.5 374.1h0.8M260.1 370.2h0.8M259.7 373.9h0.8M254.9 364.3h0.8M253.9 366.9h0.8M254.4 373.9h0.8M255.8 375.4h0.8M253.6 375.1h0.8M254.2 365.3h0.8M259.2 370.6h0.8M252.5 371.4h0.8M254.0 367.1h0.8M257.3 375.6h0.8M260.0 372.6h0.8M257.5 374.2h0.8M251.8 374.3h0.8M258.2 375.3h0.8M253.2 370.6h0.8M254.8 367.2h0.8M255.6 365.9h0.8M260.2 371.5h0.8M255.5 376.0h0.8M256.4 365.2h0.8M256.8 376.1h0.8M255.4 364.3h0.8M258.8 369.0h0.8M256.3 375.6h0.8M256.8 364.7h0.8M260.4 371.8h0.8M259.3 366.2h0.8M257.1 364.5h0.8M258.6 366.8h0.8M255.2 376.8h0.8M253.1 370.5h0.8M256.9 364.6h0.8M253.2 375.6h0.8M260.3 368.6h0.8M259.1 365.9h0.8M259.1 375.9h0.8M259.4 370.5h0.8M251.9 373.2h0.8M260.5 370.4h0.8M260.4 371.5h0.8M257.5 365.7h0.8M254.7 364.9h0.8M254.7 376.5h0.8M254.4 374.3h0.8M254.9 364.6h0.8M252.6 371.2h0.8M259.1 373.9h0.8M260.4 374.2h0.8M254.4 368.1h0.8M259.7 374.8h0.8M252.4 368.6h0.8M258.0 366.6h0.8M259.0 371.9h0.8M258.8 366.1h0.8M258.7 370.8h0.8M257.0 366.5h0.8M255.3 366.2h0.8M252.9 375.2h0.8M258.5 364.8h0.8M260.0 374.0h0.8M253.7 376.7h0.8M257.8 367.8h0.8M254.9 366.7h0.8M254.7 365.5h0.8M253.5 369.0h0.8M252.5 367.7h0.8M252.7 372.8h0.8M254.2 374.1h0.8M254.6 374.6h0.8M258.6 371.4h0.8M255.9 376.7h0.8M251.6 370.6h0.8M252.8 370.5h0.8M257.7 376.2h0.8M254.7 374.2h0.8M254.8 367.5h0.8M259.6 368.6h0.8M257.6 375.9h0.8M260.0 371.8h0.8M252.5 369.8h0.8M256.0 377.3h0.8M256.5 375.2h0.8M256.3 377.0h0.8M253.8 366.7h0.8M259.8 370.4h0.8M260.7 372.7h0.8M253.8 374.1h0.8M252.2 374.2h0.8M254.7 364.6h0.8M259.0 372.9h0.8M258.1 365.2h0.8M254.6 376.7h0.8M259.2 372.5h0.8M256.5 376.0h0.8M256.2 375.8h0.8M257.5 366.5h0.8M259.1 374.6h0.8M253.2 375.0h0.8M257.6 366.7h0.8M254.9 376.0h0.8M255.5 376.1h0.8M254.3 367.6h0.8M257.7 376.2h0.8M253.0 373.7h0.8M256.5 375.5h0.8M256.7 374.5h0.8M253.6 366.5h0.8M258.8 367.1h0.8M254.3 373.8h0.8M253.2 374.5h0.8M251.8 374.5h0.8M252.6 369.4h0.8M254.1 375.2h0.8M256.6 365.3h0.8M255.1 366.2h0.8M256.3 365.6h0.8M258.0 376.4h0.8M256.1 375.6h0.8M252.9 368.2h0.8M252.1 370.3h0.8M260.3 370.6h0.8M256.9 376.7h0.8M259.6 369.1h0.8M259.5 371.3h0.8M252.0 371.2h0.8M256.0 375.2h0.8M255.2 377.2h0.8M254.5 364.9h0.8M252.6 370.7h0.8M253.6 372.3h0.8M252.3 368.7h0.8M255.4 365.3h0.8M258.4 366.5h0.8M257.1 364.4h0.8M258.7 366.3h0.8M260.5 370.8h0.8M258.0 376.5h0.8M260.0 372.8h0.8M253.6 366.1h0.8" stroke="#3398b0" stroke-width="0.8" fill="none"/>
<path d="M257.2 372.5h0.8M256.9 368.6h0.8M255.4 373.2h0.8M255.7 372.2h0.8M255.8 366.8h0.8M257.2 367.1h0.8M258.3 371.4h0.8M256.5 369.2h0.8M256.1 371.2h0.8M256.2 374.0h0.8M257.6 372.0h0.8M256.7 366.8h0.8M256.8 369.9h0.8M257.3 367.6h0.8M256.4 370.9h0.8M255.9 367.6h0.8M254.4 370.7h0.8M256.9 369.9h0.8M256.1 367.8h0.8M256.4 373.3h0.8M255.9 371.6h0.8M256.2 368.8h0.8M256.2 370.7h0.8M256.7 372.4h0.8M258.2 369.2h0.8M254.5 368.5h0.8M255.1 370.1h0.8M256.3 372.7h0.8M257.0 372.2h0.8M256.6 373.2h0.8M254.3 372.2h0.8M254.6 369.0h0.8M256.6 368.1h0.8M257.7 369.6h0.8M257.2 369.5h0.8M254.6 368.1h0.8M258.4 369.5h0.8M258.4 370.1h0.8M254.6 368.2h0.8M256.2 368.3h0.8M256.4 369.7h0.8M256.5 368.1h0.8M254.7 372.1h0.8M254.8 371.4h0.8M256.4 370.3h0.8M255.8 373.0h0.8M256.5 374.1h0.8M258.3 369.2h0.8M254.3 369.9h0.8M256.1 369.7h0.8M255.7 370.3h0.8M255.3 370.3h0.8M254.4 368.5h0.8M258.0 369.4h0.8M257.8 373.1h0.8M257.6 370.0h0.8M257.8 369.7h0.8M257.1 367.4h0.8M256.2 367.3h0.8M254.8 371.9h0.8M256.5 369.4h0.8M254.2 369.6h0.8M258.5 370.0h0.8M257.8 370.2h0.8M256.1 371.5h0.8M254.6 371.0h0.8M256.0 369.6h0.8M254.7 368.1h0.8M255.8 372.8h0.8M255.1 369.0h0.8M254.9 369.7h0.8M256.7 369.0h0.8M255.6 369.3h0.8M257.3 370.5h0.8M255.1 369.1h0.8M254.1 371.5h0.8M254.2 371.9h0.8M255.9 373.8h0.8M254.4 370.6h0.8M254.9 368.6h0.8M254.2 369.4h0.8M256.9 370.7h0.8M255.8 367.8h0.8M257.3 368.2h0.8M255.4 371.3h0.8M257.9 373.0h0.8M254.4 371.2h0.8M257.1 367.1h0.8M256.1 370.3h0.8M256.0 368.7h0.8M257.1 371.8h0.8M255.6 371.0h0.8M254.8 372.7h0.8M256.4 368.7h0.8M257.8 371.5h0.8M256.3 368.9h0.8M255.6 367.7h0.8M257.3 371.4h0.8M257.4 369.4h0.8M258.0 368.6h0.8M258.1 370.3h0.8M254.4 370.7h0.8M254.6 372.2h0.8M255.1 373.1h0.8M255.0 373.1h0.8M255.2 373.3h0.8M254.5 372.9h0.8M256.0 369.1h0.8M257.7 373.3h0.8M257.0 368.9h0.8M256.0 371.7h0.8M257.0 373.8h0.8M256.0 367.4h0.8M255.3 367.6h0.8M256.9 371.6h0.8M255.4 372.1h0.8M258.2 370.8h0.8M255.4 367.5h0.8M258.1 372.4h0.8M255.3 367.6h0.8M254.1 370.5h0.8M257.8 372.9h0.8M254.9 371.5h0.8M253.9 372.1h0.8M256.1 371.1h0.8M254.9 370.8h0.8M254.2 369.6h0.8M258.4 369.3h0.8M258.3 369.6h0.8M257.1 369.1h0.8M254.8 369.4h0.8M257.1 369.7h0.8M257.3 370.4h0.8M256.1 370.1h0.8M256.3 369.2h0.8M256.4 374.2h0.8M256.1 371.5h0.8M257.7 367.8h0.8M257.3 369.2h0.8M255.7 368.7h0.8M258.5 371.2h0.8M254.3 370.5h0.8M256.7 372.5h0.8" stroke="#3fb090" stroke-width="0.8" fill="none"/>
<ellipse cx="256.0" cy="372.5" rx="2.1" ry="1.8" transform="rotate(-88 256.0 372.5)" fill="#6fd060" opacity="0.8" filter="url(#bl2)"/>
<rect x="250.5" y="325.5" width="41.0" height="59.0" fill="none" stroke="#000" stroke-width="1"/>
<text x="271.7" y="335.1" font-size="8" text-anchor="middle" fill="#0a0a0a" style="stroke-width:0.12px">EV+</text>
<text x="271.7" y="344.1" font-size="8" text-anchor="middle" fill="#0a0a0a" style="stroke-width:0.12px">62.34%</text>
<rect x="299.7" y="321.4" width="66.2" height="66.8" fill="#fff" stroke="#b8b8b8" stroke-width="0.8"/>
<path d="M301.7 387.9v-1.8M306.5 387.9v-1.0M309.2 387.9v-1.0M311.2 387.9v-1.0M312.7 387.9v-1.0M314.0 387.9v-1.0M315.1 387.9v-1.0M316.0 387.9v-1.0M316.8 387.9v-1.0M317.5 387.9v-1.8M322.3 387.9v-1.0M325.0 387.9v-1.0M327.0 387.9v-1.0M328.5 387.9v-1.0M329.8 387.9v-1.0M330.9 387.9v-1.0M331.8 387.9v-1.0M332.6 387.9v-1.0M333.3 387.9v-1.8M338.1 387.9v-1.0M340.8 387.9v-1.0M342.8 387.9v-1.0M344.3 387.9v-1.0M345.6 387.9v-1.0M346.7 387.9v-1.0M347.6 387.9v-1.0M348.4 387.9v-1.0M349.1 387.9v-1.8M353.9 387.9v-1.0M356.6 387.9v-1.0M358.6 387.9v-1.0M360.1 387.9v-1.0M361.4 387.9v-1.0M362.5 387.9v-1.0M363.4 387.9v-1.0M364.2 387.9v-1.0M300.0 326.4h1.4M300.0 333.6h1.4M300.0 340.8h1.4M300.0 348.0h1.4M300.0 355.2h1.4M300.0 362.4h1.4M300.0 369.6h1.4M300.0 376.8h1.4M300.0 384.0h1.4" stroke="#444" stroke-width="0.6" fill="none"/>
<ellipse cx="313.8" cy="369.5" rx="8.1" ry="3.2" transform="rotate(-55 313.8 369.5)" fill="#3398b0" opacity="0.38" filter="url(#bl)"/>
<ellipse cx="325.0" cy="370.0" rx="4.5" ry="2.5" transform="rotate(-88 325.0 370.0)" fill="#3a86c4" opacity="0.38" filter="url(#bl)"/>
<path d="M341.6 367.2h0.7M335.8 371.7h0.7M333.2 372.5h0.7M341.8 371.5h0.7M342.3 369.2h0.7M330.1 362.8h0.7M338.5 375.0h0.7M337.8 363.3h0.7M334.6 367.6h0.7M332.8 365.8h0.7M345.7 373.2h0.7M341.5 369.9h0.7M336.0 367.9h0.7M347.1 370.5h0.7M341.7 363.0h0.7M335.3 361.6h0.7M337.7 360.7h0.7M334.4 373.4h0.7M337.8 365.1h0.7M339.3 374.2h0.7M335.4 372.2h0.7M342.9 372.6h0.7M337.7 376.3h0.7M333.4 368.4h0.7M336.8 371.5h0.7" stroke="#7f9ade" stroke-width="0.7" fill="none"/>
<path d="M323.9 355.6h0.8M302.0 383.3h0.8M311.8 362.1h0.8M324.9 354.8h0.8M310.3 380.4h0.8M310.6 364.4h0.8M313.2 382.7h0.8M311.0 364.2h0.8M305.0 377.0h0.8M322.9 362.5h0.8M308.7 380.6h0.8M302.8 385.4h0.8M310.8 380.1h0.8M309.7 380.5h0.8M317.5 373.6h0.8M308.6 380.1h0.8M318.9 359.6h0.8M314.8 376.7h0.8M314.3 377.3h0.8M323.4 361.0h0.8M313.8 378.0h0.8M317.0 376.0h0.8M315.8 375.6h0.8M317.5 359.7h0.8M316.1 358.7h0.8M318.5 371.7h0.8M311.3 382.7h0.8M313.2 378.9h0.8M304.5 376.6h0.8M309.4 384.3h0.8M307.1 370.2h0.8M322.0 365.0h0.8M318.8 370.4h0.8M308.0 380.7h0.8M316.5 378.0h0.8M308.6 385.0h0.8M321.0 355.3h0.8M305.3 376.8h0.8M310.0 366.2h0.8M319.1 355.4h0.8M322.9 363.8h0.8M319.1 358.7h0.8M325.0 350.9h0.8M313.1 378.6h0.8M318.3 373.6h0.8M319.1 359.4h0.8M305.5 369.6h0.8M317.1 360.0h0.8M322.3 376.1h0.8M301.3 370.5h0.8M311.0 364.9h0.8M318.5 371.6h0.8M321.9 362.6h0.8M321.7 360.6h0.8M305.1 376.5h0.8M322.0 357.0h0.8M321.4 361.4h0.8M321.2 359.2h0.8M322.8 359.4h0.8M305.0 373.6h0.8M321.1 359.4h0.8M314.2 377.5h0.8M318.7 370.7h0.8M313.7 378.1h0.8M304.3 372.0h0.8M306.3 379.8h0.8M319.3 374.2h0.8M322.7 358.3h0.8M306.4 370.9h0.8M320.0 359.1h0.8M308.5 367.7h0.8M318.3 359.5h0.8M321.7 366.4h0.8M318.1 355.8h0.8M306.0 379.8h0.8M307.9 368.6h0.8M306.3 369.1h0.8M308.3 380.7h0.8M308.4 368.2h0.8M318.7 371.4h0.8M307.6 368.6h0.8M324.6 356.8h0.8M315.4 383.1h0.8M317.6 376.0h0.8M308.4 366.6h0.8M316.4 375.3h0.8M318.3 358.6h0.8M303.6 381.6h0.8M304.9 374.8h0.8M320.6 357.9h0.8M306.2 371.3h0.8M321.2 366.5h0.8M321.2 359.6h0.8M315.1 361.0h0.8M321.6 362.0h0.8M309.6 366.9h0.8M321.5 362.2h0.8M323.2 353.9h0.8M304.8 377.3h0.8M318.5 359.6h0.8M307.7 364.5h0.8M310.7 365.6h0.8M309.4 381.6h0.8M312.4 382.7h0.8M320.1 367.9h0.8M318.5 359.6h0.8M318.2 372.6h0.8M307.6 368.6h0.8M304.1 376.0h0.8M308.6 381.1h0.8M314.9 360.8h0.8M312.7 381.4h0.8M308.8 380.2h0.8M308.4 385.1h0.8M305.1 375.2h0.8M306.1 371.7h0.8M304.8 381.1h0.8M310.6 379.9h0.8M305.2 372.6h0.8M321.0 359.7h0.8M315.6 376.2h0.8M321.8 358.0h0.8M308.0 368.1h0.8M304.9 380.0h0.8M327.4 359.2h0.8M311.8 364.3h0.8M307.6 368.8h0.8M322.1 353.1h0.8M320.4 366.4h0.8M316.3 382.9h0.8M316.4 374.6h0.8M305.4 374.1h0.8M319.7 358.9h0.8M321.2 363.9h0.8M314.1 362.5h0.8M323.5 361.4h0.8M306.8 383.1h0.8M322.0 359.9h0.8M318.4 371.4h0.8M316.4 377.4h0.8M320.3 367.5h0.8M319.5 358.9h0.8M321.5 360.4h0.8M319.7 359.2h0.8M317.2 373.6h0.8M326.6 356.1h0.8M318.1 371.9h0.8M322.6 360.5h0.8M325.1 357.7h0.8M303.2 378.1h0.8M307.3 367.3h0.8M308.5 380.3h0.8M307.1 366.4h0.8M321.4 358.8h0.8M307.8 365.1h0.8M320.5 369.8h0.8M307.0 365.6h0.8M311.5 380.2h0.8M303.9 373.1h0.8M312.3 380.9h0.8M305.6 372.3h0.8M305.1 375.4h0.8M305.1 374.4h0.8M322.1 360.5h0.8M307.7 365.2h0.8M314.1 361.6h0.8M302.8 376.7h0.8M305.0 378.3h0.8M302.7 376.6h0.8M315.0 358.4h0.8M316.3 377.7h0.8M302.5 376.3h0.8M302.1 369.0h0.8M318.3 375.2h0.8M319.9 359.0h0.8M303.8 370.8h0.8M316.1 383.9h0.8M301.3 381.0h0.8M310.3 385.4h0.8M319.9 368.4h0.8M313.0 362.0h0.8M304.9 376.1h0.8M316.4 360.6h0.8M320.5 366.3h0.8M310.4 364.1h0.8M304.5 379.9h0.8M308.2 365.9h0.8M305.1 373.7h0.8M306.7 369.7h0.8M304.6 372.8h0.8M321.3 360.4h0.8M320.4 366.8h0.8M307.0 382.4h0.8M317.7 375.3h0.8M323.4 359.1h0.8M321.9 361.6h0.8M320.9 359.3h0.8M323.6 365.1h0.8M309.3 385.4h0.8M312.4 361.9h0.8M321.8 361.5h0.8M316.7 375.8h0.8M305.1 374.4h0.8M302.7 376.9h0.8M314.2 378.1h0.8M320.5 358.4h0.8M312.1 379.8h0.8M312.3 364.0h0.8M312.6 381.4h0.8M305.4 385.5h0.8M320.7 365.7h0.8M305.8 379.4h0.8M324.1 359.0h0.8M313.0 378.9h0.8M301.5 377.0h0.8M314.4 381.7h0.8M306.1 371.4h0.8M317.8 372.8h0.8M317.2 375.7h0.8M301.5 378.7h0.8M305.1 372.7h0.8M311.9 380.5h0.8M305.7 378.9h0.8M310.6 384.2h0.8M304.3 379.3h0.8M312.9 362.9h0.8M310.8 380.4h0.8M314.3 377.6h0.8M319.1 370.1h0.8M306.7 382.2h0.8M310.6 365.2h0.8M307.3 383.1h0.8M308.9 381.2h0.8M316.7 375.1h0.8" stroke="#3f55b8" stroke-width="0.8" fill="none"/>
<path d="M320.0 362.2h0.8M307.4 376.7h0.8M305.5 374.7h0.8M315.4 374.9h0.8M315.4 361.7h0.8M315.7 362.8h0.8M307.7 373.9h0.8M314.0 376.2h0.8M320.1 360.0h0.8M307.9 376.9h0.8M311.4 366.0h0.8M307.6 372.6h0.8M318.4 362.0h0.8M318.3 368.0h0.8M307.3 376.7h0.8M307.9 377.9h0.8M308.9 368.3h0.8M320.1 367.2h0.8M308.5 378.2h0.8M314.1 376.9h0.8M306.6 377.9h0.8M318.4 362.4h0.8M307.4 372.1h0.8M308.7 371.0h0.8M309.8 377.0h0.8M313.9 364.4h0.8M309.3 379.1h0.8M309.1 370.0h0.8M310.6 367.0h0.8M308.1 378.1h0.8M318.7 361.6h0.8M318.2 361.9h0.8M307.5 378.9h0.8M313.3 377.1h0.8M320.2 361.9h0.8M307.9 372.0h0.8M320.7 362.5h0.8M310.5 379.1h0.8M316.5 362.4h0.8M307.2 371.6h0.8M319.9 362.1h0.8M314.3 375.1h0.8M319.9 367.5h0.8M316.6 372.8h0.8M305.6 374.5h0.8M319.6 361.1h0.8M311.2 365.5h0.8M316.1 374.8h0.8M309.8 367.9h0.8M308.7 371.3h0.8M317.4 362.0h0.8M311.5 366.6h0.8M307.3 371.3h0.8M312.6 377.6h0.8M318.6 361.9h0.8M314.0 364.5h0.8M309.3 369.0h0.8M320.7 361.0h0.8M313.6 363.8h0.8M316.0 361.6h0.8M315.7 374.0h0.8M320.8 359.8h0.8M310.2 377.7h0.8M320.0 362.7h0.8M311.0 377.1h0.8M307.0 371.9h0.8M307.4 372.5h0.8M311.4 377.4h0.8M318.9 368.1h0.8M308.4 371.3h0.8M309.5 379.9h0.8M317.4 361.8h0.8M315.6 361.9h0.8M320.5 360.1h0.8M311.5 378.1h0.8M319.6 361.9h0.8M318.7 360.4h0.8M309.0 379.0h0.8M312.1 364.7h0.8M308.5 378.4h0.8M314.0 377.1h0.8M320.6 364.4h0.8M309.2 378.4h0.8M314.8 376.2h0.8M320.3 364.0h0.8M312.2 378.3h0.8M319.2 365.7h0.8M320.7 361.1h0.8M318.5 370.4h0.8M306.6 376.4h0.8M310.7 367.6h0.8M319.8 360.4h0.8M310.3 377.6h0.8M318.6 362.0h0.8M306.7 374.6h0.8M316.0 362.1h0.8M306.7 378.4h0.8M319.1 361.3h0.8M319.3 364.8h0.8M307.5 370.4h0.8M318.5 362.2h0.8M320.7 360.1h0.8M311.9 378.2h0.8M317.5 372.6h0.8M309.1 367.9h0.8M319.5 364.6h0.8M317.9 369.4h0.8M306.2 372.7h0.8M306.9 372.0h0.8M307.9 374.0h0.8M311.9 377.0h0.8M320.7 364.7h0.8M318.5 369.7h0.8M309.9 367.7h0.8M307.7 379.9h0.8M307.6 372.8h0.8M319.9 367.0h0.8M308.2 370.5h0.8M311.9 377.1h0.8M305.3 375.6h0.8M314.8 375.7h0.8M316.3 373.3h0.8M319.3 368.5h0.8M319.4 361.3h0.8M307.5 377.3h0.8M307.2 374.7h0.8M313.5 364.1h0.8M310.8 366.7h0.8M313.5 363.3h0.8M314.5 374.5h0.8M312.7 376.6h0.8M320.8 364.5h0.8M305.7 374.5h0.8M312.5 376.4h0.8M319.8 363.2h0.8M306.6 373.3h0.8M313.3 377.8h0.8M306.0 373.8h0.8M311.2 378.7h0.8M316.3 362.1h0.8M307.8 375.4h0.8M308.7 368.1h0.8M314.4 374.5h0.8M314.8 376.3h0.8M318.5 368.3h0.8M317.8 370.1h0.8M318.5 369.0h0.8M307.7 375.6h0.8M318.6 369.9h0.8M308.5 370.4h0.8M312.8 363.8h0.8M306.5 372.7h0.8M319.3 363.3h0.8M319.1 364.7h0.8M320.8 360.8h0.8M317.2 361.2h0.8M315.9 373.9h0.8M321.1 360.7h0.8M317.5 361.1h0.8M310.3 368.0h0.8M319.7 367.0h0.8M320.2 365.7h0.8M317.4 372.3h0.8M315.6 363.0h0.8M319.4 360.2h0.8M312.7 377.9h0.8M309.9 379.8h0.8M314.7 364.0h0.8M314.5 375.1h0.8M313.9 377.0h0.8M316.4 362.7h0.8M313.4 375.6h0.8M320.1 359.8h0.8M315.1 362.8h0.8M312.5 365.7h0.8M320.8 362.1h0.8M318.6 361.8h0.8M313.9 363.6h0.8M314.8 362.3h0.8M316.2 361.8h0.8M308.3 369.3h0.8M316.0 361.4h0.8M310.3 367.9h0.8M312.7 376.7h0.8M319.7 366.6h0.8M320.5 359.7h0.8M316.2 374.7h0.8M318.2 360.5h0.8M305.5 374.6h0.8M321.1 363.2h0.8M318.0 370.3h0.8M307.8 371.7h0.8M307.0 376.5h0.8M313.2 376.1h0.8M312.6 365.5h0.8M320.7 364.4h0.8M315.9 362.6h0.8M306.9 376.3h0.8M320.6 359.6h0.8M309.9 369.1h0.8M319.4 367.3h0.8M308.1 376.7h0.8M313.2 376.5h0.8M310.5 367.1h0.8M308.7 369.5h0.8M311.9 364.6h0.8M320.3 361.8h0.8M317.4 372.4h0.8M308.2 378.3h0.8M321.1 361.2h0.8M307.5 375.4h0.8M306.0 377.0h0.8M313.6 364.7h0.8M311.7 377.1h0.8M308.5 379.7h0.8M314.6 375.1h0.8M315.5 362.1h0.8M306.6 377.1h0.8M319.6 362.2h0.8M311.9 377.8h0.8M310.4 378.4h0.8M317.8 361.0h0.8M316.1 372.4h0.8M319.5 365.3h0.8M319.0 366.0h0.8M312.8 376.6h0.8M317.2 371.9h0.8M318.7 370.2h0.8M316.9 361.1h0.8M321.0 364.2h0.8M319.4 362.6h0.8M320.9 362.0h0.8M306.3 376.6h0.8M310.2 368.6h0.8M315.2 374.6h0.8M311.8 377.9h0.8M311.6 376.7h0.8M316.5 362.6h0.8M315.4 374.8h0.8M320.0 367.3h0.8M313.5 377.2h0.8M309.9 378.7h0.8M314.2 364.2h0.8M308.5 368.5h0.8M307.7 376.3h0.8M319.9 366.0h0.8M307.5 378.7h0.8M311.4 376.6h0.8M311.0 366.5h0.8M314.7 374.3h0.8M312.5 376.4h0.8M317.2 360.9h0.8M310.0 378.3h0.8M318.6 360.8h0.8M307.5 374.4h0.8M319.7 360.9h0.8M306.0 373.4h0.8M315.7 372.8h0.8M318.1 361.8h0.8M319.1 359.9h0.8M312.9 376.6h0.8M319.3 363.4h0.8M313.1 377.1h0.8M310.7 377.1h0.8M308.1 377.4h0.8M307.3 373.9h0.8M307.5 376.5h0.8M313.8 375.4h0.8M320.1 361.7h0.8M308.6 379.2h0.8M306.6 379.0h0.8M307.1 377.4h0.8M319.3 366.6h0.8M314.8 363.5h0.8M318.1 369.5h0.8M318.8 361.2h0.8M311.7 376.9h0.8M319.2 365.6h0.8M317.0 362.1h0.8M307.2 375.4h0.8M311.7 364.8h0.8M312.3 378.6h0.8M315.4 375.2h0.8M307.4 376.1h0.8M307.8 371.1h0.8M308.8 370.9h0.8M319.7 365.2h0.8M320.0 361.6h0.8M315.6 374.5h0.8M319.1 366.4h0.8M314.5 363.4h0.8M312.9 377.0h0.8M309.5 367.9h0.8M317.8 369.1h0.8M311.9 364.8h0.8M307.9 379.5h0.8M306.3 376.8h0.8M307.4 375.1h0.8M315.6 373.0h0.8M316.0 363.1h0.8M317.5 361.7h0.8M306.2 372.4h0.8M313.9 375.5h0.8M309.9 367.2h0.8M316.8 371.1h0.8M317.4 370.1h0.8M320.5 361.6h0.8M319.2 361.7h0.8M317.0 361.7h0.8M313.0 377.0h0.8M309.5 377.1h0.8M316.9 361.5h0.8M318.2 369.5h0.8M320.1 363.9h0.8M320.9 362.3h0.8M317.5 360.9h0.8M307.3 377.1h0.8M320.8 361.8h0.8M315.6 363.2h0.8M319.4 365.1h0.8M318.4 368.5h0.8M315.6 373.0h0.8M312.9 365.4h0.8M318.2 362.2h0.8M307.3 371.4h0.8M319.6 361.2h0.8M315.0 363.1h0.8M319.5 367.0h0.8M320.0 364.5h0.8M319.2 364.8h0.8M308.5 377.2h0.8M308.0 376.7h0.8M319.5 363.8h0.8M319.5 362.1h0.8M312.2 365.3h0.8M317.8 361.8h0.8M307.7 374.9h0.8M307.0 378.5h0.8M316.7 362.7h0.8M305.5 376.3h0.8M318.4 361.7h0.8M318.9 359.7h0.8M313.6 377.3h0.8M320.1 360.3h0.8M319.3 366.9h0.8M314.7 375.0h0.8M311.1 377.1h0.8M306.8 372.6h0.8M314.6 363.3h0.8M315.0 374.0h0.8" stroke="#3a78c4" stroke-width="0.8" fill="none"/>
<path d="M312.3 374.1h0.8M309.9 375.2h0.8M315.1 364.4h0.8M310.7 371.2h0.8M315.8 364.9h0.8M317.5 364.1h0.8M315.6 372.2h0.8M318.8 366.0h0.8M310.7 373.5h0.8M310.0 373.2h0.8M310.8 374.7h0.8M311.6 367.1h0.8M316.2 371.5h0.8M318.1 363.2h0.8M310.1 370.2h0.8M312.1 375.6h0.8M316.6 368.8h0.8M317.7 367.2h0.8M309.9 376.5h0.8M308.7 372.6h0.8M316.3 371.0h0.8M309.7 371.6h0.8M309.8 375.1h0.8M317.1 367.6h0.8M315.0 371.6h0.8M317.7 366.6h0.8M312.9 366.2h0.8M309.0 372.6h0.8M313.3 374.2h0.8M308.7 375.5h0.8M316.8 370.9h0.8M317.3 366.8h0.8M308.2 373.1h0.8M311.8 375.3h0.8M318.9 364.5h0.8M308.3 374.3h0.8M314.9 365.7h0.8M318.0 368.0h0.8M317.6 368.3h0.8M318.0 364.0h0.8M308.8 373.3h0.8M317.6 368.3h0.8M318.1 366.4h0.8M309.9 372.9h0.8M312.9 374.7h0.8M314.2 373.3h0.8M311.6 375.9h0.8M313.5 366.7h0.8M312.6 368.0h0.8M317.2 365.3h0.8M317.5 364.6h0.8M317.6 364.1h0.8M313.0 366.1h0.8M312.3 366.5h0.8M308.4 373.9h0.8M318.5 363.5h0.8M316.3 363.9h0.8M308.8 373.6h0.8M314.4 366.2h0.8M317.5 368.9h0.8M316.7 363.6h0.8M309.5 373.7h0.8M316.2 371.4h0.8M315.4 363.7h0.8M316.7 363.1h0.8M318.4 362.7h0.8M318.2 364.2h0.8M308.5 373.4h0.8M310.0 375.5h0.8M310.9 369.2h0.8M318.3 367.2h0.8M318.5 366.8h0.8M310.0 372.8h0.8M313.7 365.9h0.8M310.0 370.6h0.8M317.8 364.5h0.8M313.4 365.7h0.8M314.2 366.5h0.8M315.2 372.7h0.8M316.0 364.5h0.8M312.7 374.6h0.8M309.7 375.2h0.8M315.8 365.3h0.8M316.5 365.9h0.8M312.0 375.6h0.8M317.2 362.7h0.8M318.9 365.4h0.8M310.2 373.3h0.8M309.7 376.5h0.8M316.7 365.5h0.8M312.4 373.4h0.8M311.3 369.6h0.8M317.7 365.7h0.8M315.2 365.7h0.8M315.7 364.5h0.8M314.7 372.7h0.8M310.3 371.5h0.8M318.8 363.1h0.8M312.5 368.1h0.8M317.1 365.9h0.8M317.1 366.9h0.8M315.0 365.0h0.8M310.1 372.8h0.8M314.0 366.1h0.8M316.9 366.2h0.8M314.3 365.9h0.8M318.2 367.2h0.8M309.6 375.5h0.8M315.2 371.0h0.8M312.3 376.0h0.8M316.8 364.8h0.8M317.2 364.4h0.8M314.0 365.0h0.8M312.4 376.0h0.8M309.4 374.1h0.8M309.3 376.1h0.8M311.8 369.2h0.8M310.6 374.4h0.8M310.0 372.7h0.8M313.3 374.5h0.8M314.1 372.3h0.8M316.9 364.4h0.8M309.0 371.5h0.8M312.4 373.4h0.8M317.3 363.2h0.8M311.9 369.1h0.8M310.5 373.6h0.8M316.3 364.6h0.8M317.0 364.6h0.8M318.2 363.0h0.8M311.2 373.4h0.8M317.9 367.6h0.8M310.8 371.5h0.8M311.7 375.8h0.8M314.1 366.1h0.8M309.8 371.1h0.8M311.1 374.4h0.8M313.9 365.2h0.8M314.5 365.4h0.8M317.1 368.9h0.8M315.5 371.6h0.8M309.1 374.4h0.8M313.5 372.8h0.8M310.5 372.7h0.8M317.0 367.0h0.8M313.9 374.0h0.8M308.6 372.9h0.8M310.3 376.4h0.8M318.8 363.9h0.8M309.2 370.6h0.8M316.3 364.1h0.8M309.2 374.1h0.8M310.6 371.1h0.8M317.9 362.7h0.8M310.8 369.4h0.8M315.3 371.1h0.8M313.3 365.8h0.8M314.6 365.5h0.8M318.4 366.3h0.8M318.2 363.1h0.8M308.9 371.5h0.8M314.3 364.4h0.8M317.6 363.9h0.8M311.2 368.9h0.8M315.4 365.5h0.8M318.6 365.7h0.8M310.7 370.1h0.8M314.5 364.6h0.8M309.3 372.0h0.8M317.5 364.2h0.8M309.5 374.0h0.8M309.8 373.9h0.8M317.4 363.2h0.8M316.9 363.9h0.8M310.9 370.1h0.8M311.4 374.9h0.8M312.2 368.2h0.8M316.9 365.5h0.8M316.0 369.4h0.8M319.0 365.3h0.8M312.1 374.3h0.8M314.3 374.1h0.8M317.3 362.9h0.8M313.1 374.2h0.8M312.0 376.1h0.8M316.9 367.0h0.8M312.1 374.7h0.8M317.6 367.1h0.8M309.8 371.1h0.8M315.4 365.2h0.8M316.5 371.4h0.8M315.3 372.0h0.8M317.6 365.2h0.8M310.3 376.1h0.8M315.4 372.6h0.8M316.8 369.5h0.8M317.0 366.1h0.8M318.2 363.4h0.8M309.7 370.9h0.8M310.5 371.0h0.8M309.3 371.2h0.8M309.0 374.1h0.8M312.4 375.2h0.8M315.4 365.3h0.8M318.0 363.8h0.8M313.4 375.1h0.8M315.7 370.2h0.8M312.1 368.5h0.8M313.0 372.9h0.8M313.5 365.2h0.8M313.1 374.0h0.8M316.3 364.6h0.8M316.8 365.6h0.8M314.9 364.2h0.8M310.5 371.3h0.8M314.4 373.2h0.8M317.9 362.7h0.8M313.4 366.5h0.8M309.5 373.0h0.8M308.2 373.1h0.8M312.8 367.1h0.8M310.8 373.7h0.8M312.3 374.6h0.8M312.4 367.6h0.8M309.8 373.6h0.8M313.7 366.2h0.8M315.1 371.9h0.8M317.3 364.1h0.8M318.2 363.4h0.8M315.1 371.4h0.8M311.6 375.4h0.8M313.8 374.3h0.8M316.3 368.5h0.8M309.6 370.3h0.8M309.6 373.2h0.8M312.6 367.0h0.8M318.3 364.7h0.8M316.7 369.5h0.8M313.1 374.5h0.8M317.6 365.2h0.8M315.5 365.6h0.8M314.4 366.3h0.8M310.2 372.6h0.8M311.0 370.2h0.8M316.6 369.1h0.8M310.7 376.7h0.8M310.8 368.1h0.8M314.1 366.3h0.8M311.9 375.7h0.8M312.4 375.3h0.8M317.4 366.6h0.8M309.7 375.0h0.8M309.8 372.6h0.8M316.1 371.8h0.8M316.7 367.3h0.8M319.0 363.7h0.8M311.9 366.7h0.8M315.8 370.1h0.8M316.3 368.5h0.8M312.4 366.7h0.8M316.3 364.8h0.8M315.8 365.6h0.8M312.4 375.7h0.8M319.1 364.0h0.8M317.2 365.4h0.8M316.7 369.5h0.8M313.0 373.3h0.8M310.6 374.0h0.8M312.4 375.6h0.8M310.8 375.2h0.8M316.5 365.7h0.8M310.6 376.0h0.8M312.5 373.8h0.8M309.7 371.3h0.8M316.4 368.5h0.8M315.6 371.0h0.8M309.8 370.2h0.8M310.8 369.5h0.8M316.5 368.7h0.8M310.7 368.2h0.8M312.9 366.0h0.8M316.3 364.5h0.8M314.5 373.7h0.8" stroke="#3398b0" stroke-width="0.8" fill="none"/>
<path d="M312.0 371.8h0.8M312.9 370.6h0.8M315.1 368.6h0.8M313.0 370.5h0.8M314.8 370.6h0.8M314.5 368.9h0.8M313.9 370.4h0.8M315.5 366.1h0.8M312.3 371.0h0.8M313.0 371.1h0.8M314.1 371.6h0.8M311.1 372.7h0.8M315.3 367.3h0.8M314.4 367.5h0.8M312.0 370.9h0.8M313.0 368.1h0.8M316.5 366.4h0.8M315.9 366.3h0.8M315.1 368.5h0.8M313.3 372.3h0.8M314.2 367.5h0.8M312.5 370.6h0.8M313.7 367.8h0.8M314.1 370.2h0.8M312.6 370.6h0.8M313.3 370.6h0.8M311.5 372.6h0.8M314.1 368.7h0.8M315.1 367.7h0.8M315.9 367.5h0.8M312.2 371.1h0.8M313.0 368.8h0.8M314.6 368.7h0.8M315.2 368.4h0.8M312.0 370.4h0.8M311.1 372.5h0.8M314.6 366.3h0.8M312.5 369.0h0.8M313.0 372.2h0.8M314.7 371.3h0.8M316.6 366.4h0.8M315.0 369.3h0.8M315.2 367.9h0.8M313.9 368.0h0.8M311.4 372.7h0.8M315.0 370.6h0.8M312.6 371.4h0.8M311.9 371.7h0.8M314.3 368.8h0.8M312.1 370.4h0.8M312.6 370.3h0.8M313.1 369.4h0.8M316.1 366.5h0.8M315.5 369.5h0.8M313.2 367.6h0.8M314.9 369.9h0.8M315.4 368.1h0.8M313.2 369.6h0.8M314.6 370.3h0.8M311.2 372.3h0.8M314.2 367.4h0.8M313.1 370.8h0.8M312.4 372.3h0.8M312.4 372.9h0.8M311.5 370.4h0.8M315.3 367.4h0.8M314.9 366.2h0.8M313.2 370.9h0.8M311.9 370.2h0.8M316.0 369.0h0.8M313.9 371.0h0.8M315.6 366.2h0.8M313.7 368.8h0.8M313.5 370.9h0.8M313.1 370.1h0.8M312.0 372.1h0.8M314.4 370.7h0.8M313.3 369.9h0.8M314.0 369.5h0.8M316.1 368.0h0.8M312.8 370.5h0.8M315.2 369.0h0.8M316.2 367.8h0.8M313.7 369.6h0.8M311.2 370.8h0.8M315.1 367.9h0.8M311.9 370.0h0.8M316.3 367.0h0.8M313.1 368.6h0.8M313.4 372.3h0.8M311.2 370.8h0.8M313.7 370.3h0.8M311.8 372.2h0.8M311.5 372.4h0.8M315.0 367.4h0.8M315.6 366.4h0.8M313.7 370.2h0.8M312.9 371.1h0.8M311.8 372.3h0.8M313.0 367.9h0.8M314.7 370.0h0.8M315.0 369.8h0.8M311.7 370.6h0.8M311.2 370.6h0.8M314.6 367.1h0.8M316.3 366.3h0.8M312.5 368.8h0.8M312.1 373.1h0.8M312.3 372.2h0.8M314.8 371.1h0.8M313.2 371.8h0.8M312.5 368.7h0.8M315.5 366.4h0.8M316.5 366.2h0.8M312.7 372.5h0.8M314.6 367.5h0.8M311.7 371.7h0.8M311.9 369.3h0.8M312.7 369.7h0.8M313.4 369.1h0.8M313.2 371.8h0.8M312.6 372.3h0.8M316.1 366.8h0.8M311.0 371.9h0.8M313.9 370.3h0.8M311.5 370.9h0.8M312.8 370.2h0.8" stroke="#3fb090" stroke-width="0.8" fill="none"/>
<ellipse cx="313.0" cy="371.5" rx="2.8" ry="1.5" transform="rotate(-55 313.0 371.5)" fill="#6fd060" opacity="0.8" filter="url(#bl2)"/>
<path d="M322.3 364.7h0.8M330.0 372.8h0.8M320.2 375.5h0.8M323.4 362.3h0.8M323.4 363.9h0.8M318.0 375.8h0.8M318.9 375.8h0.8M325.5 363.3h0.8M321.8 377.1h0.8M328.8 370.3h0.8M329.8 371.9h0.8M320.1 372.3h0.8M326.1 360.1h0.8M321.0 369.4h0.8M324.8 377.2h0.8M329.2 371.7h0.8M328.9 373.1h0.8M320.9 374.7h0.8M319.8 373.9h0.8M322.3 366.8h0.8M327.6 364.3h0.8M329.3 373.3h0.8M320.6 372.5h0.8M324.3 379.2h0.8M327.2 376.5h0.8M326.8 364.4h0.8M329.3 376.8h0.8M322.1 364.6h0.8M329.2 375.6h0.8M324.6 361.2h0.8M322.1 365.2h0.8M320.8 371.9h0.8M321.0 374.9h0.8M326.7 364.0h0.8M321.1 369.4h0.8M321.7 366.1h0.8M325.8 359.4h0.8M324.8 363.2h0.8M324.3 377.5h0.8M327.2 377.2h0.8M329.0 369.5h0.8M321.3 368.8h0.8M324.0 364.0h0.8M329.8 374.7h0.8M329.1 370.9h0.8M320.9 373.1h0.8M320.5 373.0h0.8M320.5 373.4h0.8M325.1 361.7h0.8M325.6 376.7h0.8M326.5 356.9h0.8M323.7 364.0h0.8M329.6 369.8h0.8M328.7 374.3h0.8M328.4 368.0h0.8M325.7 360.6h0.8M321.4 368.6h0.8M329.1 373.3h0.8M325.5 378.3h0.8M317.6 378.4h0.8M323.9 363.4h0.8" stroke="#4060c0" stroke-width="0.8" fill="none"/>
<path d="M322.8 366.2h0.8M328.5 369.0h0.8M322.3 368.4h0.8M321.9 369.2h0.8M321.3 374.2h0.8M327.8 374.1h0.8M325.6 364.1h0.8M322.5 369.2h0.8M322.4 372.6h0.8M323.9 365.4h0.8M327.9 370.0h0.8M321.9 368.9h0.8M327.8 372.8h0.8M327.5 374.9h0.8M321.8 371.8h0.8M326.8 366.8h0.8M325.7 364.6h0.8M321.9 369.2h0.8M322.2 372.7h0.8M322.5 367.5h0.8M322.0 367.7h0.8M322.1 367.4h0.8M326.1 375.5h0.8M328.1 372.0h0.8M326.5 366.1h0.8M323.3 366.3h0.8M327.2 367.7h0.8M323.9 365.3h0.8M321.5 369.9h0.8M322.3 368.4h0.8M327.5 368.5h0.8M323.0 366.8h0.8M324.7 363.7h0.8M323.1 366.1h0.8M325.9 364.4h0.8M323.2 366.5h0.8M324.6 375.7h0.8M328.4 370.8h0.8M322.8 367.0h0.8M327.6 367.3h0.8M326.6 364.5h0.8M325.4 364.6h0.8M324.7 364.3h0.8M325.8 364.8h0.8M321.9 368.8h0.8M327.1 365.8h0.8M322.3 372.1h0.8M328.4 373.1h0.8M328.7 373.4h0.8M327.5 366.9h0.8M323.3 365.3h0.8M327.1 365.3h0.8M323.8 365.3h0.8M328.2 374.6h0.8M321.8 372.1h0.8M321.8 370.1h0.8M325.5 363.9h0.8M327.2 376.0h0.8M322.8 368.4h0.8M327.7 369.4h0.8M325.5 364.2h0.8M326.0 374.6h0.8" stroke="#3d72c8" stroke-width="0.8" fill="none"/>
<path d="M323.7 367.6h0.8M325.7 367.3h0.8M326.6 371.7h0.8M322.9 370.7h0.8M323.8 368.6h0.8M323.9 372.6h0.8M323.1 369.9h0.8M327.0 367.8h0.8M322.5 369.9h0.8M323.9 366.5h0.8M325.1 373.1h0.8M322.8 368.8h0.8M324.4 366.8h0.8M325.5 366.2h0.8M325.3 373.7h0.8M326.5 372.0h0.8M323.2 367.7h0.8M322.8 372.4h0.8M327.2 370.8h0.8M326.3 374.2h0.8M323.2 368.2h0.8M326.8 371.5h0.8M323.4 368.7h0.8M322.8 369.2h0.8M324.3 373.8h0.8M324.9 366.9h0.8M326.5 370.7h0.8M326.2 373.0h0.8M326.4 372.5h0.8M326.5 369.3h0.8M324.4 366.4h0.8M323.3 370.7h0.8M325.9 374.2h0.8M325.4 366.1h0.8M326.6 370.6h0.8M322.9 368.5h0.8M325.1 374.1h0.8M326.4 367.7h0.8M323.7 368.1h0.8M323.5 370.7h0.8M324.0 374.3h0.8M326.0 367.5h0.8M323.7 368.5h0.8M327.4 372.5h0.8M324.6 365.7h0.8M325.1 374.4h0.8M323.6 367.0h0.8M326.8 370.6h0.8M326.4 372.4h0.8M324.2 366.2h0.8M322.5 369.8h0.8M325.2 366.1h0.8M322.6 372.3h0.8M325.6 373.9h0.8M326.0 366.3h0.8M326.8 367.9h0.8M325.3 365.5h0.8M326.9 371.8h0.8M326.3 373.4h0.8M323.5 371.5h0.8M324.8 365.9h0.8M322.6 372.1h0.8M326.5 366.7h0.8M322.9 370.9h0.8M326.7 368.6h0.8M323.7 367.9h0.8M323.6 369.3h0.8M324.8 366.7h0.8M326.3 373.4h0.8M326.2 367.3h0.8M322.5 371.5h0.8M325.9 366.5h0.8" stroke="#3a86c4" stroke-width="0.8" fill="none"/>
<path d="M323.9 371.1h0.8M325.4 369.0h0.8M325.8 372.0h0.8M325.0 369.6h0.8M324.6 372.0h0.8M325.3 368.7h0.8M324.0 370.0h0.8M324.4 369.1h0.8M324.8 372.2h0.8M324.7 368.2h0.8M324.7 369.0h0.8M325.6 372.1h0.8M324.8 370.5h0.8M324.6 369.9h0.8M324.2 371.5h0.8M325.2 369.4h0.8M325.5 369.9h0.8M325.5 371.9h0.8M326.2 369.1h0.8M323.9 370.0h0.8M325.1 370.3h0.8M325.5 371.1h0.8M324.3 370.0h0.8M323.8 370.7h0.8M324.1 369.2h0.8M325.8 369.2h0.8M325.0 369.8h0.8M324.2 369.4h0.8M325.2 370.1h0.8M325.2 370.5h0.8M325.9 370.8h0.8M324.9 371.4h0.8M324.7 368.7h0.8M325.7 369.7h0.8M324.6 368.9h0.8" stroke="#3a9cb8" stroke-width="0.8" fill="none"/>
<rect x="320.5" y="325.5" width="41.0" height="59.0" fill="none" stroke="#000" stroke-width="1"/>
<text x="343.5" y="335.1" font-size="8" text-anchor="middle" fill="#0a0a0a" style="stroke-width:0.12px">MDA5+</text>
<text x="343.5" y="344.1" font-size="8" text-anchor="middle" fill="#0a0a0a" style="stroke-width:0.12px">18.37%</text>
<rect x="370.2" y="321.4" width="66.2" height="66.8" fill="#fff" stroke="#b8b8b8" stroke-width="0.8"/>
<path d="M372.2 387.9v-1.8M377.0 387.9v-1.0M379.7 387.9v-1.0M381.7 387.9v-1.0M383.2 387.9v-1.0M384.5 387.9v-1.0M385.6 387.9v-1.0M386.5 387.9v-1.0M387.3 387.9v-1.0M388.0 387.9v-1.8M392.8 387.9v-1.0M395.5 387.9v-1.0M397.5 387.9v-1.0M399.0 387.9v-1.0M400.3 387.9v-1.0M401.4 387.9v-1.0M402.3 387.9v-1.0M403.1 387.9v-1.0M403.8 387.9v-1.8M408.6 387.9v-1.0M411.3 387.9v-1.0M413.3 387.9v-1.0M414.8 387.9v-1.0M416.1 387.9v-1.0M417.2 387.9v-1.0M418.1 387.9v-1.0M418.9 387.9v-1.0M419.6 387.9v-1.8M424.4 387.9v-1.0M427.1 387.9v-1.0M429.1 387.9v-1.0M430.6 387.9v-1.0M431.9 387.9v-1.0M433.0 387.9v-1.0M433.9 387.9v-1.0M434.7 387.9v-1.0M370.5 326.4h1.4M370.5 333.6h1.4M370.5 340.8h1.4M370.5 348.0h1.4M370.5 355.2h1.4M370.5 362.4h1.4M370.5 369.6h1.4M370.5 376.8h1.4M370.5 384.0h1.4" stroke="#444" stroke-width="0.6" fill="none"/>
<ellipse cx="385.0" cy="369.5" rx="7.5" ry="2.9" transform="rotate(-58 385.0 369.5)" fill="#3398b0" opacity="0.38" filter="url(#bl)"/>
<ellipse cx="395.0" cy="370.0" rx="4.2" ry="2.4" transform="rotate(-88 395.0 370.0)" fill="#3a86c4" opacity="0.38" filter="url(#bl)"/>
<path d="M404.5 366.6h0.7M408.4 363.0h0.7M407.1 361.6h0.7M393.0 366.8h0.7M408.8 379.9h0.7M419.8 378.0h0.7M409.7 368.0h0.7M402.0 367.7h0.7M407.0 368.0h0.7M415.3 366.7h0.7M412.3 369.5h0.7M410.1 363.1h0.7M406.5 367.6h0.7M413.4 373.3h0.7M408.1 360.8h0.7M406.3 369.0h0.7" stroke="#7f9ade" stroke-width="0.7" fill="none"/>
<path d="M391.8 364.3h0.8M373.4 374.3h0.8M390.8 368.1h0.8M392.2 360.2h0.8M391.2 365.0h0.8M377.8 380.4h0.8M374.0 376.2h0.8M391.4 360.4h0.8M379.2 369.6h0.8M384.7 378.9h0.8M391.0 359.2h0.8M384.4 378.4h0.8M375.9 368.5h0.8M385.0 377.2h0.8M393.1 357.3h0.8M385.7 362.2h0.8M391.8 360.0h0.8M390.5 359.2h0.8M380.4 383.0h0.8M377.3 378.5h0.8M391.0 365.7h0.8M378.2 380.2h0.8M383.3 379.2h0.8M375.0 374.6h0.8M393.4 357.7h0.8M391.9 360.8h0.8M375.7 380.9h0.8M389.2 371.4h0.8M382.1 384.8h0.8M391.4 364.4h0.8M394.6 357.3h0.8M389.3 355.1h0.8M374.4 375.4h0.8M391.0 367.0h0.8M377.9 367.9h0.8M381.7 379.4h0.8M382.6 363.5h0.8M378.0 379.0h0.8M391.4 359.8h0.8M378.0 372.3h0.8M389.4 372.7h0.8M388.6 372.5h0.8M390.5 368.6h0.8M392.5 369.7h0.8M377.9 372.1h0.8M378.0 372.2h0.8M387.0 359.6h0.8M389.4 359.3h0.8M383.1 363.2h0.8M377.9 373.1h0.8M383.8 379.0h0.8M374.5 376.0h0.8M390.5 359.2h0.8M378.1 371.5h0.8M379.4 382.8h0.8M386.2 362.0h0.8M388.3 358.5h0.8M382.4 379.2h0.8M385.9 379.9h0.8M386.7 361.3h0.8M389.5 374.1h0.8M390.3 359.0h0.8M387.7 374.5h0.8M390.2 369.7h0.8M381.9 381.1h0.8M376.2 379.9h0.8M378.4 380.0h0.8M378.7 370.6h0.8M391.2 366.5h0.8M377.9 378.8h0.8M376.9 375.7h0.8M378.3 371.8h0.8M382.1 366.2h0.8M382.1 365.6h0.8M390.2 370.2h0.8M392.0 358.3h0.8M389.0 372.1h0.8M391.2 359.5h0.8M389.5 360.0h0.8M391.6 355.0h0.8M385.6 362.5h0.8M383.8 382.2h0.8M381.4 383.0h0.8M376.8 376.1h0.8M391.5 365.9h0.8M378.3 370.5h0.8M382.2 365.8h0.8M376.9 378.6h0.8M380.9 367.8h0.8M390.5 367.8h0.8M379.7 368.7h0.8M390.0 359.4h0.8M379.5 365.9h0.8M381.8 366.0h0.8M394.9 353.7h0.8M389.8 369.9h0.8M377.5 375.1h0.8M390.7 366.6h0.8M389.0 371.7h0.8M377.6 378.9h0.8M390.9 355.8h0.8M379.5 382.6h0.8M381.3 379.9h0.8M382.9 363.4h0.8M379.8 380.6h0.8M379.7 369.2h0.8M391.0 359.8h0.8M385.2 382.6h0.8M386.9 360.0h0.8M391.2 359.7h0.8M377.2 373.8h0.8M377.7 370.5h0.8M393.7 363.3h0.8M391.5 359.7h0.8M388.8 372.5h0.8M391.8 362.7h0.8M392.6 358.3h0.8M372.7 376.8h0.8M385.2 361.5h0.8M376.0 379.7h0.8M381.5 366.5h0.8M393.0 356.1h0.8M382.3 380.7h0.8M382.9 364.8h0.8M393.0 356.4h0.8M376.0 372.2h0.8M388.7 372.6h0.8M387.2 374.7h0.8M389.8 370.6h0.8M377.9 379.6h0.8M386.1 360.9h0.8M393.7 355.3h0.8M388.9 374.7h0.8M373.2 377.3h0.8M381.9 363.3h0.8M387.4 374.4h0.8M376.7 376.4h0.8M386.0 361.7h0.8M383.9 361.7h0.8M376.0 370.1h0.8M394.1 359.6h0.8M382.1 366.1h0.8M377.7 372.1h0.8M379.6 369.6h0.8M380.8 379.8h0.8M380.4 365.1h0.8M378.8 370.4h0.8M391.8 356.0h0.8M381.0 364.9h0.8M393.3 357.2h0.8M390.9 359.3h0.8M389.0 377.4h0.8M390.6 359.6h0.8M375.6 379.7h0.8M395.2 355.1h0.8M383.7 363.1h0.8M391.7 360.2h0.8M382.4 382.8h0.8M377.6 369.8h0.8M388.3 360.2h0.8M379.1 383.6h0.8M389.3 359.4h0.8M377.8 373.6h0.8M389.8 370.2h0.8M376.9 374.8h0.8M377.0 375.4h0.8M376.1 374.4h0.8M381.2 366.3h0.8M388.2 374.7h0.8M385.5 362.6h0.8M391.4 359.1h0.8M374.2 380.5h0.8M390.4 368.4h0.8M394.4 359.0h0.8M374.8 377.8h0.8M390.4 368.7h0.8M387.4 374.3h0.8M390.4 359.3h0.8M377.4 377.1h0.8M386.6 376.2h0.8M382.6 379.4h0.8M385.1 377.3h0.8M387.0 374.8h0.8M388.2 372.6h0.8M388.6 360.2h0.8M384.2 363.7h0.8M394.0 356.1h0.8M389.6 359.6h0.8M382.1 379.6h0.8M379.4 370.0h0.8M379.6 363.7h0.8M388.6 374.8h0.8M380.1 379.8h0.8M372.4 376.8h0.8M377.2 376.7h0.8M383.3 364.1h0.8M386.0 362.0h0.8M378.7 379.3h0.8M391.9 362.3h0.8M384.6 363.4h0.8M388.4 372.4h0.8M389.7 358.5h0.8M378.0 371.7h0.8M394.1 360.6h0.8M373.5 373.0h0.8M392.3 356.9h0.8M378.6 371.0h0.8M387.4 357.9h0.8M376.8 376.1h0.8M379.6 384.6h0.8M389.0 371.9h0.8M378.6 379.1h0.8M376.4 381.3h0.8M387.1 376.9h0.8M387.5 360.7h0.8M394.5 361.2h0.8M377.1 373.8h0.8M380.2 380.0h0.8M382.7 379.5h0.8M389.8 369.4h0.8M387.1 375.0h0.8M376.2 372.3h0.8M393.5 366.2h0.8M395.8 356.9h0.8M377.7 378.5h0.8M376.0 373.4h0.8M392.5 359.2h0.8M389.6 371.1h0.8M377.5 374.6h0.8M391.7 363.6h0.8M383.1 363.5h0.8M394.8 356.8h0.8M394.8 355.7h0.8M384.9 378.9h0.8M377.4 375.3h0.8M376.0 376.2h0.8M392.1 357.4h0.8M392.1 361.2h0.8M389.2 370.8h0.8M390.8 358.5h0.8M378.0 378.1h0.8M378.9 382.5h0.8M387.1 360.5h0.8M389.7 369.9h0.8M376.1 385.5h0.8M393.0 360.0h0.8M391.7 364.2h0.8M378.5 381.4h0.8M386.5 375.7h0.8M386.1 379.6h0.8M383.1 380.3h0.8M391.9 362.2h0.8M382.3 366.0h0.8M390.7 366.8h0.8M373.7 382.1h0.8M377.1 375.7h0.8M380.8 380.2h0.8M381.8 379.9h0.8" stroke="#3f55b8" stroke-width="0.8" fill="none"/>
<path d="M391.0 360.2h0.8M387.9 372.9h0.8M387.2 363.1h0.8M379.8 370.6h0.8M383.6 365.2h0.8M388.3 361.1h0.8M390.8 362.1h0.8M387.9 362.5h0.8M380.6 371.0h0.8M387.4 362.7h0.8M390.9 364.8h0.8M379.0 372.3h0.8M389.1 362.1h0.8M381.3 376.7h0.8M386.3 363.6h0.8M380.5 376.8h0.8M388.9 360.7h0.8M381.1 378.2h0.8M380.4 377.4h0.8M387.5 361.8h0.8M380.2 376.8h0.8M387.2 361.8h0.8M379.9 370.6h0.8M382.8 367.2h0.8M385.8 363.1h0.8M391.5 362.3h0.8M388.6 361.8h0.8M382.6 378.7h0.8M381.5 376.4h0.8M381.3 377.0h0.8M389.4 360.8h0.8M383.3 366.2h0.8M379.8 376.5h0.8M387.0 362.0h0.8M388.0 362.2h0.8M383.6 376.7h0.8M390.5 366.8h0.8M390.5 360.1h0.8M390.4 361.9h0.8M381.7 378.5h0.8M391.2 364.6h0.8M378.8 377.6h0.8M383.9 375.8h0.8M378.1 375.0h0.8M381.1 369.2h0.8M389.2 369.1h0.8M389.1 361.8h0.8M390.3 360.7h0.8M390.9 364.9h0.8M389.7 363.9h0.8M390.3 365.3h0.8M390.1 364.4h0.8M384.7 364.3h0.8M388.1 360.8h0.8M391.1 361.5h0.8M379.4 374.0h0.8M380.3 377.9h0.8M383.6 365.1h0.8M390.9 363.2h0.8M384.9 374.8h0.8M390.5 366.7h0.8M386.0 373.6h0.8M378.6 376.5h0.8M380.1 371.2h0.8M379.6 377.2h0.8M389.8 366.6h0.8M390.1 365.1h0.8M389.5 360.6h0.8M390.6 366.3h0.8M384.0 377.2h0.8M385.2 376.3h0.8M379.9 377.2h0.8M385.8 375.4h0.8M379.5 377.9h0.8M380.4 376.6h0.8M383.2 377.9h0.8M384.3 364.6h0.8M385.9 363.5h0.8M385.9 363.6h0.8M383.7 377.3h0.8M382.8 377.6h0.8M389.8 367.8h0.8M388.2 371.7h0.8M389.2 362.2h0.8M387.6 371.2h0.8M389.8 366.1h0.8M379.2 371.3h0.8M389.9 367.1h0.8M382.4 377.0h0.8M391.0 362.0h0.8M389.9 363.7h0.8M387.5 361.7h0.8M389.5 363.3h0.8M384.3 375.4h0.8M380.4 370.7h0.8M389.4 369.5h0.8M382.9 366.8h0.8M379.9 375.1h0.8M380.8 378.8h0.8M388.5 362.5h0.8M383.3 366.1h0.8M388.7 361.0h0.8M379.7 374.6h0.8M390.5 366.8h0.8M380.1 378.1h0.8M388.6 362.6h0.8M378.9 374.9h0.8M384.9 363.8h0.8M386.5 374.3h0.8M379.6 371.5h0.8M390.8 360.0h0.8M389.3 369.2h0.8M390.5 367.1h0.8M389.2 367.2h0.8M386.3 362.4h0.8M381.7 366.8h0.8M387.9 371.6h0.8M383.3 365.5h0.8M382.2 377.7h0.8M383.8 365.1h0.8M379.2 373.3h0.8M381.7 368.1h0.8M386.8 373.6h0.8M381.2 377.3h0.8M391.4 363.3h0.8M384.7 363.8h0.8M379.3 371.0h0.8M389.8 360.6h0.8M378.6 372.8h0.8M385.6 376.4h0.8M388.8 369.5h0.8M391.3 362.9h0.8M391.0 364.8h0.8M383.5 377.0h0.8M390.8 363.1h0.8M390.5 361.9h0.8M388.2 360.7h0.8M388.2 361.2h0.8M386.7 363.3h0.8M388.2 362.5h0.8M388.2 362.0h0.8M382.5 377.7h0.8M380.7 369.3h0.8M389.9 363.5h0.8M390.8 361.9h0.8M390.3 365.2h0.8M379.9 378.7h0.8M386.4 363.2h0.8M389.3 367.7h0.8M379.8 375.6h0.8M385.2 375.8h0.8M381.2 369.9h0.8M388.9 361.6h0.8M379.7 376.6h0.8M385.5 364.4h0.8M380.0 371.8h0.8M379.3 377.3h0.8M378.4 374.2h0.8M389.9 361.4h0.8M379.5 371.1h0.8M390.1 362.6h0.8M382.1 366.6h0.8M384.5 363.7h0.8M387.6 372.9h0.8M389.0 368.9h0.8M380.7 370.0h0.8M387.8 371.2h0.8M382.1 378.3h0.8M390.6 362.5h0.8M378.2 373.8h0.8M390.7 360.2h0.8M386.2 374.8h0.8M382.6 367.2h0.8M389.8 364.5h0.8M384.3 364.6h0.8M378.0 376.6h0.8M379.2 372.2h0.8M386.6 372.7h0.8M390.2 360.7h0.8M380.2 375.5h0.8M381.5 377.7h0.8M390.1 365.5h0.8M390.7 365.2h0.8M380.4 371.0h0.8M391.4 361.3h0.8M390.0 363.6h0.8M382.5 377.5h0.8M391.5 362.0h0.8M386.1 374.4h0.8M381.1 377.6h0.8M379.8 376.3h0.8M386.0 362.5h0.8M381.6 368.0h0.8M389.5 361.7h0.8M391.4 360.9h0.8M382.8 366.8h0.8M389.5 366.5h0.8M390.6 364.3h0.8M385.4 375.2h0.8M390.4 361.4h0.8M381.2 377.3h0.8M385.9 363.8h0.8M383.5 376.3h0.8M388.3 361.3h0.8M389.8 367.1h0.8M390.6 362.2h0.8M387.4 362.2h0.8M390.1 365.7h0.8M382.3 367.3h0.8M388.5 371.4h0.8M388.3 370.4h0.8M390.5 367.2h0.8M380.5 379.0h0.8M389.9 368.3h0.8M384.3 364.6h0.8M387.7 361.8h0.8M380.8 369.1h0.8M378.0 377.1h0.8M386.8 374.4h0.8M380.9 376.9h0.8M390.1 363.9h0.8M389.9 360.3h0.8M390.3 361.9h0.8M378.3 377.2h0.8M387.8 371.3h0.8M379.9 377.9h0.8M386.7 372.7h0.8M387.6 362.5h0.8M380.0 373.0h0.8M378.1 374.9h0.8M389.9 361.3h0.8M384.6 376.3h0.8M383.7 365.4h0.8M378.2 375.3h0.8M389.7 367.3h0.8M380.8 368.5h0.8M381.0 379.1h0.8M389.3 370.1h0.8M382.1 367.8h0.8M384.1 365.3h0.8M380.9 368.4h0.8M390.9 364.6h0.8M391.3 360.4h0.8M379.6 370.0h0.8M378.6 372.0h0.8M381.2 378.1h0.8M388.1 372.4h0.8M386.1 374.5h0.8M389.3 370.2h0.8M390.3 360.8h0.8M385.9 375.7h0.8M390.1 361.0h0.8M391.4 362.8h0.8M383.5 377.2h0.8M384.7 374.9h0.8M384.6 376.4h0.8M388.0 362.6h0.8M380.9 377.6h0.8M379.4 372.6h0.8M389.1 368.9h0.8M384.8 364.3h0.8M386.3 375.0h0.8M380.0 379.1h0.8M382.1 367.0h0.8M380.8 370.6h0.8M387.1 374.0h0.8M383.9 377.3h0.8M387.7 371.4h0.8M389.6 367.9h0.8M378.7 373.0h0.8M385.0 363.4h0.8M389.0 370.5h0.8M388.5 370.2h0.8M379.5 372.2h0.8M387.3 361.8h0.8M387.4 362.4h0.8M390.7 360.1h0.8M386.8 362.5h0.8M389.5 366.0h0.8M388.0 361.8h0.8M386.6 374.4h0.8M389.8 366.5h0.8M390.0 366.1h0.8M390.7 362.5h0.8M390.6 365.9h0.8M388.9 370.2h0.8M390.4 360.1h0.8M382.0 378.2h0.8M378.9 376.3h0.8M388.3 362.4h0.8M386.8 362.4h0.8M390.9 365.4h0.8M378.7 377.7h0.8M390.6 365.1h0.8M390.0 364.2h0.8M382.9 365.4h0.8M385.3 376.5h0.8M378.5 375.6h0.8M385.5 364.4h0.8M391.0 362.6h0.8M383.5 378.1h0.8M389.3 362.8h0.8M386.5 363.4h0.8M379.5 378.2h0.8M378.5 374.4h0.8M382.1 377.9h0.8M391.4 361.5h0.8M381.4 368.4h0.8M384.9 363.8h0.8M377.9 374.7h0.8M390.2 365.0h0.8M384.3 365.5h0.8M384.3 377.7h0.8M389.6 362.5h0.8" stroke="#3a78c4" stroke-width="0.8" fill="none"/>
<path d="M388.0 369.5h0.8M384.8 365.3h0.8M382.1 370.4h0.8M383.2 373.9h0.8M380.6 372.7h0.8M383.8 374.3h0.8M388.2 369.3h0.8M389.0 364.5h0.8M382.2 372.1h0.8M387.5 365.7h0.8M382.3 376.1h0.8M381.4 374.3h0.8M389.2 366.2h0.8M381.0 374.3h0.8M381.1 375.7h0.8M387.3 363.8h0.8M382.6 369.4h0.8M385.1 373.7h0.8M387.7 365.9h0.8M383.3 369.3h0.8M387.3 366.0h0.8M388.2 363.2h0.8M382.9 368.5h0.8M383.7 366.8h0.8M382.7 368.7h0.8M382.1 375.3h0.8M382.7 369.2h0.8M380.1 373.5h0.8M383.3 367.8h0.8M381.9 374.4h0.8M382.4 373.7h0.8M382.8 369.7h0.8M384.3 367.1h0.8M387.1 369.9h0.8M382.3 375.8h0.8M388.4 366.6h0.8M382.6 368.0h0.8M383.5 374.9h0.8M387.3 370.3h0.8M384.5 373.6h0.8M381.0 372.8h0.8M387.7 364.4h0.8M386.5 363.8h0.8M387.5 364.7h0.8M387.6 368.9h0.8M381.2 373.3h0.8M387.3 364.3h0.8M380.5 372.3h0.8M385.8 365.4h0.8M380.6 374.5h0.8M387.6 364.7h0.8M388.0 368.4h0.8M385.6 372.0h0.8M386.2 373.0h0.8M384.7 373.1h0.8M386.9 370.6h0.8M385.0 365.1h0.8M386.9 364.7h0.8M388.5 368.1h0.8M387.4 364.4h0.8M381.9 376.1h0.8M384.8 373.6h0.8M386.0 366.0h0.8M386.8 365.9h0.8M385.0 372.2h0.8M388.4 368.5h0.8M387.8 363.5h0.8M388.1 368.7h0.8M386.3 372.8h0.8M387.3 370.0h0.8M388.1 365.4h0.8M388.2 367.2h0.8M386.6 364.7h0.8M384.9 372.3h0.8M387.4 370.4h0.8M380.5 373.6h0.8M388.5 363.6h0.8M385.3 372.0h0.8M389.0 366.9h0.8M384.2 365.9h0.8M381.6 370.4h0.8M382.0 374.1h0.8M388.8 366.8h0.8M382.1 370.6h0.8M388.5 365.0h0.8M387.7 364.8h0.8M387.9 369.7h0.8M385.2 373.9h0.8M387.5 369.9h0.8M382.9 375.9h0.8M387.9 368.7h0.8M386.9 365.9h0.8M383.4 369.0h0.8M386.4 363.9h0.8M383.8 375.5h0.8M381.5 369.8h0.8M381.1 372.8h0.8M387.9 369.9h0.8M380.9 375.5h0.8M388.9 364.9h0.8M383.1 367.3h0.8M383.8 366.8h0.8M388.6 368.5h0.8M384.0 367.5h0.8M382.9 375.0h0.8M383.2 374.3h0.8M382.9 375.1h0.8M388.3 363.1h0.8M388.2 364.1h0.8M382.1 368.7h0.8M384.3 366.8h0.8M380.9 375.7h0.8M383.0 369.5h0.8M386.8 371.0h0.8M385.4 366.4h0.8M386.2 371.5h0.8M385.7 373.5h0.8M388.1 363.3h0.8M382.4 370.2h0.8M384.0 367.5h0.8M386.7 371.6h0.8M384.6 374.1h0.8M387.5 365.2h0.8M387.3 363.4h0.8M382.6 372.9h0.8M387.5 364.3h0.8M382.6 367.9h0.8M387.1 364.3h0.8M384.5 367.4h0.8M387.1 363.9h0.8M387.4 365.4h0.8M381.7 371.8h0.8M380.7 375.0h0.8M381.0 372.1h0.8M387.4 368.8h0.8M384.0 366.3h0.8M389.2 364.0h0.8M387.0 370.0h0.8M386.0 371.9h0.8M388.5 366.1h0.8M388.4 364.0h0.8M385.6 365.6h0.8M387.2 365.3h0.8M388.1 365.8h0.8M388.9 364.0h0.8M382.9 374.8h0.8M380.8 375.0h0.8M380.1 374.0h0.8M388.4 366.5h0.8M383.1 368.7h0.8M383.2 374.5h0.8M381.6 372.3h0.8M383.9 368.0h0.8M383.0 367.9h0.8M387.6 368.5h0.8M386.4 366.0h0.8M387.5 365.6h0.8M382.5 369.0h0.8M388.3 366.7h0.8M381.0 375.0h0.8M382.6 369.7h0.8M389.2 365.2h0.8M388.1 365.6h0.8M384.4 373.1h0.8M388.5 365.9h0.8M381.6 375.8h0.8M384.8 365.3h0.8M383.4 367.2h0.8M388.6 367.9h0.8M384.4 374.5h0.8M387.2 365.9h0.8M388.0 366.8h0.8M387.8 368.6h0.8M384.4 367.2h0.8M387.4 366.0h0.8M383.5 373.4h0.8M386.5 371.4h0.8M387.3 365.2h0.8M387.3 363.4h0.8M385.1 372.6h0.8M383.2 374.6h0.8M388.9 363.2h0.8M387.2 363.9h0.8M383.6 374.7h0.8M382.6 370.2h0.8M383.1 369.3h0.8M383.2 368.9h0.8M380.3 373.4h0.8M388.3 367.7h0.8M382.9 374.8h0.8M382.0 370.3h0.8M387.2 369.4h0.8M381.6 376.3h0.8M381.1 373.8h0.8M382.0 370.0h0.8M380.2 373.6h0.8M388.7 365.9h0.8M384.5 374.1h0.8M380.5 373.6h0.8M382.5 373.0h0.8M382.9 375.6h0.8M389.2 364.8h0.8M382.1 369.7h0.8M387.4 364.8h0.8M382.7 375.1h0.8M389.6 365.0h0.8M387.5 369.1h0.8M382.3 370.3h0.8M380.6 373.7h0.8M389.2 363.7h0.8M387.9 365.2h0.8M385.6 372.1h0.8M380.5 372.3h0.8M389.1 363.5h0.8M381.2 373.7h0.8M382.3 371.2h0.8M386.9 369.7h0.8M381.5 371.7h0.8M385.5 365.2h0.8M383.1 373.9h0.8M387.5 365.9h0.8M386.3 372.0h0.8M382.1 373.5h0.8M385.6 365.1h0.8M385.6 372.9h0.8M387.4 370.6h0.8M386.5 371.3h0.8M388.2 364.1h0.8M382.4 373.8h0.8M381.5 372.9h0.8M384.7 373.0h0.8M383.9 375.3h0.8M386.6 371.8h0.8M387.0 364.0h0.8M382.8 373.9h0.8M382.5 376.1h0.8M382.2 368.8h0.8M380.6 373.8h0.8M387.6 365.2h0.8M383.1 367.6h0.8M387.5 370.0h0.8M384.5 373.5h0.8M382.4 372.6h0.8M388.8 367.4h0.8M382.2 369.9h0.8M389.1 363.3h0.8M381.4 370.5h0.8M381.3 372.7h0.8M387.8 370.2h0.8M388.1 365.2h0.8M388.1 366.9h0.8M381.7 376.2h0.8M387.2 371.0h0.8M384.3 365.9h0.8M384.0 373.8h0.8M387.7 367.2h0.8M384.6 374.3h0.8M387.6 365.9h0.8M384.0 367.3h0.8M380.8 373.1h0.8M381.1 370.4h0.8M388.4 368.6h0.8M387.4 365.2h0.8M382.8 373.7h0.8M380.3 371.9h0.8M382.2 372.9h0.8M387.7 369.9h0.8M380.7 372.4h0.8M389.3 364.4h0.8M388.3 362.9h0.8M387.6 367.0h0.8M383.0 376.1h0.8M389.3 365.6h0.8M381.9 370.6h0.8M387.0 369.7h0.8M387.8 366.0h0.8M381.3 370.1h0.8M385.1 366.4h0.8M386.4 372.5h0.8M389.0 366.5h0.8M387.8 366.2h0.8M383.5 374.4h0.8M382.9 367.5h0.8M389.2 364.2h0.8M383.5 374.7h0.8" stroke="#3398b0" stroke-width="0.8" fill="none"/>
<path d="M385.6 366.6h0.8M382.9 372.2h0.8M385.8 370.3h0.8M382.7 371.8h0.8M384.4 369.7h0.8M385.0 369.4h0.8M384.6 370.3h0.8M383.2 370.1h0.8M384.4 368.9h0.8M386.4 369.7h0.8M387.0 366.6h0.8M386.3 369.7h0.8M385.2 371.4h0.8M385.7 367.2h0.8M382.6 372.6h0.8M385.2 370.6h0.8M386.4 367.6h0.8M387.0 367.3h0.8M383.2 370.4h0.8M382.7 372.7h0.8M382.9 373.0h0.8M385.8 367.4h0.8M386.1 369.5h0.8M383.7 371.2h0.8M385.0 368.8h0.8M384.9 371.6h0.8M383.1 371.2h0.8M386.2 366.9h0.8M382.9 370.0h0.8M386.4 368.3h0.8M386.8 366.1h0.8M386.9 366.9h0.8M386.1 368.0h0.8M383.0 372.2h0.8M387.2 368.0h0.8M383.7 370.0h0.8M383.6 372.4h0.8M383.9 371.7h0.8M383.9 370.7h0.8M384.5 369.2h0.8M383.3 373.1h0.8M386.4 367.9h0.8M384.5 368.2h0.8M386.5 366.1h0.8M382.7 370.6h0.8M386.4 366.6h0.8M385.9 367.4h0.8M386.4 366.3h0.8M386.5 369.6h0.8M383.5 369.7h0.8M387.1 366.8h0.8M383.9 370.4h0.8M385.9 366.9h0.8M382.7 372.3h0.8M387.2 367.5h0.8M383.8 368.7h0.8M385.6 371.1h0.8M386.5 368.9h0.8M383.7 370.3h0.8M383.9 371.7h0.8M386.5 367.1h0.8M385.1 370.4h0.8M387.0 367.6h0.8M386.8 366.7h0.8M384.3 370.0h0.8M387.2 367.7h0.8M383.8 371.3h0.8M386.8 367.5h0.8M387.0 366.2h0.8M386.5 366.9h0.8M385.6 370.3h0.8M384.9 369.2h0.8M385.9 370.1h0.8M385.4 367.9h0.8M385.5 370.7h0.8M383.2 369.4h0.8M384.1 370.3h0.8M385.0 367.1h0.8M384.8 370.4h0.8M383.3 369.9h0.8M386.5 369.2h0.8M382.6 372.3h0.8M386.8 368.5h0.8M386.1 367.8h0.8M385.3 368.7h0.8M383.7 372.3h0.8M384.4 369.9h0.8M383.5 371.7h0.8M384.9 368.8h0.8M383.8 370.2h0.8M385.8 369.4h0.8M382.6 371.0h0.8M386.3 366.5h0.8M386.9 367.2h0.8M385.9 368.7h0.8M385.9 370.8h0.8M384.8 367.9h0.8M385.5 367.6h0.8M383.5 371.6h0.8M385.9 370.2h0.8M385.9 368.4h0.8M385.6 367.9h0.8M386.4 366.5h0.8M386.9 368.7h0.8M383.0 370.7h0.8M385.4 369.1h0.8M385.2 371.1h0.8M384.1 372.0h0.8M387.1 366.0h0.8M385.5 367.0h0.8M385.5 366.9h0.8M386.4 368.6h0.8M386.5 366.6h0.8M383.9 371.3h0.8M383.7 370.2h0.8M386.0 368.6h0.8M386.2 369.3h0.8M385.4 369.2h0.8M386.8 368.2h0.8M385.4 367.4h0.8M384.6 371.8h0.8M385.8 370.2h0.8M384.9 370.9h0.8M383.7 369.8h0.8M384.1 369.3h0.8M383.6 370.7h0.8M387.4 366.8h0.8M382.9 370.8h0.8M383.4 370.9h0.8M384.4 369.6h0.8M384.2 371.9h0.8M382.5 372.3h0.8M385.7 367.4h0.8M383.7 372.7h0.8M384.4 368.5h0.8" stroke="#3fb090" stroke-width="0.8" fill="none"/>
<ellipse cx="384.5" cy="371.5" rx="2.8" ry="1.5" transform="rotate(-58 384.5 371.5)" fill="#6fd060" opacity="0.8" filter="url(#bl2)"/>
<path d="M390.7 373.2h0.8M394.4 362.2h0.8M391.6 368.1h0.8M396.1 363.3h0.8M397.8 367.2h0.8M391.3 369.2h0.8M391.3 375.1h0.8M398.9 371.1h0.8M399.1 373.0h0.8M390.3 376.4h0.8M395.0 363.5h0.8M399.9 372.8h0.8M393.3 376.4h0.8M397.4 366.1h0.8M397.3 375.5h0.8M391.5 375.8h0.8M391.5 374.6h0.8M391.9 366.4h0.8M393.6 364.7h0.8M396.0 364.1h0.8M393.2 381.5h0.8M396.1 363.9h0.8M398.5 378.0h0.8M396.6 364.6h0.8M391.0 365.5h0.8M395.1 363.3h0.8M398.4 368.9h0.8M397.1 365.4h0.8M397.0 365.4h0.8M397.7 375.9h0.8M398.2 366.6h0.8M401.2 373.6h0.8M398.8 370.1h0.8M397.2 365.3h0.8M391.3 374.6h0.8M396.9 363.4h0.8M398.4 367.6h0.8M393.7 364.4h0.8M392.3 376.8h0.8M391.5 374.3h0.8M399.1 373.2h0.8" stroke="#4060c0" stroke-width="0.8" fill="none"/>
<path d="M398.0 370.0h0.8M393.5 367.0h0.8M397.9 368.5h0.8M397.1 374.8h0.8M396.3 375.4h0.8M392.6 368.4h0.8M398.0 373.5h0.8M393.8 366.4h0.8M391.9 372.9h0.8M392.8 368.0h0.8M391.7 371.0h0.8M397.4 375.3h0.8M394.9 365.0h0.8M398.6 371.9h0.8M391.5 371.5h0.8M397.7 368.0h0.8M397.1 367.6h0.8M392.8 368.5h0.8M397.9 374.5h0.8M397.7 372.6h0.8M394.7 375.0h0.8M397.5 369.6h0.8M396.5 366.3h0.8M398.2 374.1h0.8M397.7 373.1h0.8M395.6 365.1h0.8M396.8 374.6h0.8M398.0 370.9h0.8M397.7 372.3h0.8M394.6 364.8h0.8M397.5 367.2h0.8M391.7 370.6h0.8M392.2 369.1h0.8M394.8 375.0h0.8M392.9 366.8h0.8M397.8 371.4h0.8M396.1 365.5h0.8M395.4 364.7h0.8M398.5 370.5h0.8M396.7 366.3h0.8M397.2 374.6h0.8M391.6 373.7h0.8M395.4 365.5h0.8M395.1 365.3h0.8M394.9 375.0h0.8M395.6 364.5h0.8M398.1 368.6h0.8M397.0 365.8h0.8M393.0 373.7h0.8M396.3 364.8h0.8M396.3 366.3h0.8M395.7 364.5h0.8M397.1 374.3h0.8M393.4 365.6h0.8M391.9 374.7h0.8M396.2 364.6h0.8M392.1 371.0h0.8M394.8 365.4h0.8M396.6 374.3h0.8" stroke="#3d72c8" stroke-width="0.8" fill="none"/>
<path d="M396.5 369.2h0.8M394.4 373.6h0.8M394.7 366.2h0.8M396.8 368.2h0.8M393.1 372.5h0.8M394.9 366.2h0.8M393.4 373.1h0.8M394.8 372.8h0.8M393.1 371.9h0.8M396.5 372.1h0.8M392.7 370.3h0.8M393.2 372.4h0.8M397.3 370.6h0.8M395.0 372.4h0.8M393.8 373.5h0.8M395.4 367.0h0.8M396.3 368.1h0.8M396.7 373.0h0.8M396.2 367.5h0.8M395.3 365.8h0.8M394.8 372.4h0.8M394.7 373.3h0.8M394.8 367.7h0.8M393.3 370.3h0.8M393.4 368.4h0.8M396.7 370.9h0.8M397.2 370.4h0.8M394.9 367.1h0.8M392.9 370.4h0.8M394.2 366.4h0.8M397.0 373.0h0.8M394.5 373.4h0.8M394.4 367.7h0.8M396.4 367.9h0.8M396.1 372.3h0.8M395.8 367.6h0.8M394.6 367.4h0.8M394.4 367.1h0.8M392.9 370.6h0.8M396.8 372.9h0.8M395.2 374.1h0.8M397.1 370.1h0.8M392.9 369.5h0.8" stroke="#3a86c4" stroke-width="0.8" fill="none"/>
<path d="M395.0 371.4h0.8M394.4 368.7h0.8M396.2 369.7h0.8M395.1 368.3h0.8M395.0 369.4h0.8M395.3 370.3h0.8M395.4 367.9h0.8M396.1 370.9h0.8M395.4 368.0h0.8M394.7 369.9h0.8M394.2 368.5h0.8M394.0 370.3h0.8M394.1 371.1h0.8M396.1 368.8h0.8M395.9 369.4h0.8M394.3 369.7h0.8M395.9 370.3h0.8M394.4 371.0h0.8M394.1 370.2h0.8M393.9 371.5h0.8M393.9 370.7h0.8M395.9 371.5h0.8M395.5 368.2h0.8M395.8 369.1h0.8M394.0 369.6h0.8M395.9 368.5h0.8M395.6 368.6h0.8" stroke="#3a9cb8" stroke-width="0.8" fill="none"/>
<rect x="391.5" y="325.5" width="40.0" height="59.0" fill="none" stroke="#000" stroke-width="1"/>
<text x="414.0" y="335.1" font-size="8" text-anchor="middle" fill="#0a0a0a" style="stroke-width:0.12px">ZNFX1+</text>
<text x="414.0" y="344.1" font-size="8" text-anchor="middle" fill="#0a0a0a" style="stroke-width:0.12px">13.54%</text>
<text x="485.5" y="198.0" font-size="11.5" font-weight="bold" fill="#0a0a0a">e</text>
<text x="554.1" y="205.0" font-size="10.4" fill="#0a0a0a">WT</text>
<text x="586.8" y="205.0" font-size="11" fill="#0a0a0a" style="stroke-width:0.12px"><tspan font-style="italic">Rig-I</tspan><tspan font-size="6.6" dy="-4.4" font-style="italic" style="stroke-width:0.1px">−/−</tspan></text>
<text x="628.2" y="205.0" font-size="11" fill="#0a0a0a" style="stroke-width:0.12px"><tspan font-style="italic">Mda5</tspan><tspan font-size="6.6" dy="-4.4" font-style="italic" style="stroke-width:0.1px">−/−</tspan></text>
<line x1="535.5" y1="219.7" x2="535.5" y2="290.7" stroke="#000" stroke-width="1"/>
<line x1="532.8" y1="220.5" x2="535.3" y2="220.5" stroke="#000" stroke-width="1"/>
<text x="526.8" y="223.8" font-size="10" text-anchor="end" fill="#0a0a0a">80</text>
<line x1="532.8" y1="237.5" x2="535.3" y2="237.5" stroke="#000" stroke-width="1"/>
<text x="526.8" y="241.3" font-size="10" text-anchor="end" fill="#0a0a0a">60</text>
<line x1="532.8" y1="255.5" x2="535.3" y2="255.5" stroke="#000" stroke-width="1"/>
<text x="526.8" y="258.8" font-size="10" text-anchor="end" fill="#0a0a0a">40</text>
<line x1="532.8" y1="272.5" x2="535.3" y2="272.5" stroke="#000" stroke-width="1"/>
<text x="526.8" y="276.3" font-size="10" text-anchor="end" fill="#0a0a0a">20</text>
<line x1="532.8" y1="290.5" x2="535.3" y2="290.5" stroke="#000" stroke-width="1"/>
<text x="526.8" y="293.8" font-size="10" text-anchor="end" fill="#0a0a0a">0</text>
<line x1="534.8" y1="290.5" x2="662.7" y2="290.5" stroke="#000" stroke-width="1"/>
<line x1="540.5" y1="290.2" x2="540.5" y2="294.7" stroke="#000" stroke-width="1"/>
<line x1="551.5" y1="290.2" x2="551.5" y2="294.7" stroke="#000" stroke-width="1"/>
<line x1="561.5" y1="290.2" x2="561.5" y2="294.7" stroke="#000" stroke-width="1"/>
<line x1="571.5" y1="290.2" x2="571.5" y2="294.7" stroke="#000" stroke-width="1"/>
<line x1="583.5" y1="290.2" x2="583.5" y2="294.7" stroke="#000" stroke-width="1"/>
<line x1="593.5" y1="290.2" x2="593.5" y2="294.7" stroke="#000" stroke-width="1"/>
<line x1="604.5" y1="290.2" x2="604.5" y2="294.7" stroke="#000" stroke-width="1"/>
<line x1="614.5" y1="290.2" x2="614.5" y2="294.7" stroke="#000" stroke-width="1"/>
<line x1="625.5" y1="290.2" x2="625.5" y2="294.7" stroke="#000" stroke-width="1"/>
<line x1="635.5" y1="290.2" x2="635.5" y2="294.7" stroke="#000" stroke-width="1"/>
<line x1="646.5" y1="290.2" x2="646.5" y2="294.7" stroke="#000" stroke-width="1"/>
<line x1="656.5" y1="290.2" x2="656.5" y2="294.7" stroke="#000" stroke-width="1"/>
<circle cx="538.2" cy="290.0" r="1.0" fill="#fff" stroke="#000" stroke-width="0.75"/>
<circle cx="540.8" cy="290.0" r="1.0" fill="#fff" stroke="#000" stroke-width="0.75"/>
<circle cx="543.4" cy="290.0" r="1.0" fill="#fff" stroke="#000" stroke-width="0.75"/>
<rect x="546.5" y="254.5" width="9.0" height="36.0" fill="#000" stroke="#000" stroke-width="1.0"/>
<line x1="551.1" y1="253.5" x2="551.1" y2="254.1" stroke="#000" stroke-width="0.8"/>
<line x1="549.1" y1="253.5" x2="553.1" y2="253.5" stroke="#000" stroke-width="0.8"/>
<circle cx="548.8" cy="253.6" r="1.0" fill="none" stroke="#fff" stroke-width="0.65"/>
<circle cx="551.1" cy="254.1" r="1.0" fill="none" stroke="#fff" stroke-width="0.65"/>
<circle cx="553.5" cy="254.6" r="1.0" fill="none" stroke="#fff" stroke-width="0.65"/>
<rect x="557.5" y="285.5" width="8.0" height="5.0" fill="#000" stroke="#000" stroke-width="1.0"/>
<line x1="561.5" y1="283.8" x2="561.5" y2="284.8" stroke="#000" stroke-width="0.8"/>
<line x1="559.5" y1="283.8" x2="563.5" y2="283.8" stroke="#000" stroke-width="0.8"/>
<circle cx="559.1" cy="284.0" r="1.0" fill="none" stroke="#fff" stroke-width="0.65"/>
<circle cx="561.5" cy="284.8" r="1.0" fill="none" stroke="#fff" stroke-width="0.65"/>
<circle cx="563.9" cy="285.6" r="1.0" fill="none" stroke="#fff" stroke-width="0.65"/>
<rect x="567.5" y="286.5" width="9.0" height="4.0" fill="#000" stroke="#000" stroke-width="1.0"/>
<line x1="571.8" y1="285.2" x2="571.8" y2="286.0" stroke="#000" stroke-width="0.8"/>
<line x1="569.8" y1="285.2" x2="573.8" y2="285.2" stroke="#000" stroke-width="0.8"/>
<circle cx="569.4" cy="285.4" r="1.0" fill="none" stroke="#fff" stroke-width="0.65"/>
<circle cx="571.8" cy="286.0" r="1.0" fill="none" stroke="#fff" stroke-width="0.65"/>
<circle cx="574.2" cy="286.6" r="1.0" fill="none" stroke="#fff" stroke-width="0.65"/>
<circle cx="580.7" cy="290.0" r="1.0" fill="#fff" stroke="#000" stroke-width="0.75"/>
<circle cx="583.3" cy="290.0" r="1.0" fill="#fff" stroke="#000" stroke-width="0.75"/>
<circle cx="585.9" cy="290.0" r="1.0" fill="#fff" stroke="#000" stroke-width="0.75"/>
<rect x="589.5" y="237.5" width="9.0" height="53.0" fill="#c8c8c8" stroke="#000" stroke-width="1.0"/>
<line x1="593.6" y1="235.5" x2="593.6" y2="238.5" stroke="#000" stroke-width="0.8"/>
<line x1="591.6" y1="235.5" x2="595.6" y2="235.5" stroke="#000" stroke-width="0.8"/>
<line x1="591.6" y1="238.5" x2="595.6" y2="238.5" stroke="#000" stroke-width="0.8"/>
<circle cx="591.2" cy="235.8" r="1.0" fill="none" stroke="#222" stroke-width="0.65"/>
<circle cx="593.6" cy="237.0" r="1.0" fill="none" stroke="#222" stroke-width="0.65"/>
<circle cx="596.0" cy="238.2" r="1.0" fill="none" stroke="#222" stroke-width="0.65"/>
<rect x="599.5" y="263.5" width="9.0" height="27.0" fill="#c8c8c8" stroke="#000" stroke-width="1.0"/>
<line x1="604.0" y1="261.7" x2="604.0" y2="263.3" stroke="#000" stroke-width="0.8"/>
<line x1="602.0" y1="261.7" x2="606.0" y2="261.7" stroke="#000" stroke-width="0.8"/>
<line x1="602.0" y1="263.3" x2="606.0" y2="263.3" stroke="#000" stroke-width="0.8"/>
<circle cx="601.6" cy="261.9" r="1.0" fill="none" stroke="#222" stroke-width="0.65"/>
<circle cx="604.0" cy="262.5" r="1.0" fill="none" stroke="#222" stroke-width="0.65"/>
<circle cx="606.4" cy="263.1" r="1.0" fill="none" stroke="#222" stroke-width="0.65"/>
<rect x="609.5" y="245.5" width="9.0" height="45.0" fill="#c8c8c8" stroke="#000" stroke-width="1.0"/>
<line x1="614.3" y1="243.6" x2="614.3" y2="245.6" stroke="#000" stroke-width="0.8"/>
<line x1="612.3" y1="243.6" x2="616.3" y2="243.6" stroke="#000" stroke-width="0.8"/>
<line x1="612.3" y1="245.6" x2="616.3" y2="245.6" stroke="#000" stroke-width="0.8"/>
<circle cx="611.9" cy="243.8" r="1.0" fill="none" stroke="#222" stroke-width="0.65"/>
<circle cx="614.3" cy="244.6" r="1.0" fill="none" stroke="#222" stroke-width="0.65"/>
<circle cx="616.7" cy="245.4" r="1.0" fill="none" stroke="#222" stroke-width="0.65"/>
<circle cx="623.0" cy="290.0" r="1.0" fill="#fff" stroke="#000" stroke-width="0.75"/>
<circle cx="625.6" cy="290.0" r="1.0" fill="#fff" stroke="#000" stroke-width="0.75"/>
<circle cx="628.2" cy="290.0" r="1.0" fill="#fff" stroke="#000" stroke-width="0.75"/>
<rect x="631.5" y="238.5" width="9.0" height="52.0" fill="#fff" stroke="#000" stroke-width="1.0"/>
<line x1="636.0" y1="235.1" x2="636.0" y2="240.1" stroke="#000" stroke-width="0.8"/>
<line x1="634.0" y1="235.1" x2="638.0" y2="235.1" stroke="#000" stroke-width="0.8"/>
<line x1="634.0" y1="240.1" x2="638.0" y2="240.1" stroke="#000" stroke-width="0.8"/>
<circle cx="633.6" cy="235.6" r="1.0" fill="none" stroke="#222" stroke-width="0.65"/>
<circle cx="636.0" cy="237.6" r="1.0" fill="none" stroke="#222" stroke-width="0.65"/>
<circle cx="638.4" cy="239.6" r="1.0" fill="none" stroke="#222" stroke-width="0.65"/>
<rect x="641.5" y="273.5" width="9.0" height="17.0" fill="#fff" stroke="#000" stroke-width="1.0"/>
<line x1="646.3" y1="270.3" x2="646.3" y2="275.3" stroke="#000" stroke-width="0.8"/>
<line x1="644.3" y1="270.3" x2="648.3" y2="270.3" stroke="#000" stroke-width="0.8"/>
<line x1="644.3" y1="275.3" x2="648.3" y2="275.3" stroke="#000" stroke-width="0.8"/>
<circle cx="643.9" cy="270.8" r="1.0" fill="none" stroke="#222" stroke-width="0.65"/>
<circle cx="646.3" cy="272.8" r="1.0" fill="none" stroke="#222" stroke-width="0.65"/>
<circle cx="648.7" cy="274.8" r="1.0" fill="none" stroke="#222" stroke-width="0.65"/>
<rect x="652.5" y="279.5" width="9.0" height="11.0" fill="#fff" stroke="#000" stroke-width="1.0"/>
<line x1="656.6" y1="277.7" x2="656.6" y2="279.3" stroke="#000" stroke-width="0.8"/>
<line x1="654.6" y1="277.7" x2="658.6" y2="277.7" stroke="#000" stroke-width="0.8"/>
<line x1="654.6" y1="279.3" x2="658.6" y2="279.3" stroke="#000" stroke-width="0.8"/>
<circle cx="654.2" cy="277.9" r="1.0" fill="none" stroke="#222" stroke-width="0.65"/>
<circle cx="656.6" cy="278.5" r="1.0" fill="none" stroke="#222" stroke-width="0.65"/>
<circle cx="659.0" cy="279.1" r="1.0" fill="none" stroke="#222" stroke-width="0.65"/>
<text x="526.5" y="307.0" font-size="10" text-anchor="end" fill="#0a0a0a">EV</text>
<text x="526.5" y="320.9" font-size="10" text-anchor="end" fill="#0a0a0a">ZNFX1</text>
<text x="526.5" y="334.0" font-size="10" text-anchor="end" fill="#0a0a0a">RIG-I</text>
<text x="526.5" y="346.6" font-size="10" text-anchor="end" fill="#0a0a0a">MDA5</text>
<text x="540.8" y="306.3" font-size="10" text-anchor="middle" fill="#0a0a0a">+</text>
<text x="551.1" y="306.3" font-size="10" text-anchor="middle" fill="#0a0a0a">+</text>
<text x="571.8" y="320.1" font-size="10" text-anchor="middle" fill="#0a0a0a">+</text>
<text x="583.3" y="306.3" font-size="10" text-anchor="middle" fill="#0a0a0a">+</text>
<text x="593.6" y="306.3" font-size="10" text-anchor="middle" fill="#0a0a0a">+</text>
<text x="614.3" y="320.1" font-size="10" text-anchor="middle" fill="#0a0a0a">+</text>
<text x="625.6" y="306.3" font-size="10" text-anchor="middle" fill="#0a0a0a">+</text>
<text x="636.0" y="306.3" font-size="10" text-anchor="middle" fill="#0a0a0a">+</text>
<text x="656.6" y="320.1" font-size="10" text-anchor="middle" fill="#0a0a0a">+</text>
<text x="561.6" y="333.3" font-size="10" text-anchor="middle" fill="#0a0a0a">+</text>
<text x="603.9" y="333.3" font-size="10" text-anchor="middle" fill="#0a0a0a">+</text>
<text x="646.3" y="345.9" font-size="10" text-anchor="middle" fill="#0a0a0a">+</text>
<line x1="547.9" y1="349.5" x2="576.3" y2="349.5" stroke="#000" stroke-width="1"/>
<text x="561.3" y="359.5" font-size="8" text-anchor="middle" fill="#0a0a0a" style="stroke-width:0.12px">VSV-eGFP</text>
<line x1="590.1" y1="349.5" x2="619.5" y2="349.5" stroke="#000" stroke-width="1"/>
<text x="604.6" y="359.5" font-size="8" text-anchor="middle" fill="#0a0a0a" style="stroke-width:0.12px">VSV-eGFP</text>
<line x1="632.6" y1="349.5" x2="662.7" y2="349.5" stroke="#000" stroke-width="1"/>
<text x="647.1" y="359.5" font-size="8" text-anchor="middle" fill="#0a0a0a" style="stroke-width:0.12px">VSV-eGFP</text>
<text x="536.5" y="236.9" font-size="8.1" fill="#1c1c1c" style="stroke-width:0.12px"><tspan font-style="italic">P</tspan> = 2.93 × 10<tspan font-size="4.9" dy="-3.6">−6</tspan></text>
<line x1="552.1" y1="240.5" x2="571.0" y2="240.5" stroke="#000" stroke-width="1"/>
<text x="583.0" y="222.3" font-size="8.1" fill="#1c1c1c" style="stroke-width:0.12px"><tspan font-style="italic">P</tspan> = 0.0097</text>
<line x1="593.0" y1="224.5" x2="613.2" y2="224.5" stroke="#000" stroke-width="1"/>
<text x="627.0" y="222.3" font-size="8.1" fill="#1c1c1c" style="stroke-width:0.12px"><tspan font-style="italic">P</tspan> = 1.03 × 10<tspan font-size="4.9" dy="-3.6">−5</tspan></text>
<line x1="636.0" y1="224.5" x2="656.0" y2="224.5" stroke="#000" stroke-width="1"/>
<text x="495" y="255" font-size="10.5" text-anchor="middle" transform="rotate(-90 495 255)" fill="#0a0a0a">VSV-GFP<tspan font-size="5.8" dy="-3.2">+</tspan></text>
<text x="507.1" y="255.0" font-size="10.7" text-anchor="middle" transform="rotate(-90 507.1 255.0)" fill="#0a0a0a">(% of total)</text>
<text x="208.3" y="433.0" font-size="11.5" font-weight="bold" fill="#0a0a0a">g</text>
<line x1="247.5" y1="452.9" x2="247.5" y2="523.5" stroke="#000" stroke-width="1"/>
<line x1="245.2" y1="453.5" x2="247.7" y2="453.5" stroke="#000" stroke-width="1"/>
<text x="239.2" y="457.0" font-size="10" text-anchor="end" fill="#0a0a0a">15</text>
<line x1="245.2" y1="477.5" x2="247.7" y2="477.5" stroke="#000" stroke-width="1"/>
<text x="239.2" y="480.9" font-size="10" text-anchor="end" fill="#0a0a0a">10</text>
<line x1="245.2" y1="500.5" x2="247.7" y2="500.5" stroke="#000" stroke-width="1"/>
<text x="239.2" y="504.0" font-size="10" text-anchor="end" fill="#0a0a0a">5</text>
<line x1="245.2" y1="523.5" x2="247.7" y2="523.5" stroke="#000" stroke-width="1"/>
<text x="239.2" y="526.6" font-size="10" text-anchor="end" fill="#0a0a0a">0</text>
<line x1="247.2" y1="523.5" x2="292.0" y2="523.5" stroke="#000" stroke-width="1"/>
<line x1="253.5" y1="523.0" x2="253.5" y2="527.5" stroke="#000" stroke-width="1"/>
<line x1="264.5" y1="523.0" x2="264.5" y2="527.5" stroke="#000" stroke-width="1"/>
<line x1="275.5" y1="523.0" x2="275.5" y2="527.5" stroke="#000" stroke-width="1"/>
<line x1="286.5" y1="523.0" x2="286.5" y2="527.5" stroke="#000" stroke-width="1"/>
<rect x="248.5" y="519.5" width="10.0" height="4.0" fill="#fff" stroke="#000" stroke-width="1.0"/>
<circle cx="250.9" cy="518.7" r="1.0" fill="none" stroke="#222" stroke-width="0.65"/>
<circle cx="253.3" cy="518.7" r="1.0" fill="none" stroke="#222" stroke-width="0.65"/>
<circle cx="255.7" cy="518.7" r="1.0" fill="none" stroke="#222" stroke-width="0.65"/>
<rect x="259.5" y="514.5" width="10.0" height="9.0" fill="#fff" stroke="#000" stroke-width="1.0"/>
<line x1="264.4" y1="512.7" x2="264.4" y2="515.7" stroke="#000" stroke-width="0.8"/>
<line x1="262.4" y1="512.7" x2="266.4" y2="512.7" stroke="#000" stroke-width="0.8"/>
<line x1="262.4" y1="515.7" x2="266.4" y2="515.7" stroke="#000" stroke-width="0.8"/>
<circle cx="262.0" cy="513.0" r="1.0" fill="none" stroke="#222" stroke-width="0.65"/>
<circle cx="264.4" cy="514.2" r="1.0" fill="none" stroke="#222" stroke-width="0.65"/>
<circle cx="266.8" cy="515.4" r="1.0" fill="none" stroke="#222" stroke-width="0.65"/>
<rect x="270.5" y="507.5" width="10.0" height="16.0" fill="#000" stroke="#000" stroke-width="1.0"/>
<line x1="275.4" y1="504.7" x2="275.4" y2="507.2" stroke="#000" stroke-width="0.8"/>
<line x1="273.4" y1="504.7" x2="277.4" y2="504.7" stroke="#000" stroke-width="0.8"/>
<circle cx="273.0" cy="505.2" r="1.0" fill="none" stroke="#fff" stroke-width="0.65"/>
<circle cx="275.4" cy="507.2" r="1.0" fill="none" stroke="#fff" stroke-width="0.65"/>
<circle cx="277.8" cy="509.2" r="1.0" fill="none" stroke="#fff" stroke-width="0.65"/>
<rect x="281.5" y="469.5" width="10.0" height="54.0" fill="#000" stroke="#000" stroke-width="1.0"/>
<line x1="286.5" y1="465.0" x2="286.5" y2="469.0" stroke="#000" stroke-width="1"/>
<line x1="284.2" y1="465.5" x2="289.1" y2="465.5" stroke="#000" stroke-width="1"/>
<path d="M284.8 465.6l1.6 -2.6l1.6 2.6z" fill="#fff" stroke="#000" stroke-width="0.7"/>
<circle cx="284.8" cy="472.0" r="1.0" fill="none" stroke="#fff" stroke-width="0.7"/>
<circle cx="288.2" cy="470.4" r="1.0" fill="none" stroke="#fff" stroke-width="0.7"/>
<text x="237.7" y="539.8" font-size="10" text-anchor="end" fill="#0a0a0a">EV</text>
<text x="237.7" y="553.7" font-size="10" text-anchor="end" fill="#0a0a0a">ZNFX1</text>
<text x="253.4" y="540.3" font-size="10" text-anchor="middle" fill="#0a0a0a">+</text>
<text x="275.4" y="540.3" font-size="10" text-anchor="middle" fill="#0a0a0a">+</text>
<text x="264.4" y="554.2" font-size="10" text-anchor="middle" fill="#0a0a0a">+</text>
<text x="286.4" y="554.2" font-size="10" text-anchor="middle" fill="#0a0a0a">+</text>
<line x1="269.6" y1="556.5" x2="292.7" y2="556.5" stroke="#000" stroke-width="1"/>
<text x="280.4" y="568.9" font-size="10.2" text-anchor="middle" fill="#0a0a0a">VSV</text>
<text x="218.2" y="489.0" font-size="10" text-anchor="middle" transform="rotate(-90 218.2 489.0)" fill="#0a0a0a">Rel. mRNA of <tspan font-style="italic">Ifnb1</tspan></text>
<text x="264.0" y="439.3" font-size="10.5" font-style="italic" fill="#0a0a0a">DKO</text>
<text x="261.6" y="458.1" font-size="8.1" fill="#1c1c1c" style="stroke-width:0.12px"><tspan font-style="italic">P</tspan> = 0.0003</text>
<line x1="275.4" y1="460.5" x2="287.2" y2="460.5" stroke="#000" stroke-width="1"/>
<line x1="350.5" y1="452.9" x2="350.5" y2="523.5" stroke="#000" stroke-width="1"/>
<line x1="348.3" y1="453.5" x2="350.8" y2="453.5" stroke="#000" stroke-width="1"/>
<text x="342.3" y="457.0" font-size="10" text-anchor="end" fill="#0a0a0a">6</text>
<line x1="348.3" y1="477.5" x2="350.8" y2="477.5" stroke="#000" stroke-width="1"/>
<text x="342.3" y="480.9" font-size="10" text-anchor="end" fill="#0a0a0a">4</text>
<line x1="348.3" y1="500.5" x2="350.8" y2="500.5" stroke="#000" stroke-width="1"/>
<text x="342.3" y="504.0" font-size="10" text-anchor="end" fill="#0a0a0a">2</text>
<line x1="348.3" y1="523.5" x2="350.8" y2="523.5" stroke="#000" stroke-width="1"/>
<text x="342.3" y="526.6" font-size="10" text-anchor="end" fill="#0a0a0a">0</text>
<line x1="350.3" y1="523.5" x2="395.1" y2="523.5" stroke="#000" stroke-width="1"/>
<line x1="356.5" y1="523.0" x2="356.5" y2="527.5" stroke="#000" stroke-width="1"/>
<line x1="367.5" y1="523.0" x2="367.5" y2="527.5" stroke="#000" stroke-width="1"/>
<line x1="378.5" y1="523.0" x2="378.5" y2="527.5" stroke="#000" stroke-width="1"/>
<line x1="389.5" y1="523.0" x2="389.5" y2="527.5" stroke="#000" stroke-width="1"/>
<rect x="351.5" y="511.5" width="10.0" height="12.0" fill="#fff" stroke="#000" stroke-width="1.0"/>
<circle cx="354.1" cy="510.5" r="1.0" fill="none" stroke="#222" stroke-width="0.65"/>
<circle cx="356.5" cy="510.5" r="1.0" fill="none" stroke="#222" stroke-width="0.65"/>
<circle cx="358.9" cy="510.5" r="1.0" fill="none" stroke="#222" stroke-width="0.65"/>
<rect x="362.5" y="506.5" width="10.0" height="17.0" fill="#fff" stroke="#000" stroke-width="1.0"/>
<line x1="367.5" y1="499.3" x2="367.5" y2="513.3" stroke="#000" stroke-width="1"/>
<line x1="365.3" y1="499.5" x2="370.2" y2="499.5" stroke="#000" stroke-width="1"/>
<line x1="365.3" y1="513.5" x2="370.2" y2="513.5" stroke="#000" stroke-width="1"/>
<path d="M365.9 499.9l1.6 -2.6l1.6 2.6z" fill="#fff" stroke="#000" stroke-width="0.7"/>
<circle cx="365.9" cy="511.6" r="1.0" fill="none" stroke="#222" stroke-width="0.7"/>
<circle cx="369.3" cy="508.8" r="1.0" fill="none" stroke="#222" stroke-width="0.7"/>
<rect x="373.5" y="495.5" width="10.0" height="28.0" fill="#000" stroke="#000" stroke-width="1.0"/>
<line x1="378.5" y1="491.2" x2="378.5" y2="495.2" stroke="#000" stroke-width="1"/>
<line x1="376.3" y1="491.5" x2="381.2" y2="491.5" stroke="#000" stroke-width="1"/>
<path d="M376.9 491.8l1.6 -2.6l1.6 2.6z" fill="#fff" stroke="#000" stroke-width="0.7"/>
<circle cx="376.9" cy="498.2" r="1.0" fill="none" stroke="#fff" stroke-width="0.7"/>
<circle cx="380.3" cy="496.6" r="1.0" fill="none" stroke="#fff" stroke-width="0.7"/>
<rect x="384.5" y="466.5" width="10.0" height="57.0" fill="#000" stroke="#000" stroke-width="1.0"/>
<line x1="389.5" y1="461.0" x2="389.5" y2="466.0" stroke="#000" stroke-width="1"/>
<line x1="387.3" y1="461.5" x2="392.2" y2="461.5" stroke="#000" stroke-width="1"/>
<path d="M387.9 461.6l1.6 -2.6l1.6 2.6z" fill="#fff" stroke="#000" stroke-width="0.7"/>
<circle cx="387.9" cy="469.8" r="1.0" fill="none" stroke="#fff" stroke-width="0.7"/>
<circle cx="391.3" cy="467.8" r="1.0" fill="none" stroke="#fff" stroke-width="0.7"/>
<text x="340.3" y="539.8" font-size="10" text-anchor="end" fill="#0a0a0a">EV</text>
<text x="340.3" y="553.7" font-size="10" text-anchor="end" fill="#0a0a0a">ZNFX1</text>
<text x="356.5" y="540.3" font-size="10" text-anchor="middle" fill="#0a0a0a">+</text>
<text x="378.5" y="540.3" font-size="10" text-anchor="middle" fill="#0a0a0a">+</text>
<text x="367.5" y="554.2" font-size="10" text-anchor="middle" fill="#0a0a0a">+</text>
<text x="389.5" y="554.2" font-size="10" text-anchor="middle" fill="#0a0a0a">+</text>
<line x1="372.7" y1="556.5" x2="395.8" y2="556.5" stroke="#000" stroke-width="1"/>
<text x="383.5" y="568.9" font-size="10.2" text-anchor="middle" fill="#0a0a0a">VSV</text>
<text x="329.2" y="489.0" font-size="10" text-anchor="middle" transform="rotate(-90 329.2 489.0)" fill="#0a0a0a">Rel. mRNA of <tspan font-style="italic">Ifit1</tspan></text>
<text x="368.2" y="439.3" font-size="10.5" font-style="italic" fill="#0a0a0a">DKO</text>
<text x="365.4" y="451.6" font-size="8.1" fill="#1c1c1c" style="stroke-width:0.12px"><tspan font-style="italic">P</tspan> = 0.0030</text>
<line x1="379.3" y1="454.5" x2="391.9" y2="454.5" stroke="#000" stroke-width="1"/>
<text x="416.9" y="433.0" font-size="11.5" font-weight="bold" fill="#0a0a0a">h</text>
<line x1="478.5" y1="452.9" x2="478.5" y2="524.1" stroke="#000" stroke-width="1"/>
<line x1="474.4" y1="453.5" x2="478.0" y2="453.5" stroke="#000" stroke-width="1"/>
<text x="469.8" y="457.5" font-size="10" text-anchor="end" fill="#0a0a0a">100,000</text>
<line x1="474.4" y1="465.5" x2="478.0" y2="465.5" stroke="#000" stroke-width="1"/>
<text x="469.8" y="469.1" font-size="10" text-anchor="end" fill="#0a0a0a">10,000</text>
<line x1="474.4" y1="477.5" x2="478.0" y2="477.5" stroke="#000" stroke-width="1"/>
<text x="469.8" y="480.8" font-size="10" text-anchor="end" fill="#0a0a0a">1,000</text>
<line x1="474.4" y1="488.5" x2="478.0" y2="488.5" stroke="#000" stroke-width="1"/>
<text x="469.8" y="492.4" font-size="10" text-anchor="end" fill="#0a0a0a">100</text>
<line x1="474.4" y1="500.5" x2="478.0" y2="500.5" stroke="#000" stroke-width="1"/>
<text x="469.8" y="504.0" font-size="10" text-anchor="end" fill="#0a0a0a">10</text>
<line x1="474.4" y1="512.5" x2="478.0" y2="512.5" stroke="#000" stroke-width="1"/>
<text x="469.8" y="515.6" font-size="10" text-anchor="end" fill="#0a0a0a">1</text>
<line x1="474.4" y1="523.5" x2="478.0" y2="523.5" stroke="#000" stroke-width="1"/>
<text x="469.8" y="527.2" font-size="10" text-anchor="end" fill="#0a0a0a">0.1</text>
<path d="M475.4 462.0h2.6M475.4 460.0h2.6M475.4 458.5h2.6M475.4 457.4h2.6M475.4 456.5h2.6M475.4 455.7h2.6M475.4 455.0h2.6M475.4 454.4h2.6M475.4 473.7h2.6M475.4 471.7h2.6M475.4 470.2h2.6M475.4 469.1h2.6M475.4 468.2h2.6M475.4 467.4h2.6M475.4 466.7h2.6M475.4 466.1h2.6M475.4 485.3h2.6M475.4 483.3h2.6M475.4 481.8h2.6M475.4 480.7h2.6M475.4 479.8h2.6M475.4 479.0h2.6M475.4 478.3h2.6M475.4 477.7h2.6M475.4 496.9h2.6M475.4 494.9h2.6M475.4 493.4h2.6M475.4 492.3h2.6M475.4 491.4h2.6M475.4 490.6h2.6M475.4 489.9h2.6M475.4 489.3h2.6M475.4 508.5h2.6M475.4 506.5h2.6M475.4 505.0h2.6M475.4 503.9h2.6M475.4 503.0h2.6M475.4 502.2h2.6M475.4 501.5h2.6M475.4 500.9h2.6M475.4 520.1h2.6M475.4 518.1h2.6M475.4 516.6h2.6M475.4 515.5h2.6M475.4 514.6h2.6M475.4 513.8h2.6M475.4 513.1h2.6M475.4 512.5h2.6" stroke="#000" stroke-width="0.85" fill="none"/>
<line x1="477.5" y1="523.5" x2="547.5" y2="523.5" stroke="#000" stroke-width="1"/>
<line x1="485.5" y1="523.6" x2="485.5" y2="528.1" stroke="#000" stroke-width="1"/>
<line x1="496.5" y1="523.6" x2="496.5" y2="528.1" stroke="#000" stroke-width="1"/>
<line x1="508.5" y1="523.6" x2="508.5" y2="528.1" stroke="#000" stroke-width="1"/>
<line x1="519.5" y1="523.6" x2="519.5" y2="528.1" stroke="#000" stroke-width="1"/>
<line x1="530.5" y1="523.6" x2="530.5" y2="528.1" stroke="#000" stroke-width="1"/>
<line x1="542.5" y1="523.6" x2="542.5" y2="528.1" stroke="#000" stroke-width="1"/>
<rect x="480.5" y="512.5" width="10.0" height="11.0" fill="#fff" stroke="#000" stroke-width="1.0"/>
<line x1="485.5" y1="511.4" x2="485.5" y2="512.4" stroke="#000" stroke-width="0.8"/>
<line x1="483.5" y1="511.4" x2="487.5" y2="511.4" stroke="#000" stroke-width="0.8"/>
<line x1="483.5" y1="512.4" x2="487.5" y2="512.4" stroke="#000" stroke-width="0.8"/>
<circle cx="483.1" cy="511.5" r="1.0" fill="none" stroke="#222" stroke-width="0.65"/>
<circle cx="485.5" cy="511.9" r="1.0" fill="none" stroke="#222" stroke-width="0.65"/>
<circle cx="487.9" cy="512.3" r="1.0" fill="none" stroke="#222" stroke-width="0.65"/>
<rect x="492.5" y="507.5" width="9.0" height="16.0" fill="#fff" stroke="#000" stroke-width="1.0"/>
<line x1="496.8" y1="505.4" x2="496.8" y2="508.4" stroke="#000" stroke-width="0.8"/>
<line x1="494.8" y1="505.4" x2="498.8" y2="505.4" stroke="#000" stroke-width="0.8"/>
<line x1="494.8" y1="508.4" x2="498.8" y2="508.4" stroke="#000" stroke-width="0.8"/>
<circle cx="494.4" cy="505.7" r="1.0" fill="none" stroke="#222" stroke-width="0.65"/>
<circle cx="496.8" cy="506.9" r="1.0" fill="none" stroke="#222" stroke-width="0.65"/>
<circle cx="499.2" cy="508.1" r="1.0" fill="none" stroke="#222" stroke-width="0.65"/>
<rect x="503.5" y="492.5" width="9.0" height="31.0" fill="#fff" stroke="#000" stroke-width="1.0"/>
<line x1="508.1" y1="491.2" x2="508.1" y2="492.4" stroke="#000" stroke-width="0.8"/>
<line x1="506.1" y1="491.2" x2="510.1" y2="491.2" stroke="#000" stroke-width="0.8"/>
<line x1="506.1" y1="492.4" x2="510.1" y2="492.4" stroke="#000" stroke-width="0.8"/>
<circle cx="505.7" cy="491.3" r="1.0" fill="none" stroke="#222" stroke-width="0.65"/>
<circle cx="508.1" cy="491.8" r="1.0" fill="none" stroke="#222" stroke-width="0.65"/>
<circle cx="510.5" cy="492.3" r="1.0" fill="none" stroke="#222" stroke-width="0.65"/>
<rect x="514.5" y="473.5" width="10.0" height="50.0" fill="#000" stroke="#000" stroke-width="1.0"/>
<line x1="519.4" y1="472.4" x2="519.4" y2="472.9" stroke="#000" stroke-width="0.8"/>
<line x1="517.4" y1="472.4" x2="521.4" y2="472.4" stroke="#000" stroke-width="0.8"/>
<circle cx="517.0" cy="472.5" r="1.0" fill="none" stroke="#fff" stroke-width="0.65"/>
<circle cx="519.4" cy="472.9" r="1.0" fill="none" stroke="#fff" stroke-width="0.65"/>
<circle cx="521.8" cy="473.3" r="1.0" fill="none" stroke="#fff" stroke-width="0.65"/>
<rect x="526.5" y="469.5" width="9.0" height="54.0" fill="#000" stroke="#000" stroke-width="1.0"/>
<line x1="530.7" y1="468.9" x2="530.7" y2="469.4" stroke="#000" stroke-width="0.8"/>
<line x1="528.7" y1="468.9" x2="532.7" y2="468.9" stroke="#000" stroke-width="0.8"/>
<circle cx="528.3" cy="469.0" r="1.0" fill="none" stroke="#fff" stroke-width="0.65"/>
<circle cx="530.7" cy="469.4" r="1.0" fill="none" stroke="#fff" stroke-width="0.65"/>
<circle cx="533.1" cy="469.8" r="1.0" fill="none" stroke="#fff" stroke-width="0.65"/>
<rect x="537.5" y="462.5" width="9.0" height="61.0" fill="#000" stroke="#000" stroke-width="1.0"/>
<line x1="542.0" y1="461.7" x2="542.0" y2="462.2" stroke="#000" stroke-width="0.8"/>
<line x1="540.0" y1="461.7" x2="544.0" y2="461.7" stroke="#000" stroke-width="0.8"/>
<circle cx="539.6" cy="461.8" r="1.0" fill="none" stroke="#fff" stroke-width="0.65"/>
<circle cx="542.0" cy="462.2" r="1.0" fill="none" stroke="#fff" stroke-width="0.65"/>
<circle cx="544.4" cy="462.6" r="1.0" fill="none" stroke="#fff" stroke-width="0.65"/>
<text x="469.8" y="537.0" font-size="10" text-anchor="end" fill="#0a0a0a">EV</text>
<text x="469.8" y="549.3" font-size="10" text-anchor="end" fill="#0a0a0a">ZNFX1</text>
<text x="469.8" y="561.1" font-size="10" text-anchor="end" fill="#0a0a0a">RIG-I</text>
<text x="485.5" y="537.7" font-size="10" text-anchor="middle" fill="#0a0a0a">+</text>
<text x="496.8" y="550.0" font-size="10" text-anchor="middle" fill="#0a0a0a">+</text>
<text x="508.1" y="561.8" font-size="10" text-anchor="middle" fill="#0a0a0a">+</text>
<text x="519.4" y="537.7" font-size="10" text-anchor="middle" fill="#0a0a0a">+</text>
<text x="530.7" y="550.0" font-size="10" text-anchor="middle" fill="#0a0a0a">+</text>
<text x="542.0" y="561.8" font-size="10" text-anchor="middle" fill="#0a0a0a">+</text>
<line x1="517.9" y1="564.5" x2="549.5" y2="564.5" stroke="#000" stroke-width="1"/>
<text x="533.7" y="576.8" font-size="10.5" text-anchor="middle" fill="#0a0a0a">Poly(I:C)</text>
<text x="425.3" y="487.5" font-size="10" text-anchor="middle" transform="rotate(-90 425.3 487.5)" fill="#0a0a0a">Rel. mRNA of <tspan font-style="italic">Ifnb1</tspan></text>
<text x="503.5" y="439.1" font-size="10.5" font-style="italic" fill="#0a0a0a">DKO</text>
<text x="506.0" y="456.3" font-size="8.1" fill="#1c1c1c" style="stroke-width:0.12px"><tspan font-style="italic">P</tspan> = 0.0004</text>
<line x1="520.2" y1="459.5" x2="530.5" y2="459.5" stroke="#000" stroke-width="1"/>
<line x1="615.5" y1="452.9" x2="615.5" y2="524.1" stroke="#000" stroke-width="1"/>
<line x1="611.9" y1="453.5" x2="615.5" y2="453.5" stroke="#000" stroke-width="1"/>
<text x="607.9" y="457.5" font-size="10" text-anchor="end" fill="#0a0a0a">1,000</text>
<line x1="611.9" y1="471.5" x2="615.5" y2="471.5" stroke="#000" stroke-width="1"/>
<text x="607.9" y="474.9" font-size="10" text-anchor="end" fill="#0a0a0a">100</text>
<line x1="611.9" y1="488.5" x2="615.5" y2="488.5" stroke="#000" stroke-width="1"/>
<text x="607.9" y="492.4" font-size="10" text-anchor="end" fill="#0a0a0a">10</text>
<line x1="611.9" y1="506.5" x2="615.5" y2="506.5" stroke="#000" stroke-width="1"/>
<text x="607.9" y="509.8" font-size="10" text-anchor="end" fill="#0a0a0a">1</text>
<line x1="611.9" y1="523.5" x2="615.5" y2="523.5" stroke="#000" stroke-width="1"/>
<text x="607.9" y="527.2" font-size="10" text-anchor="end" fill="#0a0a0a">0.1</text>
<path d="M612.9 466.1h2.6M612.9 463.0h2.6M612.9 460.8h2.6M612.9 459.1h2.6M612.9 457.8h2.6M612.9 456.6h2.6M612.9 455.6h2.6M612.9 454.7h2.6M612.9 483.6h2.6M612.9 480.5h2.6M612.9 478.3h2.6M612.9 476.6h2.6M612.9 475.3h2.6M612.9 474.1h2.6M612.9 473.1h2.6M612.9 472.2h2.6M612.9 501.0h2.6M612.9 497.9h2.6M612.9 495.7h2.6M612.9 494.0h2.6M612.9 492.7h2.6M612.9 491.5h2.6M612.9 490.5h2.6M612.9 489.6h2.6M612.9 518.4h2.6M612.9 515.3h2.6M612.9 513.1h2.6M612.9 511.4h2.6M612.9 510.1h2.6M612.9 508.9h2.6M612.9 507.9h2.6M612.9 507.0h2.6" stroke="#000" stroke-width="0.85" fill="none"/>
<line x1="615.0" y1="523.5" x2="685.0" y2="523.5" stroke="#000" stroke-width="1"/>
<line x1="623.5" y1="523.6" x2="623.5" y2="528.1" stroke="#000" stroke-width="1"/>
<line x1="634.5" y1="523.6" x2="634.5" y2="528.1" stroke="#000" stroke-width="1"/>
<line x1="645.5" y1="523.6" x2="645.5" y2="528.1" stroke="#000" stroke-width="1"/>
<line x1="656.5" y1="523.6" x2="656.5" y2="528.1" stroke="#000" stroke-width="1"/>
<line x1="668.5" y1="523.6" x2="668.5" y2="528.1" stroke="#000" stroke-width="1"/>
<line x1="679.5" y1="523.6" x2="679.5" y2="528.1" stroke="#000" stroke-width="1"/>
<rect x="618.5" y="506.5" width="9.0" height="17.0" fill="#fff" stroke="#000" stroke-width="1.0"/>
<line x1="623.0" y1="505.7" x2="623.0" y2="506.7" stroke="#000" stroke-width="0.8"/>
<line x1="621.0" y1="505.7" x2="625.0" y2="505.7" stroke="#000" stroke-width="0.8"/>
<line x1="621.0" y1="506.7" x2="625.0" y2="506.7" stroke="#000" stroke-width="0.8"/>
<circle cx="620.6" cy="505.8" r="1.0" fill="none" stroke="#222" stroke-width="0.65"/>
<circle cx="623.0" cy="506.2" r="1.0" fill="none" stroke="#222" stroke-width="0.65"/>
<circle cx="625.4" cy="506.6" r="1.0" fill="none" stroke="#222" stroke-width="0.65"/>
<rect x="629.5" y="499.5" width="9.0" height="24.0" fill="#fff" stroke="#000" stroke-width="1.0"/>
<line x1="634.3" y1="496.7" x2="634.3" y2="500.7" stroke="#000" stroke-width="0.8"/>
<line x1="632.3" y1="496.7" x2="636.3" y2="496.7" stroke="#000" stroke-width="0.8"/>
<line x1="632.3" y1="500.7" x2="636.3" y2="500.7" stroke="#000" stroke-width="0.8"/>
<circle cx="631.9" cy="497.1" r="1.0" fill="none" stroke="#222" stroke-width="0.65"/>
<circle cx="634.3" cy="498.7" r="1.0" fill="none" stroke="#222" stroke-width="0.65"/>
<circle cx="636.7" cy="500.3" r="1.0" fill="none" stroke="#222" stroke-width="0.65"/>
<rect x="641.5" y="486.5" width="9.0" height="37.0" fill="#fff" stroke="#000" stroke-width="1.0"/>
<line x1="645.6" y1="485.3" x2="645.6" y2="486.5" stroke="#000" stroke-width="0.8"/>
<line x1="643.6" y1="485.3" x2="647.6" y2="485.3" stroke="#000" stroke-width="0.8"/>
<line x1="643.6" y1="486.5" x2="647.6" y2="486.5" stroke="#000" stroke-width="0.8"/>
<circle cx="643.2" cy="485.4" r="1.0" fill="none" stroke="#222" stroke-width="0.65"/>
<circle cx="645.6" cy="485.9" r="1.0" fill="none" stroke="#222" stroke-width="0.65"/>
<circle cx="648.0" cy="486.4" r="1.0" fill="none" stroke="#222" stroke-width="0.65"/>
<rect x="652.5" y="475.5" width="9.0" height="48.0" fill="#000" stroke="#000" stroke-width="1.0"/>
<line x1="656.9" y1="474.2" x2="656.9" y2="474.8" stroke="#000" stroke-width="0.8"/>
<line x1="654.9" y1="474.2" x2="658.9" y2="474.2" stroke="#000" stroke-width="0.8"/>
<circle cx="654.5" cy="474.3" r="1.0" fill="none" stroke="#fff" stroke-width="0.65"/>
<circle cx="656.9" cy="474.8" r="1.0" fill="none" stroke="#fff" stroke-width="0.65"/>
<circle cx="659.3" cy="475.3" r="1.0" fill="none" stroke="#fff" stroke-width="0.65"/>
<rect x="663.5" y="455.5" width="9.0" height="68.0" fill="#000" stroke="#000" stroke-width="1.0"/>
<line x1="668.2" y1="454.2" x2="668.2" y2="454.8" stroke="#000" stroke-width="0.8"/>
<line x1="666.2" y1="454.2" x2="670.2" y2="454.2" stroke="#000" stroke-width="0.8"/>
<circle cx="665.8" cy="454.3" r="1.0" fill="none" stroke="#fff" stroke-width="0.65"/>
<circle cx="668.2" cy="454.8" r="1.0" fill="none" stroke="#fff" stroke-width="0.65"/>
<circle cx="670.6" cy="455.3" r="1.0" fill="none" stroke="#fff" stroke-width="0.65"/>
<rect x="674.5" y="460.5" width="10.0" height="63.0" fill="#000" stroke="#000" stroke-width="1.0"/>
<line x1="679.5" y1="459.0" x2="679.5" y2="459.8" stroke="#000" stroke-width="0.8"/>
<line x1="677.5" y1="459.0" x2="681.5" y2="459.0" stroke="#000" stroke-width="0.8"/>
<circle cx="677.1" cy="459.2" r="1.0" fill="none" stroke="#fff" stroke-width="0.65"/>
<circle cx="679.5" cy="459.8" r="1.0" fill="none" stroke="#fff" stroke-width="0.65"/>
<circle cx="681.9" cy="460.4" r="1.0" fill="none" stroke="#fff" stroke-width="0.65"/>
<text x="607.9" y="537.0" font-size="10" text-anchor="end" fill="#0a0a0a">EV</text>
<text x="607.9" y="549.3" font-size="10" text-anchor="end" fill="#0a0a0a">ZNFX1</text>
<text x="607.9" y="561.1" font-size="10" text-anchor="end" fill="#0a0a0a">RIG-I</text>
<text x="623.0" y="537.7" font-size="10" text-anchor="middle" fill="#0a0a0a">+</text>
<text x="634.3" y="550.0" font-size="10" text-anchor="middle" fill="#0a0a0a">+</text>
<text x="645.6" y="561.8" font-size="10" text-anchor="middle" fill="#0a0a0a">+</text>
<text x="656.9" y="537.7" font-size="10" text-anchor="middle" fill="#0a0a0a">+</text>
<text x="668.2" y="550.0" font-size="10" text-anchor="middle" fill="#0a0a0a">+</text>
<text x="679.5" y="561.8" font-size="10" text-anchor="middle" fill="#0a0a0a">+</text>
<line x1="655.4" y1="564.5" x2="687.0" y2="564.5" stroke="#000" stroke-width="1"/>
<text x="671.2" y="576.8" font-size="10.5" text-anchor="middle" fill="#0a0a0a">Poly(I:C)</text>
<text x="575.3" y="488.5" font-size="10" text-anchor="middle" transform="rotate(-90 575.3 488.5)" fill="#0a0a0a">Rel. mRNA of <tspan font-style="italic">Ifit1</tspan></text>
<text x="640.7" y="436.3" font-size="10.5" font-style="italic" fill="#0a0a0a">DKO</text>
<text x="645.1" y="446.5" font-size="8.1" fill="#1c1c1c" style="stroke-width:0.12px"><tspan font-style="italic">P</tspan> = 0.0001</text>
<line x1="659.6" y1="449.5" x2="670.7" y2="449.5" stroke="#000" stroke-width="1"/>
</svg>
</body></html>
